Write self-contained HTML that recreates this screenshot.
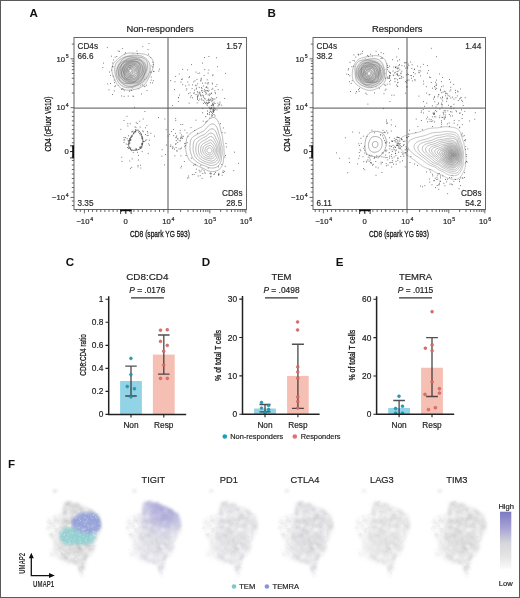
<!DOCTYPE html><html><head><meta charset="utf-8"><style>html,body{margin:0;padding:0;width:520px;height:598px;overflow:hidden;background:#fff}body{position:relative;font-family:"Liberation Sans",sans-serif}.frame{position:absolute;left:0;top:0;width:518px;height:596px;border:1px solid #5a5a5a}</style></head><body><svg width="520" height="598" viewBox="0 0 520 598" style="position:absolute;left:0;top:0;will-change:transform" font-family='"Liberation Sans", sans-serif'>
<rect width="520" height="598" fill="#fff"/>
<defs><radialGradient id="cd4g"><stop offset="0" stop-color="#fff"/><stop offset="0.12" stop-color="#f6f6f6"/><stop offset="0.3" stop-color="#bbb"/><stop offset="0.5" stop-color="#8a8a8a"/><stop offset="0.68" stop-color="#aaa"/><stop offset="0.88" stop-color="#e4e4e4"/><stop offset="1" stop-color="#fff"/></radialGradient></defs>
<text x="29.60" y="17.00" font-size="11.6" text-anchor="start" font-weight="bold" fill="#111"  >A</text>
<text x="267.50" y="17.00" font-size="11.6" text-anchor="start" font-weight="bold" fill="#111"  >B</text>
<text x="65.80" y="266.30" font-size="11.6" text-anchor="start" font-weight="bold" fill="#111"  >C</text>
<text x="201.80" y="266.00" font-size="11.6" text-anchor="start" font-weight="bold" fill="#111"  >D</text>
<text x="335.80" y="266.00" font-size="11.6" text-anchor="start" font-weight="bold" fill="#111"  >E</text>
<text x="8.00" y="468.20" font-size="11.6" text-anchor="start" font-weight="bold" fill="#111"  >F</text>
<text x="160.00" y="31.60" font-size="9.4" text-anchor="middle" font-weight="normal" fill="#222" stroke="#222" stroke-width="0.18" >Non-responders</text>
<rect x="74.0" y="37.5" width="172.5" height="172.0" fill="none" stroke="#666" stroke-width="1"/>
<line x1="168.0" y1="37.5" x2="168.0" y2="209.5" stroke="#555" stroke-width="1"/>
<line x1="74" y1="108.1" x2="246.5" y2="108.1" stroke="#555" stroke-width="1"/>
<text x="77.50" y="49.40" font-size="8.2" text-anchor="start" font-weight="normal" fill="#2a2a2a" stroke="#2a2a2a" stroke-width="0.18" >CD4s</text>
<text x="77.50" y="58.90" font-size="8.2" text-anchor="start" font-weight="normal" fill="#2a2a2a" stroke="#2a2a2a" stroke-width="0.18" >66.6</text>
<text x="242.20" y="49.00" font-size="8.2" text-anchor="end" font-weight="normal" fill="#2a2a2a" stroke="#2a2a2a" stroke-width="0.18" >1.57</text>
<text x="77.50" y="205.70" font-size="8.2" text-anchor="start" font-weight="normal" fill="#2a2a2a" stroke="#2a2a2a" stroke-width="0.18" >3.35</text>
<text x="242.50" y="196.30" font-size="8.2" text-anchor="end" font-weight="normal" fill="#2a2a2a" stroke="#2a2a2a" stroke-width="0.18" >CD8s</text>
<text x="242.20" y="206.20" font-size="8.2" text-anchor="end" font-weight="normal" fill="#2a2a2a" stroke="#2a2a2a" stroke-width="0.18" >28.5</text>
<text x="68.70" y="61.50" font-size="7.7" text-anchor="end" font-weight="normal" fill="#222" stroke="#222" stroke-width="0.18" >10<tspan font-size="5.2" dx="0.7" dy="-3.2">5</tspan></text>
<text x="68.70" y="110.40" font-size="7.7" text-anchor="end" font-weight="normal" fill="#222" stroke="#222" stroke-width="0.18" >10<tspan font-size="5.2" dx="0.7" dy="-3.2">4</tspan></text>
<text x="68.70" y="154.20" font-size="7.7" text-anchor="end" font-weight="normal" fill="#222" stroke="#222" stroke-width="0.18" >0</text>
<text x="68.70" y="200.10" font-size="7.7" text-anchor="end" font-weight="normal" fill="#222" stroke="#222" stroke-width="0.18" >−10<tspan font-size="5.2" dx="0.7" dy="-3.2">4</tspan></text>
<path d="M70.5,58.8H74 M70.5,107.7H74 M70.5,151.5H74 M70.5,197.4H74 M71.8,92.98H74 M71.8,84.37H74 M71.8,78.26H74 M71.8,73.52H74 M71.8,69.65H74 M71.8,66.37H74 M71.8,63.54H74 M71.8,61.04H74 M71.8,44.08H74 M71.8,192.00H74 M71.8,187.50H74 M71.8,183.00H74 M71.8,178.50H74 M71.8,174.00H74 M71.8,169.50H74 M71.8,165.00H74 M71.8,160.50H74 M71.8,156.00H74 M71.8,147.12H74 M71.8,142.74H74 M71.8,138.36H74 M71.8,133.98H74 M71.8,129.60H74 M71.8,125.22H74 M71.8,120.84H74 M71.8,116.46H74 M71.8,112.08H74 M71.8,201.00H74 M71.8,205.50H74" stroke="#444" stroke-width="0.8" fill="none"/>
<rect x="72.2" y="145.5" width="1.8" height="12.6" fill="#111"/>
<path d="M70,145.8H74M70,151.6H74M70,157.9H74" stroke="#111" stroke-width="0.8"/>
<text x="84.70" y="223.80" font-size="7.7" text-anchor="middle" font-weight="normal" fill="#222" stroke="#222" stroke-width="0.18" >−10<tspan font-size="5.2" dx="0.7" dy="-3.2">4</tspan></text>
<text x="125.60" y="223.80" font-size="7.7" text-anchor="middle" font-weight="normal" fill="#222" stroke="#222" stroke-width="0.18" >0</text>
<text x="168.30" y="223.80" font-size="7.7" text-anchor="middle" font-weight="normal" fill="#222" stroke="#222" stroke-width="0.18" >10<tspan font-size="5.2" dx="0.7" dy="-3.2">4</tspan></text>
<text x="210.10" y="223.80" font-size="7.7" text-anchor="middle" font-weight="normal" fill="#222" stroke="#222" stroke-width="0.18" >10<tspan font-size="5.2" dx="0.7" dy="-3.2">5</tspan></text>
<text x="246.10" y="223.80" font-size="7.7" text-anchor="middle" font-weight="normal" fill="#222" stroke="#222" stroke-width="0.18" >10<tspan font-size="5.2" dx="0.7" dy="-3.2">6</tspan></text>
<path d="M84.40,209.5V213.3 M125.40,209.5V213.3 M168.00,209.5V213.3 M209.80,209.5V213.3 M245.80,209.5V213.3 M88.50,209.5V212.0 M92.60,209.5V212.0 M96.70,209.5V212.0 M100.80,209.5V212.0 M104.90,209.5V212.0 M109.00,209.5V212.0 M113.10,209.5V212.0 M117.20,209.5V212.0 M121.30,209.5V212.0 M129.66,209.5V212.0 M133.92,209.5V212.0 M138.18,209.5V212.0 M142.44,209.5V212.0 M146.70,209.5V212.0 M150.96,209.5V212.0 M155.22,209.5V212.0 M159.48,209.5V212.0 M163.74,209.5V212.0 M80.30,209.5V212.0 M76.20,209.5V212.0 M180.58,209.5V212.0 M220.64,209.5V212.0 M187.94,209.5V212.0 M226.98,209.5V212.0 M193.17,209.5V212.0 M231.47,209.5V212.0 M197.22,209.5V212.0 M234.96,209.5V212.0 M200.53,209.5V212.0 M237.81,209.5V212.0 M203.33,209.5V212.0 M240.22,209.5V212.0 M205.75,209.5V212.0 M242.31,209.5V212.0 M207.89,209.5V212.0 M244.15,209.5V212.0" stroke="#444" stroke-width="0.8" fill="none"/>
<rect x="120.3" y="209.5" width="11.2" height="1.7" fill="#111"/>
<path d="M120.6,209.5V214.0M125.9,209.5V214.0M131.1,209.5V214.0" stroke="#111" stroke-width="0.8"/>
<text x="0" y="0" font-size="8.3" text-anchor="middle" fill="#111" stroke="#111" stroke-width="0.25" transform="translate(160,237.4) scale(0.8,1)">CD8 (spark YG 593)</text>
<text x="0" y="0" font-size="8.3" text-anchor="middle" fill="#111" stroke="#111" stroke-width="0.25" transform="translate(50.6,124) rotate(-90) scale(0.795,1)">CD4 (cFluor V610)</text>
<path d="M146.6,77.9h0.01M107.7,84.0h0.01M107.3,47.6h0.01M121.7,96.0h0.01M138.8,88.8h0.01M123.7,89.1h0.01M137.0,51.1h0.01M131.7,90.3h0.01M102.8,67.5h0.01M110.5,83.6h0.01M140.4,85.2h0.01M151.2,77.1h0.01M132.7,53.8h0.01M124.7,54.3h0.01M149.0,43.6h0.01M110.6,75.4h0.01M151.2,80.1h0.01M115.3,85.7h0.01M153.3,80.7h0.01M109.0,89.9h0.01M144.4,79.4h0.01M103.4,63.1h0.01M142.8,46.6h0.01M112.6,94.5h0.01M132.7,88.0h0.01M118.7,85.3h0.01M151.5,65.8h0.01M111.7,70.1h0.01M150.7,57.6h0.01M148.6,54.2h0.01" stroke="#444" stroke-width="0.96" stroke-linecap="round" opacity="0.9"/>
<path d="M190.1,92.9h0.01M209.3,95.4h0.01M201.5,87.6h0.01M199.5,92.3h0.01M196.2,89.1h0.01M203.7,86.0h0.01M205.6,92.2h0.01M218.1,89.6h0.01M193.7,81.9h0.01M197.9,96.2h0.01M194.6,90.2h0.01M216.4,57.8h0.01M186.8,88.7h0.01M202.0,88.6h0.01M193.7,93.2h0.01M200.8,80.3h0.01M222.3,89.9h0.01M192.5,84.9h0.01M195.7,85.3h0.01M170.7,80.6h0.01M208.1,73.1h0.01M197.3,96.5h0.01M206.6,102.4h0.01M181.0,82.1h0.01M194.6,92.9h0.01M208.9,56.5h0.01M208.9,70.1h0.01M204.8,69.6h0.01M199.8,99.1h0.01M196.5,88.1h0.01M206.0,87.6h0.01M197.1,102.9h0.01M208.5,82.8h0.01M225.5,73.4h0.01M207.1,83.1h0.01M199.3,93.8h0.01M200.2,93.0h0.01M182.7,69.4h0.01M204.1,75.4h0.01M187.7,69.8h0.01M210.7,94.2h0.01M212.7,75.7h0.01M198.0,73.5h0.01M205.7,103.5h0.01M189.1,103.2h0.01M207.9,84.0h0.01M178.3,101.5h0.01M197.0,79.4h0.01M202.0,90.5h0.01M213.0,74.8h0.01M209.4,102.4h0.01M212.5,84.0h0.01M190.6,97.2h0.01M199.2,87.4h0.01M212.2,83.1h0.01M175.0,81.7h0.01M179.5,95.0h0.01M201.2,79.3h0.01M197.9,95.2h0.01M198.8,100.6h0.01M197.4,97.4h0.01M212.9,103.7h0.01M191.3,95.7h0.01M179.2,74.1h0.01M178.4,97.8h0.01M185.7,85.9h0.01M196.1,85.7h0.01M192.1,88.6h0.01M215.9,86.5h0.01M203.3,97.0h0.01M196.0,72.1h0.01M192.4,97.8h0.01M181.5,79.4h0.01M208.1,94.7h0.01M198.1,94.9h0.01M199.7,73.0h0.01M182.4,79.0h0.01M207.2,79.8h0.01M189.0,77.5h0.01M182.7,84.7h0.01M186.2,90.0h0.01M174.4,89.6h0.01M191.6,64.6h0.01M205.2,83.0h0.01M175.7,76.4h0.01M200.9,81.0h0.01M205.8,94.2h0.01M204.7,89.6h0.01M211.3,93.3h0.01M202.5,63.1h0.01M207.0,100.4h0.01M195.0,80.8h0.01M217.4,66.7h0.01M202.7,112.7h0.01M188.7,93.6h0.01M216.9,84.7h0.01M203.6,95.9h0.01M188.9,85.0h0.01M200.9,95.1h0.01M197.7,83.9h0.01M187.8,82.1h0.01M206.9,87.1h0.01M189.5,76.7h0.01M224.7,98.5h0.01M204.4,57.5h0.01M204.2,91.3h0.01M214.8,90.7h0.01M197.3,91.7h0.01M178.6,97.4h0.01M201.2,78.3h0.01" stroke="#444" stroke-width="0.96" stroke-linecap="round" opacity="0.9"/>
<path d="M217.0,109.9h0.01M200.6,95.0h0.01M210.7,100.1h0.01M206.6,93.2h0.01M221.7,105.2h0.01M201.8,90.9h0.01M219.2,104.9h0.01M219.9,103.9h0.01M203.8,100.6h0.01M196.0,94.5h0.01M208.6,102.1h0.01M204.6,98.3h0.01M211.8,101.3h0.01M212.8,100.3h0.01M207.1,103.7h0.01M209.3,94.0h0.01M205.2,99.0h0.01M208.3,99.9h0.01M209.0,100.1h0.01M208.2,91.4h0.01M211.5,105.3h0.01M211.6,97.9h0.01M211.7,93.2h0.01M197.6,99.4h0.01M203.4,103.4h0.01M202.5,83.2h0.01M202.8,108.5h0.01M206.7,90.8h0.01M204.4,102.1h0.01M212.0,100.1h0.01M217.9,103.2h0.01M208.9,102.6h0.01M218.9,104.8h0.01M215.1,92.5h0.01M208.1,103.4h0.01M207.2,105.4h0.01M212.6,104.4h0.01M207.7,114.3h0.01M216.4,97.7h0.01M209.5,114.6h0.01M206.9,104.2h0.01M214.9,99.0h0.01M202.0,100.1h0.01M211.2,105.8h0.01M213.7,99.1h0.01M214.1,102.2h0.01M210.2,99.3h0.01M207.5,103.1h0.01M202.7,95.2h0.01M209.0,90.2h0.01M206.4,86.9h0.01M204.9,102.4h0.01M212.4,98.7h0.01M207.6,90.5h0.01M220.0,102.1h0.01M215.6,93.7h0.01M207.9,88.1h0.01M213.7,104.6h0.01M197.6,98.7h0.01M212.8,88.4h0.01M198.0,92.6h0.01M205.2,90.6h0.01M209.2,100.5h0.01M212.8,103.2h0.01M218.0,106.0h0.01M201.1,96.0h0.01M202.6,92.5h0.01M208.5,99.0h0.01M211.9,89.5h0.01M201.6,98.9h0.01" stroke="#444" stroke-width="0.96" stroke-linecap="round" opacity="0.9"/>
<path d="M135.5,130.9h0.01M141.6,144.3h0.01M135.3,131.9h0.01M134.6,107.3h0.01M128.1,140.4h0.01M124.0,142.4h0.01M137.2,123.5h0.01M139.7,147.3h0.01M135.7,129.8h0.01M141.9,143.5h0.01M130.2,123.7h0.01M133.0,131.1h0.01M127.1,138.6h0.01M140.2,135.0h0.01M154.6,136.1h0.01M144.8,141.5h0.01M144.9,111.5h0.01M130.0,143.0h0.01M140.8,168.0h0.01M138.6,155.4h0.01M142.1,151.4h0.01M140.1,127.1h0.01M145.5,127.8h0.01M138.0,165.4h0.01M145.3,140.3h0.01M129.5,143.1h0.01M140.7,148.5h0.01M129.8,161.0h0.01M149.3,140.2h0.01M147.3,131.5h0.01M141.4,134.2h0.01M130.4,148.6h0.01M146.7,139.9h0.01M130.6,149.7h0.01M148.2,153.6h0.01M131.8,167.4h0.01M136.0,149.4h0.01M130.8,139.5h0.01M122.0,161.4h0.01M146.9,125.4h0.01M124.0,120.5h0.01M145.4,134.5h0.01M135.0,126.9h0.01M136.2,122.7h0.01M128.8,141.9h0.01M132.1,158.8h0.01M142.1,138.6h0.01M132.2,131.6h0.01M128.5,135.8h0.01M140.6,165.2h0.01M130.4,140.2h0.01M158.4,117.6h0.01M136.4,149.3h0.01M120.9,129.4h0.01M136.0,127.6h0.01M127.6,147.5h0.01M130.8,147.6h0.01M142.0,143.7h0.01M124.7,139.6h0.01M139.6,133.6h0.01M135.2,149.0h0.01M129.0,147.7h0.01M150.9,133.3h0.01M148.3,143.8h0.01M143.2,131.7h0.01M121.8,157.3h0.01M143.2,119.0h0.01M142.0,138.4h0.01M124.0,137.5h0.01M147.9,133.1h0.01M127.8,123.7h0.01M126.2,144.0h0.01M149.5,145.2h0.01M138.0,166.8h0.01M131.8,131.9h0.01M140.2,146.6h0.01M127.9,126.0h0.01M125.5,137.6h0.01M133.2,152.6h0.01M147.1,135.6h0.01M142.8,130.9h0.01M136.6,149.0h0.01M148.1,135.4h0.01M124.0,140.2h0.01M127.0,116.3h0.01M131.6,150.7h0.01M133.8,132.7h0.01M139.8,121.2h0.01M130.6,139.8h0.01M142.8,138.0h0.01M138.5,132.1h0.01M138.4,160.0h0.01M130.5,168.4h0.01M130.8,140.2h0.01M137.4,152.3h0.01" stroke="#444" stroke-width="0.96" stroke-linecap="round" opacity="0.9"/>
<path d="M164.9,119.0h0.01M181.5,148.0h0.01M181.6,166.3h0.01M177.8,142.5h0.01M184.4,143.7h0.01M191.0,127.6h0.01M172.6,105.6h0.01M183.3,136.3h0.01M184.3,161.5h0.01M175.9,137.5h0.01M171.5,131.6h0.01M170.3,146.4h0.01M176.3,140.7h0.01M174.4,149.1h0.01M180.4,138.6h0.01M182.0,138.5h0.01M165.6,154.6h0.01M180.2,130.4h0.01M185.7,143.4h0.01M161.9,156.1h0.01M179.0,148.9h0.01M177.8,138.5h0.01M162.1,149.7h0.01M176.3,137.1h0.01M179.2,140.8h0.01M182.1,136.3h0.01M175.7,118.6h0.01M172.2,146.8h0.01M188.0,136.4h0.01M174.9,155.8h0.01M173.1,147.3h0.01M187.0,132.9h0.01M177.9,139.2h0.01M177.0,151.3h0.01M197.5,133.3h0.01M170.8,145.0h0.01M166.5,145.0h0.01M181.1,137.2h0.01M180.8,124.5h0.01M182.8,124.6h0.01M169.7,134.4h0.01M172.4,148.6h0.01M176.7,136.0h0.01M180.9,155.8h0.01M176.1,143.7h0.01M187.2,142.7h0.01M164.4,164.9h0.01M195.9,120.2h0.01M175.6,144.2h0.01M184.7,146.7h0.01M173.6,129.5h0.01M176.9,150.3h0.01M166.2,129.7h0.01M175.8,120.6h0.01M173.7,135.6h0.01M180.1,133.0h0.01M168.1,136.1h0.01M175.6,133.4h0.01M176.1,147.5h0.01" stroke="#444" stroke-width="0.96" stroke-linecap="round" opacity="0.9"/>
<path d="M215.0,116.0h0.01M210.0,108.5h0.01M205.8,116.6h0.01M210.2,109.9h0.01M213.3,105.2h0.01M213.2,109.9h0.01M207.4,111.0h0.01M215.0,103.5h0.01M214.0,110.7h0.01M213.2,111.5h0.01M215.3,109.2h0.01M214.2,108.6h0.01M213.8,107.2h0.01M211.7,116.1h0.01M213.1,109.4h0.01M209.1,107.2h0.01M212.5,113.3h0.01M213.1,111.8h0.01M211.9,114.7h0.01M211.0,108.1h0.01M214.2,110.2h0.01M211.3,108.0h0.01M211.4,112.2h0.01M212.9,105.8h0.01M213.1,110.6h0.01M209.5,112.7h0.01M211.3,108.8h0.01M214.0,114.6h0.01M210.3,111.5h0.01M209.8,118.1h0.01" stroke="#222" stroke-width="0.96" stroke-linecap="round" opacity="0.9"/>
<path d="M202.1,178.4h0.01M200.2,175.7h0.01M234.6,152.2h0.01M202.8,173.5h0.01M233.8,170.6h0.01M188.3,176.0h0.01M187.3,178.1h0.01M201.1,171.0h0.01M223.1,170.8h0.01M191.3,158.1h0.01M222.2,175.2h0.01M198.2,176.0h0.01M214.0,174.5h0.01M180.9,167.9h0.01M218.8,175.1h0.01M210.0,173.4h0.01M238.6,163.3h0.01M204.0,170.3h0.01M218.6,166.9h0.01M221.8,164.5h0.01M188.8,177.7h0.01M210.4,176.9h0.01M196.3,169.2h0.01M214.5,173.7h0.01M222.9,172.3h0.01M208.2,168.1h0.01M195.7,164.8h0.01M200.8,165.7h0.01M194.1,174.5h0.01M192.3,174.6h0.01M195.8,172.5h0.01M224.5,171.4h0.01M199.2,170.3h0.01" stroke="#444" stroke-width="0.96" stroke-linecap="round" opacity="0.9"/>
<path d="M117.70,58.60 C119.28,57.18 121.53,55.27 124.00,54.30 C126.47,53.33 129.85,53.05 132.50,52.80 C135.15,52.55 137.43,52.37 139.90,52.80 C142.37,53.23 145.37,54.27 147.30,55.40 C149.23,56.53 150.62,57.83 151.50,59.60 C152.38,61.37 152.60,63.88 152.60,66.00 C152.60,68.12 152.20,70.18 151.50,72.30 C150.80,74.42 149.63,76.75 148.40,78.70 C147.17,80.65 145.70,82.33 144.10,84.00 C142.50,85.67 140.73,87.57 138.80,88.70 C136.87,89.83 134.60,90.53 132.50,90.80 C130.40,91.07 128.32,90.92 126.20,90.30 C124.08,89.68 121.57,88.52 119.80,87.10 C118.03,85.68 116.75,83.73 115.60,81.80 C114.45,79.87 113.35,77.78 112.90,75.50 C112.45,73.22 112.63,70.22 112.90,68.10 C113.17,65.98 113.70,64.38 114.50,62.80 C115.30,61.22 116.12,60.02 117.70,58.60Z" fill="url(#cd4g)" opacity="0.5"/>
<g fill="none" stroke-width="0.5" opacity="1" stroke-linejoin="round"><path d="M111.87,70.70L111.82,69.97L111.81,69.24L111.85,68.50L111.93,67.78L112.07,67.05L112.26,66.34L112.49,65.65L112.77,64.97L113.10,64.32L113.47,63.69L113.87,63.08L114.30,62.50L114.76,61.94L115.24,61.41L115.74,60.90L116.24,60.41L116.75,59.94L117.27,59.49L117.79,59.04L118.30,58.60L118.82,58.18L119.34,57.75L119.86,57.34L120.39,56.92L120.92,56.52L121.46,56.11L122.01,55.72L122.58,55.35L123.15,54.98L123.75,54.64L124.36,54.32L124.98,54.03L125.63,53.77L126.28,53.55L126.95,53.36L127.63,53.20L128.32,53.09L129.01,53.00L129.70,52.95L130.40,52.93L131.10,52.94L131.80,52.96L132.49,53.01L133.19,53.06L133.90,53.13L134.60,53.20L135.32,53.26L136.04,53.33L136.78,53.40L137.54,53.46L138.32,53.52L139.12,53.59L139.95,53.66L140.80,53.73L141.67,53.83L142.57,53.95L143.49,54.10L144.42,54.29L145.36,54.52L146.29,54.81L147.21,55.16L148.11,55.57L148.97,56.06L149.79,56.61L150.54,57.24L151.23,57.94L151.83,58.70L152.35,59.51L152.78,60.38L153.11,61.29L153.34,62.24L153.48,63.20L153.54,64.17L153.51,65.15L153.40,66.13L153.23,67.08L153.00,68.03L152.73,68.94L152.42,69.83L152.09,70.70L151.74,71.54L151.38,72.35L151.02,73.14L150.66,73.91L150.30,74.66L149.95,75.39L149.61,76.12L149.26,76.83L148.93,77.53L148.59,78.23L148.24,78.93L147.89,79.61L147.53,80.29L147.15,80.97L146.76,81.63L146.34,82.28L145.89,82.91L145.42,83.53L144.92,84.12L144.39,84.69L143.83,85.23L143.25,85.74L142.64,86.22L142.00,86.67L141.34,87.08L140.67,87.46L139.98,87.80L139.27,88.12L138.56,88.40L137.84,88.66L137.11,88.89L136.38,89.09L135.64,89.28L134.90,89.44L134.16,89.59L133.41,89.73L132.67,89.85L131.92,89.95L131.16,90.04L130.40,90.11L129.64,90.16L128.87,90.18L128.09,90.18L127.32,90.15L126.54,90.08L125.77,89.98L125.00,89.83L124.25,89.64L123.50,89.41L122.77,89.12L122.06,88.80L121.37,88.42L120.71,88.00L120.08,87.54L119.48,87.04L118.92,86.50L118.39,85.94L117.89,85.34L117.43,84.73L117.00,84.10L116.61,83.45L116.23,82.80L115.89,82.14L115.56,81.48L115.25,80.82L114.96,80.16L114.67,79.51L114.39,78.86L114.13,78.20L113.86,77.55L113.60,76.90L113.35,76.24L113.10,75.58L112.87,74.91L112.65,74.23L112.44,73.54L112.26,72.85L112.10,72.14L111.97,71.42Z" stroke="#787878"/><path d="M114.76,70.70L114.72,70.08L114.70,69.46L114.70,68.84L114.73,68.22L114.79,67.60L114.89,66.98L115.01,66.36L115.18,65.75L115.37,65.16L115.61,64.57L115.87,64.00L116.18,63.45L116.51,62.92L116.87,62.41L117.26,61.92L117.68,61.46L118.12,61.02L118.57,60.60L119.04,60.20L119.53,59.83L120.02,59.48L120.53,59.14L121.04,58.83L121.56,58.53L122.08,58.25L122.61,57.99L123.14,57.74L123.68,57.50L124.21,57.28L124.75,57.07L125.30,56.87L125.85,56.68L126.40,56.51L126.95,56.34L127.51,56.19L128.08,56.05L128.65,55.93L129.23,55.81L129.81,55.71L130.40,55.61L131.00,55.53L131.60,55.46L132.21,55.40L132.83,55.35L133.46,55.31L134.10,55.29L134.75,55.27L135.41,55.27L136.09,55.28L136.77,55.32L137.47,55.37L138.17,55.44L138.89,55.54L139.61,55.67L140.34,55.82L141.07,56.02L141.80,56.24L142.52,56.51L143.23,56.82L143.93,57.17L144.62,57.56L145.27,58.00L145.91,58.47L146.51,59.00L147.08,59.56L147.60,60.16L148.09,60.79L148.53,61.46L148.92,62.16L149.25,62.89L149.54,63.64L149.78,64.40L149.96,65.18L150.09,65.97L150.18,66.77L150.21,67.56L150.19,68.36L150.14,69.15L150.03,69.93L149.89,70.70L149.71,71.46L149.50,72.20L149.26,72.93L148.99,73.64L148.69,74.34L148.36,75.01L148.01,75.67L147.64,76.30L147.26,76.92L146.85,77.51L146.43,78.09L145.99,78.64L145.53,79.18L145.07,79.69L144.59,80.18L144.10,80.66L143.61,81.11L143.10,81.55L142.59,81.97L142.07,82.37L141.54,82.76L141.01,83.13L140.48,83.48L139.94,83.83L139.39,84.16L138.84,84.48L138.29,84.78L137.73,85.08L137.16,85.37L136.59,85.64L136.01,85.90L135.42,86.16L134.83,86.39L134.22,86.62L133.61,86.83L132.98,87.02L132.35,87.19L131.71,87.34L131.06,87.47L130.40,87.58L129.73,87.65L129.06,87.70L128.39,87.71L127.71,87.69L127.03,87.64L126.36,87.55L125.69,87.42L125.02,87.25L124.37,87.04L123.73,86.80L123.11,86.51L122.50,86.20L121.92,85.84L121.36,85.45L120.83,85.03L120.32,84.58L119.83,84.10L119.38,83.60L118.96,83.08L118.56,82.54L118.20,81.98L117.86,81.41L117.55,80.83L117.26,80.25L117.00,79.66L116.76,79.06L116.53,78.47L116.33,77.87L116.14,77.28L115.96,76.68L115.79,76.09L115.64,75.50L115.49,74.90L115.35,74.31L115.23,73.72L115.11,73.12L115.00,72.52L114.91,71.92L114.83,71.31Z" stroke="#747474"/><path d="M116.51,70.70L116.60,70.16L116.73,69.62L116.87,69.10L117.04,68.58L117.23,68.08L117.43,67.59L117.65,67.10L117.87,66.63L118.11,66.17L118.35,65.71L118.60,65.26L118.85,64.82L119.11,64.38L119.36,63.94L119.62,63.50L119.88,63.06L120.15,62.62L120.42,62.17L120.70,61.73L120.99,61.29L121.29,60.85L121.61,60.41L121.95,59.98L122.31,59.57L122.69,59.16L123.09,58.78L123.52,58.41L123.97,58.07L124.44,57.77L124.93,57.49L125.44,57.25L125.96,57.05L126.50,56.88L127.05,56.75L127.61,56.66L128.17,56.60L128.73,56.56L129.29,56.56L129.85,56.58L130.40,56.61L130.95,56.66L131.50,56.72L132.05,56.77L132.60,56.83L133.15,56.89L133.71,56.93L134.27,56.97L134.85,57.00L135.44,57.03L136.06,57.05L136.69,57.07L137.34,57.09L138.01,57.11L138.70,57.16L139.41,57.22L140.13,57.31L140.86,57.43L141.59,57.60L142.31,57.81L143.02,58.08L143.71,58.40L144.37,58.77L144.98,59.21L145.54,59.70L146.04,60.25L146.48,60.84L146.85,61.49L147.15,62.17L147.38,62.87L147.53,63.60L147.61,64.35L147.63,65.10L147.59,65.85L147.50,66.59L147.37,67.33L147.19,68.04L146.99,68.74L146.76,69.41L146.52,70.07L146.27,70.70L146.02,71.31L145.76,71.91L145.51,72.49L145.27,73.05L145.03,73.61L144.79,74.16L144.56,74.69L144.33,75.23L144.11,75.76L143.88,76.28L143.65,76.81L143.41,77.33L143.16,77.85L142.90,78.36L142.63,78.87L142.34,79.37L142.03,79.87L141.70,80.35L141.36,80.83L140.99,81.29L140.61,81.74L140.20,82.18L139.78,82.59L139.33,82.99L138.87,83.38L138.39,83.74L137.90,84.09L137.39,84.41L136.86,84.72L136.32,85.00L135.77,85.27L135.21,85.51L134.64,85.72L134.05,85.92L133.46,86.09L132.86,86.23L132.25,86.35L131.64,86.43L131.02,86.49L130.40,86.52L129.78,86.51L129.16,86.47L128.54,86.40L127.93,86.30L127.32,86.16L126.73,86.00L126.14,85.80L125.57,85.57L125.01,85.31L124.47,85.03L123.94,84.72L123.43,84.39L122.93,84.04L122.45,83.67L122.00,83.28L121.55,82.88L121.13,82.46L120.72,82.03L120.33,81.60L119.95,81.15L119.59,80.69L119.25,80.23L118.92,79.75L118.60,79.27L118.31,78.78L118.02,78.28L117.76,77.78L117.52,77.26L117.29,76.74L117.09,76.21L116.91,75.68L116.76,75.13L116.63,74.58L116.53,74.03L116.45,73.47L116.40,72.92L116.39,72.36L116.40,71.80L116.44,71.25Z" stroke="#707070"/><path d="M118.00,70.70L117.95,70.21L117.92,69.72L117.91,69.22L117.91,68.72L117.94,68.22L118.00,67.72L118.10,67.23L118.22,66.74L118.38,66.27L118.57,65.80L118.80,65.35L119.05,64.92L119.34,64.51L119.65,64.12L119.99,63.75L120.35,63.40L120.72,63.07L121.10,62.76L121.49,62.47L121.89,62.19L122.29,61.93L122.69,61.67L123.09,61.43L123.49,61.18L123.88,60.95L124.28,60.71L124.67,60.48L125.07,60.24L125.47,60.01L125.87,59.77L126.28,59.55L126.70,59.32L127.13,59.10L127.57,58.90L128.01,58.70L128.47,58.52L128.94,58.36L129.42,58.22L129.90,58.09L130.40,57.99L130.90,57.92L131.41,57.86L131.92,57.83L132.44,57.82L132.96,57.83L133.48,57.86L134.01,57.91L134.54,57.97L135.06,58.06L135.59,58.16L136.13,58.27L136.66,58.41L137.20,58.55L137.74,58.71L138.29,58.89L138.84,59.09L139.38,59.31L139.93,59.54L140.48,59.80L141.02,60.08L141.55,60.39L142.07,60.73L142.58,61.10L143.06,61.50L143.53,61.93L143.96,62.39L144.35,62.89L144.71,63.41L145.02,63.96L145.29,64.53L145.51,65.13L145.68,65.74L145.80,66.36L145.87,66.99L145.90,67.62L145.88,68.25L145.83,68.87L145.73,69.49L145.61,70.10L145.46,70.70L145.30,71.29L145.11,71.86L144.91,72.42L144.70,72.97L144.49,73.50L144.27,74.03L144.04,74.55L143.81,75.06L143.58,75.56L143.34,76.06L143.10,76.55L142.85,77.04L142.58,77.52L142.31,78.00L142.02,78.46L141.71,78.92L141.38,79.36L141.04,79.79L140.67,80.19L140.28,80.58L139.87,80.94L139.44,81.28L138.98,81.59L138.51,81.87L138.03,82.12L137.53,82.33L137.02,82.51L136.50,82.67L135.97,82.79L135.45,82.89L134.93,82.97L134.40,83.02L133.89,83.06L133.37,83.09L132.87,83.11L132.37,83.13L131.87,83.15L131.38,83.17L130.89,83.20L130.40,83.23L129.91,83.27L129.41,83.32L128.90,83.37L128.39,83.41L127.86,83.45L127.33,83.49L126.79,83.51L126.24,83.51L125.68,83.48L125.13,83.43L124.57,83.34L124.02,83.22L123.48,83.05L122.96,82.85L122.45,82.60L121.97,82.31L121.51,81.98L121.09,81.60L120.70,81.20L120.34,80.76L120.03,80.29L119.75,79.80L119.51,79.29L119.30,78.76L119.13,78.23L118.98,77.70L118.86,77.16L118.76,76.63L118.67,76.11L118.60,75.59L118.54,75.08L118.48,74.57L118.42,74.08L118.36,73.59L118.30,73.11L118.24,72.63L118.17,72.15L118.11,71.67L118.05,71.19Z" stroke="#6c6c6c"/><path d="M118.90,70.70L118.97,70.25L119.05,69.81L119.15,69.37L119.26,68.94L119.39,68.51L119.54,68.09L119.70,67.68L119.87,67.28L120.05,66.88L120.25,66.50L120.46,66.12L120.68,65.75L120.90,65.38L121.14,65.03L121.39,64.68L121.65,64.34L121.91,64.01L122.19,63.69L122.48,63.38L122.77,63.07L123.08,62.78L123.40,62.50L123.72,62.23L124.06,61.97L124.41,61.73L124.76,61.50L125.13,61.29L125.50,61.08L125.88,60.90L126.27,60.73L126.67,60.58L127.07,60.44L127.47,60.32L127.88,60.21L128.29,60.11L128.71,60.02L129.13,59.95L129.55,59.89L129.97,59.83L130.40,59.78L130.83,59.73L131.27,59.69L131.71,59.66L132.15,59.62L132.61,59.59L133.07,59.56L133.55,59.54L134.03,59.52L134.53,59.51L135.03,59.51L135.55,59.52L136.08,59.55L136.62,59.60L137.16,59.67L137.71,59.76L138.26,59.89L138.80,60.04L139.34,60.23L139.87,60.46L140.38,60.72L140.88,61.01L141.35,61.35L141.79,61.72L142.20,62.12L142.58,62.56L142.92,63.03L143.22,63.52L143.48,64.04L143.70,64.57L143.88,65.12L144.02,65.68L144.12,66.24L144.18,66.81L144.21,67.38L144.21,67.95L144.17,68.52L144.11,69.08L144.02,69.63L143.91,70.17L143.78,70.70L143.63,71.22L143.46,71.73L143.28,72.22L143.08,72.71L142.87,73.18L142.65,73.64L142.41,74.09L142.17,74.52L141.91,74.95L141.65,75.36L141.38,75.76L141.10,76.15L140.81,76.53L140.52,76.90L140.22,77.26L139.91,77.61L139.60,77.95L139.28,78.28L138.96,78.61L138.63,78.93L138.29,79.24L137.95,79.54L137.60,79.84L137.25,80.13L136.89,80.41L136.52,80.69L136.14,80.95L135.76,81.21L135.36,81.46L134.96,81.70L134.54,81.92L134.11,82.13L133.68,82.32L133.23,82.50L132.78,82.65L132.31,82.78L131.84,82.88L131.37,82.97L130.88,83.02L130.40,83.05L129.91,83.05L129.43,83.02L128.95,82.97L128.47,82.89L128.00,82.79L127.53,82.66L127.07,82.52L126.62,82.35L126.17,82.16L125.74,81.95L125.31,81.73L124.90,81.49L124.50,81.24L124.10,80.98L123.72,80.70L123.34,80.42L122.97,80.12L122.62,79.81L122.28,79.49L121.94,79.16L121.62,78.81L121.31,78.46L121.02,78.10L120.74,77.72L120.47,77.33L120.23,76.93L120.00,76.53L119.79,76.11L119.60,75.68L119.42,75.25L119.27,74.80L119.15,74.36L119.04,73.90L118.96,73.45L118.89,72.99L118.85,72.53L118.84,72.07L118.84,71.61L118.86,71.15Z" stroke="#696969"/><path d="M120.79,70.70L120.77,70.32L120.76,69.94L120.74,69.56L120.74,69.17L120.75,68.78L120.76,68.39L120.79,67.99L120.84,67.59L120.90,67.20L120.99,66.80L121.10,66.41L121.23,66.03L121.38,65.65L121.56,65.28L121.76,64.93L121.98,64.58L122.23,64.26L122.49,63.95L122.78,63.66L123.08,63.38L123.40,63.13L123.73,62.89L124.07,62.67L124.42,62.47L124.78,62.28L125.14,62.11L125.50,61.96L125.87,61.81L126.24,61.68L126.62,61.57L126.99,61.46L127.36,61.36L127.74,61.27L128.12,61.18L128.49,61.11L128.87,61.04L129.25,60.98L129.63,60.93L130.01,60.88L130.40,60.84L130.79,60.81L131.18,60.78L131.58,60.77L131.97,60.76L132.38,60.76L132.78,60.77L133.20,60.79L133.61,60.81L134.03,60.86L134.46,60.91L134.88,60.97L135.31,61.06L135.75,61.15L136.18,61.26L136.62,61.39L137.06,61.54L137.49,61.71L137.92,61.89L138.35,62.10L138.77,62.33L139.18,62.59L139.58,62.86L139.96,63.16L140.33,63.48L140.68,63.83L141.01,64.20L141.31,64.59L141.58,65.00L141.83,65.43L142.04,65.88L142.21,66.34L142.36,66.82L142.46,67.30L142.53,67.79L142.56,68.28L142.55,68.78L142.51,69.27L142.44,69.75L142.34,70.23L142.21,70.70L142.06,71.16L141.89,71.60L141.71,72.04L141.51,72.46L141.30,72.87L141.08,73.26L140.86,73.65L140.63,74.02L140.41,74.39L140.18,74.75L139.96,75.11L139.73,75.46L139.51,75.80L139.30,76.15L139.08,76.50L138.86,76.84L138.64,77.19L138.41,77.54L138.18,77.89L137.94,78.24L137.68,78.58L137.42,78.92L137.14,79.26L136.85,79.58L136.54,79.90L136.22,80.20L135.88,80.48L135.52,80.74L135.14,80.98L134.75,81.20L134.34,81.38L133.92,81.54L133.49,81.67L133.06,81.77L132.62,81.84L132.17,81.88L131.73,81.90L131.28,81.89L130.84,81.85L130.40,81.79L129.97,81.71L129.54,81.62L129.12,81.51L128.71,81.39L128.30,81.26L127.90,81.12L127.50,80.97L127.11,80.82L126.73,80.66L126.35,80.49L125.97,80.31L125.60,80.12L125.23,79.93L124.87,79.72L124.52,79.49L124.18,79.26L123.85,79.00L123.54,78.74L123.23,78.45L122.95,78.15L122.68,77.84L122.43,77.50L122.21,77.16L122.00,76.80L121.82,76.44L121.65,76.06L121.51,75.68L121.39,75.29L121.28,74.90L121.20,74.51L121.12,74.12L121.06,73.73L121.01,73.35L120.97,72.96L120.93,72.58L120.90,72.21L120.87,71.83L120.84,71.45L120.82,71.08Z" stroke="#656565"/><path d="M121.71,70.70L121.79,70.36L121.88,70.03L121.97,69.70L122.07,69.38L122.18,69.07L122.29,68.75L122.41,68.45L122.53,68.14L122.66,67.84L122.79,67.55L122.93,67.25L123.07,66.96L123.21,66.68L123.37,66.39L123.53,66.11L123.69,65.83L123.87,65.55L124.05,65.28L124.25,65.01L124.45,64.75L124.67,64.50L124.89,64.25L125.13,64.01L125.38,63.79L125.63,63.57L125.90,63.36L126.18,63.17L126.47,62.98L126.76,62.81L127.07,62.66L127.38,62.52L127.70,62.39L128.02,62.27L128.35,62.16L128.68,62.07L129.02,61.99L129.36,61.91L129.70,61.85L130.05,61.79L130.40,61.74L130.75,61.70L131.11,61.66L131.47,61.62L131.84,61.59L132.22,61.57L132.60,61.55L132.98,61.54L133.38,61.53L133.78,61.54L134.19,61.55L134.60,61.58L135.02,61.63L135.44,61.70L135.86,61.78L136.28,61.90L136.70,62.03L137.10,62.20L137.50,62.39L137.88,62.61L138.24,62.86L138.58,63.14L138.89,63.45L139.18,63.78L139.43,64.14L139.66,64.51L139.85,64.91L140.01,65.32L140.14,65.74L140.24,66.16L140.31,66.59L140.36,67.03L140.38,67.46L140.39,67.88L140.37,68.31L140.34,68.72L140.29,69.13L140.24,69.54L140.18,69.93L140.11,70.32L140.04,70.70L139.96,71.08L139.88,71.45L139.79,71.81L139.71,72.17L139.62,72.53L139.52,72.89L139.42,73.24L139.31,73.60L139.20,73.95L139.07,74.29L138.94,74.64L138.80,74.98L138.64,75.32L138.48,75.65L138.30,75.98L138.10,76.30L137.90,76.61L137.68,76.91L137.44,77.21L137.19,77.49L136.93,77.76L136.66,78.03L136.37,78.27L136.07,78.51L135.76,78.73L135.44,78.93L135.12,79.12L134.78,79.29L134.43,79.45L134.08,79.59L133.73,79.72L133.37,79.83L133.00,79.92L132.63,80.00L132.26,80.06L131.89,80.10L131.52,80.14L131.14,80.15L130.77,80.16L130.40,80.15L130.03,80.13L129.66,80.10L129.29,80.05L128.93,80.00L128.56,79.93L128.20,79.85L127.84,79.76L127.49,79.67L127.13,79.56L126.78,79.44L126.43,79.31L126.09,79.17L125.74,79.01L125.41,78.85L125.08,78.67L124.75,78.47L124.44,78.27L124.13,78.04L123.83,77.80L123.55,77.55L123.28,77.28L123.02,77.00L122.79,76.70L122.56,76.39L122.36,76.07L122.18,75.74L122.02,75.39L121.88,75.04L121.76,74.68L121.67,74.32L121.59,73.95L121.53,73.58L121.50,73.21L121.48,72.84L121.48,72.47L121.50,72.11L121.53,71.75L121.58,71.39L121.64,71.04Z" stroke="#616161"/><path d="M122.90,70.70L122.85,70.40L122.81,70.10L122.78,69.80L122.77,69.49L122.78,69.18L122.80,68.88L122.85,68.57L122.91,68.27L123.00,67.97L123.10,67.68L123.22,67.39L123.37,67.12L123.52,66.85L123.70,66.59L123.88,66.35L124.08,66.11L124.29,65.89L124.51,65.67L124.74,65.47L124.97,65.27L125.20,65.08L125.44,64.90L125.69,64.72L125.93,64.55L126.18,64.39L126.43,64.23L126.69,64.08L126.95,63.93L127.21,63.79L127.48,63.65L127.75,63.52L128.03,63.40L128.31,63.29L128.60,63.18L128.89,63.09L129.18,63.01L129.48,62.94L129.78,62.88L130.09,62.83L130.40,62.80L130.71,62.77L131.03,62.76L131.34,62.75L131.66,62.76L131.98,62.77L132.30,62.80L132.62,62.83L132.94,62.88L133.27,62.93L133.59,62.99L133.92,63.06L134.25,63.14L134.58,63.23L134.91,63.34L135.24,63.46L135.57,63.59L135.89,63.74L136.20,63.90L136.51,64.09L136.81,64.29L137.10,64.51L137.37,64.75L137.63,65.00L137.87,65.28L138.08,65.57L138.28,65.87L138.45,66.19L138.60,66.52L138.72,66.86L138.83,67.21L138.90,67.56L138.96,67.92L139.00,68.28L139.02,68.63L139.02,68.99L139.01,69.34L138.98,69.68L138.95,70.03L138.91,70.37L138.86,70.70L138.81,71.03L138.76,71.36L138.70,71.68L138.63,72.00L138.57,72.32L138.50,72.64L138.42,72.96L138.34,73.28L138.25,73.60L138.16,73.91L138.05,74.23L137.94,74.54L137.81,74.85L137.66,75.15L137.50,75.45L137.33,75.74L137.14,76.01L136.94,76.28L136.72,76.54L136.48,76.78L136.23,77.01L135.97,77.22L135.70,77.42L135.41,77.60L135.12,77.77L134.82,77.92L134.52,78.05L134.21,78.17L133.90,78.28L133.58,78.38L133.27,78.47L132.95,78.54L132.63,78.62L132.32,78.68L132.00,78.74L131.68,78.79L131.36,78.84L131.04,78.89L130.72,78.93L130.40,78.97L130.07,78.99L129.75,79.01L129.41,79.02L129.08,79.02L128.75,79.00L128.41,78.97L128.08,78.92L127.75,78.85L127.42,78.76L127.11,78.65L126.79,78.52L126.49,78.37L126.21,78.19L125.93,77.99L125.67,77.77L125.43,77.54L125.21,77.29L125.00,77.02L124.81,76.74L124.64,76.46L124.49,76.16L124.35,75.86L124.23,75.56L124.12,75.26L124.02,74.96L123.93,74.66L123.85,74.37L123.77,74.08L123.70,73.79L123.63,73.51L123.55,73.23L123.48,72.95L123.40,72.67L123.33,72.40L123.25,72.12L123.17,71.84L123.10,71.56L123.03,71.28L122.96,70.99Z" stroke="#5e5e5e"/><path d="M123.92,70.70L123.94,70.45L123.97,70.19L124.01,69.94L124.05,69.69L124.10,69.45L124.16,69.20L124.22,68.96L124.29,68.71L124.36,68.47L124.45,68.23L124.54,68.00L124.64,67.76L124.75,67.53L124.86,67.31L124.99,67.08L125.12,66.87L125.27,66.65L125.42,66.45L125.58,66.25L125.75,66.05L125.93,65.86L126.12,65.69L126.31,65.52L126.52,65.36L126.73,65.20L126.94,65.06L127.17,64.93L127.40,64.81L127.63,64.70L127.87,64.59L128.11,64.50L128.36,64.42L128.61,64.35L128.86,64.28L129.11,64.23L129.37,64.18L129.62,64.14L129.88,64.11L130.14,64.08L130.40,64.06L130.66,64.04L130.92,64.03L131.19,64.03L131.46,64.03L131.73,64.03L132.00,64.04L132.27,64.06L132.55,64.08L132.83,64.11L133.11,64.15L133.40,64.20L133.68,64.26L133.97,64.33L134.25,64.42L134.53,64.51L134.81,64.63L135.08,64.76L135.35,64.90L135.61,65.06L135.86,65.24L136.10,65.43L136.32,65.64L136.53,65.86L136.73,66.10L136.91,66.35L137.08,66.61L137.23,66.87L137.37,67.15L137.49,67.43L137.60,67.72L137.69,68.01L137.77,68.30L137.84,68.60L137.89,68.90L137.93,69.20L137.96,69.50L137.98,69.80L137.99,70.10L137.99,70.40L137.97,70.70L137.95,71.00L137.92,71.29L137.87,71.58L137.81,71.87L137.74,72.16L137.66,72.44L137.57,72.72L137.47,73.00L137.35,73.27L137.23,73.53L137.09,73.78L136.94,74.03L136.78,74.27L136.61,74.50L136.43,74.73L136.24,74.94L136.04,75.15L135.84,75.35L135.63,75.53L135.41,75.71L135.19,75.88L134.96,76.04L134.73,76.19L134.50,76.34L134.26,76.47L134.02,76.60L133.77,76.73L133.53,76.84L133.28,76.95L133.03,77.05L132.78,77.15L132.52,77.24L132.27,77.32L132.01,77.39L131.74,77.46L131.48,77.52L131.21,77.57L130.94,77.61L130.67,77.65L130.40,77.67L130.13,77.69L129.85,77.69L129.57,77.68L129.30,77.66L129.02,77.63L128.75,77.59L128.47,77.53L128.20,77.47L127.93,77.39L127.67,77.30L127.41,77.19L127.15,77.08L126.90,76.95L126.66,76.81L126.42,76.66L126.19,76.50L125.97,76.32L125.75,76.14L125.55,75.94L125.36,75.74L125.18,75.53L125.01,75.30L124.85,75.07L124.71,74.84L124.57,74.59L124.45,74.35L124.34,74.09L124.25,73.83L124.16,73.57L124.09,73.31L124.03,73.05L123.98,72.78L123.95,72.52L123.92,72.26L123.90,71.99L123.89,71.73L123.88,71.47L123.89,71.21L123.90,70.96Z" stroke="#5a5a5a"/><path d="M124.85,70.70L124.85,70.48L124.86,70.26L124.88,70.05L124.90,69.83L124.93,69.61L124.97,69.40L125.01,69.18L125.06,68.97L125.12,68.75L125.19,68.54L125.27,68.33L125.36,68.13L125.45,67.93L125.56,67.74L125.68,67.55L125.81,67.37L125.95,67.19L126.10,67.03L126.26,66.87L126.43,66.73L126.60,66.59L126.79,66.47L126.97,66.35L127.17,66.25L127.36,66.15L127.56,66.07L127.76,65.99L127.97,65.93L128.17,65.87L128.38,65.81L128.58,65.76L128.78,65.72L128.98,65.68L129.19,65.64L129.39,65.61L129.59,65.57L129.79,65.54L129.99,65.51L130.19,65.47L130.40,65.44L130.61,65.40L130.82,65.36L131.04,65.33L131.26,65.29L131.48,65.26L131.71,65.23L131.95,65.21L132.19,65.19L132.43,65.18L132.68,65.18L132.94,65.19L133.19,65.22L133.45,65.25L133.71,65.31L133.96,65.37L134.21,65.46L134.45,65.56L134.69,65.68L134.91,65.82L135.13,65.97L135.33,66.15L135.52,66.33L135.69,66.53L135.85,66.74L135.99,66.96L136.12,67.19L136.24,67.43L136.34,67.67L136.42,67.92L136.50,68.17L136.56,68.43L136.62,68.68L136.66,68.93L136.69,69.19L136.72,69.44L136.73,69.70L136.74,69.95L136.75,70.20L136.74,70.45L136.72,70.70L136.70,70.95L136.67,71.19L136.63,71.44L136.58,71.68L136.52,71.92L136.45,72.15L136.37,72.38L136.28,72.61L136.18,72.83L136.07,73.05L135.95,73.26L135.82,73.46L135.68,73.66L135.54,73.85L135.39,74.03L135.23,74.21L135.06,74.37L134.89,74.53L134.71,74.69L134.53,74.83L134.35,74.97L134.16,75.11L133.98,75.24L133.78,75.36L133.59,75.48L133.40,75.59L133.20,75.70L133.00,75.80L132.80,75.90L132.59,75.99L132.39,76.08L132.18,76.17L131.96,76.24L131.75,76.31L131.53,76.38L131.31,76.43L131.08,76.48L130.86,76.52L130.63,76.55L130.40,76.57L130.17,76.57L129.94,76.57L129.71,76.56L129.48,76.53L129.25,76.50L129.02,76.45L128.79,76.40L128.57,76.33L128.35,76.26L128.13,76.17L127.92,76.08L127.71,75.98L127.51,75.86L127.31,75.74L127.12,75.61L126.93,75.48L126.75,75.33L126.57,75.18L126.41,75.02L126.25,74.85L126.10,74.68L125.95,74.50L125.82,74.31L125.69,74.12L125.58,73.92L125.47,73.72L125.37,73.52L125.29,73.31L125.21,73.09L125.14,72.88L125.07,72.66L125.02,72.45L124.98,72.23L124.94,72.01L124.91,71.79L124.88,71.57L124.87,71.35L124.85,71.14L124.85,70.92Z" stroke="#565656"/><path d="M125.93,70.70L125.95,70.53L125.97,70.35L126.00,70.18L126.04,70.01L126.08,69.84L126.12,69.67L126.17,69.51L126.23,69.34L126.28,69.18L126.35,69.02L126.41,68.86L126.48,68.70L126.56,68.55L126.63,68.39L126.72,68.24L126.81,68.09L126.90,67.94L127.00,67.80L127.10,67.65L127.22,67.52L127.33,67.38L127.45,67.25L127.58,67.13L127.72,67.01L127.86,66.89L128.00,66.79L128.15,66.69L128.31,66.60L128.47,66.51L128.64,66.44L128.80,66.37L128.98,66.32L129.15,66.27L129.33,66.23L129.51,66.20L129.68,66.18L129.86,66.17L130.04,66.16L130.22,66.16L130.40,66.16L130.58,66.17L130.76,66.18L130.93,66.20L131.11,66.22L131.29,66.24L131.46,66.27L131.64,66.29L131.82,66.32L132.00,66.35L132.19,66.39L132.37,66.43L132.56,66.47L132.74,66.51L132.93,66.57L133.12,66.62L133.31,66.69L133.51,66.76L133.69,66.84L133.88,66.94L134.06,67.04L134.24,67.15L134.41,67.27L134.57,67.41L134.73,67.56L134.87,67.71L135.00,67.88L135.12,68.06L135.22,68.24L135.31,68.43L135.39,68.63L135.45,68.84L135.50,69.04L135.53,69.25L135.55,69.46L135.56,69.67L135.56,69.88L135.54,70.09L135.51,70.30L135.48,70.50L135.44,70.70L135.39,70.90L135.33,71.09L135.27,71.28L135.20,71.46L135.14,71.64L135.06,71.82L134.99,71.99L134.91,72.17L134.83,72.34L134.75,72.50L134.67,72.67L134.58,72.83L134.49,72.99L134.40,73.15L134.30,73.31L134.21,73.47L134.10,73.62L134.00,73.77L133.89,73.92L133.77,74.07L133.65,74.22L133.52,74.36L133.39,74.49L133.25,74.63L133.11,74.75L132.96,74.87L132.80,74.99L132.64,75.09L132.47,75.19L132.30,75.28L132.12,75.36L131.94,75.43L131.75,75.49L131.56,75.54L131.37,75.58L131.18,75.60L130.98,75.62L130.79,75.62L130.59,75.62L130.40,75.60L130.21,75.58L130.02,75.54L129.83,75.50L129.65,75.45L129.47,75.40L129.29,75.34L129.11,75.27L128.94,75.19L128.77,75.12L128.60,75.03L128.44,74.95L128.28,74.86L128.12,74.76L127.97,74.67L127.82,74.56L127.67,74.46L127.52,74.35L127.38,74.23L127.25,74.11L127.11,73.99L126.98,73.86L126.86,73.72L126.74,73.58L126.63,73.44L126.53,73.29L126.43,73.13L126.34,72.97L126.26,72.81L126.19,72.64L126.13,72.47L126.07,72.30L126.02,72.12L125.98,71.95L125.95,71.77L125.93,71.59L125.92,71.41L125.91,71.23L125.91,71.05L125.92,70.88Z" stroke="#535353"/><path d="M127.09,70.70L127.10,70.57L127.10,70.44L127.11,70.31L127.12,70.18L127.12,70.05L127.13,69.91L127.14,69.78L127.15,69.64L127.16,69.50L127.18,69.36L127.20,69.22L127.23,69.08L127.26,68.94L127.31,68.81L127.37,68.67L127.43,68.54L127.50,68.42L127.59,68.30L127.68,68.19L127.78,68.08L127.89,67.99L128.01,67.90L128.13,67.82L128.26,67.76L128.39,67.70L128.53,67.65L128.67,67.61L128.81,67.57L128.95,67.55L129.08,67.52L129.22,67.51L129.36,67.49L129.49,67.48L129.62,67.47L129.76,67.46L129.89,67.45L130.01,67.44L130.14,67.43L130.27,67.41L130.40,67.40L130.53,67.38L130.66,67.37L130.80,67.35L130.93,67.34L131.07,67.33L131.21,67.32L131.36,67.31L131.50,67.31L131.65,67.31L131.80,67.32L131.95,67.33L132.10,67.36L132.26,67.39L132.41,67.43L132.55,67.48L132.70,67.53L132.84,67.60L132.98,67.68L133.12,67.76L133.25,67.85L133.37,67.95L133.49,68.06L133.61,68.17L133.72,68.29L133.82,68.42L133.92,68.55L134.01,68.68L134.09,68.82L134.17,68.96L134.24,69.11L134.30,69.26L134.35,69.42L134.40,69.57L134.44,69.73L134.47,69.89L134.48,70.05L134.49,70.22L134.49,70.38L134.48,70.54L134.45,70.70L134.42,70.86L134.37,71.01L134.32,71.16L134.26,71.31L134.19,71.45L134.11,71.59L134.02,71.72L133.94,71.85L133.84,71.97L133.75,72.09L133.65,72.20L133.56,72.31L133.46,72.42L133.37,72.52L133.27,72.62L133.18,72.72L133.09,72.82L133.00,72.92L132.92,73.03L132.83,73.13L132.75,73.24L132.66,73.35L132.57,73.46L132.48,73.57L132.39,73.68L132.29,73.79L132.19,73.89L132.08,74.00L131.97,74.10L131.85,74.20L131.72,74.28L131.59,74.36L131.45,74.43L131.31,74.49L131.16,74.54L131.01,74.57L130.86,74.59L130.71,74.60L130.55,74.60L130.40,74.59L130.25,74.56L130.10,74.53L129.95,74.49L129.81,74.44L129.67,74.38L129.53,74.32L129.40,74.26L129.26,74.19L129.14,74.13L129.01,74.06L128.88,73.99L128.76,73.92L128.64,73.84L128.52,73.77L128.40,73.70L128.28,73.62L128.16,73.54L128.05,73.45L127.94,73.36L127.83,73.27L127.73,73.17L127.63,73.07L127.54,72.96L127.45,72.84L127.37,72.72L127.31,72.60L127.25,72.47L127.19,72.33L127.15,72.20L127.12,72.06L127.09,71.92L127.07,71.78L127.06,71.64L127.06,71.50L127.06,71.37L127.06,71.23L127.07,71.09L127.07,70.96L127.08,70.83Z" stroke="#4f4f4f"/><path d="M127.97,70.70L127.96,70.60L127.96,70.51L127.96,70.41L127.96,70.31L127.97,70.22L127.98,70.12L128.00,70.02L128.02,69.93L128.05,69.83L128.09,69.74L128.12,69.65L128.17,69.56L128.21,69.48L128.26,69.39L128.32,69.31L128.37,69.23L128.43,69.15L128.50,69.07L128.56,69.00L128.63,68.93L128.70,68.86L128.77,68.79L128.84,68.72L128.92,68.66L128.99,68.60L129.07,68.54L129.16,68.48L129.24,68.42L129.33,68.37L129.42,68.33L129.51,68.29L129.60,68.25L129.70,68.22L129.80,68.19L129.90,68.17L130.00,68.16L130.10,68.15L130.20,68.15L130.30,68.15L130.40,68.16L130.50,68.17L130.60,68.19L130.69,68.21L130.79,68.24L130.88,68.26L130.98,68.29L131.07,68.32L131.16,68.36L131.25,68.39L131.34,68.42L131.44,68.45L131.53,68.48L131.62,68.52L131.72,68.55L131.82,68.58L131.91,68.61L132.02,68.65L132.12,68.69L132.22,68.73L132.33,68.77L132.43,68.82L132.53,68.88L132.63,68.94L132.73,69.01L132.82,69.08L132.91,69.16L132.99,69.25L133.06,69.35L133.12,69.45L133.17,69.55L133.21,69.66L133.25,69.78L133.27,69.89L133.28,70.01L133.28,70.13L133.27,70.25L133.25,70.36L133.23,70.48L133.20,70.59L133.16,70.70L133.12,70.81L133.08,70.91L133.04,71.01L132.99,71.11L132.94,71.21L132.89,71.30L132.85,71.39L132.80,71.48L132.76,71.57L132.71,71.66L132.67,71.75L132.63,71.84L132.59,71.92L132.54,72.01L132.50,72.10L132.45,72.19L132.41,72.28L132.35,72.37L132.30,72.46L132.24,72.54L132.18,72.63L132.12,72.71L132.05,72.79L131.97,72.87L131.90,72.94L131.81,73.01L131.73,73.07L131.64,73.13L131.54,73.18L131.45,73.22L131.35,73.26L131.24,73.30L131.14,73.33L131.04,73.35L130.93,73.37L130.82,73.38L130.72,73.39L130.61,73.40L130.51,73.39L130.40,73.39L130.29,73.38L130.19,73.37L130.09,73.36L129.98,73.34L129.88,73.31L129.78,73.29L129.68,73.26L129.58,73.22L129.48,73.18L129.39,73.14L129.30,73.10L129.21,73.04L129.12,72.99L129.03,72.93L128.95,72.87L128.87,72.80L128.80,72.73L128.73,72.65L128.67,72.58L128.61,72.49L128.55,72.41L128.49,72.33L128.45,72.24L128.40,72.15L128.36,72.07L128.32,71.98L128.28,71.89L128.25,71.80L128.21,71.71L128.18,71.62L128.15,71.53L128.13,71.44L128.10,71.35L128.08,71.26L128.05,71.17L128.03,71.07L128.01,70.98L128.00,70.89L127.98,70.80Z" stroke="#4b4b4b"/><path d="M128.86,70.70L128.87,70.64L128.88,70.58L128.89,70.52L128.91,70.46L128.93,70.41L128.95,70.35L128.97,70.30L129.00,70.24L129.03,70.19L129.05,70.14L129.08,70.09L129.11,70.04L129.14,70.00L129.17,69.95L129.21,69.90L129.24,69.85L129.27,69.81L129.30,69.76L129.33,69.71L129.37,69.67L129.40,69.62L129.44,69.58L129.48,69.53L129.52,69.49L129.56,69.44L129.60,69.40L129.65,69.36L129.70,69.33L129.75,69.29L129.81,69.27L129.86,69.24L129.92,69.22L129.98,69.20L130.04,69.19L130.10,69.18L130.16,69.18L130.22,69.18L130.28,69.18L130.34,69.19L130.40,69.19L130.46,69.21L130.52,69.22L130.57,69.23L130.63,69.25L130.69,69.27L130.74,69.28L130.80,69.30L130.85,69.31L130.91,69.33L130.96,69.34L131.02,69.35L131.08,69.37L131.14,69.38L131.20,69.40L131.26,69.41L131.33,69.43L131.39,69.44L131.45,69.47L131.52,69.49L131.58,69.52L131.65,69.55L131.71,69.58L131.77,69.62L131.82,69.67L131.87,69.71L131.92,69.77L131.96,69.82L132.00,69.88L132.03,69.95L132.06,70.01L132.08,70.08L132.09,70.15L132.10,70.22L132.10,70.29L132.10,70.36L132.09,70.43L132.08,70.50L132.07,70.57L132.05,70.64L132.03,70.70L132.01,70.76L131.99,70.83L131.97,70.89L131.94,70.94L131.92,71.00L131.90,71.06L131.87,71.12L131.85,71.17L131.82,71.23L131.80,71.28L131.77,71.33L131.75,71.39L131.72,71.44L131.69,71.49L131.66,71.54L131.63,71.60L131.60,71.65L131.57,71.70L131.53,71.75L131.50,71.80L131.46,71.84L131.42,71.89L131.37,71.93L131.33,71.98L131.28,72.02L131.23,72.06L131.18,72.09L131.13,72.13L131.07,72.16L131.02,72.19L130.96,72.22L130.90,72.25L130.84,72.27L130.78,72.29L130.72,72.30L130.66,72.31L130.59,72.32L130.53,72.33L130.46,72.33L130.40,72.33L130.34,72.32L130.27,72.31L130.21,72.30L130.15,72.29L130.09,72.27L130.03,72.25L129.97,72.22L129.91,72.19L129.86,72.16L129.81,72.13L129.76,72.10L129.71,72.06L129.66,72.03L129.61,71.99L129.57,71.95L129.52,71.91L129.48,71.87L129.44,71.83L129.40,71.78L129.36,71.74L129.32,71.70L129.28,71.66L129.24,71.61L129.20,71.57L129.17,71.52L129.13,71.48L129.10,71.43L129.06,71.38L129.03,71.33L129.00,71.28L128.98,71.23L128.95,71.17L128.93,71.12L128.91,71.06L128.89,71.00L128.88,70.94L128.87,70.88L128.86,70.82L128.86,70.76Z" stroke="#484848"/></g>
<path d="M128.2,96.1h0.01M153.2,64.6h0.01M152.5,66.9h0.01M116.8,56.5h0.01M113.7,59.9h0.01M150.9,72.0h0.01M142.8,85.0h0.01M133.0,96.1h0.01M150.9,72.2h0.01M154.0,71.3h0.01M113.1,76.2h0.01M114.3,90.9h0.01M133.3,96.4h0.01M122.3,48.6h0.01M159.6,69.2h0.01M114.2,80.1h0.01M124.1,96.4h0.01M112.7,63.0h0.01M129.6,91.2h0.01M114.6,82.7h0.01M122.4,88.9h0.01M158.8,71.1h0.01M125.6,52.8h0.01M153.4,71.6h0.01M112.7,66.5h0.01M118.1,51.0h0.01M141.4,94.0h0.01M119.6,51.4h0.01M115.1,57.2h0.01M144.2,86.6h0.01M114.9,86.6h0.01M152.6,82.9h0.01M111.6,56.2h0.01M145.0,86.2h0.01M124.2,90.8h0.01M109.4,72.0h0.01M148.0,49.6h0.01M152.8,62.2h0.01M131.2,90.3h0.01M121.6,89.4h0.01M147.0,90.6h0.01M150.6,82.8h0.01M137.5,53.6h0.01M112.9,66.9h0.01M146.5,85.1h0.01" stroke="#444" stroke-width="0.96" stroke-linecap="round" opacity="0.9"/>
<path d="M138.40,130.20 C139.52,130.77 140.97,133.58 141.70,135.60 C142.43,137.62 143.02,140.17 142.80,142.30 C142.58,144.43 141.82,147.05 140.40,148.40 C138.98,149.75 136.10,150.40 134.30,150.40 C132.50,150.40 130.50,149.75 129.60,148.40 C128.70,147.05 128.45,144.43 128.90,142.30 C129.35,140.17 131.28,137.28 132.30,135.60 C133.32,133.92 133.98,133.10 135.00,132.20 C136.02,131.30 137.28,129.63 138.40,130.20Z" fill="none" stroke="#444" stroke-width="0.75" opacity="1"/>
<path d="M143.7,141.6h0.01M131.9,136.5h0.01M140.6,147.6h0.01M129.3,140.9h0.01M131.1,137.2h0.01M134.5,131.7h0.01M142.2,144.9h0.01M142.0,146.9h0.01M131.3,135.7h0.01M135.6,131.5h0.01M130.6,137.3h0.01M128.7,148.6h0.01M141.9,136.8h0.01M129.1,140.5h0.01M142.6,143.7h0.01M141.3,147.9h0.01M127.9,144.4h0.01M135.9,129.9h0.01M129.7,139.2h0.01M142.0,137.0h0.01M129.7,138.6h0.01M129.2,140.5h0.01M128.8,143.8h0.01M133.4,133.1h0.01M143.4,141.3h0.01" stroke="#444" stroke-width="0.96" stroke-linecap="round" opacity="0.9"/>
<g fill="none" stroke-width="0.6" opacity="1" stroke-linejoin="round"><path d="M185.85,150.50L185.76,149.57L185.72,148.63L185.73,147.69L185.79,146.74L185.86,145.80L185.95,144.85L186.05,143.89L186.14,142.91L186.23,141.91L186.34,140.91L186.48,139.89L186.68,138.87L186.97,137.88L187.35,136.93L187.85,136.03L188.45,135.20L189.14,134.45L189.91,133.77L190.73,133.15L191.57,132.57L192.43,132.03L193.27,131.50L194.11,130.98L194.94,130.46L195.77,129.94L196.60,129.45L197.45,128.98L198.31,128.55L199.19,128.13L200.07,127.72L200.94,127.29L201.80,126.79L202.64,126.19L203.49,125.45L204.34,124.55L205.22,123.51L206.17,122.35L207.19,121.13L208.30,119.95L209.50,118.90L210.77,118.08L212.09,117.58L213.41,117.46L214.69,117.76L215.87,118.46L216.94,119.53L217.85,120.89L218.62,122.44L219.24,124.11L219.74,125.78L220.15,127.40L220.51,128.90L220.83,130.27L221.14,131.51L221.44,132.63L221.74,133.65L222.02,134.62L222.26,135.56L222.47,136.47L222.62,137.38L222.73,138.27L222.81,139.13L222.86,139.97L222.91,140.76L222.97,141.50L223.05,142.20L223.16,142.85L223.29,143.48L223.43,144.08L223.58,144.67L223.71,145.26L223.81,145.85L223.88,146.44L223.92,147.04L223.94,147.63L223.94,148.21L223.94,148.79L223.94,149.36L223.97,149.93L224.01,150.50L224.06,151.07L224.11,151.65L224.16,152.23L224.18,152.83L224.18,153.42L224.14,154.01L224.08,154.61L223.99,155.21L223.90,155.81L223.80,156.42L223.71,157.05L223.64,157.70L223.57,158.38L223.52,159.09L223.46,159.83L223.40,160.60L223.31,161.39L223.19,162.19L223.02,163.00L222.81,163.81L222.55,164.62L222.23,165.40L221.85,166.17L221.42,166.91L220.93,167.61L220.39,168.28L219.80,168.89L219.16,169.46L218.47,169.96L217.74,170.40L216.98,170.76L216.18,171.06L215.37,171.30L214.53,171.47L213.69,171.57L212.84,171.62L212.00,171.60L211.15,171.53L210.32,171.39L209.50,171.20L208.70,170.96L207.91,170.66L207.15,170.33L206.42,169.97L205.70,169.60L205.00,169.22L204.32,168.86L203.65,168.52L202.97,168.20L202.29,167.90L201.61,167.61L200.92,167.34L200.23,167.06L199.53,166.76L198.84,166.45L198.15,166.12L197.47,165.76L196.78,165.39L196.10,165.00L195.41,164.59L194.71,164.17L193.99,163.74L193.27,163.30L192.54,162.82L191.82,162.31L191.12,161.76L190.45,161.17L189.84,160.52L189.28,159.82L188.78,159.08L188.34,158.31L187.94,157.50L187.59,156.68L187.27,155.84L186.97,154.98L186.68,154.11L186.42,153.23L186.19,152.33L186.00,151.42Z" stroke="#8a8a8a"/><path d="M190.18,150.50L190.07,149.74L190.00,148.97L189.97,148.19L189.96,147.41L189.99,146.62L190.02,145.82L190.06,145.02L190.11,144.20L190.18,143.37L190.26,142.53L190.38,141.69L190.56,140.85L190.80,140.03L191.14,139.25L191.57,138.52L192.08,137.84L192.67,137.23L193.32,136.68L194.02,136.19L194.73,135.73L195.46,135.31L196.17,134.89L196.88,134.49L197.58,134.09L198.27,133.70L198.97,133.32L199.68,132.96L200.39,132.62L201.11,132.29L201.82,131.97L202.54,131.62L203.24,131.23L203.93,130.75L204.62,130.17L205.32,129.47L206.04,128.66L206.81,127.76L207.64,126.82L208.53,125.90L209.50,125.08L210.52,124.43L211.58,124.03L212.65,123.92L213.68,124.12L214.64,124.64L215.52,125.44L216.28,126.46L216.93,127.64L217.46,128.91L217.91,130.20L218.29,131.44L218.62,132.61L218.92,133.68L219.21,134.65L219.50,135.54L219.77,136.36L220.03,137.14L220.27,137.89L220.47,138.63L220.64,139.36L220.76,140.09L220.87,140.79L220.95,141.48L221.03,142.13L221.11,142.74L221.21,143.32L221.33,143.88L221.46,144.41L221.60,144.92L221.74,145.43L221.86,145.94L221.96,146.45L222.03,146.97L222.07,147.48L222.09,148.00L222.10,148.50L222.10,149.01L222.10,149.51L222.12,150.00L222.14,150.50L222.17,151.00L222.20,151.50L222.21,152.00L222.22,152.51L222.19,153.03L222.15,153.54L222.09,154.05L222.00,154.56L221.91,155.08L221.82,155.60L221.74,156.14L221.66,156.70L221.60,157.27L221.53,157.87L221.47,158.50L221.40,159.14L221.30,159.80L221.18,160.48L221.02,161.15L220.83,161.83L220.58,162.49L220.30,163.14L219.96,163.77L219.58,164.37L219.15,164.94L218.68,165.48L218.16,165.97L217.61,166.41L217.02,166.81L216.39,167.14L215.74,167.43L215.07,167.65L214.39,167.82L213.69,167.94L212.98,168.01L212.28,168.04L211.57,168.02L210.87,167.96L210.18,167.86L209.50,167.71L208.83,167.53L208.18,167.32L207.54,167.07L206.92,166.81L206.31,166.54L205.71,166.27L205.13,166.00L204.55,165.75L203.96,165.51L203.38,165.28L202.79,165.06L202.19,164.84L201.59,164.62L201.00,164.37L200.41,164.11L199.82,163.82L199.25,163.50L198.68,163.17L198.12,162.81L197.56,162.44L197.00,162.06L196.44,161.66L195.87,161.24L195.31,160.81L194.77,160.34L194.24,159.85L193.75,159.32L193.29,158.76L192.88,158.16L192.52,157.53L192.19,156.88L191.90,156.22L191.64,155.54L191.39,154.85L191.16,154.15L190.93,153.44L190.71,152.72L190.51,151.99L190.33,151.25Z" stroke="#888888"/><path d="M193.21,150.50L193.13,149.86L193.08,149.21L193.07,148.55L193.07,147.90L193.10,147.24L193.14,146.57L193.18,145.90L193.24,145.22L193.30,144.52L193.37,143.82L193.48,143.12L193.64,142.42L193.85,141.73L194.13,141.08L194.48,140.46L194.90,139.89L195.38,139.37L195.92,138.90L196.49,138.48L197.08,138.08L197.68,137.72L198.28,137.37L198.88,137.03L199.47,136.70L200.06,136.38L200.66,136.07L201.26,135.79L201.87,135.52L202.48,135.27L203.09,135.02L203.69,134.75L204.29,134.45L204.87,134.09L205.46,133.65L206.04,133.12L206.65,132.51L207.29,131.83L207.97,131.11L208.71,130.41L209.50,129.77L210.33,129.26L211.20,128.93L212.07,128.81L212.92,128.93L213.72,129.28L214.46,129.85L215.11,130.60L215.68,131.47L216.17,132.41L216.59,133.38L216.95,134.33L217.28,135.23L217.58,136.06L217.87,136.84L218.15,137.55L218.42,138.22L218.67,138.87L218.90,139.50L219.09,140.13L219.25,140.75L219.37,141.37L219.47,141.98L219.55,142.57L219.63,143.14L219.70,143.68L219.78,144.20L219.88,144.69L219.98,145.16L220.09,145.62L220.20,146.07L220.29,146.52L220.37,146.97L220.44,147.42L220.48,147.86L220.51,148.31L220.53,148.75L220.55,149.19L220.57,149.63L220.60,150.06L220.64,150.50L220.68,150.94L220.72,151.38L220.75,151.83L220.77,152.28L220.76,152.74L220.74,153.20L220.70,153.66L220.64,154.12L220.57,154.59L220.50,155.06L220.42,155.54L220.35,156.03L220.27,156.53L220.20,157.06L220.12,157.59L220.02,158.14L219.91,158.70L219.76,159.27L219.59,159.83L219.39,160.39L219.14,160.93L218.86,161.46L218.54,161.97L218.19,162.46L217.80,162.92L217.37,163.35L216.92,163.74L216.43,164.10L215.91,164.41L215.38,164.68L214.82,164.91L214.24,165.09L213.66,165.23L213.06,165.33L212.46,165.40L211.86,165.42L211.27,165.41L210.67,165.37L210.08,165.29L209.50,165.18L208.93,165.04L208.37,164.87L207.82,164.68L207.29,164.47L206.76,164.25L206.25,164.03L205.75,163.81L205.24,163.60L204.74,163.40L204.24,163.20L203.73,163.01L203.22,162.82L202.71,162.62L202.20,162.40L201.70,162.17L201.20,161.92L200.71,161.65L200.23,161.36L199.75,161.05L199.27,160.73L198.80,160.39L198.32,160.05L197.85,159.69L197.38,159.31L196.92,158.91L196.48,158.48L196.07,158.02L195.69,157.53L195.35,157.02L195.05,156.49L194.78,155.93L194.54,155.36L194.32,154.78L194.13,154.19L193.94,153.60L193.76,152.99L193.60,152.38L193.44,151.76L193.31,151.14Z" stroke="#878787"/><path d="M195.83,150.50L195.78,149.96L195.75,149.42L195.76,148.87L195.79,148.33L195.84,147.78L195.90,147.23L195.97,146.68L196.04,146.13L196.13,145.57L196.23,145.00L196.35,144.44L196.50,143.88L196.70,143.33L196.94,142.80L197.22,142.30L197.56,141.83L197.94,141.39L198.36,140.99L198.80,140.61L199.26,140.26L199.72,139.92L200.19,139.59L200.65,139.27L201.11,138.96L201.58,138.65L202.06,138.36L202.55,138.08L203.04,137.82L203.54,137.58L204.05,137.35L204.56,137.11L205.07,136.86L205.57,136.57L206.07,136.23L206.58,135.84L207.11,135.40L207.66,134.91L208.23,134.42L208.85,133.94L209.50,133.53L210.18,133.22L210.87,133.04L211.57,133.02L212.24,133.18L212.88,133.50L213.47,133.98L213.99,134.57L214.46,135.25L214.86,135.97L215.22,136.70L215.53,137.41L215.83,138.08L216.10,138.71L216.38,139.28L216.64,139.81L216.90,140.31L217.15,140.79L217.39,141.27L217.60,141.74L217.79,142.21L217.95,142.69L218.09,143.17L218.21,143.63L218.33,144.09L218.44,144.53L218.55,144.95L218.67,145.37L218.79,145.77L218.90,146.17L219.01,146.56L219.10,146.96L219.18,147.35L219.24,147.75L219.28,148.15L219.30,148.55L219.31,148.95L219.32,149.34L219.33,149.73L219.34,150.11L219.35,150.50L219.37,150.89L219.39,151.28L219.39,151.67L219.39,152.07L219.38,152.46L219.34,152.86L219.30,153.26L219.24,153.66L219.17,154.07L219.10,154.48L219.02,154.89L218.95,155.31L218.87,155.75L218.79,156.19L218.69,156.64L218.59,157.10L218.47,157.57L218.33,158.04L218.16,158.50L217.96,158.96L217.73,159.40L217.47,159.83L217.18,160.24L216.86,160.63L216.52,161.00L216.14,161.34L215.75,161.66L215.33,161.94L214.89,162.19L214.43,162.41L213.96,162.59L213.48,162.75L212.99,162.87L212.49,162.96L211.99,163.03L211.49,163.07L210.99,163.08L210.49,163.07L209.99,163.03L209.50,162.96L209.01,162.87L208.54,162.76L208.07,162.62L207.60,162.47L207.15,162.31L206.71,162.14L206.27,161.97L205.83,161.79L205.40,161.62L204.97,161.45L204.53,161.27L204.10,161.09L203.67,160.90L203.25,160.70L202.83,160.48L202.42,160.24L202.02,159.99L201.63,159.72L201.24,159.44L200.86,159.14L200.47,158.84L200.09,158.54L199.71,158.22L199.34,157.88L198.97,157.54L198.62,157.17L198.28,156.78L197.97,156.38L197.68,155.95L197.42,155.50L197.19,155.04L196.97,154.57L196.78,154.09L196.60,153.60L196.44,153.10L196.28,152.59L196.14,152.08L196.01,151.56L195.91,151.03Z" stroke="#868686"/><path d="M198.36,150.50L198.33,150.06L198.31,149.62L198.32,149.18L198.34,148.73L198.38,148.29L198.42,147.84L198.47,147.39L198.53,146.94L198.60,146.48L198.68,146.02L198.78,145.56L198.91,145.10L199.07,144.66L199.26,144.23L199.50,143.82L199.77,143.43L200.08,143.08L200.42,142.74L200.78,142.44L201.15,142.15L201.53,141.88L201.91,141.61L202.29,141.36L202.68,141.11L203.06,140.87L203.46,140.64L203.85,140.42L204.26,140.21L204.67,140.02L205.08,139.83L205.50,139.65L205.91,139.44L206.32,139.22L206.73,138.96L207.14,138.66L207.57,138.33L208.02,137.97L208.48,137.60L208.98,137.24L209.50,136.94L210.04,136.71L210.60,136.57L211.15,136.56L211.69,136.67L212.20,136.91L212.68,137.26L213.11,137.70L213.50,138.20L213.84,138.75L214.14,139.30L214.41,139.84L214.67,140.35L214.91,140.84L215.15,141.29L215.38,141.71L215.60,142.10L215.81,142.49L216.02,142.87L216.20,143.25L216.37,143.63L216.52,144.01L216.66,144.38L216.79,144.76L216.91,145.12L217.03,145.47L217.15,145.81L217.27,146.15L217.39,146.48L217.51,146.81L217.62,147.13L217.73,147.47L217.81,147.80L217.88,148.14L217.94,148.47L217.97,148.81L218.00,149.15L218.02,149.49L218.03,149.83L218.04,150.16L218.05,150.50L218.05,150.84L218.05,151.17L218.04,151.51L218.02,151.85L217.99,152.19L217.94,152.53L217.88,152.86L217.82,153.20L217.74,153.54L217.66,153.88L217.58,154.23L217.50,154.58L217.42,154.94L217.34,155.30L217.25,155.68L217.16,156.06L217.05,156.45L216.92,156.84L216.78,157.23L216.61,157.61L216.42,157.99L216.21,158.35L215.97,158.71L215.71,159.04L215.42,159.36L215.11,159.65L214.78,159.92L214.42,160.16L214.05,160.37L213.66,160.55L213.26,160.70L212.85,160.82L212.43,160.91L212.01,160.96L211.59,161.00L211.16,161.00L210.74,160.99L210.32,160.95L209.91,160.88L209.50,160.80L209.10,160.70L208.71,160.59L208.32,160.46L207.94,160.32L207.58,160.18L207.21,160.03L206.85,159.88L206.50,159.74L206.14,159.60L205.79,159.47L205.43,159.33L205.07,159.20L204.71,159.05L204.35,158.90L204.00,158.73L203.65,158.55L203.30,158.36L202.96,158.15L202.63,157.94L202.29,157.71L201.97,157.46L201.64,157.21L201.32,156.95L201.01,156.67L200.71,156.38L200.42,156.06L200.15,155.74L199.90,155.39L199.68,155.03L199.48,154.65L199.30,154.26L199.15,153.86L199.01,153.46L198.88,153.05L198.77,152.63L198.66,152.22L198.57,151.79L198.48,151.37L198.41,150.94Z" stroke="#858585"/><path d="M200.65,150.50L200.63,150.15L200.63,149.80L200.65,149.45L200.67,149.10L200.71,148.75L200.76,148.40L200.82,148.05L200.88,147.70L200.95,147.35L201.03,146.99L201.12,146.64L201.23,146.29L201.37,145.95L201.52,145.61L201.71,145.29L201.92,144.99L202.15,144.71L202.41,144.44L202.67,144.19L202.95,143.95L203.24,143.73L203.53,143.51L203.82,143.30L204.12,143.09L204.42,142.90L204.73,142.71L205.04,142.54L205.36,142.38L205.69,142.23L206.01,142.09L206.35,141.95L206.68,141.81L207.00,141.65L207.33,141.48L207.67,141.29L208.01,141.08L208.36,140.85L208.72,140.62L209.10,140.41L209.50,140.22L209.91,140.08L210.33,140.01L210.74,140.01L211.15,140.09L211.54,140.25L211.90,140.48L212.24,140.77L212.55,141.10L212.84,141.45L213.10,141.81L213.34,142.17L213.57,142.51L213.80,142.83L214.01,143.13L214.23,143.42L214.44,143.70L214.64,143.97L214.84,144.25L215.02,144.53L215.19,144.81L215.34,145.10L215.48,145.39L215.61,145.68L215.73,145.97L215.84,146.26L215.96,146.54L216.06,146.82L216.17,147.10L216.27,147.38L216.35,147.66L216.43,147.94L216.50,148.23L216.55,148.51L216.59,148.80L216.61,149.09L216.63,149.37L216.63,149.66L216.64,149.94L216.64,150.22L216.64,150.50L216.63,150.78L216.62,151.06L216.61,151.34L216.59,151.62L216.55,151.90L216.51,152.18L216.46,152.46L216.39,152.74L216.33,153.02L216.25,153.30L216.18,153.58L216.10,153.86L216.01,154.15L215.93,154.44L215.83,154.73L215.73,155.03L215.62,155.32L215.49,155.62L215.35,155.91L215.19,156.19L215.02,156.47L214.83,156.74L214.62,157.00L214.40,157.24L214.16,157.47L213.90,157.69L213.64,157.88L213.35,158.07L213.06,158.23L212.76,158.37L212.45,158.49L212.13,158.60L211.81,158.68L211.48,158.75L211.15,158.80L210.82,158.83L210.49,158.85L210.16,158.85L209.83,158.84L209.50,158.81L209.18,158.76L208.85,158.70L208.54,158.63L208.23,158.54L207.92,158.45L207.62,158.35L207.31,158.25L207.02,158.14L206.72,158.03L206.43,157.92L206.13,157.80L205.84,157.68L205.55,157.55L205.27,157.41L204.99,157.26L204.71,157.09L204.44,156.92L204.18,156.73L203.92,156.54L203.66,156.34L203.41,156.13L203.17,155.91L202.92,155.68L202.69,155.45L202.46,155.20L202.24,154.95L202.04,154.68L201.85,154.40L201.67,154.11L201.52,153.81L201.38,153.50L201.25,153.18L201.14,152.86L201.04,152.53L200.95,152.20L200.87,151.87L200.79,151.53L200.73,151.19L200.68,150.85Z" stroke="#838383"/><path d="M202.71,150.50L202.69,150.23L202.69,149.96L202.70,149.70L202.73,149.43L202.76,149.16L202.81,148.89L202.87,148.63L202.94,148.37L203.01,148.11L203.10,147.85L203.19,147.59L203.30,147.34L203.42,147.10L203.56,146.86L203.71,146.63L203.88,146.42L204.07,146.22L204.26,146.03L204.46,145.85L204.67,145.67L204.88,145.51L205.10,145.35L205.31,145.19L205.53,145.03L205.75,144.88L205.97,144.74L206.20,144.60L206.43,144.47L206.66,144.34L206.90,144.23L207.14,144.11L207.39,143.99L207.63,143.87L207.88,143.74L208.13,143.60L208.38,143.45L208.65,143.30L208.92,143.15L209.21,143.01L209.50,142.89L209.80,142.81L210.11,142.77L210.41,142.78L210.71,142.84L211.00,142.96L211.27,143.12L211.53,143.32L211.76,143.55L211.98,143.79L212.18,144.04L212.37,144.29L212.54,144.52L212.72,144.75L212.89,144.97L213.05,145.18L213.22,145.39L213.37,145.59L213.53,145.79L213.67,145.99L213.80,146.20L213.93,146.40L214.05,146.61L214.16,146.82L214.27,147.03L214.38,147.24L214.48,147.45L214.58,147.66L214.67,147.86L214.77,148.07L214.85,148.28L214.93,148.50L215.00,148.71L215.06,148.93L215.10,149.15L215.14,149.38L215.17,149.60L215.19,149.83L215.21,150.05L215.22,150.28L215.22,150.50L215.22,150.72L215.21,150.95L215.19,151.17L215.17,151.40L215.14,151.62L215.10,151.84L215.04,152.06L214.99,152.28L214.92,152.50L214.85,152.72L214.77,152.93L214.70,153.15L214.61,153.36L214.53,153.58L214.43,153.80L214.34,154.01L214.23,154.23L214.12,154.45L214.00,154.66L213.86,154.86L213.72,155.07L213.57,155.26L213.40,155.45L213.23,155.63L213.04,155.80L212.85,155.97L212.65,156.12L212.43,156.26L212.21,156.38L211.99,156.50L211.75,156.60L211.51,156.69L211.27,156.76L211.02,156.82L210.77,156.87L210.51,156.91L210.26,156.93L210.01,156.94L209.75,156.93L209.50,156.91L209.25,156.88L209.00,156.84L208.76,156.79L208.51,156.72L208.28,156.65L208.04,156.57L207.81,156.48L207.59,156.39L207.36,156.29L207.14,156.19L206.92,156.09L206.71,155.98L206.50,155.86L206.29,155.74L206.09,155.61L205.89,155.47L205.69,155.33L205.50,155.18L205.31,155.03L205.13,154.87L204.95,154.71L204.77,154.54L204.59,154.37L204.41,154.20L204.24,154.01L204.08,153.82L203.92,153.63L203.77,153.42L203.63,153.21L203.50,152.99L203.38,152.76L203.27,152.53L203.16,152.29L203.07,152.04L202.98,151.80L202.91,151.54L202.84,151.29L202.78,151.03L202.74,150.77Z" stroke="#828282"/><path d="M204.95,150.50L204.95,150.32L204.95,150.14L204.96,149.96L204.98,149.78L205.00,149.61L205.03,149.43L205.06,149.25L205.09,149.07L205.14,148.89L205.18,148.71L205.24,148.53L205.30,148.36L205.37,148.19L205.45,148.02L205.55,147.86L205.65,147.70L205.77,147.56L205.89,147.42L206.02,147.29L206.16,147.16L206.30,147.04L206.45,146.93L206.60,146.82L206.75,146.71L206.90,146.61L207.06,146.52L207.22,146.43L207.39,146.35L207.55,146.27L207.72,146.20L207.89,146.13L208.06,146.07L208.23,146.00L208.40,145.93L208.58,145.85L208.75,145.77L208.93,145.69L209.12,145.61L209.31,145.54L209.50,145.48L209.70,145.44L209.90,145.42L210.10,145.43L210.30,145.46L210.49,145.52L210.68,145.60L210.85,145.71L211.02,145.83L211.17,145.96L211.32,146.10L211.46,146.24L211.60,146.38L211.73,146.52L211.86,146.65L211.99,146.78L212.11,146.91L212.23,147.04L212.34,147.17L212.45,147.31L212.55,147.45L212.65,147.59L212.74,147.73L212.83,147.87L212.91,148.02L213.00,148.16L213.07,148.31L213.15,148.46L213.22,148.60L213.29,148.75L213.36,148.90L213.42,149.06L213.47,149.21L213.51,149.37L213.55,149.53L213.58,149.69L213.61,149.85L213.63,150.01L213.64,150.17L213.65,150.34L213.65,150.50L213.65,150.66L213.64,150.83L213.63,150.99L213.61,151.15L213.58,151.31L213.54,151.47L213.50,151.63L213.45,151.78L213.40,151.94L213.34,152.09L213.28,152.24L213.22,152.40L213.15,152.55L213.08,152.69L213.01,152.84L212.93,152.99L212.84,153.14L212.76,153.28L212.66,153.42L212.56,153.56L212.45,153.69L212.34,153.82L212.22,153.95L212.09,154.06L211.96,154.18L211.82,154.28L211.67,154.38L211.52,154.47L211.37,154.55L211.21,154.63L211.05,154.69L210.88,154.75L210.71,154.80L210.54,154.84L210.37,154.87L210.20,154.89L210.02,154.91L209.85,154.91L209.67,154.91L209.50,154.91L209.33,154.89L209.16,154.87L208.99,154.84L208.82,154.81L208.65,154.77L208.48,154.73L208.32,154.68L208.16,154.64L207.99,154.58L207.83,154.53L207.67,154.47L207.51,154.40L207.35,154.33L207.20,154.26L207.05,154.17L206.90,154.08L206.75,153.99L206.61,153.89L206.47,153.78L206.33,153.67L206.20,153.55L206.08,153.42L205.96,153.29L205.84,153.16L205.73,153.02L205.63,152.87L205.53,152.72L205.45,152.56L205.37,152.40L205.30,152.24L205.24,152.07L205.18,151.90L205.14,151.73L205.09,151.56L205.06,151.38L205.03,151.21L205.00,151.03L204.98,150.86L204.96,150.68Z" stroke="#818181"/><path d="M206.91,150.50L206.91,150.40L206.91,150.30L206.92,150.19L206.93,150.09L206.94,149.99L206.96,149.89L206.98,149.79L207.00,149.69L207.03,149.59L207.06,149.49L207.10,149.39L207.13,149.29L207.18,149.20L207.23,149.11L207.28,149.02L207.34,148.93L207.40,148.85L207.47,148.77L207.54,148.69L207.62,148.62L207.70,148.55L207.78,148.48L207.86,148.42L207.94,148.36L208.03,148.30L208.12,148.24L208.21,148.19L208.30,148.14L208.39,148.10L208.49,148.05L208.58,148.01L208.68,147.98L208.78,147.94L208.88,147.90L208.98,147.87L209.08,147.83L209.18,147.80L209.28,147.77L209.39,147.74L209.50,147.72L209.61,147.71L209.72,147.70L209.83,147.71L209.94,147.73L210.05,147.76L210.15,147.80L210.25,147.85L210.34,147.90L210.44,147.96L210.52,148.03L210.61,148.09L210.69,148.16L210.77,148.23L210.85,148.30L210.92,148.37L210.99,148.44L211.06,148.51L211.13,148.59L211.20,148.66L211.26,148.74L211.32,148.82L211.37,148.90L211.43,148.98L211.48,149.06L211.53,149.15L211.57,149.23L211.62,149.31L211.66,149.40L211.70,149.48L211.74,149.57L211.78,149.66L211.81,149.75L211.84,149.84L211.87,149.93L211.89,150.02L211.91,150.12L211.92,150.21L211.94,150.31L211.95,150.40L211.95,150.50L211.96,150.60L211.95,150.69L211.95,150.79L211.94,150.89L211.93,150.98L211.91,151.08L211.89,151.17L211.86,151.27L211.83,151.36L211.80,151.45L211.76,151.54L211.72,151.63L211.68,151.72L211.63,151.81L211.59,151.89L211.53,151.98L211.48,152.06L211.42,152.14L211.36,152.22L211.30,152.30L211.23,152.37L211.16,152.44L211.08,152.51L211.01,152.57L210.93,152.63L210.84,152.69L210.76,152.75L210.67,152.80L210.58,152.84L210.49,152.88L210.39,152.92L210.30,152.95L210.20,152.98L210.10,153.01L210.00,153.03L209.90,153.04L209.80,153.05L209.70,153.06L209.60,153.06L209.50,153.06L209.40,153.05L209.30,153.04L209.20,153.03L209.10,153.01L209.00,152.99L208.91,152.96L208.81,152.94L208.72,152.91L208.62,152.87L208.53,152.84L208.44,152.80L208.35,152.76L208.26,152.71L208.18,152.66L208.09,152.61L208.01,152.55L207.93,152.50L207.85,152.43L207.77,152.37L207.70,152.30L207.63,152.23L207.56,152.16L207.49,152.08L207.43,152.00L207.37,151.92L207.31,151.84L207.26,151.76L207.21,151.67L207.16,151.58L207.12,151.48L207.09,151.39L207.05,151.29L207.02,151.20L207.00,151.10L206.98,151.00L206.96,150.90L206.94,150.80L206.93,150.70L206.92,150.60Z" stroke="#808080"/></g>
<path d="M202.1,169.1h0.01M220.4,123.7h0.01M180.5,140.8h0.01M205.2,173.3h0.01M180.4,148.9h0.01M210.8,173.8h0.01M211.3,173.8h0.01M205.8,122.1h0.01M206.9,121.3h0.01M223.3,127.9h0.01M218.9,174.6h0.01M215.6,172.4h0.01M225.4,155.5h0.01M204.7,172.1h0.01M213.7,112.3h0.01M186.0,155.5h0.01M194.9,164.3h0.01M212.3,115.7h0.01M211.1,176.3h0.01M210.7,173.0h0.01M193.7,165.4h0.01M207.6,113.5h0.01M225.2,166.3h0.01M223.3,172.5h0.01M226.6,146.9h0.01M218.6,174.9h0.01M226.0,143.5h0.01M224.9,157.1h0.01M203.1,121.2h0.01M181.5,134.9h0.01M194.8,130.5h0.01M184.9,130.1h0.01M222.1,132.4h0.01M185.3,145.6h0.01M218.9,173.4h0.01M218.4,174.2h0.01M182.7,138.1h0.01M225.0,132.8h0.01M199.9,172.0h0.01M181.1,137.3h0.01" stroke="#444" stroke-width="0.96" stroke-linecap="round" opacity="0.9"/>
<text x="397.20" y="31.60" font-size="9.4" text-anchor="middle" font-weight="normal" fill="#222" stroke="#222" stroke-width="0.18" >Responders</text>
<rect x="313.0" y="37.5" width="172.5" height="172.0" fill="none" stroke="#666" stroke-width="1"/>
<line x1="407.0" y1="37.5" x2="407.0" y2="209.5" stroke="#555" stroke-width="1"/>
<line x1="313" y1="108.1" x2="485.5" y2="108.1" stroke="#555" stroke-width="1"/>
<text x="316.50" y="49.40" font-size="8.2" text-anchor="start" font-weight="normal" fill="#2a2a2a" stroke="#2a2a2a" stroke-width="0.18" >CD4s</text>
<text x="316.50" y="58.90" font-size="8.2" text-anchor="start" font-weight="normal" fill="#2a2a2a" stroke="#2a2a2a" stroke-width="0.18" >38.2</text>
<text x="481.20" y="49.00" font-size="8.2" text-anchor="end" font-weight="normal" fill="#2a2a2a" stroke="#2a2a2a" stroke-width="0.18" >1.44</text>
<text x="316.50" y="205.70" font-size="8.2" text-anchor="start" font-weight="normal" fill="#2a2a2a" stroke="#2a2a2a" stroke-width="0.18" >6.11</text>
<text x="481.50" y="196.30" font-size="8.2" text-anchor="end" font-weight="normal" fill="#2a2a2a" stroke="#2a2a2a" stroke-width="0.18" >CD8s</text>
<text x="481.20" y="206.20" font-size="8.2" text-anchor="end" font-weight="normal" fill="#2a2a2a" stroke="#2a2a2a" stroke-width="0.18" >54.2</text>
<text x="307.70" y="61.50" font-size="7.7" text-anchor="end" font-weight="normal" fill="#222" stroke="#222" stroke-width="0.18" >10<tspan font-size="5.2" dx="0.7" dy="-3.2">5</tspan></text>
<text x="307.70" y="110.40" font-size="7.7" text-anchor="end" font-weight="normal" fill="#222" stroke="#222" stroke-width="0.18" >10<tspan font-size="5.2" dx="0.7" dy="-3.2">4</tspan></text>
<text x="307.70" y="154.20" font-size="7.7" text-anchor="end" font-weight="normal" fill="#222" stroke="#222" stroke-width="0.18" >0</text>
<text x="307.70" y="200.10" font-size="7.7" text-anchor="end" font-weight="normal" fill="#222" stroke="#222" stroke-width="0.18" >−10<tspan font-size="5.2" dx="0.7" dy="-3.2">4</tspan></text>
<path d="M309.5,58.8H313 M309.5,107.7H313 M309.5,151.5H313 M309.5,197.4H313 M310.8,92.98H313 M310.8,84.37H313 M310.8,78.26H313 M310.8,73.52H313 M310.8,69.65H313 M310.8,66.37H313 M310.8,63.54H313 M310.8,61.04H313 M310.8,44.08H313 M310.8,192.00H313 M310.8,187.50H313 M310.8,183.00H313 M310.8,178.50H313 M310.8,174.00H313 M310.8,169.50H313 M310.8,165.00H313 M310.8,160.50H313 M310.8,156.00H313 M310.8,147.12H313 M310.8,142.74H313 M310.8,138.36H313 M310.8,133.98H313 M310.8,129.60H313 M310.8,125.22H313 M310.8,120.84H313 M310.8,116.46H313 M310.8,112.08H313 M310.8,201.00H313 M310.8,205.50H313" stroke="#444" stroke-width="0.8" fill="none"/>
<rect x="311.2" y="145.5" width="1.8" height="12.6" fill="#111"/>
<path d="M309,145.8H313M309,151.6H313M309,157.9H313" stroke="#111" stroke-width="0.8"/>
<text x="323.70" y="223.80" font-size="7.7" text-anchor="middle" font-weight="normal" fill="#222" stroke="#222" stroke-width="0.18" >−10<tspan font-size="5.2" dx="0.7" dy="-3.2">4</tspan></text>
<text x="364.60" y="223.80" font-size="7.7" text-anchor="middle" font-weight="normal" fill="#222" stroke="#222" stroke-width="0.18" >0</text>
<text x="407.30" y="223.80" font-size="7.7" text-anchor="middle" font-weight="normal" fill="#222" stroke="#222" stroke-width="0.18" >10<tspan font-size="5.2" dx="0.7" dy="-3.2">4</tspan></text>
<text x="449.10" y="223.80" font-size="7.7" text-anchor="middle" font-weight="normal" fill="#222" stroke="#222" stroke-width="0.18" >10<tspan font-size="5.2" dx="0.7" dy="-3.2">5</tspan></text>
<text x="485.10" y="223.80" font-size="7.7" text-anchor="middle" font-weight="normal" fill="#222" stroke="#222" stroke-width="0.18" >10<tspan font-size="5.2" dx="0.7" dy="-3.2">6</tspan></text>
<path d="M323.40,209.5V213.3 M364.40,209.5V213.3 M407.00,209.5V213.3 M448.80,209.5V213.3 M484.80,209.5V213.3 M327.50,209.5V212.0 M331.60,209.5V212.0 M335.70,209.5V212.0 M339.80,209.5V212.0 M343.90,209.5V212.0 M348.00,209.5V212.0 M352.10,209.5V212.0 M356.20,209.5V212.0 M360.30,209.5V212.0 M368.66,209.5V212.0 M372.92,209.5V212.0 M377.18,209.5V212.0 M381.44,209.5V212.0 M385.70,209.5V212.0 M389.96,209.5V212.0 M394.22,209.5V212.0 M398.48,209.5V212.0 M402.74,209.5V212.0 M319.30,209.5V212.0 M315.20,209.5V212.0 M419.58,209.5V212.0 M459.64,209.5V212.0 M426.94,209.5V212.0 M465.98,209.5V212.0 M432.17,209.5V212.0 M470.47,209.5V212.0 M436.22,209.5V212.0 M473.96,209.5V212.0 M439.53,209.5V212.0 M476.81,209.5V212.0 M442.33,209.5V212.0 M479.22,209.5V212.0 M444.75,209.5V212.0 M481.31,209.5V212.0 M446.89,209.5V212.0 M483.15,209.5V212.0" stroke="#444" stroke-width="0.8" fill="none"/>
<rect x="359.3" y="209.5" width="11.2" height="1.7" fill="#111"/>
<path d="M359.6,209.5V214.0M364.9,209.5V214.0M370.1,209.5V214.0" stroke="#111" stroke-width="0.8"/>
<text x="0" y="0" font-size="8.3" text-anchor="middle" fill="#111" stroke="#111" stroke-width="0.25" transform="translate(399,237.4) scale(0.8,1)">CD8 (spark YG 593)</text>
<text x="0" y="0" font-size="8.3" text-anchor="middle" fill="#111" stroke="#111" stroke-width="0.25" transform="translate(289.6,124) rotate(-90) scale(0.795,1)">CD4 (cFluor V610)</text>
<path d="M396.8,57.0h0.01M383.7,53.6h0.01M353.9,54.9h0.01M365.8,93.2h0.01M385.0,69.5h0.01M380.7,58.5h0.01M349.4,81.7h0.01M358.4,89.7h0.01M385.1,73.4h0.01M346.8,74.2h0.01M376.1,86.9h0.01M355.9,93.1h0.01M367.9,104.1h0.01M365.2,58.5h0.01M384.3,84.8h0.01M390.0,84.1h0.01M362.5,51.4h0.01M350.4,91.6h0.01M371.5,87.4h0.01M348.6,68.7h0.01M370.4,54.3h0.01M384.0,93.7h0.01M358.8,54.8h0.01M372.5,56.1h0.01M380.2,83.3h0.01" stroke="#444" stroke-width="0.96" stroke-linecap="round" opacity="0.9"/>
<path d="M397.4,60.9h0.01M406.3,74.9h0.01M403.1,77.3h0.01M397.1,71.5h0.01M399.9,75.4h0.01M419.0,70.5h0.01M423.5,81.2h0.01M410.9,75.5h0.01M420.7,70.9h0.01M401.9,65.6h0.01M407.7,80.1h0.01M408.3,74.5h0.01M401.0,73.0h0.01M388.7,78.3h0.01M398.9,65.4h0.01M395.5,67.1h0.01M411.6,78.3h0.01M389.4,77.6h0.01M411.9,68.5h0.01M388.1,67.5h0.01M396.7,74.1h0.01M399.4,59.8h0.01M405.3,62.8h0.01M412.1,64.8h0.01M396.1,66.9h0.01M397.6,79.8h0.01M411.5,75.6h0.01M406.2,62.7h0.01M397.8,68.7h0.01M393.2,75.1h0.01M395.6,67.7h0.01M392.6,59.7h0.01M409.0,80.0h0.01M404.7,66.1h0.01M415.2,73.8h0.01M412.3,80.9h0.01M414.3,69.4h0.01M413.5,76.7h0.01M387.6,69.6h0.01M388.8,71.3h0.01M408.8,65.6h0.01M406.8,80.8h0.01M389.8,78.4h0.01M423.7,84.0h0.01M400.9,73.6h0.01M401.5,78.0h0.01M413.4,72.5h0.01M389.4,76.4h0.01M398.3,75.8h0.01M405.6,81.7h0.01M414.4,69.3h0.01M406.5,82.6h0.01M397.6,74.6h0.01M414.9,79.5h0.01M408.2,64.1h0.01M390.4,73.5h0.01M406.9,87.3h0.01M394.4,78.8h0.01M410.7,62.0h0.01M394.8,73.0h0.01M398.1,71.1h0.01M407.7,67.1h0.01M407.7,68.2h0.01M397.6,75.2h0.01M397.3,73.7h0.01M419.0,72.2h0.01M401.5,76.4h0.01M399.3,78.5h0.01M390.2,75.7h0.01M397.9,67.2h0.01M420.7,66.9h0.01M420.6,75.9h0.01M417.5,66.1h0.01M415.0,80.7h0.01M401.8,71.2h0.01M427.6,73.1h0.01M398.8,68.2h0.01M407.5,74.0h0.01" stroke="#444" stroke-width="0.96" stroke-linecap="round" opacity="0.9"/>
<path d="M447.8,110.8h0.01M442.7,100.8h0.01M460.6,89.0h0.01M456.4,111.7h0.01M432.5,88.2h0.01M435.6,82.2h0.01M450.5,82.2h0.01M451.0,108.6h0.01M429.8,94.5h0.01M426.8,103.2h0.01M438.6,94.9h0.01M446.5,101.4h0.01M442.5,97.1h0.01M440.5,97.9h0.01M434.3,97.5h0.01M426.7,93.1h0.01M465.2,97.6h0.01M433.4,99.1h0.01M436.3,83.8h0.01M438.6,102.9h0.01M449.8,96.2h0.01M436.7,88.4h0.01M459.5,99.0h0.01M436.5,80.1h0.01M432.3,116.8h0.01M434.5,96.4h0.01M448.1,95.7h0.01M443.2,86.0h0.01M435.5,110.5h0.01M438.4,103.8h0.01M429.1,94.8h0.01M448.6,105.3h0.01M434.8,101.8h0.01M449.9,91.1h0.01M450.8,89.8h0.01M438.0,96.8h0.01M418.9,96.1h0.01M436.0,85.3h0.01M441.7,103.1h0.01M442.0,107.1h0.01M434.4,86.5h0.01M461.5,100.2h0.01M455.5,90.4h0.01M454.0,99.1h0.01M452.5,97.2h0.01M458.1,91.8h0.01M436.4,85.2h0.01M457.6,91.1h0.01M435.6,89.5h0.01M441.5,86.8h0.01M443.1,92.0h0.01M440.5,89.3h0.01M446.4,93.3h0.01M447.1,99.0h0.01M449.4,79.5h0.01M440.6,90.6h0.01M453.7,84.4h0.01M438.9,94.6h0.01M442.6,104.9h0.01M441.6,104.7h0.01M431.3,82.5h0.01M458.2,100.5h0.01M450.9,98.0h0.01M450.8,87.3h0.01M455.5,92.7h0.01M455.9,97.7h0.01M426.3,86.7h0.01M457.3,95.9h0.01M442.0,98.9h0.01M441.7,92.6h0.01M447.0,98.2h0.01M461.2,97.4h0.01M464.8,111.4h0.01M463.2,105.5h0.01M447.3,98.1h0.01M444.6,91.2h0.01M445.3,91.9h0.01M462.4,101.3h0.01M441.5,81.7h0.01M445.5,93.7h0.01M435.1,87.9h0.01M423.5,101.6h0.01M445.3,117.6h0.01M445.7,95.8h0.01M460.4,98.1h0.01M447.7,94.0h0.01M439.9,109.0h0.01M456.0,110.7h0.01M442.5,97.2h0.01M437.2,104.7h0.01" stroke="#444" stroke-width="0.96" stroke-linecap="round" opacity="0.9"/>
<path d="M426.7,118.8h0.01M454.1,123.1h0.01M431.7,121.4h0.01M434.2,112.2h0.01M427.4,121.8h0.01M460.1,113.0h0.01M433.6,114.3h0.01M469.6,121.0h0.01M436.0,107.0h0.01M434.6,121.9h0.01M462.5,114.7h0.01M434.4,113.5h0.01M421.3,120.5h0.01M430.1,121.3h0.01M423.2,109.6h0.01M445.2,112.2h0.01M450.6,116.0h0.01M429.1,119.1h0.01M451.3,106.4h0.01M462.1,118.5h0.01M450.4,106.7h0.01M434.1,114.3h0.01M453.8,108.7h0.01M432.3,105.9h0.01M439.3,117.7h0.01M423.5,113.0h0.01M447.6,123.9h0.01M449.3,114.5h0.01M429.0,111.3h0.01M434.7,116.7h0.01M441.5,124.3h0.01M445.2,110.6h0.01M459.0,120.7h0.01M443.1,112.4h0.01M421.4,110.9h0.01M452.0,112.0h0.01M427.5,117.0h0.01M444.7,119.0h0.01M449.2,123.0h0.01M432.8,120.9h0.01M431.1,119.5h0.01M444.0,117.2h0.01M452.6,115.9h0.01M454.2,120.4h0.01M443.5,113.2h0.01M433.7,113.4h0.01M439.8,115.9h0.01M474.8,119.2h0.01M450.5,111.7h0.01M434.2,114.4h0.01M444.1,110.8h0.01M459.7,113.2h0.01M453.9,104.3h0.01M441.9,117.4h0.01M444.1,119.0h0.01M445.1,116.8h0.01M421.2,112.4h0.01M416.2,119.1h0.01M445.4,115.0h0.01M433.0,113.1h0.01M462.3,124.7h0.01M441.4,122.4h0.01M424.5,106.3h0.01M436.7,111.6h0.01M435.8,116.9h0.01M475.3,112.7h0.01M442.5,117.4h0.01M441.6,120.7h0.01M461.5,109.8h0.01M443.8,114.7h0.01" stroke="#444" stroke-width="0.96" stroke-linecap="round" opacity="0.9"/>
<path d="M436.4,56.7h0.01M398.4,48.8h0.01M439.5,73.9h0.01M431.3,48.3h0.01M423.3,64.4h0.01M404.6,62.8h0.01M442.6,77.4h0.01M429.6,77.1h0.01M419.1,72.7h0.01M430.7,77.5h0.01M428.7,70.6h0.01M427.6,65.6h0.01" stroke="#444" stroke-width="0.96" stroke-linecap="round" opacity="0.9"/>
<path d="M407.3,151.2h0.01M382.0,172.5h0.01M395.6,126.3h0.01M385.7,155.1h0.01M402.4,160.8h0.01M386.8,130.9h0.01M363.8,148.2h0.01M383.1,132.7h0.01M372.0,130.2h0.01M393.4,164.2h0.01M374.5,157.3h0.01M382.2,152.9h0.01M382.7,135.8h0.01M384.0,157.1h0.01M363.5,168.6h0.01M405.3,166.9h0.01M403.8,153.9h0.01M364.6,146.4h0.01M347.7,172.7h0.01M385.5,150.7h0.01M380.5,134.7h0.01M384.5,132.2h0.01M381.9,156.8h0.01M384.4,140.6h0.01M386.2,163.6h0.01M363.3,136.2h0.01M359.3,132.8h0.01M383.0,130.3h0.01M374.4,132.8h0.01M380.7,134.9h0.01M391.3,124.9h0.01M389.5,137.7h0.01M383.6,138.2h0.01M386.3,165.8h0.01M363.0,156.7h0.01M393.0,145.4h0.01M360.1,149.8h0.01M392.1,158.1h0.01M387.4,123.0h0.01M366.5,162.1h0.01M358.8,158.6h0.01M402.4,154.1h0.01M391.7,141.0h0.01M358.8,143.8h0.01M385.8,143.3h0.01M375.9,167.1h0.01M394.8,146.8h0.01M360.9,138.3h0.01M391.2,131.1h0.01M359.5,145.6h0.01M352.7,132.0h0.01M387.0,157.5h0.01M391.2,119.9h0.01M364.8,153.1h0.01M385.1,132.6h0.01M349.6,162.4h0.01M376.8,155.8h0.01M339.7,158.3h0.01M386.4,120.0h0.01M386.8,123.6h0.01M392.0,149.8h0.01M407.5,137.7h0.01M376.1,157.6h0.01M367.0,136.5h0.01M360.8,150.8h0.01M399.8,141.1h0.01M394.3,138.4h0.01M386.6,121.8h0.01M345.3,137.8h0.01M361.2,143.4h0.01M387.0,142.0h0.01M369.1,161.3h0.01M389.7,156.1h0.01M392.2,141.1h0.01M374.2,158.4h0.01" stroke="#444" stroke-width="0.96" stroke-linecap="round" opacity="0.9"/>
<path d="M381.1,163.9h0.01M382.5,162.4h0.01M400.0,162.0h0.01M395.3,151.0h0.01M366.6,154.3h0.01M391.7,167.0h0.01M367.9,159.8h0.01M381.1,162.2h0.01M388.0,165.1h0.01M371.2,163.3h0.01M398.0,158.4h0.01M391.7,154.6h0.01M369.7,155.6h0.01M376.0,175.3h0.01M378.2,167.9h0.01M387.8,159.9h0.01M395.4,153.3h0.01M397.8,160.3h0.01M363.8,161.6h0.01M392.7,160.7h0.01M407.2,155.5h0.01M392.2,162.5h0.01M372.4,165.2h0.01M364.7,150.2h0.01M392.3,151.5h0.01M386.0,151.2h0.01M389.8,148.8h0.01M391.3,156.4h0.01M385.9,157.6h0.01M386.8,150.1h0.01M349.1,158.2h0.01M371.9,155.3h0.01M391.0,146.1h0.01M370.2,160.0h0.01M383.0,153.1h0.01M371.2,162.8h0.01M375.8,161.5h0.01M391.3,146.6h0.01M369.8,158.0h0.01M389.8,162.7h0.01M396.2,164.2h0.01M379.8,156.7h0.01M395.9,155.4h0.01M399.8,148.5h0.01M394.1,157.0h0.01M357.5,163.9h0.01M389.4,158.1h0.01M369.9,155.2h0.01M406.2,153.0h0.01M336.4,152.9h0.01M368.2,157.2h0.01M373.2,164.3h0.01M364.8,169.7h0.01M396.0,161.4h0.01M370.4,162.5h0.01M359.2,152.5h0.01M400.8,156.5h0.01M366.8,161.1h0.01M397.8,157.9h0.01M359.7,155.9h0.01M390.9,162.6h0.01M410.9,156.5h0.01M378.2,157.8h0.01M401.9,152.4h0.01M403.3,141.5h0.01" stroke="#444" stroke-width="0.96" stroke-linecap="round" opacity="0.9"/>
<path d="M399.8,69.9h0.01M397.8,86.3h0.01M387.9,77.0h0.01M396.4,85.0h0.01M389.4,66.1h0.01M383.5,108.5h0.01M393.8,75.3h0.01M386.0,89.2h0.01M391.8,95.2h0.01M400.1,78.3h0.01M399.4,64.7h0.01M393.0,71.1h0.01M387.4,78.2h0.01M394.1,95.2h0.01M389.5,72.4h0.01M397.5,82.8h0.01M395.2,72.3h0.01M398.0,82.3h0.01M386.8,63.8h0.01M395.9,78.7h0.01M395.7,67.5h0.01M393.8,67.0h0.01M397.3,86.3h0.01M405.5,93.2h0.01M390.2,72.5h0.01M389.4,81.7h0.01M406.9,86.5h0.01M387.2,84.2h0.01M395.0,81.6h0.01M405.7,68.1h0.01M389.9,101.6h0.01M397.1,68.7h0.01" stroke="#444" stroke-width="0.96" stroke-linecap="round" opacity="0.9"/>
<path d="M387.8,132.9h0.01M385.3,142.4h0.01M400.3,148.0h0.01M399.2,137.8h0.01M395.6,153.4h0.01M389.4,143.0h0.01M400.2,145.7h0.01M397.6,145.0h0.01M404.9,141.1h0.01M397.3,140.9h0.01M394.2,140.8h0.01M398.2,143.3h0.01M408.0,149.8h0.01M397.3,145.6h0.01M401.8,146.6h0.01M400.1,143.6h0.01M397.2,137.3h0.01M405.2,149.8h0.01M404.0,144.6h0.01M401.6,139.3h0.01M389.3,146.0h0.01M401.2,138.7h0.01M394.2,149.7h0.01M389.2,152.6h0.01M403.8,156.2h0.01M395.7,141.9h0.01M397.0,142.9h0.01M398.7,137.5h0.01M406.4,137.3h0.01M397.0,145.3h0.01M396.8,139.4h0.01M402.1,139.8h0.01M392.5,141.4h0.01M398.7,152.2h0.01M393.4,147.8h0.01M395.3,139.9h0.01M398.0,143.6h0.01M405.2,152.5h0.01M396.2,150.0h0.01M406.0,146.9h0.01M395.4,147.4h0.01M399.4,144.1h0.01M398.4,146.0h0.01M406.7,148.8h0.01M398.8,148.0h0.01M408.7,136.4h0.01M408.8,134.0h0.01M403.3,145.6h0.01M397.1,137.2h0.01" stroke="#222" stroke-width="0.96" stroke-linecap="round" opacity="0.9"/>
<path d="M422.5,186.8h0.01M436.7,179.4h0.01M447.4,179.2h0.01M433.9,180.7h0.01M463.2,190.3h0.01M437.8,175.1h0.01M443.9,183.4h0.01M444.9,185.8h0.01M435.5,187.6h0.01M451.7,184.1h0.01M434.3,180.6h0.01M449.7,177.5h0.01M437.8,179.3h0.01M420.5,186.0h0.01M439.6,183.2h0.01M452.2,175.5h0.01M439.1,184.4h0.01M451.7,177.6h0.01M450.0,184.1h0.01M459.0,188.7h0.01M447.7,193.7h0.01M440.0,180.9h0.01M435.2,178.3h0.01M439.6,173.6h0.01M438.8,185.1h0.01M453.9,181.3h0.01M459.4,179.7h0.01M438.1,173.6h0.01M429.3,179.0h0.01M460.4,185.6h0.01M424.9,185.6h0.01M446.6,181.9h0.01M440.3,181.5h0.01M432.6,174.3h0.01M438.8,189.3h0.01M459.6,181.6h0.01M429.8,182.0h0.01M452.3,184.7h0.01M432.0,184.8h0.01M437.2,185.5h0.01" stroke="#444" stroke-width="0.96" stroke-linecap="round" opacity="0.9"/>
<path d="M354.60,62.50 C356.10,60.13 358.80,58.85 361.50,57.80 C364.20,56.75 367.72,56.20 370.80,56.20 C373.88,56.20 377.47,56.75 380.00,57.80 C382.53,58.85 384.75,60.47 386.00,62.50 C387.25,64.53 387.38,67.42 387.50,70.00 C387.62,72.58 387.45,75.58 386.70,78.00 C385.95,80.42 384.88,82.67 383.00,84.50 C381.12,86.33 378.20,88.17 375.40,89.00 C372.60,89.83 369.02,89.92 366.20,89.50 C363.38,89.08 360.57,88.00 358.50,86.50 C356.43,85.00 354.80,82.92 353.80,80.50 C352.80,78.08 352.37,75.00 352.50,72.00 C352.63,69.00 353.10,64.87 354.60,62.50Z" fill="url(#cd4g)" opacity="0.55"/>
<g fill="none" stroke-width="0.5" opacity="1" stroke-linejoin="round"><path d="M352.25,73.50L352.29,72.84L352.36,72.19L352.43,71.54L352.52,70.89L352.63,70.24L352.75,69.60L352.88,68.95L353.03,68.31L353.20,67.67L353.39,67.03L353.60,66.40L353.83,65.77L354.09,65.15L354.37,64.54L354.68,63.93L355.02,63.35L355.40,62.78L355.80,62.22L356.23,61.69L356.69,61.19L357.18,60.71L357.69,60.26L358.23,59.84L358.79,59.45L359.37,59.09L359.97,58.77L360.58,58.47L361.20,58.20L361.83,57.96L362.47,57.74L363.11,57.54L363.76,57.36L364.40,57.20L365.05,57.05L365.70,56.92L366.35,56.79L367.01,56.67L367.67,56.55L368.33,56.44L369.00,56.33L369.68,56.22L370.37,56.12L371.07,56.02L371.78,55.92L372.51,55.84L373.26,55.76L374.02,55.71L374.79,55.67L375.58,55.66L376.38,55.68L377.19,55.74L378.00,55.84L378.81,55.99L379.61,56.19L380.39,56.45L381.16,56.76L381.90,57.14L382.60,57.58L383.26,58.07L383.87,58.63L384.43,59.24L384.93,59.90L385.36,60.60L385.74,61.34L386.05,62.11L386.30,62.90L386.49,63.70L386.64,64.51L386.73,65.33L386.78,66.13L386.80,66.93L386.80,67.72L386.77,68.49L386.73,69.24L386.67,69.98L386.62,70.71L386.56,71.42L386.50,72.12L386.45,72.81L386.39,73.50L386.34,74.18L386.29,74.86L386.23,75.54L386.17,76.22L386.09,76.90L386.00,77.58L385.89,78.26L385.75,78.94L385.58,79.62L385.38,80.28L385.14,80.94L384.86,81.58L384.55,82.21L384.20,82.81L383.81,83.40L383.39,83.95L382.93,84.48L382.45,84.99L381.94,85.46L381.41,85.91L380.86,86.33L380.29,86.72L379.72,87.10L379.13,87.45L378.54,87.78L377.94,88.09L377.34,88.39L376.73,88.67L376.12,88.93L375.50,89.18L374.87,89.41L374.24,89.62L373.60,89.81L372.96,89.98L372.31,90.12L371.65,90.24L370.99,90.32L370.33,90.38L369.66,90.39L369.00,90.38L368.34,90.33L367.68,90.24L367.03,90.12L366.39,89.97L365.76,89.79L365.14,89.58L364.53,89.35L363.93,89.10L363.34,88.83L362.77,88.55L362.20,88.25L361.64,87.95L361.09,87.63L360.54,87.31L360.00,86.97L359.46,86.63L358.92,86.28L358.39,85.92L357.87,85.54L357.35,85.15L356.84,84.74L356.35,84.31L355.86,83.86L355.40,83.38L354.96,82.88L354.54,82.36L354.15,81.81L353.80,81.25L353.48,80.66L353.20,80.05L352.95,79.42L352.74,78.78L352.57,78.13L352.44,77.48L352.34,76.81L352.27,76.15L352.23,75.49L352.21,74.82L352.22,74.16Z" stroke="#787878"/><path d="M355.29,73.50L355.25,72.96L355.20,72.41L355.15,71.86L355.11,71.30L355.06,70.73L355.03,70.15L355.00,69.55L354.99,68.95L355.01,68.34L355.04,67.72L355.12,67.10L355.22,66.48L355.37,65.87L355.57,65.27L355.80,64.68L356.09,64.12L356.43,63.59L356.81,63.09L357.23,62.62L357.69,62.19L358.19,61.81L358.72,61.47L359.28,61.16L359.85,60.90L360.44,60.68L361.03,60.50L361.63,60.34L362.23,60.21L362.82,60.10L363.41,60.01L364.00,59.94L364.57,59.87L365.14,59.80L365.70,59.74L366.25,59.67L366.80,59.60L367.35,59.52L367.89,59.43L368.44,59.34L369.00,59.25L369.56,59.15L370.14,59.05L370.72,58.96L371.32,58.87L371.93,58.79L372.55,58.73L373.18,58.68L373.82,58.66L374.47,58.68L375.12,58.72L375.78,58.80L376.43,58.92L377.07,59.09L377.70,59.30L378.31,59.56L378.90,59.87L379.47,60.22L380.00,60.62L380.50,61.06L380.96,61.54L381.39,62.05L381.78,62.59L382.12,63.15L382.44,63.74L382.71,64.34L382.96,64.95L383.17,65.56L383.36,66.18L383.53,66.80L383.68,67.42L383.81,68.04L383.92,68.65L384.03,69.26L384.12,69.87L384.21,70.47L384.28,71.08L384.35,71.68L384.41,72.29L384.46,72.89L384.50,73.50L384.52,74.11L384.52,74.72L384.50,75.33L384.46,75.95L384.40,76.56L384.30,77.17L384.17,77.78L384.01,78.38L383.82,78.97L383.59,79.54L383.32,80.10L383.02,80.65L382.69,81.17L382.33,81.67L381.94,82.14L381.52,82.60L381.08,83.02L380.63,83.43L380.15,83.81L379.67,84.17L379.18,84.51L378.67,84.83L378.17,85.13L377.66,85.41L377.14,85.68L376.62,85.94L376.10,86.18L375.58,86.41L375.05,86.62L374.52,86.82L373.98,87.00L373.44,87.17L372.89,87.31L372.34,87.43L371.79,87.53L371.23,87.61L370.68,87.66L370.12,87.68L369.56,87.68L369.00,87.65L368.45,87.59L367.90,87.51L367.35,87.41L366.82,87.29L366.29,87.15L365.76,86.99L365.25,86.81L364.74,86.62L364.23,86.43L363.73,86.22L363.24,86.00L362.75,85.77L362.26,85.53L361.78,85.29L361.30,85.03L360.82,84.75L360.36,84.46L359.90,84.16L359.45,83.83L359.02,83.48L358.60,83.12L358.20,82.73L357.82,82.31L357.47,81.88L357.15,81.42L356.85,80.94L356.59,80.45L356.36,79.94L356.16,79.42L356.00,78.89L355.85,78.35L355.74,77.81L355.65,77.27L355.57,76.72L355.51,76.18L355.46,75.64L355.41,75.11L355.37,74.57L355.33,74.04Z" stroke="#737373"/><path d="M356.27,73.50L356.26,73.00L356.25,72.50L356.27,71.99L356.30,71.49L356.35,70.98L356.41,70.48L356.50,69.97L356.60,69.47L356.72,68.97L356.86,68.47L357.03,67.98L357.21,67.49L357.41,67.01L357.64,66.54L357.89,66.08L358.16,65.62L358.45,65.18L358.76,64.76L359.10,64.35L359.45,63.95L359.82,63.57L360.21,63.21L360.62,62.87L361.04,62.54L361.48,62.24L361.93,61.96L362.39,61.70L362.87,61.46L363.35,61.25L363.84,61.05L364.34,60.88L364.85,60.73L365.36,60.61L365.88,60.50L366.40,60.42L366.92,60.36L367.44,60.32L367.96,60.30L368.48,60.30L369.00,60.32L369.52,60.35L370.03,60.40L370.54,60.47L371.05,60.55L371.56,60.64L372.06,60.75L372.56,60.86L373.06,60.99L373.56,61.13L374.06,61.29L374.55,61.45L375.05,61.63L375.54,61.82L376.03,62.03L376.52,62.25L377.00,62.49L377.47,62.75L377.94,63.03L378.40,63.33L378.85,63.65L379.29,63.99L379.71,64.35L380.12,64.73L380.50,65.14L380.87,65.57L381.21,66.02L381.52,66.49L381.81,66.97L382.08,67.47L382.31,67.99L382.52,68.51L382.70,69.05L382.85,69.59L382.97,70.15L383.07,70.70L383.14,71.26L383.20,71.82L383.22,72.38L383.23,72.94L383.21,73.50L383.18,74.06L383.12,74.61L383.04,75.16L382.94,75.71L382.81,76.25L382.66,76.78L382.49,77.30L382.29,77.82L382.07,78.32L381.82,78.81L381.55,79.29L381.26,79.75L380.94,80.19L380.61,80.61L380.25,81.02L379.88,81.41L379.50,81.77L379.10,82.13L378.69,82.46L378.28,82.78L377.85,83.08L377.43,83.37L376.99,83.64L376.56,83.90L376.12,84.15L375.68,84.39L375.23,84.62L374.78,84.84L374.33,85.05L373.87,85.25L373.40,85.43L372.93,85.60L372.45,85.75L371.97,85.88L371.48,85.99L370.99,86.07L370.50,86.14L370.00,86.17L369.50,86.18L369.00,86.17L368.50,86.12L368.01,86.05L367.53,85.95L367.05,85.82L366.58,85.67L366.12,85.51L365.67,85.32L365.23,85.11L364.80,84.89L364.38,84.66L363.96,84.42L363.56,84.17L363.17,83.92L362.78,83.66L362.39,83.39L362.01,83.11L361.64,82.83L361.27,82.55L360.91,82.26L360.55,81.95L360.19,81.64L359.84,81.32L359.50,80.99L359.17,80.64L358.85,80.28L358.54,79.91L358.25,79.52L357.98,79.12L357.72,78.70L357.49,78.27L357.27,77.83L357.08,77.37L356.91,76.91L356.76,76.44L356.63,75.96L356.52,75.48L356.43,74.99L356.36,74.49L356.31,74.00Z" stroke="#6f6f6f"/><path d="M357.91,73.50L357.90,73.06L357.90,72.63L357.92,72.19L357.95,71.75L358.00,71.31L358.06,70.87L358.14,70.44L358.23,70.00L358.34,69.57L358.46,69.13L358.60,68.71L358.76,68.28L358.93,67.86L359.12,67.45L359.34,67.04L359.57,66.65L359.81,66.26L360.08,65.88L360.37,65.52L360.68,65.18L361.01,64.85L361.35,64.54L361.71,64.25L362.09,63.99L362.48,63.74L362.89,63.52L363.30,63.32L363.72,63.15L364.16,62.99L364.59,62.86L365.03,62.74L365.47,62.64L365.92,62.56L366.36,62.49L366.80,62.44L367.24,62.39L367.68,62.35L368.12,62.31L368.56,62.28L369.00,62.24L369.44,62.21L369.89,62.18L370.34,62.16L370.80,62.13L371.27,62.11L371.74,62.09L372.22,62.08L372.71,62.08L373.21,62.09L373.71,62.12L374.22,62.17L374.73,62.25L375.24,62.36L375.74,62.50L376.23,62.68L376.71,62.89L377.17,63.14L377.60,63.42L378.01,63.75L378.39,64.11L378.73,64.51L379.03,64.93L379.30,65.38L379.53,65.85L379.72,66.33L379.89,66.83L380.02,67.33L380.12,67.83L380.20,68.33L380.27,68.83L380.33,69.32L380.38,69.80L380.42,70.28L380.47,70.75L380.52,71.21L380.57,71.67L380.64,72.12L380.70,72.58L380.77,73.04L380.85,73.50L380.92,73.97L380.98,74.44L381.04,74.92L381.08,75.41L381.09,75.91L381.09,76.40L381.05,76.90L380.97,77.39L380.86,77.88L380.71,78.35L380.51,78.81L380.27,79.24L379.99,79.65L379.67,80.04L379.31,80.39L378.92,80.71L378.51,81.00L378.08,81.25L377.63,81.48L377.17,81.67L376.71,81.84L376.26,82.00L375.81,82.13L375.36,82.26L374.93,82.38L374.51,82.50L374.11,82.62L373.71,82.75L373.32,82.88L372.94,83.02L372.57,83.18L372.20,83.34L371.82,83.51L371.44,83.68L371.06,83.86L370.67,84.03L370.27,84.20L369.85,84.36L369.43,84.50L369.00,84.62L368.56,84.72L368.11,84.79L367.66,84.82L367.21,84.83L366.75,84.80L366.30,84.73L365.86,84.64L365.42,84.50L365.00,84.34L364.59,84.15L364.19,83.93L363.81,83.69L363.44,83.43L363.09,83.15L362.75,82.86L362.42,82.55L362.11,82.24L361.81,81.91L361.53,81.58L361.25,81.25L360.98,80.91L360.72,80.57L360.47,80.23L360.22,79.88L359.98,79.53L359.75,79.17L359.53,78.80L359.32,78.43L359.12,78.05L358.93,77.67L358.76,77.28L358.60,76.88L358.45,76.47L358.33,76.06L358.21,75.65L358.12,75.22L358.04,74.80L357.98,74.37L357.94,73.93Z" stroke="#6a6a6a"/><path d="M358.99,73.50L359.03,73.11L359.09,72.72L359.16,72.34L359.25,71.96L359.36,71.58L359.48,71.22L359.62,70.85L359.77,70.50L359.93,70.15L360.10,69.81L360.28,69.48L360.46,69.15L360.65,68.82L360.84,68.50L361.04,68.18L361.24,67.86L361.44,67.54L361.65,67.22L361.86,66.90L362.08,66.58L362.31,66.26L362.55,65.94L362.80,65.63L363.06,65.32L363.34,65.02L363.63,64.74L363.94,64.46L364.27,64.21L364.61,63.97L364.97,63.76L365.34,63.58L365.73,63.42L366.12,63.29L366.53,63.19L366.94,63.13L367.35,63.09L367.77,63.07L368.18,63.09L368.59,63.13L369.00,63.18L369.40,63.26L369.80,63.35L370.19,63.45L370.58,63.55L370.96,63.67L371.33,63.78L371.71,63.89L372.09,64.00L372.47,64.10L372.85,64.20L373.24,64.30L373.64,64.40L374.04,64.50L374.45,64.61L374.87,64.72L375.29,64.84L375.72,64.98L376.14,65.14L376.56,65.32L376.97,65.53L377.37,65.77L377.74,66.03L378.09,66.33L378.41,66.66L378.70,67.02L378.95,67.40L379.16,67.81L379.33,68.24L379.46,68.68L379.55,69.13L379.61,69.59L379.63,70.05L379.62,70.50L379.59,70.96L379.54,71.40L379.48,71.84L379.41,72.27L379.33,72.69L379.26,73.10L379.19,73.50L379.12,73.90L379.06,74.29L379.01,74.68L378.97,75.08L378.93,75.47L378.89,75.87L378.85,76.28L378.81,76.69L378.75,77.10L378.69,77.51L378.61,77.93L378.50,78.34L378.38,78.75L378.22,79.15L378.04,79.54L377.82,79.91L377.57,80.26L377.30,80.59L376.99,80.89L376.66,81.16L376.31,81.40L375.93,81.62L375.54,81.80L375.14,81.96L374.74,82.08L374.32,82.19L373.91,82.27L373.50,82.33L373.09,82.37L372.69,82.41L372.29,82.43L371.91,82.44L371.53,82.45L371.15,82.46L370.78,82.47L370.42,82.47L370.06,82.48L369.71,82.49L369.35,82.50L369.00,82.50L368.65,82.51L368.29,82.52L367.93,82.51L367.57,82.51L367.21,82.49L366.85,82.47L366.48,82.43L366.11,82.38L365.75,82.32L365.38,82.24L365.01,82.15L364.65,82.03L364.29,81.91L363.94,81.76L363.59,81.59L363.25,81.41L362.92,81.22L362.59,81.00L362.28,80.77L361.98,80.52L361.68,80.26L361.40,79.99L361.13,79.70L360.88,79.40L360.63,79.09L360.41,78.77L360.19,78.43L359.99,78.09L359.81,77.74L359.64,77.38L359.50,77.01L359.36,76.63L359.25,76.25L359.16,75.86L359.08,75.47L359.02,75.08L358.99,74.69L358.97,74.29L358.97,73.89Z" stroke="#666666"/><path d="M360.75,73.50L360.76,73.18L360.78,72.85L360.79,72.53L360.81,72.20L360.82,71.87L360.84,71.54L360.87,71.21L360.90,70.87L360.94,70.53L361.00,70.18L361.06,69.84L361.14,69.50L361.25,69.16L361.37,68.82L361.51,68.49L361.67,68.17L361.85,67.87L362.06,67.57L362.29,67.29L362.53,67.03L362.80,66.79L363.08,66.57L363.37,66.36L363.68,66.17L363.99,66.01L364.32,65.86L364.65,65.72L364.98,65.61L365.31,65.50L365.65,65.41L365.98,65.32L366.32,65.25L366.65,65.18L366.99,65.11L367.32,65.06L367.65,65.00L367.99,64.96L368.32,64.91L368.66,64.87L369.00,64.84L369.34,64.81L369.69,64.79L370.03,64.78L370.38,64.77L370.74,64.78L371.09,64.80L371.45,64.83L371.80,64.87L372.16,64.93L372.52,65.01L372.87,65.10L373.22,65.22L373.57,65.35L373.90,65.50L374.23,65.67L374.56,65.85L374.87,66.05L375.17,66.27L375.46,66.51L375.74,66.76L376.00,67.03L376.25,67.30L376.49,67.59L376.72,67.89L376.93,68.20L377.13,68.52L377.31,68.84L377.48,69.18L377.64,69.52L377.78,69.86L377.91,70.21L378.03,70.57L378.13,70.93L378.21,71.29L378.28,71.65L378.34,72.02L378.38,72.39L378.40,72.76L378.40,73.13L378.39,73.50L378.36,73.87L378.31,74.23L378.25,74.59L378.17,74.95L378.07,75.30L377.95,75.65L377.82,75.99L377.67,76.32L377.50,76.64L377.33,76.95L377.14,77.25L376.94,77.54L376.73,77.83L376.51,78.10L376.28,78.37L376.05,78.62L375.81,78.87L375.57,79.11L375.32,79.35L375.08,79.58L374.82,79.80L374.57,80.02L374.31,80.23L374.04,80.44L373.77,80.64L373.49,80.83L373.21,81.01L372.92,81.19L372.62,81.35L372.31,81.50L372.00,81.64L371.68,81.76L371.36,81.86L371.03,81.94L370.69,82.01L370.35,82.05L370.01,82.07L369.67,82.07L369.34,82.06L369.00,82.02L368.67,81.97L368.34,81.90L368.02,81.82L367.70,81.72L367.39,81.62L367.08,81.50L366.78,81.38L366.48,81.26L366.18,81.14L365.89,81.01L365.60,80.88L365.31,80.74L365.02,80.61L364.73,80.47L364.44,80.33L364.15,80.18L363.86,80.02L363.57,79.86L363.29,79.68L363.01,79.49L362.74,79.29L362.48,79.07L362.24,78.83L362.00,78.58L361.79,78.32L361.59,78.04L361.42,77.75L361.27,77.44L361.13,77.13L361.02,76.80L360.93,76.48L360.86,76.14L360.81,75.81L360.77,75.48L360.75,75.14L360.74,74.81L360.73,74.48L360.73,74.15L360.74,73.82Z" stroke="#626262"/><path d="M361.75,73.50L361.72,73.21L361.69,72.92L361.67,72.63L361.66,72.34L361.65,72.04L361.66,71.74L361.68,71.44L361.71,71.13L361.76,70.83L361.82,70.53L361.90,70.23L362.00,69.94L362.13,69.65L362.27,69.37L362.42,69.11L362.60,68.85L362.80,68.61L363.01,68.38L363.23,68.17L363.47,67.97L363.72,67.78L363.97,67.61L364.23,67.45L364.50,67.31L364.77,67.18L365.05,67.05L365.33,66.94L365.60,66.83L365.88,66.73L366.16,66.64L366.44,66.55L366.72,66.47L367.00,66.40L367.28,66.32L367.56,66.26L367.84,66.20L368.13,66.15L368.42,66.10L368.71,66.06L369.00,66.03L369.29,66.01L369.59,66.01L369.89,66.01L370.18,66.02L370.48,66.05L370.78,66.08L371.08,66.13L371.37,66.20L371.67,66.27L371.96,66.36L372.24,66.46L372.53,66.58L372.81,66.70L373.08,66.84L373.35,66.99L373.62,67.14L373.88,67.31L374.13,67.49L374.38,67.68L374.62,67.88L374.85,68.09L375.07,68.31L375.29,68.54L375.49,68.78L375.69,69.03L375.87,69.29L376.04,69.56L376.20,69.83L376.34,70.11L376.47,70.41L376.58,70.70L376.68,71.00L376.76,71.31L376.83,71.62L376.88,71.93L376.91,72.25L376.92,72.56L376.93,72.88L376.92,73.19L376.89,73.50L376.85,73.81L376.80,74.11L376.74,74.42L376.67,74.72L376.59,75.01L376.50,75.30L376.40,75.59L376.30,75.87L376.18,76.15L376.06,76.42L375.93,76.70L375.80,76.96L375.65,77.23L375.50,77.48L375.34,77.74L375.18,77.99L375.00,78.23L374.82,78.47L374.63,78.70L374.43,78.93L374.22,79.15L374.00,79.36L373.77,79.56L373.54,79.74L373.29,79.92L373.04,80.09L372.77,80.24L372.50,80.37L372.22,80.49L371.94,80.60L371.65,80.68L371.36,80.75L371.06,80.81L370.76,80.84L370.46,80.86L370.17,80.86L369.87,80.85L369.58,80.82L369.29,80.77L369.00,80.72L368.72,80.65L368.44,80.57L368.17,80.49L367.91,80.40L367.65,80.30L367.39,80.20L367.14,80.10L366.89,80.00L366.64,79.89L366.40,79.78L366.16,79.67L365.91,79.56L365.67,79.44L365.43,79.32L365.19,79.20L364.96,79.07L364.72,78.93L364.49,78.78L364.26,78.62L364.04,78.46L363.83,78.28L363.62,78.09L363.42,77.90L363.24,77.69L363.06,77.47L362.90,77.24L362.75,77.00L362.62,76.75L362.49,76.50L362.38,76.24L362.28,75.98L362.19,75.71L362.11,75.44L362.04,75.17L361.98,74.90L361.92,74.62L361.87,74.34L361.83,74.06L361.79,73.78Z" stroke="#5d5d5d"/><path d="M363.21,73.50L363.26,73.27L363.31,73.05L363.36,72.83L363.41,72.61L363.45,72.40L363.49,72.18L363.54,71.96L363.58,71.74L363.62,71.51L363.66,71.29L363.70,71.06L363.74,70.82L363.79,70.59L363.85,70.35L363.92,70.11L364.00,69.87L364.09,69.63L364.20,69.40L364.32,69.18L364.46,68.96L364.61,68.75L364.77,68.55L364.95,68.37L365.15,68.20L365.35,68.04L365.57,67.90L365.79,67.78L366.03,67.67L366.27,67.57L366.51,67.49L366.76,67.42L367.00,67.36L367.25,67.31L367.50,67.27L367.75,67.23L368.00,67.20L368.25,67.18L368.50,67.16L368.75,67.15L369.00,67.14L369.25,67.13L369.50,67.12L369.76,67.12L370.01,67.12L370.27,67.13L370.53,67.14L370.79,67.16L371.05,67.19L371.31,67.23L371.57,67.29L371.83,67.35L372.09,67.43L372.34,67.53L372.59,67.64L372.83,67.77L373.05,67.92L373.27,68.08L373.47,68.26L373.67,68.45L373.84,68.66L374.00,68.87L374.15,69.10L374.28,69.33L374.40,69.57L374.51,69.82L374.61,70.06L374.70,70.31L374.78,70.56L374.85,70.80L374.92,71.05L374.98,71.29L375.04,71.54L375.10,71.78L375.16,72.02L375.21,72.26L375.27,72.51L375.32,72.75L375.37,73.00L375.41,73.25L375.45,73.50L375.48,73.75L375.50,74.01L375.50,74.27L375.50,74.53L375.48,74.79L375.45,75.05L375.40,75.30L375.33,75.56L375.24,75.80L375.14,76.04L375.02,76.27L374.88,76.50L374.73,76.71L374.56,76.91L374.38,77.10L374.20,77.28L374.00,77.44L373.80,77.60L373.59,77.75L373.39,77.89L373.18,78.02L372.97,78.14L372.76,78.26L372.55,78.38L372.34,78.50L372.13,78.61L371.92,78.72L371.71,78.83L371.50,78.93L371.29,79.04L371.08,79.13L370.86,79.23L370.64,79.32L370.42,79.40L370.19,79.47L369.95,79.53L369.72,79.58L369.48,79.61L369.24,79.64L369.00,79.65L368.76,79.64L368.52,79.63L368.28,79.60L368.04,79.55L367.81,79.50L367.58,79.43L367.35,79.36L367.12,79.28L366.90,79.19L366.68,79.10L366.47,79.00L366.25,78.89L366.04,78.79L365.83,78.67L365.62,78.56L365.41,78.44L365.20,78.32L365.00,78.18L364.80,78.05L364.60,77.90L364.40,77.75L364.22,77.58L364.04,77.41L363.87,77.23L363.72,77.03L363.57,76.82L363.45,76.61L363.34,76.39L363.24,76.15L363.17,75.92L363.11,75.67L363.07,75.43L363.05,75.18L363.04,74.93L363.04,74.69L363.06,74.44L363.09,74.20L363.12,73.96L363.16,73.73Z" stroke="#595959"/><path d="M364.03,73.50L364.03,73.30L364.03,73.11L364.04,72.91L364.05,72.72L364.06,72.52L364.08,72.32L364.10,72.12L364.13,71.92L364.17,71.72L364.21,71.52L364.26,71.31L364.32,71.12L364.39,70.92L364.47,70.73L364.57,70.54L364.67,70.36L364.79,70.18L364.92,70.02L365.07,69.86L365.22,69.72L365.39,69.59L365.56,69.47L365.74,69.37L365.93,69.28L366.13,69.20L366.33,69.14L366.53,69.08L366.73,69.04L366.93,69.00L367.12,68.97L367.32,68.95L367.51,68.93L367.71,68.91L367.89,68.89L368.08,68.87L368.26,68.86L368.45,68.83L368.63,68.81L368.81,68.78L369.00,68.75L369.19,68.72L369.38,68.69L369.57,68.66L369.77,68.62L369.98,68.59L370.19,68.56L370.40,68.54L370.62,68.53L370.84,68.52L371.06,68.52L371.29,68.54L371.51,68.57L371.73,68.62L371.95,68.68L372.17,68.76L372.38,68.85L372.58,68.96L372.77,69.09L372.94,69.23L373.11,69.39L373.26,69.56L373.40,69.74L373.52,69.93L373.64,70.13L373.73,70.34L373.82,70.55L373.89,70.76L373.96,70.97L374.01,71.19L374.06,71.40L374.10,71.62L374.14,71.83L374.17,72.04L374.20,72.25L374.22,72.46L374.24,72.67L374.25,72.88L374.26,73.09L374.26,73.29L374.26,73.50L374.26,73.71L374.24,73.91L374.22,74.12L374.19,74.32L374.15,74.53L374.10,74.73L374.04,74.92L373.97,75.12L373.89,75.30L373.80,75.49L373.70,75.67L373.59,75.84L373.47,76.00L373.34,76.16L373.21,76.31L373.07,76.46L372.93,76.60L372.78,76.73L372.63,76.86L372.49,76.99L372.34,77.11L372.18,77.23L372.03,77.35L371.88,77.46L371.72,77.58L371.57,77.69L371.41,77.80L371.25,77.91L371.08,78.02L370.91,78.12L370.74,78.22L370.56,78.30L370.38,78.39L370.19,78.46L370.00,78.52L369.80,78.57L369.60,78.61L369.40,78.63L369.20,78.64L369.00,78.63L368.80,78.61L368.60,78.58L368.40,78.53L368.21,78.48L368.02,78.41L367.84,78.33L367.66,78.25L367.49,78.15L367.32,78.06L367.15,77.96L366.99,77.85L366.83,77.75L366.68,77.64L366.53,77.54L366.37,77.43L366.22,77.32L366.07,77.21L365.92,77.10L365.77,76.99L365.63,76.87L365.48,76.75L365.34,76.63L365.20,76.50L365.06,76.36L364.93,76.22L364.80,76.07L364.69,75.91L364.58,75.75L364.48,75.58L364.40,75.41L364.32,75.23L364.25,75.04L364.19,74.86L364.15,74.67L364.11,74.47L364.08,74.28L364.06,74.09L364.04,73.89L364.03,73.70Z" stroke="#555555"/><path d="M365.24,73.50L365.24,73.35L365.23,73.20L365.23,73.05L365.22,72.90L365.23,72.75L365.24,72.60L365.25,72.44L365.27,72.29L365.30,72.13L365.33,71.98L365.38,71.83L365.43,71.68L365.49,71.54L365.57,71.40L365.65,71.26L365.74,71.13L365.84,71.01L365.95,70.89L366.06,70.78L366.18,70.68L366.30,70.58L366.43,70.49L366.55,70.40L366.69,70.31L366.82,70.23L366.95,70.16L367.09,70.08L367.22,70.01L367.36,69.94L367.50,69.87L367.64,69.81L367.78,69.74L367.92,69.68L368.07,69.62L368.22,69.57L368.37,69.52L368.52,69.47L368.68,69.44L368.84,69.40L369.00,69.38L369.16,69.37L369.33,69.36L369.49,69.36L369.65,69.38L369.82,69.40L369.98,69.43L370.13,69.48L370.29,69.53L370.44,69.59L370.59,69.66L370.73,69.74L370.87,69.82L371.01,69.91L371.14,70.01L371.27,70.11L371.39,70.21L371.51,70.32L371.63,70.42L371.74,70.54L371.85,70.65L371.96,70.77L372.06,70.88L372.17,71.00L372.27,71.13L372.36,71.25L372.46,71.38L372.55,71.51L372.63,71.65L372.71,71.79L372.79,71.93L372.86,72.08L372.92,72.23L372.97,72.38L373.01,72.54L373.05,72.69L373.08,72.85L373.10,73.01L373.11,73.18L373.11,73.34L373.11,73.50L373.10,73.66L373.08,73.82L373.06,73.98L373.03,74.14L372.99,74.29L372.95,74.45L372.90,74.60L372.85,74.75L372.80,74.90L372.74,75.05L372.68,75.20L372.61,75.34L372.54,75.48L372.47,75.62L372.39,75.76L372.30,75.90L372.21,76.03L372.11,76.16L372.01,76.29L371.91,76.41L371.79,76.52L371.67,76.63L371.55,76.73L371.42,76.83L371.28,76.91L371.14,76.99L370.99,77.06L370.84,77.12L370.69,77.17L370.54,77.21L370.38,77.24L370.22,77.26L370.07,77.28L369.91,77.28L369.75,77.28L369.60,77.27L369.44,77.26L369.29,77.24L369.15,77.21L369.00,77.19L368.86,77.16L368.71,77.13L368.57,77.10L368.44,77.06L368.30,77.03L368.16,77.00L368.02,76.97L367.88,76.94L367.74,76.91L367.60,76.87L367.46,76.84L367.32,76.80L367.18,76.76L367.03,76.71L366.89,76.66L366.75,76.60L366.61,76.53L366.48,76.46L366.35,76.37L366.22,76.28L366.10,76.18L365.99,76.07L365.89,75.95L365.79,75.83L365.71,75.70L365.63,75.56L365.57,75.42L365.51,75.28L365.46,75.13L365.42,74.98L365.39,74.83L365.36,74.68L365.34,74.53L365.32,74.38L365.30,74.24L365.29,74.09L365.27,73.94L365.26,73.79L365.25,73.65Z" stroke="#505050"/><path d="M366.19,73.50L366.20,73.39L366.21,73.28L366.23,73.17L366.25,73.06L366.27,72.96L366.30,72.85L366.33,72.75L366.36,72.64L366.39,72.54L366.43,72.43L366.46,72.33L366.50,72.23L366.55,72.13L366.59,72.03L366.64,71.93L366.70,71.83L366.76,71.73L366.82,71.64L366.89,71.55L366.96,71.46L367.04,71.38L367.12,71.30L367.21,71.23L367.30,71.17L367.40,71.10L367.50,71.05L367.60,71.00L367.70,70.96L367.81,70.92L367.92,70.89L368.03,70.86L368.13,70.84L368.24,70.81L368.35,70.80L368.46,70.78L368.57,70.77L368.68,70.76L368.78,70.75L368.89,70.74L369.00,70.73L369.11,70.72L369.22,70.71L369.33,70.70L369.44,70.70L369.56,70.69L369.68,70.69L369.79,70.69L369.91,70.69L370.03,70.70L370.15,70.72L370.27,70.74L370.39,70.77L370.51,70.80L370.63,70.85L370.74,70.90L370.85,70.96L370.95,71.03L371.04,71.11L371.13,71.20L371.21,71.29L371.28,71.39L371.35,71.49L371.41,71.60L371.46,71.72L371.50,71.83L371.54,71.95L371.57,72.06L371.60,72.18L371.62,72.29L371.64,72.41L371.66,72.52L371.68,72.63L371.71,72.74L371.73,72.85L371.75,72.95L371.77,73.06L371.80,73.17L371.82,73.28L371.85,73.39L371.87,73.50L371.89,73.61L371.91,73.73L371.93,73.85L371.94,73.96L371.94,74.08L371.93,74.20L371.92,74.32L371.90,74.44L371.87,74.56L371.83,74.67L371.78,74.78L371.72,74.88L371.65,74.98L371.57,75.08L371.49,75.16L371.40,75.24L371.30,75.32L371.21,75.38L371.11,75.45L371.00,75.50L370.90,75.56L370.80,75.61L370.70,75.65L370.60,75.70L370.50,75.75L370.40,75.79L370.31,75.83L370.21,75.88L370.12,75.92L370.02,75.97L369.93,76.02L369.83,76.06L369.74,76.11L369.64,76.15L369.54,76.19L369.43,76.23L369.33,76.26L369.22,76.29L369.11,76.31L369.00,76.32L368.89,76.33L368.78,76.33L368.67,76.32L368.56,76.30L368.45,76.28L368.34,76.24L368.24,76.21L368.14,76.16L368.04,76.11L367.94,76.06L367.85,76.00L367.76,75.94L367.67,75.87L367.59,75.81L367.50,75.74L367.42,75.67L367.34,75.60L367.26,75.53L367.18,75.47L367.10,75.40L367.03,75.32L366.95,75.25L366.87,75.18L366.80,75.10L366.73,75.02L366.66,74.94L366.59,74.85L366.52,74.76L366.46,74.67L366.41,74.57L366.36,74.47L366.32,74.37L366.28,74.27L366.25,74.16L366.22,74.05L366.21,73.94L366.19,73.83L366.19,73.72L366.19,73.61Z" stroke="#4c4c4c"/><path d="M367.29,73.50L367.29,73.43L367.29,73.37L367.30,73.30L367.30,73.23L367.31,73.16L367.32,73.10L367.33,73.03L367.35,72.96L367.37,72.90L367.39,72.83L367.41,72.77L367.44,72.70L367.46,72.64L367.50,72.58L367.53,72.52L367.57,72.46L367.61,72.41L367.66,72.35L367.70,72.30L367.75,72.25L367.81,72.21L367.86,72.16L367.92,72.12L367.97,72.09L368.03,72.05L368.09,72.02L368.15,71.99L368.21,71.96L368.28,71.93L368.34,71.91L368.40,71.88L368.47,71.86L368.53,71.84L368.60,71.83L368.66,71.81L368.73,71.80L368.80,71.79L368.86,71.78L368.93,71.77L369.00,71.77L369.07,71.76L369.14,71.76L369.21,71.76L369.27,71.77L369.34,71.77L369.41,71.78L369.48,71.79L369.55,71.80L369.62,71.82L369.69,71.84L369.76,71.86L369.82,71.88L369.89,71.91L369.96,71.94L370.02,71.97L370.09,72.01L370.15,72.04L370.21,72.09L370.27,72.13L370.32,72.18L370.38,72.23L370.43,72.28L370.48,72.33L370.53,72.39L370.57,72.45L370.61,72.51L370.65,72.58L370.68,72.64L370.71,72.71L370.73,72.78L370.76,72.85L370.78,72.92L370.79,72.99L370.80,73.07L370.81,73.14L370.82,73.21L370.82,73.28L370.83,73.36L370.82,73.43L370.82,73.50L370.81,73.57L370.81,73.64L370.79,73.71L370.78,73.78L370.76,73.85L370.75,73.92L370.73,73.99L370.70,74.05L370.68,74.12L370.65,74.18L370.62,74.25L370.59,74.31L370.55,74.37L370.52,74.43L370.48,74.49L370.43,74.54L370.39,74.59L370.34,74.65L370.29,74.70L370.24,74.74L370.19,74.79L370.14,74.83L370.08,74.87L370.02,74.91L369.96,74.94L369.90,74.97L369.84,75.00L369.78,75.03L369.72,75.06L369.65,75.08L369.59,75.10L369.52,75.11L369.46,75.13L369.39,75.14L369.33,75.15L369.26,75.16L369.20,75.16L369.13,75.17L369.07,75.17L369.00,75.17L368.93,75.16L368.87,75.16L368.80,75.15L368.74,75.14L368.68,75.13L368.61,75.11L368.55,75.10L368.49,75.08L368.42,75.07L368.36,75.05L368.30,75.02L368.24,75.00L368.17,74.98L368.11,74.95L368.05,74.92L367.99,74.89L367.93,74.85L367.88,74.81L367.82,74.77L367.77,74.73L367.72,74.69L367.67,74.64L367.62,74.59L367.58,74.53L367.54,74.48L367.50,74.42L367.47,74.36L367.44,74.30L367.41,74.23L367.38,74.17L367.36,74.10L367.35,74.04L367.33,73.97L367.32,73.90L367.31,73.84L367.30,73.77L367.29,73.70L367.29,73.63L367.29,73.57Z" stroke="#484848"/></g>
<path d="M374.4,92.9h0.01M367.6,55.6h0.01M389.5,75.5h0.01M352.2,80.7h0.01M376.1,51.2h0.01M355.8,57.1h0.01M381.1,52.7h0.01M390.7,80.3h0.01M358.6,54.8h0.01M385.6,85.3h0.01M366.9,94.3h0.01M354.6,60.9h0.01M381.9,58.0h0.01M351.9,66.7h0.01M362.1,53.4h0.01M387.4,67.3h0.01M378.5,54.6h0.01M382.0,58.3h0.01M353.9,66.2h0.01M348.5,74.5h0.01M350.0,62.4h0.01M349.8,75.9h0.01M353.0,60.5h0.01M387.6,65.4h0.01M385.7,78.1h0.01M351.2,83.4h0.01M385.1,90.2h0.01M379.3,88.2h0.01M368.6,56.3h0.01M348.2,69.9h0.01M359.6,88.4h0.01M360.7,54.2h0.01M356.6,91.5h0.01M358.1,54.1h0.01M359.1,91.4h0.01" stroke="#444" stroke-width="0.96" stroke-linecap="round" opacity="0.9"/>
<g fill="none" stroke-width="0.55" opacity="1" stroke-linejoin="round"><path d="M364.96,144.60L364.98,144.20L365.02,143.81L365.05,143.41L365.10,143.02L365.15,142.62L365.21,142.22L365.27,141.83L365.34,141.43L365.41,141.03L365.50,140.62L365.58,140.21L365.68,139.80L365.78,139.38L365.90,138.96L366.02,138.53L366.15,138.10L366.30,137.67L366.47,137.23L366.65,136.79L366.85,136.35L367.08,135.92L367.32,135.49L367.59,135.08L367.89,134.67L368.21,134.28L368.55,133.91L368.92,133.56L369.31,133.23L369.72,132.93L370.15,132.66L370.60,132.41L371.07,132.19L371.54,131.99L372.03,131.83L372.53,131.69L373.04,131.57L373.55,131.49L374.06,131.42L374.58,131.38L375.10,131.35L375.62,131.35L376.14,131.36L376.66,131.40L377.18,131.45L377.70,131.52L378.22,131.61L378.73,131.72L379.24,131.86L379.74,132.01L380.24,132.19L380.72,132.40L381.20,132.63L381.66,132.89L382.10,133.17L382.53,133.48L382.93,133.82L383.32,134.18L383.68,134.56L384.01,134.96L384.32,135.38L384.60,135.82L384.86,136.27L385.09,136.73L385.30,137.19L385.48,137.66L385.64,138.14L385.78,138.62L385.90,139.10L386.01,139.57L386.09,140.05L386.16,140.52L386.22,140.99L386.26,141.45L386.29,141.91L386.31,142.37L386.32,142.82L386.31,143.27L386.29,143.72L386.26,144.16L386.22,144.60L386.17,145.03L386.10,145.47L386.02,145.89L385.93,146.32L385.83,146.74L385.72,147.15L385.61,147.56L385.48,147.97L385.34,148.38L385.20,148.78L385.04,149.18L384.89,149.59L384.72,149.99L384.54,150.39L384.36,150.79L384.16,151.19L383.96,151.58L383.74,151.98L383.51,152.37L383.26,152.76L383.00,153.14L382.71,153.52L382.41,153.88L382.09,154.23L381.75,154.56L381.39,154.87L381.01,155.16L380.62,155.43L380.21,155.68L379.78,155.89L379.34,156.09L378.89,156.26L378.43,156.40L377.96,156.52L377.49,156.61L377.01,156.68L376.54,156.74L376.06,156.77L375.58,156.79L375.10,156.80L374.62,156.79L374.14,156.77L373.66,156.73L373.19,156.68L372.71,156.62L372.23,156.55L371.76,156.46L371.28,156.35L370.81,156.22L370.35,156.07L369.89,155.89L369.45,155.70L369.01,155.48L368.59,155.23L368.18,154.95L367.80,154.65L367.44,154.32L367.10,153.97L366.79,153.59L366.51,153.19L366.25,152.78L366.02,152.35L365.82,151.91L365.65,151.47L365.50,151.01L365.37,150.56L365.27,150.10L365.18,149.65L365.11,149.20L365.06,148.76L365.02,148.32L364.98,147.89L364.96,147.46L364.94,147.04L364.93,146.62L364.92,146.21L364.92,145.80L364.93,145.40L364.94,145.00Z" stroke="#666"/><path d="M368.43,144.60L368.44,144.34L368.47,144.08L368.51,143.82L368.56,143.56L368.61,143.31L368.68,143.06L368.75,142.81L368.82,142.56L368.90,142.31L368.99,142.07L369.08,141.82L369.17,141.58L369.26,141.33L369.35,141.08L369.45,140.83L369.56,140.57L369.66,140.31L369.78,140.05L369.90,139.79L370.03,139.53L370.16,139.26L370.32,139.00L370.48,138.74L370.66,138.48L370.85,138.24L371.06,138.00L371.28,137.78L371.52,137.57L371.77,137.38L372.04,137.20L372.31,137.05L372.60,136.91L372.90,136.79L373.20,136.70L373.51,136.62L373.83,136.56L374.14,136.52L374.46,136.50L374.78,136.49L375.10,136.50L375.42,136.51L375.73,136.54L376.05,136.57L376.36,136.62L376.68,136.67L376.99,136.73L377.30,136.80L377.61,136.88L377.92,136.97L378.22,137.07L378.52,137.18L378.82,137.30L379.11,137.44L379.39,137.59L379.67,137.76L379.94,137.94L380.19,138.14L380.43,138.36L380.66,138.59L380.87,138.83L381.06,139.09L381.24,139.36L381.39,139.64L381.53,139.93L381.66,140.22L381.76,140.52L381.85,140.82L381.93,141.12L381.99,141.42L382.04,141.72L382.08,142.02L382.11,142.32L382.13,142.62L382.15,142.91L382.15,143.20L382.16,143.48L382.15,143.77L382.14,144.05L382.13,144.32L382.11,144.60L382.08,144.87L382.05,145.15L382.02,145.42L381.97,145.69L381.92,145.96L381.87,146.22L381.80,146.49L381.73,146.75L381.65,147.02L381.56,147.28L381.47,147.54L381.36,147.79L381.25,148.04L381.13,148.29L381.00,148.54L380.85,148.78L380.70,149.02L380.54,149.25L380.37,149.47L380.19,149.69L380.01,149.91L379.81,150.11L379.60,150.31L379.38,150.50L379.16,150.68L378.93,150.85L378.69,151.01L378.44,151.16L378.19,151.30L377.93,151.43L377.67,151.56L377.40,151.67L377.12,151.77L376.84,151.87L376.56,151.95L376.28,152.03L375.99,152.09L375.69,152.15L375.40,152.20L375.10,152.23L374.80,152.26L374.50,152.27L374.19,152.28L373.89,152.26L373.58,152.24L373.28,152.20L372.97,152.14L372.67,152.06L372.38,151.97L372.09,151.86L371.81,151.73L371.54,151.58L371.28,151.42L371.03,151.24L370.80,151.04L370.57,150.83L370.36,150.61L370.17,150.37L369.99,150.13L369.82,149.88L369.67,149.62L369.52,149.36L369.39,149.10L369.27,148.83L369.17,148.57L369.06,148.30L368.97,148.03L368.89,147.77L368.81,147.50L368.74,147.23L368.67,146.97L368.62,146.71L368.56,146.44L368.52,146.18L368.48,145.92L368.45,145.65L368.43,145.39L368.42,145.13L368.42,144.86Z" stroke="#666"/><path d="M372.44,144.60L372.43,144.50L372.43,144.39L372.44,144.28L372.44,144.18L372.45,144.07L372.46,143.97L372.48,143.86L372.49,143.75L372.51,143.65L372.54,143.54L372.56,143.43L372.59,143.32L372.63,143.22L372.67,143.11L372.71,143.00L372.75,142.89L372.80,142.79L372.86,142.69L372.92,142.58L372.98,142.48L373.05,142.39L373.13,142.29L373.21,142.20L373.30,142.12L373.39,142.04L373.48,141.96L373.58,141.89L373.69,141.83L373.80,141.77L373.91,141.72L374.02,141.67L374.14,141.63L374.25,141.60L374.37,141.57L374.49,141.54L374.61,141.52L374.73,141.51L374.86,141.50L374.98,141.49L375.10,141.48L375.22,141.48L375.35,141.48L375.47,141.49L375.59,141.50L375.71,141.51L375.84,141.53L375.96,141.55L376.08,141.57L376.21,141.60L376.33,141.63L376.45,141.67L376.57,141.72L376.68,141.77L376.80,141.83L376.90,141.90L377.01,141.97L377.11,142.05L377.20,142.14L377.29,142.23L377.37,142.33L377.45,142.43L377.52,142.53L377.59,142.64L377.64,142.75L377.69,142.87L377.74,142.98L377.78,143.10L377.81,143.22L377.84,143.34L377.87,143.45L377.89,143.57L377.91,143.69L377.92,143.80L377.93,143.92L377.94,144.04L377.94,144.15L377.95,144.26L377.95,144.38L377.94,144.49L377.94,144.60L377.93,144.71L377.91,144.82L377.90,144.93L377.88,145.04L377.86,145.15L377.84,145.26L377.81,145.36L377.78,145.47L377.75,145.58L377.71,145.68L377.67,145.79L377.63,145.89L377.59,145.99L377.54,146.09L377.49,146.19L377.43,146.29L377.37,146.39L377.31,146.49L377.24,146.58L377.17,146.67L377.10,146.76L377.02,146.84L376.93,146.93L376.85,147.00L376.75,147.08L376.66,147.14L376.56,147.21L376.46,147.27L376.35,147.32L376.25,147.37L376.14,147.41L376.03,147.45L375.91,147.48L375.80,147.51L375.68,147.53L375.57,147.56L375.45,147.57L375.33,147.58L375.22,147.59L375.10,147.60L374.98,147.60L374.86,147.60L374.75,147.60L374.63,147.59L374.51,147.58L374.39,147.56L374.27,147.54L374.15,147.52L374.03,147.49L373.92,147.45L373.81,147.41L373.69,147.36L373.59,147.30L373.48,147.24L373.38,147.17L373.29,147.09L373.20,147.01L373.12,146.92L373.04,146.83L372.97,146.73L372.90,146.63L372.84,146.53L372.79,146.42L372.74,146.31L372.70,146.20L372.66,146.09L372.63,145.98L372.60,145.87L372.58,145.76L372.56,145.65L372.54,145.55L372.52,145.44L372.50,145.33L372.49,145.23L372.47,145.12L372.46,145.02L372.45,144.91L372.45,144.81L372.44,144.70Z" stroke="#666"/></g>
<radialGradient id="cd8g"><stop offset="0" stop-color="#888" stop-opacity="0.55"/><stop offset="0.6" stop-color="#999" stop-opacity="0.3"/><stop offset="1" stop-color="#aaa" stop-opacity="0"/></radialGradient>
<ellipse cx="451" cy="155" rx="12" ry="15" fill="url(#cd8g)"/>
<g fill="none" stroke-width="0.55" opacity="1" stroke-linejoin="round"><path d="M407.08,155.00L404.75,153.17L402.56,151.16L400.69,149.01L399.30,146.76L398.53,144.50L398.48,142.32L399.17,140.30L400.54,138.51L402.49,136.99L404.88,135.77L407.51,134.81L410.21,134.07L412.85,133.47L415.30,132.94L417.52,132.43L419.48,131.88L421.23,131.29L422.81,130.67L424.30,130.05L425.76,129.46L427.23,128.96L428.72,128.56L430.24,128.28L431.77,128.11L433.27,128.02L434.73,127.96L436.13,127.91L437.45,127.82L438.70,127.67L439.90,127.49L441.07,127.27L442.22,127.05L443.37,126.87L444.52,126.74L445.67,126.68L446.82,126.70L447.96,126.78L449.09,126.90L450.20,127.04L451.30,127.17L452.39,127.32L453.47,127.47L454.53,127.68L455.58,127.96L456.60,128.38L457.56,128.94L458.44,129.68L459.23,130.60L459.91,131.66L460.48,132.83L460.96,134.05L461.35,135.27L461.69,136.45L461.99,137.55L462.29,138.55L462.59,139.46L462.89,140.29L463.19,141.07L463.48,141.83L463.72,142.58L463.93,143.33L464.07,144.09L464.18,144.85L464.24,145.60L464.30,146.31L464.36,146.99L464.45,147.63L464.58,148.23L464.74,148.80L464.92,149.36L465.11,149.90L465.29,150.46L465.42,151.02L465.51,151.59L465.54,152.17L465.54,152.75L465.51,153.32L465.48,153.88L465.47,154.44L465.49,155.00L465.55,155.56L465.65,156.13L465.76,156.71L465.86,157.31L465.94,157.91L465.97,158.52L465.94,159.13L465.87,159.73L465.76,160.34L465.64,160.94L465.52,161.56L465.43,162.20L465.37,162.88L465.34,163.60L465.33,164.38L465.33,165.19L465.30,166.04L465.23,166.90L465.10,167.76L464.91,168.61L464.65,169.44L464.33,170.25L463.96,171.06L463.56,171.87L463.13,172.70L462.67,173.55L462.18,174.42L461.64,175.29L461.05,176.14L460.39,176.94L459.66,177.65L458.86,178.25L457.99,178.72L457.07,179.05L456.12,179.25L455.15,179.34L454.18,179.34L453.21,179.27L452.25,179.17L451.30,179.04L450.36,178.89L449.43,178.70L448.52,178.47L447.63,178.18L446.76,177.82L445.92,177.41L445.11,176.95L444.33,176.46L443.56,175.97L442.81,175.50L442.04,175.08L441.26,174.71L440.44,174.39L439.60,174.09L438.73,173.80L437.86,173.50L436.99,173.15L436.15,172.74L435.33,172.28L434.52,171.78L433.71,171.26L432.88,170.74L431.98,170.23L430.98,169.76L429.88,169.31L428.66,168.87L427.34,168.42L425.97,167.91L424.56,167.33L423.18,166.65L421.85,165.86L420.57,164.98L419.32,164.02L418.06,162.98L416.71,161.88L415.21,160.72L413.50,159.47L411.55,158.13L409.39,156.65Z" stroke="#999999"/><path d="M414.96,155.00L412.98,153.49L411.11,151.84L409.48,150.05L408.26,148.18L407.55,146.30L407.43,144.47L407.92,142.77L408.99,141.25L410.56,139.97L412.49,138.93L414.65,138.10L416.87,137.46L419.05,136.94L421.09,136.49L422.94,136.05L424.59,135.59L426.06,135.10L427.40,134.59L428.66,134.07L429.90,133.60L431.14,133.19L432.40,132.87L433.68,132.64L434.96,132.51L436.22,132.44L437.45,132.40L438.62,132.35L439.72,132.28L440.78,132.17L441.78,132.02L442.76,131.85L443.72,131.67L444.68,131.53L445.64,131.43L446.60,131.40L447.56,131.42L448.52,131.49L449.46,131.60L450.39,131.72L451.30,131.84L452.20,131.97L453.10,132.12L453.99,132.30L454.86,132.54L455.70,132.89L456.49,133.37L457.23,133.98L457.89,134.72L458.46,135.59L458.95,136.54L459.36,137.53L459.70,138.52L460.00,139.47L460.27,140.36L460.54,141.17L460.81,141.91L461.09,142.58L461.36,143.22L461.62,143.83L461.85,144.45L462.05,145.07L462.20,145.69L462.31,146.32L462.39,146.94L462.47,147.54L462.54,148.11L462.64,148.65L462.76,149.16L462.90,149.65L463.06,150.13L463.23,150.60L463.37,151.08L463.49,151.56L463.56,152.06L463.58,152.56L463.57,153.06L463.54,153.55L463.51,154.04L463.49,154.52L463.50,155.00L463.53,155.48L463.60,155.97L463.67,156.46L463.74,156.97L463.79,157.48L463.80,158.00L463.77,158.52L463.70,159.03L463.60,159.54L463.49,160.05L463.39,160.57L463.31,161.12L463.25,161.69L463.23,162.31L463.22,162.96L463.21,163.65L463.18,164.36L463.12,165.09L463.01,165.82L462.84,166.54L462.62,167.25L462.35,167.94L462.05,168.63L461.71,169.33L461.34,170.03L460.95,170.75L460.53,171.49L460.08,172.23L459.57,172.95L459.01,173.62L458.39,174.23L457.71,174.74L456.98,175.14L456.20,175.42L455.40,175.60L454.58,175.68L453.75,175.69L452.92,175.65L452.11,175.57L451.30,175.46L450.50,175.33L449.71,175.17L448.94,174.97L448.18,174.72L447.44,174.42L446.72,174.06L446.04,173.65L445.38,173.22L444.74,172.79L444.10,172.38L443.47,171.99L442.82,171.65L442.15,171.34L441.46,171.05L440.77,170.76L440.07,170.46L439.37,170.13L438.70,169.75L438.06,169.33L437.42,168.88L436.79,168.41L436.14,167.95L435.44,167.51L434.66,167.09L433.79,166.70L432.83,166.32L431.79,165.93L430.70,165.50L429.58,165.01L428.46,164.46L427.38,163.82L426.33,163.11L425.30,162.33L424.24,161.50L423.10,160.61L421.83,159.67L420.39,158.66L418.74,157.56L416.91,156.35Z" stroke="#959595"/><path d="M419.86,155.00L418.28,153.70L416.79,152.28L415.51,150.76L414.56,149.18L414.04,147.59L414.01,146.05L414.48,144.62L415.42,143.34L416.76,142.26L418.40,141.37L420.21,140.67L422.07,140.11L423.89,139.65L425.58,139.24L427.11,138.84L428.47,138.42L429.69,137.96L430.79,137.49L431.83,137.00L432.85,136.55L433.87,136.15L434.91,135.81L435.98,135.56L437.05,135.38L438.10,135.25L439.13,135.15L440.12,135.04L441.07,134.91L441.97,134.75L442.83,134.56L443.68,134.35L444.53,134.15L445.37,133.98L446.22,133.85L447.08,133.78L447.94,133.76L448.79,133.80L449.64,133.88L450.47,133.97L451.30,134.08L452.12,134.20L452.93,134.33L453.73,134.50L454.51,134.73L455.27,135.06L455.98,135.49L456.65,136.05L457.24,136.72L457.76,137.49L458.20,138.34L458.58,139.22L458.89,140.10L459.17,140.94L459.44,141.72L459.69,142.44L459.95,143.09L460.21,143.69L460.47,144.26L460.72,144.81L460.95,145.35L461.14,145.90L461.29,146.47L461.41,147.03L461.50,147.59L461.58,148.13L461.66,148.65L461.75,149.15L461.85,149.62L461.98,150.08L462.12,150.52L462.25,150.96L462.36,151.41L462.44,151.86L462.48,152.32L462.48,152.78L462.45,153.23L462.39,153.69L462.33,154.13L462.29,154.57L462.27,155.00L462.27,155.43L462.30,155.87L462.34,156.31L462.38,156.75L462.40,157.21L462.40,157.66L462.36,158.12L462.30,158.57L462.22,159.03L462.14,159.49L462.06,159.96L462.01,160.46L461.98,160.98L461.97,161.54L461.98,162.14L461.99,162.77L461.99,163.43L461.95,164.10L461.87,164.77L461.74,165.44L461.56,166.10L461.33,166.74L461.06,167.38L460.75,168.01L460.42,168.65L460.06,169.30L459.67,169.95L459.24,170.59L458.77,171.21L458.25,171.78L457.68,172.29L457.05,172.70L456.38,173.01L455.67,173.22L454.95,173.34L454.21,173.37L453.47,173.34L452.74,173.27L452.01,173.17L451.30,173.05L450.60,172.92L449.90,172.78L449.22,172.60L448.55,172.39L447.89,172.14L447.25,171.85L446.64,171.53L446.04,171.19L445.45,170.85L444.87,170.53L444.28,170.23L443.67,169.97L443.05,169.74L442.40,169.52L441.75,169.30L441.08,169.06L440.43,168.79L439.80,168.47L439.18,168.11L438.59,167.71L438.00,167.30L437.39,166.88L436.75,166.47L436.05,166.08L435.28,165.70L434.44,165.33L433.54,164.95L432.59,164.53L431.64,164.06L430.71,163.53L429.81,162.93L428.96,162.26L428.12,161.54L427.27,160.77L426.37,159.96L425.36,159.11L424.21,158.21L422.89,157.24L421.42,156.17Z" stroke="#929292"/><path d="M422.91,155.00L421.51,153.83L420.21,152.55L419.12,151.19L418.34,149.78L417.94,148.36L417.99,147.00L418.48,145.74L419.39,144.63L420.64,143.69L422.14,142.92L423.78,142.31L425.46,141.83L427.09,141.44L428.60,141.09L429.96,140.74L431.16,140.37L432.23,139.97L433.20,139.54L434.11,139.11L434.99,138.69L435.88,138.32L436.78,138.00L437.70,137.75L438.62,137.55L439.54,137.40L440.44,137.28L441.30,137.15L442.13,137.01L442.93,136.84L443.70,136.65L444.45,136.44L445.21,136.25L445.97,136.09L446.73,135.97L447.50,135.92L448.28,135.91L449.05,135.96L449.81,136.04L450.56,136.15L451.30,136.27L452.03,136.40L452.75,136.55L453.46,136.73L454.16,136.96L454.83,137.28L455.46,137.68L456.04,138.19L456.56,138.80L457.02,139.49L457.42,140.24L457.75,141.01L458.04,141.78L458.29,142.52L458.53,143.20L458.76,143.83L459.00,144.40L459.24,144.93L459.48,145.43L459.71,145.91L459.91,146.39L460.10,146.87L460.25,147.36L460.37,147.85L460.47,148.34L460.55,148.82L460.65,149.27L460.75,149.71L460.87,150.12L461.00,150.53L461.15,150.92L461.30,151.31L461.43,151.71L461.53,152.11L461.60,152.53L461.64,152.94L461.65,153.36L461.64,153.78L461.62,154.19L461.62,154.59L461.63,155.00L461.66,155.41L461.71,155.82L461.77,156.24L461.82,156.67L461.86,157.10L461.86,157.53L461.83,157.97L461.77,158.40L461.68,158.83L461.58,159.26L461.49,159.70L461.41,160.15L461.34,160.62L461.29,161.12L461.25,161.65L461.20,162.20L461.14,162.76L461.05,163.33L460.93,163.90L460.76,164.46L460.54,165.00L460.30,165.53L460.02,166.06L459.71,166.58L459.39,167.11L459.05,167.65L458.69,168.20L458.30,168.74L457.88,169.28L457.42,169.78L456.92,170.23L456.37,170.61L455.79,170.92L455.17,171.14L454.54,171.28L453.89,171.36L453.24,171.38L452.59,171.36L451.94,171.32L451.30,171.25L450.66,171.17L450.04,171.06L449.41,170.93L448.81,170.75L448.21,170.53L447.64,170.26L447.08,169.96L446.54,169.64L446.02,169.31L445.50,168.99L444.99,168.69L444.46,168.42L443.92,168.17L443.37,167.94L442.81,167.70L442.25,167.46L441.70,167.18L441.15,166.88L440.63,166.54L440.12,166.18L439.60,165.81L439.07,165.44L438.50,165.09L437.88,164.75L437.18,164.43L436.42,164.12L435.59,163.80L434.73,163.44L433.85,163.05L432.97,162.59L432.12,162.07L431.30,161.50L430.50,160.87L429.69,160.19L428.83,159.47L427.89,158.71L426.82,157.90L425.62,157.02L424.30,156.06Z" stroke="#8e8e8e"/><path d="M426.68,155.00L425.49,153.99L424.37,152.88L423.40,151.70L422.69,150.47L422.29,149.23L422.26,148.03L422.61,146.91L423.32,145.91L424.33,145.05L425.57,144.34L426.94,143.77L428.37,143.31L429.76,142.93L431.06,142.60L432.25,142.27L433.31,141.93L434.26,141.57L435.14,141.20L435.97,140.83L436.78,140.48L437.60,140.18L438.43,139.93L439.27,139.74L440.12,139.61L440.95,139.51L441.76,139.44L442.54,139.36L443.28,139.26L443.98,139.13L444.66,138.98L445.33,138.81L445.98,138.64L446.64,138.48L447.30,138.36L447.97,138.27L448.64,138.22L449.31,138.21L449.98,138.22L450.64,138.24L451.30,138.28L451.96,138.32L452.61,138.38L453.26,138.48L453.89,138.62L454.51,138.85L455.10,139.16L455.65,139.57L456.15,140.08L456.58,140.68L456.96,141.34L457.28,142.03L457.55,142.73L457.80,143.40L458.02,144.04L458.23,144.63L458.44,145.17L458.66,145.67L458.86,146.15L459.06,146.61L459.23,147.07L459.39,147.53L459.51,147.99L459.61,148.45L459.69,148.90L459.76,149.34L459.84,149.77L459.93,150.17L460.04,150.55L460.16,150.91L460.30,151.27L460.43,151.63L460.56,151.99L460.66,152.36L460.73,152.74L460.78,153.11L460.80,153.50L460.80,153.88L460.80,154.25L460.80,154.63L460.82,155.00L460.85,155.38L460.89,155.75L460.93,156.14L460.97,156.53L460.98,156.93L460.97,157.32L460.93,157.72L460.86,158.11L460.77,158.49L460.66,158.88L460.56,159.27L460.47,159.67L460.40,160.09L460.33,160.54L460.28,161.00L460.23,161.49L460.17,161.99L460.08,162.50L459.96,163.00L459.80,163.50L459.61,164.00L459.39,164.48L459.15,164.95L458.88,165.43L458.59,165.92L458.29,166.41L457.97,166.91L457.62,167.40L457.24,167.89L456.83,168.34L456.37,168.74L455.88,169.09L455.35,169.35L454.79,169.55L454.22,169.67L453.63,169.73L453.04,169.74L452.46,169.72L451.88,169.67L451.30,169.61L450.73,169.53L450.16,169.43L449.61,169.30L449.06,169.14L448.52,168.95L448.00,168.73L447.50,168.47L447.01,168.20L446.53,167.93L446.05,167.67L445.57,167.42L445.08,167.20L444.58,167.00L444.06,166.81L443.54,166.61L443.01,166.41L442.49,166.17L441.99,165.90L441.50,165.60L441.03,165.27L440.55,164.93L440.07,164.59L439.57,164.25L439.02,163.92L438.42,163.61L437.77,163.29L437.07,162.97L436.35,162.62L435.62,162.23L434.90,161.79L434.22,161.30L433.56,160.76L432.92,160.18L432.28,159.57L431.59,158.92L430.83,158.24L429.95,157.53L428.96,156.76L427.86,155.92Z" stroke="#8b8b8b"/><path d="M429.45,155.00L428.38,154.10L427.38,153.12L426.53,152.07L425.90,150.98L425.56,149.88L425.56,148.82L425.89,147.83L426.53,146.95L427.44,146.20L428.55,145.58L429.78,145.08L431.03,144.67L432.26,144.34L433.41,144.04L434.45,143.74L435.38,143.43L436.21,143.10L436.97,142.76L437.68,142.41L438.38,142.08L439.08,141.78L439.80,141.53L440.52,141.33L441.25,141.17L441.98,141.05L442.69,140.95L443.37,140.85L444.03,140.74L444.67,140.61L445.28,140.47L445.88,140.32L446.49,140.18L447.09,140.07L447.70,139.99L448.31,139.96L448.92,139.96L449.53,140.01L450.13,140.08L450.72,140.16L451.30,140.26L451.88,140.36L452.44,140.47L453.00,140.60L453.55,140.78L454.08,141.00L454.59,141.29L455.06,141.66L455.49,142.09L455.88,142.58L456.22,143.12L456.52,143.68L456.79,144.23L457.03,144.77L457.26,145.27L457.49,145.74L457.72,146.16L457.95,146.56L458.18,146.94L458.40,147.31L458.61,147.69L458.79,148.08L458.94,148.48L459.06,148.88L459.16,149.29L459.25,149.69L459.33,150.08L459.42,150.45L459.52,150.81L459.62,151.17L459.72,151.51L459.82,151.86L459.90,152.20L459.96,152.56L460.00,152.91L460.01,153.27L459.99,153.62L459.96,153.97L459.94,154.32L459.92,154.66L459.91,155.00L459.93,155.34L459.96,155.68L459.99,156.03L460.03,156.38L460.05,156.74L460.06,157.10L460.04,157.47L460.00,157.83L459.95,158.19L459.88,158.56L459.82,158.93L459.76,159.31L459.71,159.71L459.67,160.13L459.63,160.57L459.59,161.02L459.53,161.49L459.44,161.95L459.32,162.41L459.16,162.86L458.96,163.29L458.73,163.70L458.48,164.11L458.21,164.51L457.92,164.90L457.61,165.30L457.29,165.70L456.95,166.09L456.59,166.47L456.20,166.83L455.78,167.15L455.34,167.42L454.86,167.64L454.37,167.80L453.87,167.91L453.35,167.97L452.84,168.00L452.32,168.01L451.81,168.01L451.30,167.99L450.79,167.97L450.28,167.92L449.78,167.86L449.28,167.77L448.79,167.64L448.31,167.47L447.84,167.28L447.38,167.06L446.94,166.83L446.50,166.60L446.06,166.37L445.61,166.16L445.16,165.96L444.71,165.76L444.25,165.55L443.80,165.33L443.36,165.08L442.93,164.80L442.53,164.49L442.14,164.16L441.75,163.83L441.36,163.49L440.94,163.17L440.49,162.86L439.99,162.56L439.44,162.27L438.85,161.97L438.23,161.66L437.60,161.32L436.97,160.94L436.36,160.51L435.76,160.05L435.17,159.55L434.57,159.02L433.93,158.46L433.22,157.86L432.42,157.24L431.51,156.56L430.51,155.82Z" stroke="#888888"/><path d="M432.46,155.00L431.59,154.23L430.77,153.38L430.06,152.49L429.53,151.55L429.23,150.61L429.19,149.69L429.43,148.83L429.93,148.06L430.65,147.38L431.54,146.81L432.53,146.35L433.55,145.96L434.56,145.63L435.51,145.32L436.38,145.03L437.16,144.73L437.87,144.41L438.52,144.09L439.15,143.77L439.77,143.47L440.39,143.20L441.03,142.98L441.69,142.80L442.35,142.68L443.00,142.58L443.64,142.51L444.26,142.43L444.86,142.35L445.42,142.26L445.98,142.15L446.52,142.03L447.05,141.92L447.58,141.82L448.12,141.75L448.66,141.71L449.19,141.70L449.73,141.72L450.26,141.75L450.78,141.80L451.30,141.85L451.81,141.91L452.33,141.98L452.83,142.07L453.33,142.19L453.81,142.37L454.28,142.61L454.71,142.91L455.10,143.29L455.46,143.73L455.77,144.21L456.04,144.71L456.28,145.22L456.50,145.72L456.70,146.19L456.90,146.62L457.09,147.03L457.29,147.41L457.48,147.77L457.66,148.12L457.82,148.48L457.97,148.84L458.09,149.20L458.19,149.56L458.28,149.93L458.36,150.28L458.44,150.62L458.53,150.95L458.63,151.26L458.74,151.57L458.86,151.87L458.97,152.17L459.07,152.47L459.16,152.78L459.22,153.10L459.26,153.42L459.28,153.74L459.29,154.05L459.29,154.37L459.30,154.69L459.31,155.00L459.33,155.32L459.36,155.63L459.39,155.96L459.41,156.28L459.41,156.61L459.40,156.94L459.36,157.27L459.29,157.60L459.21,157.92L459.12,158.24L459.03,158.56L458.94,158.89L458.86,159.23L458.79,159.59L458.73,159.96L458.67,160.35L458.59,160.75L458.50,161.15L458.38,161.54L458.24,161.94L458.07,162.32L457.87,162.70L457.66,163.07L457.43,163.44L457.19,163.82L456.94,164.21L456.67,164.59L456.39,164.98L456.08,165.36L455.74,165.71L455.37,166.04L454.97,166.31L454.55,166.53L454.11,166.70L453.65,166.81L453.18,166.87L452.71,166.90L452.24,166.89L451.77,166.87L451.30,166.83L450.84,166.78L450.38,166.70L449.93,166.61L449.48,166.48L449.05,166.33L448.62,166.15L448.21,165.95L447.82,165.72L447.43,165.50L447.04,165.28L446.66,165.07L446.27,164.87L445.87,164.69L445.47,164.52L445.06,164.34L444.65,164.15L444.25,163.94L443.86,163.71L443.49,163.45L443.12,163.18L442.76,162.89L442.40,162.61L442.01,162.32L441.60,162.05L441.14,161.79L440.66,161.52L440.14,161.25L439.60,160.96L439.06,160.64L438.53,160.29L438.02,159.90L437.53,159.48L437.05,159.02L436.57,158.54L436.07,158.03L435.50,157.50L434.86,156.95L434.13,156.35L433.33,155.71Z" stroke="#848484"/><path d="M434.61,155.00L433.82,154.31L433.07,153.57L432.43,152.77L431.94,151.93L431.67,151.10L431.64,150.28L431.86,149.52L432.31,148.83L432.96,148.24L433.77,147.74L434.67,147.33L435.60,147.00L436.51,146.72L437.37,146.47L438.16,146.22L438.87,145.97L439.52,145.71L440.12,145.45L440.68,145.18L441.24,144.94L441.79,144.71L442.36,144.53L442.93,144.38L443.50,144.27L444.07,144.18L444.62,144.11L445.16,144.03L445.67,143.95L446.16,143.86L446.64,143.75L447.11,143.63L447.57,143.53L448.04,143.43L448.51,143.36L448.98,143.32L449.45,143.31L449.92,143.33L450.38,143.36L450.84,143.41L451.30,143.46L451.75,143.52L452.20,143.59L452.64,143.68L453.07,143.80L453.49,143.97L453.90,144.18L454.27,144.45L454.62,144.78L454.93,145.15L455.21,145.56L455.46,145.98L455.68,146.41L455.88,146.82L456.07,147.21L456.26,147.57L456.45,147.91L456.64,148.22L456.83,148.52L457.01,148.82L457.18,149.12L457.33,149.43L457.46,149.74L457.57,150.06L457.66,150.38L457.75,150.69L457.83,151.00L457.91,151.30L458.00,151.59L458.09,151.87L458.19,152.15L458.27,152.43L458.35,152.71L458.41,153.00L458.45,153.28L458.46,153.58L458.46,153.87L458.45,154.15L458.44,154.44L458.43,154.72L458.43,155.00L458.44,155.28L458.46,155.56L458.48,155.85L458.50,156.14L458.52,156.44L458.52,156.73L458.50,157.03L458.47,157.33L458.42,157.63L458.37,157.93L458.32,158.23L458.27,158.55L458.23,158.88L458.19,159.22L458.16,159.58L458.12,159.95L458.06,160.33L457.99,160.71L457.89,161.09L457.76,161.46L457.60,161.81L457.41,162.16L457.20,162.49L456.98,162.81L456.73,163.13L456.48,163.45L456.21,163.76L455.92,164.07L455.61,164.35L455.28,164.62L454.93,164.85L454.56,165.03L454.17,165.18L453.77,165.27L453.35,165.32L452.94,165.34L452.52,165.33L452.11,165.30L451.70,165.26L451.30,165.21L450.90,165.16L450.51,165.10L450.11,165.03L449.73,164.93L449.35,164.82L448.98,164.68L448.61,164.52L448.26,164.36L447.91,164.18L447.57,164.01L447.22,163.84L446.87,163.69L446.52,163.54L446.16,163.39L445.80,163.24L445.44,163.07L445.09,162.88L444.75,162.67L444.42,162.44L444.10,162.20L443.80,161.94L443.48,161.68L443.15,161.42L442.80,161.17L442.42,160.93L442.00,160.70L441.56,160.45L441.10,160.20L440.63,159.92L440.16,159.61L439.71,159.28L439.27,158.91L438.84,158.52L438.39,158.10L437.92,157.66L437.40,157.20L436.80,156.72L436.14,156.19L435.40,155.62Z" stroke="#818181"/><path d="M436.98,155.00L436.37,154.41L435.81,153.78L435.33,153.11L434.98,152.42L434.81,151.72L434.82,151.04L435.03,150.41L435.42,149.84L435.97,149.34L436.63,148.92L437.36,148.57L438.11,148.28L438.84,148.02L439.53,147.79L440.16,147.56L440.73,147.32L441.24,147.07L441.72,146.82L442.17,146.56L442.62,146.32L443.08,146.11L443.55,145.93L444.03,145.78L444.51,145.66L445.00,145.57L445.47,145.49L445.94,145.42L446.38,145.35L446.81,145.27L447.23,145.18L447.65,145.09L448.05,145.01L448.46,144.94L448.87,144.90L449.29,144.87L449.70,144.87L450.10,144.89L450.51,144.92L450.91,144.96L451.30,145.00L451.69,145.04L452.08,145.09L452.47,145.15L452.85,145.24L453.22,145.35L453.58,145.51L453.92,145.72L454.23,145.98L454.52,146.27L454.78,146.60L455.01,146.95L455.22,147.30L455.42,147.65L455.60,147.98L455.78,148.29L455.96,148.59L456.14,148.86L456.31,149.14L456.47,149.41L456.62,149.68L456.75,149.96L456.86,150.25L456.96,150.54L457.04,150.83L457.11,151.12L457.18,151.40L457.25,151.67L457.32,151.93L457.40,152.19L457.48,152.44L457.56,152.69L457.62,152.95L457.68,153.20L457.72,153.46L457.74,153.72L457.75,153.98L457.75,154.24L457.75,154.49L457.75,154.75L457.75,155.00L457.77,155.25L457.78,155.51L457.80,155.77L457.82,156.03L457.82,156.30L457.80,156.56L457.77,156.83L457.72,157.09L457.66,157.35L457.59,157.61L457.52,157.87L457.45,158.13L457.38,158.40L457.32,158.69L457.25,158.98L457.19,159.28L457.11,159.58L457.02,159.89L456.92,160.19L456.79,160.49L456.64,160.78L456.48,161.07L456.30,161.35L456.11,161.63L455.92,161.91L455.71,162.19L455.49,162.48L455.26,162.77L455.01,163.06L454.75,163.32L454.46,163.57L454.15,163.78L453.83,163.95L453.48,164.09L453.13,164.19L452.76,164.25L452.40,164.28L452.03,164.29L451.66,164.29L451.30,164.27L450.94,164.24L450.58,164.19L450.22,164.12L449.87,164.02L449.53,163.90L449.20,163.76L448.87,163.60L448.56,163.42L448.26,163.24L447.96,163.06L447.67,162.88L447.37,162.72L447.07,162.56L446.76,162.41L446.45,162.25L446.15,162.09L445.85,161.92L445.56,161.73L445.27,161.52L444.99,161.31L444.72,161.08L444.44,160.86L444.14,160.64L443.82,160.43L443.48,160.23L443.10,160.02L442.71,159.81L442.29,159.59L441.88,159.34L441.47,159.07L441.08,158.77L440.70,158.44L440.33,158.09L439.96,157.72L439.58,157.33L439.16,156.92L438.69,156.49L438.17,156.03L437.59,155.54Z" stroke="#7d7d7d"/><path d="M439.22,155.00L438.73,154.51L438.26,153.97L437.87,153.41L437.58,152.83L437.42,152.24L437.43,151.67L437.59,151.13L437.91,150.65L438.36,150.23L438.91,149.87L439.51,149.57L440.14,149.31L440.75,149.09L441.33,148.89L441.86,148.70L442.35,148.50L442.79,148.29L443.20,148.08L443.59,147.87L443.97,147.67L444.36,147.50L444.76,147.34L445.16,147.21L445.57,147.11L445.97,147.03L446.37,146.95L446.75,146.87L447.12,146.79L447.47,146.70L447.82,146.60L448.16,146.50L448.51,146.40L448.85,146.31L449.20,146.23L449.55,146.18L449.90,146.15L450.25,146.13L450.60,146.13L450.95,146.14L451.30,146.15L451.65,146.18L451.99,146.21L452.33,146.27L452.67,146.35L453.00,146.46L453.31,146.61L453.61,146.81L453.88,147.05L454.13,147.33L454.35,147.64L454.54,147.96L454.72,148.29L454.88,148.61L455.03,148.91L455.17,149.20L455.32,149.47L455.46,149.72L455.60,149.97L455.73,150.20L455.86,150.44L455.97,150.69L456.07,150.93L456.15,151.18L456.23,151.42L456.30,151.66L456.37,151.89L456.45,152.12L456.52,152.34L456.61,152.55L456.69,152.77L456.78,152.98L456.85,153.20L456.91,153.42L456.96,153.64L457.00,153.87L457.02,154.09L457.03,154.32L457.03,154.55L457.04,154.77L457.04,155.00L457.05,155.23L457.07,155.45L457.08,155.68L457.08,155.92L457.08,156.15L457.06,156.38L457.03,156.62L456.98,156.85L456.93,157.08L456.86,157.30L456.80,157.53L456.74,157.77L456.68,158.01L456.62,158.26L456.57,158.52L456.51,158.79L456.45,159.06L456.37,159.33L456.28,159.60L456.17,159.87L456.04,160.13L455.90,160.38L455.74,160.63L455.57,160.88L455.39,161.12L455.20,161.37L455.00,161.61L454.79,161.85L454.56,162.07L454.32,162.28L454.06,162.47L453.78,162.63L453.49,162.75L453.18,162.83L452.87,162.89L452.55,162.91L452.24,162.92L451.92,162.90L451.61,162.88L451.30,162.85L450.99,162.80L450.69,162.75L450.39,162.69L450.09,162.62L449.80,162.52L449.52,162.42L449.24,162.30L448.97,162.17L448.70,162.04L448.44,161.91L448.17,161.78L447.90,161.67L447.63,161.56L447.35,161.45L447.07,161.33L446.79,161.21L446.51,161.08L446.24,160.92L445.98,160.75L445.73,160.57L445.48,160.38L445.23,160.18L444.97,159.99L444.70,159.80L444.41,159.60L444.10,159.41L443.77,159.22L443.44,159.01L443.11,158.78L442.78,158.53L442.47,158.26L442.18,157.96L441.89,157.65L441.61,157.33L441.31,156.99L440.98,156.64L440.60,156.27L440.18,155.88L439.72,155.46Z" stroke="#7a7a7a"/><path d="M441.03,155.00L440.61,154.58L440.23,154.13L439.91,153.65L439.69,153.16L439.58,152.67L439.61,152.19L439.78,151.75L440.07,151.35L440.47,151.00L440.94,150.71L441.46,150.46L441.99,150.26L442.51,150.08L442.99,149.91L443.44,149.75L443.84,149.58L444.20,149.40L444.54,149.22L444.86,149.04L445.17,148.87L445.48,148.71L445.80,148.56L446.13,148.44L446.46,148.34L446.79,148.25L447.11,148.17L447.43,148.09L447.74,148.01L448.04,147.93L448.33,147.84L448.63,147.75L448.92,147.67L449.21,147.60L449.51,147.55L449.81,147.52L450.11,147.51L450.41,147.52L450.71,147.54L451.01,147.56L451.30,147.60L451.59,147.64L451.88,147.69L452.16,147.75L452.44,147.82L452.71,147.92L452.97,148.05L453.21,148.22L453.44,148.41L453.65,148.62L453.84,148.86L454.02,149.11L454.17,149.36L454.32,149.60L454.46,149.84L454.60,150.06L454.74,150.26L454.88,150.46L455.01,150.65L455.14,150.84L455.26,151.04L455.37,151.24L455.47,151.44L455.55,151.65L455.62,151.86L455.69,152.07L455.75,152.27L455.82,152.47L455.88,152.67L455.95,152.86L456.01,153.05L456.07,153.24L456.13,153.43L456.17,153.63L456.20,153.82L456.23,154.02L456.24,154.22L456.24,154.41L456.25,154.61L456.25,154.81L456.26,155.00L456.27,155.20L456.29,155.39L456.31,155.59L456.32,155.80L456.33,156.00L456.32,156.21L456.30,156.41L456.27,156.62L456.23,156.82L456.19,157.02L456.13,157.23L456.08,157.44L456.03,157.65L455.98,157.87L455.92,158.09L455.86,158.31L455.79,158.54L455.71,158.77L455.61,158.99L455.50,159.20L455.37,159.41L455.23,159.60L455.08,159.80L454.92,159.98L454.75,160.17L454.58,160.36L454.40,160.54L454.22,160.72L454.02,160.90L453.81,161.07L453.60,161.22L453.37,161.36L453.12,161.47L452.87,161.55L452.62,161.62L452.35,161.66L452.09,161.69L451.83,161.70L451.56,161.71L451.30,161.71L451.04,161.70L450.77,161.68L450.51,161.65L450.26,161.60L450.00,161.53L449.75,161.45L449.51,161.35L449.27,161.23L449.04,161.11L448.82,160.99L448.59,160.87L448.37,160.75L448.15,160.63L447.92,160.51L447.70,160.39L447.48,160.26L447.26,160.13L447.05,159.98L446.85,159.82L446.65,159.65L446.46,159.47L446.26,159.30L446.06,159.13L445.84,158.97L445.60,158.81L445.34,158.65L445.07,158.49L444.78,158.32L444.49,158.14L444.20,157.94L443.93,157.72L443.66,157.48L443.39,157.23L443.13,156.96L442.85,156.68L442.55,156.39L442.21,156.08L441.84,155.74L441.44,155.39Z" stroke="#777777"/><path d="M443.01,155.00L442.69,154.66L442.39,154.30L442.13,153.91L441.94,153.52L441.85,153.12L441.85,152.73L441.96,152.37L442.17,152.03L442.46,151.74L442.82,151.49L443.21,151.27L443.62,151.08L444.02,150.92L444.39,150.77L444.74,150.62L445.06,150.47L445.35,150.31L445.62,150.15L445.89,150.00L446.15,149.85L446.41,149.71L446.69,149.60L446.96,149.50L447.25,149.42L447.53,149.36L447.81,149.30L448.08,149.25L448.34,149.20L448.60,149.15L448.85,149.09L449.10,149.04L449.35,148.99L449.60,148.96L449.84,148.93L450.09,148.92L450.34,148.92L450.58,148.94L450.82,148.96L451.06,148.99L451.30,149.02L451.53,149.05L451.76,149.09L451.99,149.14L452.22,149.20L452.44,149.27L452.65,149.37L452.85,149.49L453.04,149.63L453.22,149.80L453.38,149.98L453.53,150.17L453.67,150.36L453.80,150.54L453.92,150.72L454.04,150.90L454.16,151.06L454.29,151.21L454.40,151.37L454.52,151.52L454.63,151.67L454.72,151.83L454.81,152.00L454.89,152.17L454.96,152.34L455.02,152.51L455.08,152.68L455.14,152.85L455.21,153.01L455.27,153.17L455.33,153.33L455.38,153.49L455.43,153.66L455.47,153.82L455.50,153.99L455.52,154.16L455.53,154.33L455.54,154.50L455.54,154.67L455.54,154.83L455.54,155.00L455.54,155.17L455.55,155.33L455.55,155.50L455.55,155.67L455.55,155.84L455.53,156.02L455.51,156.19L455.47,156.36L455.43,156.52L455.38,156.69L455.33,156.86L455.28,157.03L455.23,157.20L455.18,157.38L455.14,157.56L455.08,157.75L455.03,157.94L454.96,158.13L454.88,158.31L454.79,158.49L454.69,158.67L454.58,158.84L454.46,159.01L454.34,159.18L454.20,159.34L454.06,159.51L453.92,159.67L453.76,159.84L453.60,159.99L453.43,160.14L453.24,160.27L453.05,160.38L452.84,160.47L452.63,160.54L452.41,160.59L452.19,160.62L451.97,160.64L451.74,160.64L451.52,160.63L451.30,160.61L451.08,160.59L450.86,160.56L450.65,160.51L450.44,160.46L450.23,160.39L450.03,160.30L449.83,160.21L449.64,160.11L449.45,160.01L449.27,159.90L449.09,159.80L448.91,159.70L448.72,159.60L448.54,159.51L448.35,159.41L448.17,159.31L447.99,159.20L447.81,159.08L447.64,158.95L447.48,158.82L447.31,158.68L447.15,158.55L446.97,158.41L446.79,158.28L446.59,158.15L446.38,158.01L446.16,157.88L445.93,157.74L445.70,157.58L445.47,157.41L445.25,157.23L445.04,157.03L444.84,156.82L444.63,156.60L444.42,156.37L444.19,156.13L443.93,155.87L443.65,155.60L443.34,155.31Z" stroke="#737373"/><path d="M444.85,155.00L444.61,154.74L444.39,154.46L444.21,154.16L444.07,153.86L444.01,153.55L444.01,153.25L444.10,152.97L444.26,152.71L444.48,152.48L444.74,152.28L445.04,152.11L445.34,151.97L445.65,151.83L445.94,151.71L446.20,151.60L446.45,151.48L446.68,151.36L446.89,151.23L447.10,151.12L447.30,151.00L447.51,150.90L447.72,150.81L447.94,150.74L448.16,150.68L448.38,150.63L448.59,150.58L448.80,150.54L449.00,150.49L449.20,150.45L449.39,150.40L449.58,150.35L449.77,150.30L449.96,150.25L450.15,150.22L450.34,150.19L450.54,150.17L450.73,150.16L450.92,150.16L451.11,150.16L451.30,150.17L451.49,150.17L451.68,150.19L451.87,150.21L452.05,150.24L452.24,150.29L452.41,150.36L452.58,150.46L452.74,150.57L452.89,150.70L453.02,150.85L453.14,151.01L453.25,151.17L453.36,151.33L453.46,151.48L453.55,151.63L453.65,151.77L453.74,151.91L453.83,152.04L453.91,152.18L453.99,152.31L454.06,152.45L454.13,152.59L454.18,152.73L454.24,152.87L454.28,153.01L454.33,153.14L454.38,153.28L454.43,153.41L454.48,153.54L454.53,153.66L454.58,153.79L454.62,153.92L454.66,154.05L454.69,154.19L454.71,154.32L454.73,154.46L454.74,154.59L454.75,154.73L454.76,154.86L454.76,155.00L454.77,155.14L454.78,155.27L454.78,155.41L454.78,155.55L454.78,155.69L454.76,155.83L454.74,155.97L454.71,156.11L454.67,156.24L454.63,156.38L454.58,156.51L454.54,156.65L454.49,156.79L454.45,156.93L454.41,157.07L454.36,157.22L454.31,157.37L454.25,157.52L454.18,157.67L454.11,157.81L454.03,157.95L453.93,158.08L453.84,158.22L453.73,158.35L453.63,158.48L453.51,158.61L453.39,158.74L453.27,158.87L453.14,158.99L453.00,159.10L452.85,159.20L452.69,159.29L452.53,159.36L452.36,159.41L452.18,159.45L452.01,159.47L451.83,159.48L451.65,159.47L451.48,159.47L451.30,159.45L451.13,159.43L450.95,159.41L450.78,159.37L450.61,159.33L450.45,159.28L450.29,159.22L450.13,159.15L449.98,159.08L449.82,159.00L449.67,158.93L449.52,158.85L449.37,158.78L449.22,158.71L449.07,158.64L448.91,158.57L448.76,158.50L448.61,158.42L448.46,158.33L448.32,158.23L448.18,158.12L448.04,158.01L447.90,157.90L447.76,157.79L447.61,157.68L447.46,157.57L447.29,157.46L447.12,157.34L446.95,157.22L446.77,157.09L446.61,156.94L446.45,156.79L446.29,156.63L446.15,156.45L446.00,156.27L445.85,156.08L445.69,155.89L445.51,155.69L445.30,155.47L445.08,155.24Z" stroke="#707070"/><path d="M446.58,155.00L446.39,154.81L446.22,154.60L446.08,154.38L445.97,154.16L445.91,153.93L445.90,153.70L445.95,153.49L446.06,153.30L446.21,153.12L446.41,152.97L446.62,152.84L446.85,152.73L447.07,152.63L447.29,152.54L447.49,152.46L447.68,152.37L447.85,152.28L448.02,152.20L448.18,152.11L448.33,152.03L448.49,151.96L448.65,151.90L448.81,151.84L448.97,151.80L449.13,151.76L449.29,151.72L449.44,151.69L449.59,151.65L449.73,151.61L449.88,151.56L450.01,151.52L450.15,151.47L450.29,151.43L450.43,151.39L450.58,151.36L450.72,151.34L450.87,151.33L451.01,151.32L451.16,151.32L451.30,151.32L451.44,151.32L451.59,151.33L451.73,151.35L451.87,151.38L452.01,151.42L452.14,151.48L452.27,151.56L452.39,151.64L452.50,151.75L452.60,151.86L452.69,151.98L452.77,152.11L452.85,152.23L452.93,152.34L453.00,152.46L453.07,152.56L453.14,152.67L453.21,152.76L453.27,152.86L453.34,152.96L453.40,153.06L453.45,153.16L453.50,153.27L453.54,153.37L453.59,153.47L453.63,153.57L453.67,153.67L453.71,153.77L453.76,153.87L453.80,153.97L453.84,154.06L453.88,154.16L453.91,154.26L453.93,154.37L453.95,154.47L453.97,154.58L453.97,154.68L453.98,154.79L453.98,154.89L453.98,155.00L453.98,155.11L453.99,155.21L453.99,155.32L453.98,155.42L453.97,155.53L453.96,155.64L453.94,155.74L453.91,155.85L453.88,155.95L453.85,156.05L453.81,156.16L453.78,156.26L453.74,156.37L453.70,156.47L453.67,156.58L453.63,156.69L453.59,156.81L453.54,156.92L453.49,157.03L453.43,157.13L453.37,157.24L453.30,157.34L453.22,157.44L453.14,157.53L453.05,157.63L452.97,157.72L452.87,157.81L452.78,157.90L452.68,157.99L452.57,158.07L452.46,158.14L452.34,158.20L452.22,158.25L452.09,158.29L451.96,158.32L451.83,158.34L451.70,158.35L451.56,158.36L451.43,158.36L451.30,158.36L451.17,158.35L451.04,158.34L450.91,158.33L450.78,158.31L450.65,158.28L450.52,158.25L450.40,158.21L450.27,158.16L450.15,158.11L450.03,158.06L449.91,158.00L449.80,157.95L449.68,157.90L449.56,157.84L449.44,157.78L449.32,157.72L449.21,157.65L449.11,157.57L449.00,157.48L448.91,157.39L448.81,157.30L448.72,157.20L448.63,157.11L448.53,157.01L448.43,156.92L448.32,156.83L448.21,156.73L448.10,156.63L447.98,156.53L447.87,156.42L447.76,156.31L447.66,156.18L447.55,156.06L447.45,155.92L447.34,155.79L447.22,155.65L447.08,155.50L446.93,155.34L446.76,155.18Z" stroke="#6c6c6c"/><path d="M448.12,155.00L448.02,154.87L447.93,154.73L447.86,154.59L447.80,154.45L447.78,154.30L447.79,154.16L447.83,154.02L447.90,153.90L448.00,153.78L448.12,153.68L448.25,153.59L448.39,153.52L448.52,153.44L448.65,153.38L448.77,153.31L448.88,153.24L448.99,153.18L449.09,153.11L449.18,153.04L449.28,152.98L449.38,152.92L449.49,152.88L449.59,152.83L449.70,152.80L449.81,152.77L449.92,152.75L450.03,152.72L450.13,152.70L450.23,152.68L450.33,152.66L450.43,152.64L450.53,152.62L450.62,152.60L450.72,152.59L450.82,152.58L450.92,152.57L451.01,152.57L451.11,152.57L451.20,152.58L451.30,152.58L451.40,152.58L451.49,152.59L451.58,152.59L451.68,152.61L451.77,152.62L451.86,152.65L451.95,152.69L452.04,152.73L452.12,152.79L452.19,152.85L452.26,152.91L452.33,152.98L452.39,153.05L452.45,153.12L452.51,153.19L452.56,153.26L452.62,153.33L452.67,153.39L452.72,153.46L452.77,153.53L452.81,153.60L452.85,153.68L452.88,153.75L452.91,153.83L452.94,153.91L452.96,153.98L452.99,154.06L453.01,154.13L453.03,154.20L453.05,154.27L453.07,154.35L453.09,154.42L453.11,154.49L453.12,154.56L453.12,154.64L453.13,154.71L453.13,154.78L453.13,154.86L453.13,154.93L453.13,155.00L453.13,155.07L453.13,155.14L453.13,155.22L453.13,155.29L453.12,155.36L453.11,155.44L453.10,155.51L453.08,155.58L453.06,155.65L453.04,155.72L453.02,155.79L453.00,155.86L452.97,155.94L452.95,156.01L452.92,156.09L452.90,156.16L452.87,156.24L452.84,156.32L452.81,156.39L452.77,156.47L452.72,156.54L452.67,156.61L452.62,156.68L452.57,156.75L452.51,156.82L452.45,156.88L452.39,156.95L452.33,157.02L452.26,157.08L452.18,157.14L452.11,157.19L452.03,157.23L451.94,157.27L451.85,157.30L451.76,157.32L451.67,157.33L451.58,157.33L451.48,157.33L451.39,157.33L451.30,157.32L451.21,157.31L451.12,157.30L451.03,157.28L450.94,157.25L450.86,157.23L450.77,157.20L450.69,157.16L450.61,157.12L450.53,157.08L450.45,157.04L450.38,157.00L450.30,156.97L450.22,156.93L450.14,156.89L450.06,156.86L449.98,156.82L449.90,156.77L449.82,156.73L449.75,156.68L449.68,156.62L449.60,156.57L449.53,156.51L449.46,156.45L449.38,156.39L449.30,156.33L449.22,156.27L449.14,156.21L449.05,156.15L448.97,156.08L448.89,156.00L448.81,155.92L448.74,155.83L448.67,155.74L448.61,155.65L448.54,155.55L448.47,155.45L448.40,155.34L448.31,155.24L448.22,155.12Z" stroke="#696969"/><path d="M449.58,155.00L449.53,154.93L449.48,154.86L449.43,154.78L449.40,154.70L449.39,154.62L449.40,154.54L449.42,154.47L449.46,154.40L449.51,154.34L449.58,154.29L449.65,154.24L449.73,154.20L449.80,154.16L449.88,154.13L449.94,154.09L450.00,154.06L450.06,154.02L450.12,153.99L450.17,153.96L450.22,153.92L450.28,153.89L450.33,153.87L450.39,153.84L450.44,153.82L450.50,153.80L450.56,153.79L450.61,153.77L450.66,153.75L450.72,153.74L450.77,153.72L450.82,153.70L450.87,153.69L450.93,153.67L450.98,153.66L451.03,153.65L451.09,153.65L451.14,153.64L451.19,153.64L451.25,153.64L451.30,153.65L451.35,153.65L451.41,153.66L451.46,153.67L451.51,153.68L451.56,153.69L451.61,153.71L451.66,153.74L451.70,153.77L451.74,153.80L451.78,153.84L451.82,153.88L451.85,153.92L451.88,153.96L451.91,154.00L451.94,154.03L451.97,154.07L452.00,154.11L452.03,154.14L452.06,154.18L452.09,154.21L452.11,154.25L452.13,154.29L452.15,154.33L452.17,154.37L452.19,154.41L452.21,154.44L452.22,154.48L452.24,154.52L452.26,154.56L452.27,154.60L452.29,154.64L452.30,154.68L452.31,154.72L452.32,154.76L452.32,154.80L452.33,154.84L452.33,154.88L452.33,154.92L452.33,154.96L452.33,155.00L452.34,155.04L452.34,155.08L452.34,155.12L452.33,155.16L452.33,155.20L452.32,155.25L452.32,155.29L452.31,155.33L452.30,155.37L452.28,155.41L452.27,155.45L452.26,155.49L452.24,155.53L452.23,155.57L452.21,155.61L452.20,155.65L452.18,155.69L452.16,155.74L452.14,155.78L452.12,155.82L452.09,155.85L452.06,155.89L452.03,155.93L452.00,155.96L451.97,156.00L451.93,156.03L451.90,156.07L451.86,156.10L451.82,156.13L451.78,156.16L451.74,156.18L451.69,156.21L451.65,156.22L451.60,156.24L451.55,156.25L451.50,156.26L451.45,156.26L451.40,156.26L451.35,156.26L451.30,156.26L451.25,156.26L451.20,156.25L451.15,156.25L451.10,156.24L451.06,156.22L451.01,156.21L450.96,156.19L450.92,156.17L450.87,156.15L450.83,156.13L450.79,156.11L450.74,156.09L450.70,156.07L450.66,156.05L450.62,156.02L450.57,156.00L450.53,155.97L450.49,155.94L450.45,155.91L450.42,155.88L450.38,155.85L450.35,155.82L450.31,155.78L450.27,155.75L450.23,155.71L450.19,155.68L450.15,155.65L450.10,155.61L450.06,155.57L450.02,155.53L449.98,155.49L449.94,155.44L449.90,155.39L449.86,155.35L449.82,155.29L449.78,155.24L449.74,155.18L449.69,155.13L449.64,155.07Z" stroke="#666666"/></g>
<path d="M461.8,134.9h0.01M440.5,176.0h0.01M464.8,140.4h0.01M465.5,139.7h0.01M449.4,126.4h0.01M467.2,162.1h0.01M440.6,177.9h0.01M426.4,171.9h0.01M466.7,154.5h0.01M432.6,126.5h0.01M465.5,163.0h0.01M460.7,177.9h0.01M467.8,148.9h0.01M415.8,132.6h0.01M465.5,149.3h0.01M455.5,179.5h0.01M437.0,177.2h0.01M445.5,179.5h0.01M457.7,124.9h0.01M466.7,156.4h0.01M463.0,136.3h0.01M464.4,177.5h0.01M429.9,169.8h0.01M459.4,127.7h0.01M466.5,161.4h0.01M441.2,126.6h0.01M462.2,133.2h0.01M410.0,162.5h0.01M432.8,175.9h0.01M414.5,164.0h0.01M442.8,175.9h0.01M462.9,178.2h0.01M459.8,127.2h0.01M417.4,165.4h0.01M464.6,172.7h0.01M464.2,135.6h0.01M396.5,145.3h0.01M462.3,177.9h0.01M409.5,130.2h0.01M465.0,140.8h0.01M465.8,146.6h0.01M466.6,161.6h0.01M422.3,129.7h0.01M430.7,172.1h0.01M417.9,126.6h0.01" stroke="#444" stroke-width="0.96" stroke-linecap="round" opacity="0.9"/>
<rect x="120.10" y="381.02" width="21.80" height="33.38" fill="#93d3e6"/>
<rect x="152.90" y="354.55" width="21.80" height="59.85" fill="#f6bfb3"/>
<path d="M131.00,366.06V395.98M125.25,366.06h11.5M125.25,395.98h11.5" stroke="#2a2a2a" stroke-width="1.35" fill="none" opacity="0.82"/>
<path d="M163.80,334.98V374.12M158.05,334.98h11.5M158.05,374.12h11.5" stroke="#2a2a2a" stroke-width="1.35" fill="none" opacity="0.82"/>
<g fill="#1ea2c0" stroke="#1a7890" stroke-width="0.45"><circle cx="130.90" cy="358.40" r="1.45"/><circle cx="130.90" cy="374.60" r="1.45"/><circle cx="127.25" cy="386.50" r="1.45"/><circle cx="134.40" cy="388.75" r="1.45"/><circle cx="130.90" cy="396.90" r="1.45"/></g>
<g fill="#e2705f" stroke="#b4505a" stroke-width="0.45"><circle cx="160.50" cy="330.20" r="1.45"/><circle cx="167.30" cy="329.80" r="1.45"/><circle cx="160.50" cy="341.40" r="1.45"/><circle cx="167.30" cy="345.40" r="1.45"/><circle cx="163.70" cy="351.30" r="1.45"/><circle cx="163.70" cy="365.10" r="1.45"/><circle cx="160.50" cy="378.40" r="1.45"/><circle cx="167.30" cy="378.40" r="1.45"/></g>
<path d="M108.70,296.30V414.40H186.20" stroke="#222" stroke-width="1.5" fill="none"/>
<text x="103.40" y="417.40" font-size="8.4" text-anchor="end" font-weight="normal" fill="#222" stroke="#222" stroke-width="0.18" >0</text>
<text x="103.40" y="394.38" font-size="8.4" text-anchor="end" font-weight="normal" fill="#222" stroke="#222" stroke-width="0.18" >0.2</text>
<text x="103.40" y="371.36" font-size="8.4" text-anchor="end" font-weight="normal" fill="#222" stroke="#222" stroke-width="0.18" >0.4</text>
<text x="103.40" y="348.34" font-size="8.4" text-anchor="end" font-weight="normal" fill="#222" stroke="#222" stroke-width="0.18" >0.6</text>
<text x="103.40" y="325.32" font-size="8.4" text-anchor="end" font-weight="normal" fill="#222" stroke="#222" stroke-width="0.18" >0.8</text>
<text x="103.40" y="302.30" font-size="8.4" text-anchor="end" font-weight="normal" fill="#222" stroke="#222" stroke-width="0.18" >1</text>
<text x="131.00" y="428.10" font-size="8.3" text-anchor="middle" font-weight="normal" fill="#222" stroke="#222" stroke-width="0.18" >Non</text>
<text x="163.80" y="428.10" font-size="8.3" text-anchor="middle" font-weight="normal" fill="#222" stroke="#222" stroke-width="0.18" >Resp</text>
<path d="M105.50,414.40H108.7M105.50,391.38H108.7M105.50,368.36H108.7M105.50,345.34H108.7M105.50,322.32H108.7M105.50,299.30H108.7M131.00,414.4v3M163.80,414.4v3" stroke="#222" stroke-width="1.1" fill="none"/>
<text x="147.30" y="280.20" font-size="9.9" text-anchor="middle" font-weight="normal" fill="#222" stroke="#222" stroke-width="0.18" >CD8:CD4</text>
<text x="147.30" y="293.4" font-size="8.4" text-anchor="middle" fill="#222" stroke="#222" stroke-width="0.18"><tspan font-style="italic">P</tspan> = .0176</text>
<path d="M131.00,297.9H163.80" stroke="#333" stroke-width="1.3"/>
<rect x="254.10" y="408.54" width="21.80" height="5.76" fill="#93d3e6"/>
<rect x="287.10" y="375.90" width="21.60" height="38.40" fill="#f6bfb3"/>
<path d="M265.00,404.51V411.80M259.50,404.51h11M259.50,411.80h11" stroke="#2a2a2a" stroke-width="1.35" fill="none" opacity="0.82"/>
<path d="M297.90,344.22V408.35M291.90,344.22h12M291.90,408.35h12" stroke="#2a2a2a" stroke-width="1.35" fill="none" opacity="0.82"/>
<g fill="#1ea2c0" stroke="#1a7890" stroke-width="0.45"><circle cx="261.50" cy="402.50" r="1.45"/><circle cx="261.50" cy="408.10" r="1.45"/><circle cx="268.60" cy="405.60" r="1.45"/><circle cx="268.60" cy="409.50" r="1.45"/><circle cx="265.00" cy="412.50" r="1.45"/></g>
<g fill="#e2705f" stroke="#b4505a" stroke-width="0.45"><circle cx="297.60" cy="322.00" r="1.45"/><circle cx="297.60" cy="330.00" r="1.45"/><circle cx="297.80" cy="366.90" r="1.45"/><circle cx="297.80" cy="371.90" r="1.45"/><circle cx="297.80" cy="378.20" r="1.45"/><circle cx="297.80" cy="397.00" r="1.45"/><circle cx="297.80" cy="401.60" r="1.45"/><circle cx="297.80" cy="408.00" r="1.45"/></g>
<path d="M242.50,296.10V414.30H319.60" stroke="#222" stroke-width="1.5" fill="none"/>
<text x="237.20" y="417.30" font-size="8.4" text-anchor="end" font-weight="normal" fill="#222" stroke="#222" stroke-width="0.18" >0</text>
<text x="237.20" y="378.90" font-size="8.4" text-anchor="end" font-weight="normal" fill="#222" stroke="#222" stroke-width="0.18" >10</text>
<text x="237.20" y="340.50" font-size="8.4" text-anchor="end" font-weight="normal" fill="#222" stroke="#222" stroke-width="0.18" >20</text>
<text x="237.20" y="302.10" font-size="8.4" text-anchor="end" font-weight="normal" fill="#222" stroke="#222" stroke-width="0.18" >30</text>
<text x="265.00" y="428.10" font-size="8.3" text-anchor="middle" font-weight="normal" fill="#222" stroke="#222" stroke-width="0.18" >Non</text>
<text x="297.90" y="428.10" font-size="8.3" text-anchor="middle" font-weight="normal" fill="#222" stroke="#222" stroke-width="0.18" >Resp</text>
<path d="M239.30,414.30H242.5M239.30,375.90H242.5M239.30,337.50H242.5M239.30,299.10H242.5M265.00,414.3v3M297.90,414.3v3" stroke="#222" stroke-width="1.1" fill="none"/>
<text x="281.50" y="280.20" font-size="9.5" text-anchor="middle" font-weight="normal" fill="#222" stroke="#222" stroke-width="0.18" >TEM</text>
<text x="281.50" y="293.4" font-size="8.4" text-anchor="middle" fill="#222" stroke="#222" stroke-width="0.18"><tspan font-style="italic">P</tspan> = .0498</text>
<path d="M265.00,297.9H297.90" stroke="#333" stroke-width="1.3"/>
<rect x="388.20" y="407.98" width="21.80" height="6.32" fill="#93d3e6"/>
<rect x="421.10" y="367.73" width="21.80" height="46.57" fill="#f6bfb3"/>
<path d="M399.10,400.50V415.26M393.30,400.50h11.6" stroke="#2a2a2a" stroke-width="1.35" fill="none" opacity="0.82"/>
<path d="M432.00,337.63V396.48M426.10,337.63h11.8M426.10,396.48h11.8" stroke="#2a2a2a" stroke-width="1.35" fill="none" opacity="0.82"/>
<g fill="#1ea2c0" stroke="#1a7890" stroke-width="0.45"><circle cx="399.00" cy="396.25" r="1.45"/><circle cx="395.60" cy="408.50" r="1.45"/><circle cx="402.50" cy="406.25" r="1.45"/><circle cx="395.60" cy="413.10" r="1.45"/><circle cx="402.50" cy="413.10" r="1.45"/></g>
<g fill="#e2705f" stroke="#b4505a" stroke-width="0.45"><circle cx="432.10" cy="311.70" r="1.45"/><circle cx="425.40" cy="348.20" r="1.45"/><circle cx="432.10" cy="344.90" r="1.45"/><circle cx="432.10" cy="350.70" r="1.45"/><circle cx="432.10" cy="382.00" r="1.45"/><circle cx="439.40" cy="388.75" r="1.45"/><circle cx="439.40" cy="393.10" r="1.45"/><circle cx="425.00" cy="394.40" r="1.45"/><circle cx="428.50" cy="409.60" r="1.45"/><circle cx="435.40" cy="407.75" r="1.45"/></g>
<path d="M376.60,296.30V414.30H454.20" stroke="#222" stroke-width="1.5" fill="none"/>
<text x="371.30" y="417.30" font-size="8.4" text-anchor="end" font-weight="normal" fill="#222" stroke="#222" stroke-width="0.18" >0</text>
<text x="371.30" y="378.97" font-size="8.4" text-anchor="end" font-weight="normal" fill="#222" stroke="#222" stroke-width="0.18" >20</text>
<text x="371.30" y="340.63" font-size="8.4" text-anchor="end" font-weight="normal" fill="#222" stroke="#222" stroke-width="0.18" >40</text>
<text x="371.30" y="302.30" font-size="8.4" text-anchor="end" font-weight="normal" fill="#222" stroke="#222" stroke-width="0.18" >60</text>
<text x="399.10" y="428.10" font-size="8.3" text-anchor="middle" font-weight="normal" fill="#222" stroke="#222" stroke-width="0.18" >Non</text>
<text x="432.00" y="428.10" font-size="8.3" text-anchor="middle" font-weight="normal" fill="#222" stroke="#222" stroke-width="0.18" >Resp</text>
<path d="M373.40,414.30H376.6M373.40,375.97H376.6M373.40,337.63H376.6M373.40,299.30H376.6M399.10,414.3v3M432.00,414.3v3" stroke="#222" stroke-width="1.1" fill="none"/>
<text x="415.50" y="280.20" font-size="9.5" text-anchor="middle" font-weight="normal" fill="#222" stroke="#222" stroke-width="0.18" >TEMRA</text>
<text x="415.50" y="293.4" font-size="8.4" text-anchor="middle" fill="#222" stroke="#222" stroke-width="0.18"><tspan font-style="italic">P</tspan> = .0115</text>
<path d="M399.10,297.9H432.00" stroke="#333" stroke-width="1.3"/>
<text x="0" y="0" font-size="8.4" text-anchor="middle" fill="#111" stroke="#111" stroke-width="0.25" transform="translate(86.0,354.9) rotate(-90) scale(0.76,1)">CD8:CD4 ratio</text>
<text x="0" y="0" font-size="8.4" text-anchor="middle" fill="#111" stroke="#111" stroke-width="0.25" transform="translate(221.4,355.5) rotate(-90) scale(0.83,1)">% of total T cells</text>
<text x="0" y="0" font-size="8.4" text-anchor="middle" fill="#111" stroke="#111" stroke-width="0.25" transform="translate(355.1,355.2) rotate(-90) scale(0.83,1)">% of total T cells</text>
<circle cx="224.8" cy="436.5" r="2.3" fill="#1a9fba"/>
<text x="230.20" y="439.20" font-size="7.4" text-anchor="start" font-weight="normal" fill="#222" stroke="#222" stroke-width="0.18" >Non-responders</text>
<circle cx="294.8" cy="436.5" r="2.3" fill="#e07272"/>
<text x="300.70" y="439.20" font-size="7.4" text-anchor="start" font-weight="normal" fill="#222" stroke="#222" stroke-width="0.18" >Responders</text>
<defs><filter id="soft0" x="-20%" y="-20%" width="140%" height="140%"><feGaussianBlur stdDeviation="1.4"/></filter><filter id="soft" x="-20%" y="-20%" width="140%" height="140%"><feGaussianBlur stdDeviation="0.9"/></filter><filter id="soft2" x="-30%" y="-30%" width="160%" height="160%"><feGaussianBlur stdDeviation="3"/></filter><filter id="soft3" x="-20%" y="-20%" width="140%" height="140%"><feGaussianBlur stdDeviation="1.6"/></filter><g id="umc"><circle cx="70.7" cy="543.9" r="1.5"/><circle cx="71.5" cy="539.6" r="1.3"/><circle cx="54.9" cy="540.0" r="1.3"/><circle cx="91.8" cy="554.9" r="0.9"/><circle cx="82.6" cy="548.5" r="1.0"/><circle cx="71.4" cy="534.1" r="1.5"/><circle cx="74.6" cy="550.5" r="1.2"/><circle cx="83.1" cy="535.5" r="1.1"/><circle cx="62.6" cy="516.8" r="1.1"/><circle cx="67.4" cy="504.0" r="1.3"/><circle cx="89.9" cy="520.1" r="1.0"/><circle cx="54.5" cy="543.9" r="1.2"/><circle cx="55.3" cy="558.0" r="1.0"/><circle cx="82.0" cy="507.6" r="1.2"/><circle cx="56.6" cy="520.1" r="1.6"/><circle cx="91.4" cy="522.9" r="1.5"/><circle cx="56.4" cy="530.3" r="1.5"/><circle cx="81.9" cy="506.2" r="1.6"/><circle cx="56.6" cy="519.2" r="1.4"/><circle cx="63.4" cy="522.3" r="1.0"/><circle cx="58.3" cy="547.3" r="1.2"/><circle cx="72.5" cy="545.1" r="1.5"/><circle cx="68.9" cy="506.5" r="0.9"/><circle cx="85.6" cy="519.1" r="1.5"/><circle cx="79.2" cy="522.1" r="1.0"/><circle cx="57.5" cy="543.9" r="1.5"/><circle cx="80.2" cy="521.0" r="1.5"/><circle cx="59.9" cy="534.5" r="0.9"/><circle cx="54.4" cy="528.2" r="1.3"/><circle cx="51.8" cy="527.7" r="1.5"/><circle cx="84.8" cy="545.9" r="1.0"/><circle cx="81.5" cy="537.5" r="1.4"/><circle cx="87.5" cy="555.7" r="1.5"/><circle cx="98.0" cy="526.9" r="1.4"/><circle cx="68.6" cy="562.8" r="1.5"/><circle cx="77.8" cy="549.2" r="1.2"/><circle cx="78.4" cy="547.9" r="1.0"/><circle cx="66.9" cy="558.3" r="1.3"/><circle cx="72.4" cy="516.9" r="1.4"/><circle cx="73.3" cy="548.4" r="1.5"/><circle cx="61.8" cy="553.6" r="1.0"/><circle cx="82.9" cy="534.2" r="1.5"/><circle cx="63.3" cy="552.6" r="1.0"/><circle cx="66.7" cy="545.8" r="1.1"/><circle cx="52.0" cy="538.7" r="1.5"/><circle cx="100.1" cy="520.7" r="1.0"/><circle cx="70.6" cy="520.6" r="1.0"/><circle cx="68.4" cy="549.3" r="1.2"/><circle cx="85.8" cy="544.8" r="1.1"/><circle cx="52.0" cy="535.3" r="0.9"/><circle cx="93.0" cy="517.5" r="1.0"/><circle cx="70.3" cy="549.7" r="1.4"/><circle cx="84.4" cy="514.3" r="1.2"/><circle cx="71.9" cy="556.6" r="1.0"/><circle cx="60.1" cy="526.4" r="1.4"/><circle cx="74.7" cy="548.4" r="1.4"/><circle cx="51.7" cy="535.2" r="1.3"/><circle cx="97.7" cy="528.9" r="1.3"/><circle cx="82.4" cy="514.8" r="1.4"/><circle cx="92.3" cy="550.6" r="1.4"/><circle cx="75.7" cy="562.8" r="1.1"/><circle cx="64.6" cy="504.8" r="1.2"/><circle cx="76.5" cy="561.0" r="1.2"/><circle cx="54.2" cy="525.5" r="1.5"/><circle cx="74.5" cy="557.3" r="1.5"/><circle cx="75.1" cy="521.8" r="1.4"/><circle cx="81.7" cy="540.9" r="1.5"/><circle cx="77.0" cy="523.6" r="1.2"/><circle cx="77.8" cy="514.5" r="1.3"/><circle cx="73.7" cy="547.6" r="0.9"/><circle cx="77.2" cy="538.3" r="1.4"/><circle cx="98.5" cy="520.1" r="1.2"/><circle cx="51.5" cy="533.6" r="1.5"/><circle cx="97.1" cy="537.1" r="1.1"/><circle cx="55.3" cy="548.7" r="1.5"/><circle cx="57.4" cy="554.3" r="1.1"/><circle cx="65.0" cy="548.8" r="1.0"/><circle cx="87.1" cy="508.1" r="1.3"/><circle cx="75.3" cy="533.8" r="1.2"/><circle cx="68.4" cy="541.4" r="1.0"/><circle cx="56.1" cy="549.8" r="1.3"/><circle cx="80.1" cy="568.3" r="1.1"/><circle cx="97.3" cy="523.9" r="1.1"/><circle cx="98.4" cy="515.9" r="1.6"/><circle cx="58.1" cy="557.6" r="1.1"/><circle cx="68.9" cy="562.8" r="1.0"/><circle cx="67.8" cy="554.2" r="0.9"/><circle cx="55.9" cy="554.0" r="1.5"/><circle cx="73.8" cy="560.2" r="1.3"/><circle cx="84.5" cy="513.5" r="0.9"/><circle cx="76.5" cy="540.2" r="1.3"/><circle cx="89.1" cy="524.8" r="1.2"/><circle cx="74.4" cy="533.3" r="1.3"/><circle cx="93.8" cy="512.9" r="1.2"/><circle cx="87.6" cy="531.2" r="1.0"/><circle cx="53.7" cy="540.0" r="0.9"/><circle cx="81.1" cy="531.2" r="1.3"/><circle cx="91.5" cy="519.2" r="1.5"/><circle cx="92.1" cy="531.3" r="1.5"/><circle cx="67.9" cy="557.3" r="0.9"/><circle cx="64.2" cy="536.4" r="0.9"/><circle cx="65.0" cy="550.4" r="1.3"/><circle cx="83.3" cy="525.7" r="1.4"/><circle cx="77.6" cy="541.7" r="1.2"/><circle cx="85.4" cy="560.5" r="1.6"/><circle cx="87.6" cy="519.0" r="1.2"/><circle cx="66.2" cy="506.1" r="1.1"/><circle cx="81.6" cy="564.4" r="1.0"/><circle cx="79.3" cy="560.3" r="0.9"/><circle cx="71.8" cy="511.9" r="1.2"/><circle cx="99.8" cy="532.5" r="1.3"/><circle cx="79.3" cy="528.0" r="1.1"/><circle cx="82.7" cy="544.0" r="1.1"/><circle cx="86.3" cy="522.3" r="0.9"/><circle cx="69.3" cy="537.2" r="1.6"/><circle cx="58.4" cy="540.9" r="1.6"/><circle cx="86.6" cy="536.4" r="1.6"/><circle cx="92.2" cy="547.5" r="1.0"/><circle cx="80.8" cy="535.4" r="1.0"/><circle cx="51.3" cy="534.3" r="1.4"/><circle cx="70.9" cy="519.5" r="1.3"/><circle cx="68.8" cy="561.8" r="1.3"/><circle cx="87.3" cy="517.5" r="1.0"/><circle cx="80.9" cy="527.5" r="1.1"/><circle cx="84.4" cy="544.3" r="1.3"/><circle cx="81.4" cy="559.8" r="1.0"/><circle cx="60.0" cy="532.9" r="1.3"/><circle cx="83.9" cy="543.2" r="1.3"/><circle cx="66.0" cy="537.2" r="1.0"/><circle cx="64.3" cy="559.1" r="1.5"/><circle cx="91.7" cy="549.1" r="1.4"/><circle cx="56.6" cy="532.8" r="1.1"/><circle cx="91.8" cy="528.3" r="1.4"/><circle cx="76.4" cy="559.2" r="1.5"/><circle cx="69.2" cy="528.3" r="1.0"/><circle cx="72.6" cy="554.2" r="1.1"/><circle cx="56.6" cy="552.3" r="1.0"/><circle cx="61.9" cy="557.4" r="1.4"/><circle cx="65.1" cy="557.5" r="1.2"/><circle cx="62.0" cy="524.0" r="1.2"/><circle cx="58.7" cy="527.7" r="1.2"/><circle cx="65.4" cy="530.4" r="1.2"/><circle cx="55.5" cy="544.2" r="1.5"/><circle cx="77.2" cy="512.5" r="1.4"/><circle cx="96.0" cy="521.1" r="0.9"/><circle cx="74.4" cy="542.6" r="1.3"/><circle cx="76.3" cy="562.6" r="1.0"/><circle cx="81.4" cy="509.8" r="1.4"/><circle cx="82.3" cy="518.1" r="1.1"/><circle cx="89.2" cy="540.8" r="1.4"/><circle cx="67.3" cy="525.7" r="1.6"/><circle cx="83.7" cy="538.5" r="1.3"/><circle cx="86.5" cy="556.1" r="1.5"/><circle cx="83.3" cy="568.0" r="1.5"/><circle cx="74.9" cy="556.2" r="1.5"/><circle cx="68.9" cy="532.5" r="1.0"/><circle cx="66.2" cy="511.7" r="1.0"/><circle cx="69.1" cy="521.9" r="1.6"/><circle cx="47.5" cy="523.3" r="1.0"/><circle cx="82.2" cy="561.6" r="1.0"/><circle cx="54.9" cy="515.8" r="1.1"/><circle cx="86.3" cy="546.8" r="1.1"/><circle cx="54.9" cy="521.0" r="1.0"/><circle cx="88.7" cy="523.6" r="1.3"/><circle cx="92.2" cy="537.3" r="1.1"/><circle cx="64.2" cy="542.9" r="1.6"/><circle cx="72.5" cy="516.1" r="0.9"/><circle cx="66.7" cy="541.3" r="1.3"/><circle cx="82.8" cy="517.5" r="0.9"/><circle cx="71.9" cy="528.5" r="1.5"/><circle cx="86.1" cy="547.7" r="1.0"/><circle cx="53.3" cy="524.4" r="1.1"/><circle cx="95.3" cy="540.3" r="1.3"/><circle cx="75.5" cy="510.4" r="1.4"/><circle cx="48.9" cy="520.1" r="1.4"/><circle cx="78.6" cy="568.3" r="1.1"/><circle cx="90.6" cy="532.2" r="1.5"/><circle cx="56.3" cy="542.6" r="1.3"/><circle cx="62.4" cy="523.5" r="1.0"/><circle cx="62.0" cy="536.3" r="1.4"/><circle cx="65.2" cy="554.3" r="1.0"/><circle cx="67.3" cy="535.9" r="1.6"/><circle cx="93.0" cy="551.6" r="0.9"/><circle cx="66.3" cy="556.2" r="1.1"/><circle cx="77.3" cy="535.6" r="0.9"/><circle cx="56.2" cy="548.5" r="1.1"/><circle cx="66.2" cy="542.3" r="1.1"/><circle cx="63.9" cy="530.2" r="1.4"/><circle cx="59.1" cy="514.4" r="1.4"/><circle cx="77.2" cy="557.4" r="1.1"/><circle cx="84.0" cy="556.1" r="1.0"/><circle cx="79.0" cy="505.4" r="1.1"/><circle cx="68.0" cy="504.0" r="1.5"/><circle cx="69.2" cy="539.9" r="1.4"/><circle cx="66.8" cy="525.2" r="1.2"/><circle cx="90.6" cy="552.1" r="1.3"/><circle cx="64.2" cy="551.4" r="1.0"/><circle cx="66.3" cy="539.8" r="1.5"/><circle cx="92.7" cy="548.1" r="1.0"/><circle cx="76.3" cy="526.9" r="1.3"/><circle cx="81.0" cy="514.2" r="1.0"/><circle cx="58.4" cy="545.3" r="1.4"/><circle cx="65.3" cy="536.0" r="1.0"/><circle cx="77.1" cy="543.9" r="1.1"/><circle cx="92.2" cy="547.3" r="1.0"/><circle cx="92.7" cy="521.7" r="1.5"/><circle cx="58.2" cy="545.0" r="1.5"/><circle cx="54.9" cy="542.9" r="1.0"/><circle cx="82.8" cy="523.2" r="1.4"/><circle cx="87.5" cy="529.3" r="1.3"/><circle cx="55.8" cy="536.4" r="1.0"/><circle cx="66.8" cy="544.7" r="1.0"/><circle cx="74.7" cy="519.6" r="1.3"/><circle cx="63.6" cy="550.6" r="0.9"/><circle cx="83.6" cy="509.9" r="1.6"/><circle cx="79.4" cy="536.5" r="1.2"/><circle cx="80.8" cy="554.5" r="1.4"/><circle cx="88.4" cy="537.8" r="1.6"/><circle cx="68.1" cy="533.6" r="1.3"/><circle cx="75.0" cy="533.4" r="1.5"/><circle cx="87.2" cy="547.0" r="1.4"/><circle cx="62.0" cy="546.7" r="0.9"/><circle cx="51.3" cy="534.7" r="1.3"/><circle cx="67.4" cy="502.3" r="1.4"/><circle cx="75.0" cy="517.6" r="1.1"/><circle cx="67.3" cy="517.3" r="0.9"/><circle cx="83.3" cy="569.1" r="1.2"/><circle cx="91.5" cy="516.2" r="1.4"/><circle cx="58.4" cy="522.5" r="1.1"/><circle cx="92.1" cy="530.6" r="1.1"/><circle cx="62.2" cy="538.9" r="1.6"/><circle cx="56.2" cy="522.2" r="1.5"/><circle cx="96.9" cy="514.0" r="1.5"/><circle cx="64.9" cy="536.7" r="1.0"/><circle cx="55.9" cy="549.9" r="1.0"/><circle cx="52.0" cy="555.1" r="1.6"/><circle cx="70.3" cy="504.5" r="1.1"/><circle cx="62.1" cy="556.3" r="1.0"/><circle cx="54.7" cy="517.3" r="1.4"/><circle cx="90.6" cy="528.5" r="1.4"/><circle cx="57.5" cy="522.7" r="1.5"/><circle cx="83.4" cy="520.7" r="1.3"/><circle cx="70.0" cy="541.3" r="1.3"/><circle cx="60.8" cy="518.6" r="1.5"/><circle cx="49.1" cy="521.4" r="1.4"/><circle cx="58.5" cy="520.9" r="1.3"/><circle cx="71.2" cy="559.5" r="1.2"/><circle cx="54.6" cy="543.6" r="1.4"/><circle cx="65.2" cy="552.0" r="1.4"/><circle cx="74.5" cy="539.5" r="1.5"/><circle cx="84.4" cy="540.7" r="1.6"/><circle cx="53.7" cy="547.9" r="1.1"/><circle cx="70.0" cy="561.4" r="1.5"/><circle cx="90.7" cy="517.3" r="1.2"/><circle cx="57.1" cy="545.6" r="1.2"/><circle cx="86.2" cy="545.0" r="1.5"/><circle cx="69.6" cy="534.2" r="1.1"/><circle cx="76.1" cy="562.9" r="1.1"/><circle cx="52.6" cy="523.5" r="0.9"/><circle cx="62.5" cy="548.9" r="1.3"/><circle cx="59.6" cy="546.3" r="1.0"/><circle cx="92.4" cy="512.1" r="1.1"/><circle cx="53.4" cy="554.6" r="1.5"/><circle cx="68.2" cy="527.9" r="1.1"/><circle cx="72.9" cy="560.4" r="1.6"/><circle cx="52.5" cy="535.3" r="1.4"/><circle cx="67.2" cy="522.4" r="1.2"/><circle cx="87.3" cy="516.8" r="1.1"/><circle cx="76.6" cy="517.8" r="1.2"/><circle cx="99.0" cy="527.8" r="1.1"/><circle cx="64.2" cy="555.0" r="1.5"/><circle cx="71.3" cy="530.2" r="1.5"/><circle cx="66.5" cy="562.1" r="1.1"/><circle cx="64.5" cy="513.1" r="1.3"/><circle cx="56.7" cy="536.4" r="1.1"/><circle cx="84.1" cy="568.7" r="1.0"/><circle cx="66.6" cy="504.0" r="1.4"/><circle cx="65.4" cy="520.5" r="0.9"/><circle cx="54.7" cy="519.5" r="1.2"/><circle cx="59.8" cy="527.6" r="1.0"/><circle cx="99.3" cy="527.5" r="1.4"/><circle cx="66.7" cy="504.8" r="1.5"/><circle cx="63.2" cy="561.2" r="1.3"/><circle cx="47.2" cy="530.3" r="1.1"/><circle cx="62.4" cy="532.8" r="1.3"/><circle cx="59.4" cy="557.5" r="1.4"/><circle cx="60.5" cy="556.4" r="1.2"/><circle cx="57.3" cy="522.0" r="1.1"/><circle cx="77.4" cy="564.3" r="1.6"/><circle cx="61.6" cy="553.0" r="1.5"/><circle cx="56.8" cy="554.5" r="1.4"/><circle cx="57.8" cy="549.9" r="1.0"/><circle cx="69.2" cy="530.2" r="0.9"/><circle cx="66.6" cy="524.9" r="1.2"/><circle cx="67.7" cy="537.0" r="1.0"/><circle cx="83.2" cy="517.7" r="1.0"/><circle cx="64.2" cy="532.6" r="1.0"/><circle cx="78.4" cy="555.5" r="1.3"/><circle cx="67.1" cy="527.9" r="0.9"/><circle cx="67.9" cy="502.5" r="1.2"/><circle cx="78.6" cy="536.5" r="1.1"/><circle cx="77.4" cy="519.5" r="1.4"/><circle cx="55.0" cy="536.5" r="1.3"/><circle cx="100.3" cy="527.7" r="1.3"/><circle cx="81.0" cy="548.9" r="1.2"/><circle cx="68.5" cy="520.6" r="1.5"/><circle cx="95.9" cy="529.3" r="1.5"/><circle cx="73.9" cy="523.3" r="1.2"/><circle cx="55.4" cy="516.7" r="1.4"/><circle cx="76.1" cy="530.3" r="1.1"/><circle cx="73.1" cy="551.3" r="1.3"/><circle cx="80.8" cy="544.0" r="1.5"/><circle cx="101.2" cy="525.3" r="1.1"/><circle cx="96.3" cy="523.7" r="1.4"/><circle cx="85.0" cy="554.3" r="1.6"/><circle cx="92.6" cy="511.1" r="1.3"/><circle cx="72.9" cy="544.2" r="1.2"/><circle cx="60.9" cy="559.4" r="1.3"/><circle cx="58.0" cy="518.4" r="1.1"/><circle cx="54.5" cy="540.1" r="1.0"/><circle cx="50.7" cy="535.0" r="1.4"/><circle cx="72.4" cy="511.3" r="1.5"/><circle cx="59.0" cy="539.6" r="1.5"/><circle cx="67.1" cy="556.7" r="1.1"/><circle cx="86.2" cy="524.8" r="1.1"/><circle cx="92.9" cy="544.5" r="1.2"/><circle cx="85.7" cy="549.1" r="1.5"/><circle cx="66.2" cy="552.9" r="1.1"/><circle cx="84.6" cy="532.4" r="1.3"/><circle cx="86.1" cy="507.7" r="0.9"/><circle cx="60.9" cy="558.0" r="1.6"/><circle cx="51.1" cy="525.1" r="0.9"/><circle cx="76.0" cy="537.6" r="1.2"/><circle cx="93.5" cy="521.3" r="1.2"/><circle cx="80.4" cy="560.8" r="1.6"/><circle cx="67.0" cy="554.9" r="1.3"/><circle cx="91.2" cy="510.0" r="1.0"/><circle cx="58.8" cy="538.0" r="1.0"/><circle cx="77.4" cy="509.8" r="1.3"/><circle cx="60.2" cy="516.7" r="1.2"/><circle cx="65.6" cy="519.3" r="0.9"/><circle cx="54.8" cy="537.6" r="1.6"/><circle cx="72.6" cy="532.0" r="1.5"/><circle cx="67.4" cy="502.7" r="1.3"/><circle cx="82.8" cy="549.1" r="1.1"/><circle cx="48.4" cy="527.4" r="1.4"/><circle cx="62.3" cy="540.2" r="0.9"/><circle cx="87.4" cy="530.7" r="1.5"/><circle cx="100.1" cy="531.0" r="1.4"/><circle cx="57.4" cy="529.8" r="1.2"/><circle cx="82.8" cy="564.5" r="1.2"/><circle cx="81.6" cy="527.0" r="1.1"/><circle cx="97.4" cy="524.4" r="1.0"/><circle cx="63.8" cy="558.8" r="1.0"/><circle cx="87.8" cy="542.8" r="1.4"/><circle cx="52.4" cy="526.7" r="1.2"/><circle cx="67.8" cy="524.4" r="1.3"/><circle cx="95.9" cy="524.3" r="1.4"/><circle cx="57.0" cy="531.5" r="1.4"/><circle cx="54.5" cy="520.4" r="1.4"/><circle cx="99.9" cy="524.4" r="1.0"/><circle cx="52.7" cy="550.0" r="1.2"/><circle cx="82.0" cy="515.4" r="1.3"/><circle cx="81.1" cy="539.4" r="1.3"/><circle cx="84.7" cy="535.2" r="1.4"/><circle cx="68.7" cy="529.5" r="1.1"/><circle cx="79.4" cy="545.0" r="1.3"/><circle cx="70.4" cy="546.7" r="1.3"/><circle cx="87.5" cy="523.7" r="1.4"/><circle cx="82.3" cy="574.9" r="1.5"/><circle cx="91.1" cy="540.0" r="1.6"/><circle cx="86.0" cy="518.6" r="1.5"/><circle cx="70.8" cy="542.0" r="1.5"/><circle cx="55.6" cy="520.9" r="1.4"/><circle cx="90.4" cy="538.2" r="1.1"/><circle cx="89.5" cy="543.0" r="1.5"/><circle cx="91.0" cy="510.4" r="1.2"/><circle cx="54.7" cy="529.9" r="1.5"/><circle cx="80.4" cy="571.9" r="1.0"/><circle cx="81.1" cy="569.9" r="1.4"/><circle cx="55.6" cy="552.8" r="1.2"/><circle cx="62.6" cy="549.6" r="1.1"/><circle cx="79.6" cy="555.0" r="1.0"/><circle cx="51.6" cy="554.9" r="1.2"/><circle cx="65.1" cy="514.1" r="1.6"/><circle cx="84.8" cy="558.4" r="1.2"/><circle cx="62.3" cy="531.5" r="1.0"/><circle cx="81.2" cy="532.8" r="1.5"/><circle cx="68.1" cy="535.5" r="1.3"/><circle cx="99.6" cy="526.4" r="1.4"/><circle cx="57.9" cy="545.5" r="1.1"/><circle cx="95.5" cy="521.5" r="1.5"/><circle cx="83.9" cy="535.3" r="1.6"/><circle cx="66.9" cy="558.9" r="1.3"/><circle cx="70.5" cy="503.3" r="1.2"/><circle cx="60.6" cy="534.2" r="1.6"/><circle cx="61.3" cy="555.0" r="1.4"/><circle cx="58.4" cy="531.7" r="1.0"/><circle cx="96.8" cy="518.6" r="1.2"/><circle cx="94.2" cy="546.4" r="1.3"/><circle cx="49.2" cy="527.8" r="1.2"/><circle cx="86.7" cy="552.9" r="1.1"/><circle cx="71.7" cy="527.7" r="1.2"/><circle cx="62.6" cy="553.0" r="1.3"/><circle cx="92.9" cy="551.3" r="1.4"/><circle cx="71.3" cy="530.9" r="1.4"/><circle cx="56.4" cy="528.3" r="1.0"/><circle cx="67.3" cy="558.8" r="1.0"/><circle cx="53.8" cy="551.2" r="1.3"/><circle cx="87.8" cy="518.8" r="1.5"/><circle cx="51.1" cy="536.4" r="0.9"/><circle cx="64.7" cy="541.9" r="1.3"/><circle cx="61.8" cy="539.6" r="1.0"/><circle cx="77.5" cy="508.6" r="1.0"/><circle cx="74.2" cy="522.1" r="1.4"/><circle cx="58.6" cy="531.9" r="0.9"/><circle cx="56.8" cy="535.0" r="1.3"/><circle cx="75.0" cy="531.3" r="1.3"/><circle cx="87.3" cy="556.4" r="1.0"/><circle cx="50.5" cy="522.7" r="1.6"/><circle cx="81.9" cy="567.5" r="0.9"/><circle cx="68.6" cy="504.4" r="1.1"/><circle cx="63.4" cy="538.1" r="1.4"/><circle cx="77.5" cy="539.1" r="1.5"/><circle cx="67.3" cy="522.5" r="1.4"/><circle cx="59.2" cy="528.2" r="1.2"/><circle cx="72.1" cy="527.4" r="1.2"/><circle cx="70.6" cy="502.1" r="1.5"/><circle cx="76.3" cy="530.8" r="1.1"/><circle cx="49.9" cy="528.5" r="1.1"/><circle cx="72.6" cy="516.9" r="1.4"/><circle cx="100.7" cy="528.0" r="1.3"/><circle cx="65.8" cy="522.7" r="1.3"/><circle cx="78.8" cy="523.8" r="1.2"/><circle cx="74.5" cy="559.8" r="0.9"/><circle cx="49.5" cy="518.7" r="1.1"/><circle cx="90.9" cy="532.9" r="1.5"/><circle cx="67.7" cy="521.4" r="1.4"/><circle cx="93.1" cy="524.9" r="1.1"/><circle cx="80.9" cy="543.3" r="1.5"/><circle cx="87.5" cy="532.3" r="1.4"/><circle cx="70.0" cy="559.6" r="1.2"/><circle cx="70.4" cy="533.8" r="1.0"/><circle cx="62.9" cy="558.2" r="1.0"/><circle cx="83.3" cy="542.9" r="1.0"/><circle cx="51.0" cy="523.4" r="1.6"/><circle cx="56.5" cy="532.0" r="1.3"/><circle cx="95.5" cy="536.7" r="0.9"/><circle cx="69.5" cy="529.0" r="1.4"/><circle cx="84.7" cy="529.8" r="1.4"/><circle cx="53.8" cy="546.0" r="1.0"/><circle cx="64.4" cy="511.4" r="1.1"/><circle cx="78.9" cy="540.6" r="1.2"/><circle cx="65.1" cy="545.9" r="1.2"/><circle cx="85.1" cy="517.2" r="1.1"/><circle cx="87.1" cy="545.1" r="1.1"/><circle cx="66.3" cy="556.8" r="1.2"/><circle cx="80.4" cy="543.9" r="1.6"/><circle cx="97.7" cy="535.4" r="1.2"/><circle cx="50.0" cy="523.1" r="1.5"/><circle cx="77.5" cy="543.2" r="1.1"/><circle cx="75.6" cy="548.0" r="1.0"/><circle cx="89.1" cy="545.8" r="1.5"/><circle cx="86.4" cy="521.9" r="1.5"/><circle cx="86.9" cy="519.7" r="1.1"/><circle cx="59.0" cy="522.0" r="1.1"/><circle cx="51.8" cy="537.8" r="1.1"/><circle cx="60.8" cy="520.8" r="1.3"/><circle cx="80.0" cy="542.6" r="1.4"/><circle cx="75.5" cy="552.1" r="1.5"/><circle cx="89.7" cy="519.3" r="0.9"/><circle cx="99.3" cy="527.7" r="1.5"/><circle cx="57.8" cy="535.1" r="1.2"/><circle cx="73.8" cy="544.4" r="1.1"/><circle cx="77.4" cy="507.8" r="1.6"/><circle cx="84.4" cy="568.1" r="1.4"/><circle cx="74.8" cy="504.3" r="1.3"/><circle cx="54.9" cy="541.2" r="1.1"/><circle cx="73.4" cy="514.2" r="1.4"/><circle cx="68.6" cy="537.8" r="1.0"/><circle cx="72.7" cy="543.7" r="1.6"/><circle cx="77.1" cy="509.1" r="1.1"/><circle cx="63.8" cy="555.6" r="1.6"/><circle cx="72.9" cy="546.4" r="1.4"/><circle cx="80.2" cy="548.3" r="1.6"/><circle cx="84.6" cy="540.6" r="1.3"/><circle cx="93.2" cy="531.4" r="1.1"/><circle cx="89.4" cy="519.5" r="1.3"/><circle cx="75.0" cy="525.5" r="1.4"/><circle cx="70.8" cy="517.2" r="1.5"/><circle cx="90.2" cy="525.3" r="1.1"/><circle cx="82.6" cy="519.3" r="1.3"/><circle cx="61.8" cy="525.0" r="1.4"/><circle cx="83.8" cy="562.8" r="1.3"/><circle cx="65.9" cy="527.2" r="1.5"/><circle cx="90.2" cy="525.7" r="1.5"/><circle cx="66.4" cy="521.5" r="1.3"/><circle cx="87.7" cy="537.0" r="1.5"/><circle cx="66.4" cy="503.3" r="1.5"/><circle cx="99.0" cy="526.0" r="1.6"/><circle cx="66.0" cy="507.9" r="1.1"/><circle cx="75.1" cy="542.3" r="1.3"/><circle cx="89.0" cy="541.2" r="1.6"/><circle cx="73.7" cy="511.1" r="1.1"/><circle cx="77.5" cy="522.1" r="1.5"/><circle cx="79.6" cy="567.4" r="1.2"/><circle cx="89.0" cy="530.8" r="0.9"/><circle cx="87.4" cy="515.4" r="0.9"/><circle cx="73.5" cy="551.5" r="1.2"/><circle cx="59.4" cy="548.7" r="1.2"/><circle cx="71.9" cy="549.2" r="1.1"/><circle cx="78.3" cy="532.2" r="1.3"/><circle cx="71.2" cy="525.3" r="1.5"/><circle cx="84.6" cy="526.5" r="1.3"/><circle cx="74.3" cy="529.1" r="0.9"/><circle cx="73.3" cy="520.1" r="1.3"/><circle cx="81.3" cy="535.9" r="1.0"/><circle cx="73.4" cy="537.5" r="1.3"/><circle cx="70.1" cy="504.9" r="1.5"/><circle cx="91.1" cy="518.9" r="1.5"/><circle cx="73.7" cy="532.9" r="1.3"/><circle cx="72.5" cy="521.8" r="1.5"/><circle cx="73.7" cy="526.1" r="1.0"/><circle cx="61.9" cy="518.0" r="1.5"/><circle cx="95.4" cy="523.5" r="1.0"/><circle cx="85.0" cy="560.2" r="1.6"/><circle cx="80.8" cy="508.3" r="1.4"/><circle cx="73.0" cy="529.5" r="1.1"/><circle cx="90.9" cy="516.8" r="1.4"/><circle cx="74.4" cy="523.9" r="1.1"/><circle cx="97.8" cy="521.8" r="1.6"/><circle cx="89.7" cy="525.3" r="1.1"/><circle cx="74.8" cy="538.0" r="0.9"/><circle cx="71.9" cy="559.1" r="1.1"/><circle cx="65.0" cy="541.2" r="1.6"/><circle cx="81.7" cy="532.0" r="1.2"/><circle cx="69.5" cy="554.2" r="1.4"/><circle cx="76.7" cy="550.6" r="1.6"/><circle cx="97.3" cy="518.6" r="1.3"/><circle cx="76.5" cy="520.4" r="1.4"/><circle cx="86.9" cy="524.2" r="1.4"/><circle cx="82.2" cy="555.9" r="1.2"/><circle cx="69.5" cy="506.7" r="1.2"/><circle cx="69.8" cy="508.5" r="1.2"/><circle cx="77.8" cy="559.0" r="1.2"/><circle cx="82.3" cy="553.9" r="1.3"/><circle cx="71.6" cy="506.7" r="1.6"/><circle cx="94.3" cy="537.9" r="1.3"/><circle cx="74.0" cy="531.7" r="1.2"/><circle cx="96.3" cy="519.1" r="1.5"/><circle cx="85.8" cy="534.8" r="1.2"/><circle cx="69.8" cy="535.1" r="1.1"/><circle cx="80.8" cy="531.7" r="1.1"/><circle cx="89.6" cy="535.3" r="1.2"/><circle cx="95.9" cy="535.3" r="1.2"/><circle cx="90.4" cy="530.9" r="1.4"/><circle cx="87.7" cy="522.3" r="1.4"/><circle cx="83.5" cy="533.7" r="1.4"/><circle cx="64.2" cy="556.4" r="0.9"/><circle cx="59.3" cy="548.3" r="1.1"/><circle cx="67.1" cy="546.4" r="1.4"/><circle cx="78.2" cy="518.6" r="1.4"/><circle cx="77.1" cy="542.6" r="1.6"/><circle cx="100.1" cy="520.5" r="1.3"/><circle cx="75.2" cy="538.6" r="1.0"/><circle cx="80.9" cy="571.3" r="1.4"/><circle cx="68.8" cy="509.9" r="1.3"/><circle cx="71.2" cy="541.4" r="1.6"/><circle cx="84.8" cy="554.6" r="1.5"/><circle cx="66.4" cy="520.4" r="1.2"/><circle cx="66.1" cy="551.9" r="1.0"/><circle cx="99.1" cy="518.5" r="1.0"/><circle cx="59.6" cy="538.1" r="1.4"/><circle cx="94.7" cy="515.3" r="1.4"/><circle cx="85.3" cy="525.6" r="1.5"/><circle cx="62.5" cy="534.2" r="1.5"/><circle cx="77.6" cy="548.0" r="1.6"/><circle cx="80.6" cy="510.3" r="1.6"/><circle cx="64.1" cy="534.1" r="1.2"/><circle cx="83.9" cy="512.1" r="1.1"/><circle cx="85.7" cy="515.7" r="1.5"/><circle cx="95.5" cy="516.6" r="1.2"/><circle cx="76.1" cy="545.8" r="1.0"/><circle cx="85.1" cy="512.5" r="1.1"/><circle cx="83.4" cy="555.0" r="1.1"/><circle cx="71.6" cy="521.7" r="1.3"/><circle cx="65.0" cy="527.5" r="1.1"/><circle cx="61.2" cy="519.4" r="0.9"/><circle cx="62.3" cy="546.5" r="1.1"/><circle cx="71.7" cy="540.0" r="1.1"/><circle cx="80.7" cy="552.1" r="1.4"/><circle cx="73.5" cy="531.9" r="1.2"/><circle cx="73.7" cy="536.4" r="1.3"/><circle cx="75.4" cy="562.7" r="1.5"/><circle cx="91.0" cy="548.9" r="1.1"/><circle cx="84.8" cy="559.1" r="1.2"/><circle cx="67.4" cy="543.3" r="1.5"/><circle cx="76.1" cy="540.2" r="1.1"/><circle cx="94.9" cy="540.4" r="1.6"/><circle cx="67.0" cy="550.4" r="1.0"/><circle cx="69.7" cy="560.5" r="1.3"/><circle cx="78.4" cy="512.2" r="1.2"/><circle cx="76.1" cy="525.6" r="1.3"/><circle cx="89.0" cy="525.4" r="1.6"/><circle cx="77.0" cy="506.3" r="1.3"/><circle cx="100.5" cy="524.3" r="1.1"/><circle cx="92.8" cy="513.1" r="1.3"/><circle cx="83.5" cy="549.5" r="1.2"/><circle cx="86.3" cy="538.5" r="0.9"/><circle cx="73.0" cy="529.5" r="1.3"/><circle cx="63.5" cy="510.2" r="1.3"/><circle cx="73.5" cy="539.0" r="1.4"/><circle cx="77.3" cy="517.6" r="1.0"/><circle cx="66.5" cy="505.1" r="0.9"/><circle cx="93.9" cy="547.3" r="1.5"/><circle cx="81.8" cy="511.8" r="1.0"/><circle cx="75.6" cy="528.8" r="1.0"/><circle cx="77.5" cy="539.7" r="1.2"/><circle cx="80.3" cy="513.9" r="1.1"/><circle cx="78.7" cy="530.2" r="1.3"/><circle cx="66.6" cy="556.1" r="1.2"/><circle cx="95.1" cy="527.7" r="1.3"/><circle cx="77.3" cy="508.8" r="1.4"/><circle cx="79.8" cy="513.7" r="1.2"/><circle cx="84.9" cy="513.6" r="1.5"/><circle cx="63.4" cy="520.6" r="1.6"/><circle cx="86.2" cy="517.1" r="1.2"/><circle cx="62.7" cy="530.6" r="1.1"/><circle cx="87.8" cy="536.0" r="1.4"/><circle cx="80.4" cy="511.3" r="0.9"/><circle cx="68.4" cy="513.0" r="1.4"/><circle cx="77.8" cy="553.3" r="1.6"/><circle cx="66.0" cy="507.3" r="1.3"/><circle cx="92.6" cy="526.2" r="1.0"/><circle cx="83.6" cy="557.7" r="1.5"/><circle cx="76.7" cy="545.7" r="1.5"/><circle cx="81.3" cy="536.4" r="0.9"/><circle cx="72.1" cy="519.6" r="1.3"/><circle cx="74.1" cy="539.9" r="0.9"/><circle cx="90.8" cy="521.8" r="1.2"/><circle cx="72.6" cy="530.6" r="1.2"/><circle cx="69.0" cy="547.4" r="1.4"/><circle cx="70.2" cy="522.2" r="1.2"/><circle cx="96.4" cy="515.5" r="0.9"/><circle cx="96.3" cy="537.6" r="1.0"/><circle cx="83.8" cy="515.5" r="1.2"/><circle cx="99.2" cy="525.5" r="1.0"/><circle cx="90.7" cy="514.9" r="0.9"/><circle cx="79.6" cy="536.6" r="1.1"/><circle cx="80.5" cy="524.3" r="1.4"/><circle cx="58.7" cy="543.3" r="1.1"/><circle cx="88.8" cy="525.6" r="1.2"/><circle cx="85.1" cy="557.7" r="1.2"/><circle cx="73.3" cy="550.8" r="1.2"/><circle cx="65.8" cy="512.4" r="1.6"/><circle cx="79.7" cy="508.5" r="1.4"/><circle cx="79.3" cy="548.3" r="1.4"/><circle cx="79.9" cy="569.9" r="1.6"/><circle cx="68.0" cy="551.2" r="1.2"/><circle cx="68.2" cy="528.0" r="1.4"/><circle cx="64.8" cy="526.9" r="1.5"/><circle cx="93.8" cy="529.7" r="1.3"/><circle cx="98.4" cy="522.8" r="1.2"/><circle cx="81.7" cy="571.1" r="1.0"/><circle cx="64.8" cy="536.8" r="1.0"/><circle cx="61.2" cy="532.8" r="1.1"/><circle cx="81.7" cy="563.8" r="1.1"/><circle cx="70.7" cy="547.1" r="1.1"/><circle cx="68.2" cy="510.8" r="1.6"/><circle cx="82.1" cy="536.8" r="1.4"/><circle cx="83.5" cy="511.0" r="1.3"/><circle cx="68.4" cy="540.3" r="1.4"/><circle cx="84.7" cy="544.7" r="1.5"/><circle cx="62.3" cy="534.0" r="1.2"/><circle cx="77.3" cy="520.9" r="1.4"/><circle cx="76.3" cy="505.6" r="1.5"/><circle cx="89.4" cy="546.5" r="1.4"/><circle cx="68.4" cy="540.7" r="1.0"/><circle cx="71.3" cy="519.1" r="1.4"/><circle cx="66.4" cy="511.0" r="1.5"/><circle cx="69.8" cy="535.5" r="1.2"/><circle cx="65.8" cy="535.3" r="1.4"/><circle cx="86.0" cy="524.8" r="1.3"/><circle cx="66.8" cy="527.5" r="0.9"/><circle cx="65.8" cy="523.5" r="1.0"/><circle cx="78.8" cy="566.8" r="1.2"/><circle cx="61.9" cy="535.1" r="1.1"/><circle cx="84.2" cy="514.7" r="1.5"/><circle cx="95.1" cy="539.8" r="0.9"/><circle cx="60.9" cy="522.0" r="1.2"/><circle cx="64.1" cy="516.7" r="0.9"/><circle cx="76.2" cy="530.8" r="1.3"/><circle cx="83.8" cy="525.5" r="1.2"/><circle cx="66.3" cy="520.1" r="0.9"/><circle cx="61.5" cy="522.4" r="1.0"/><circle cx="65.3" cy="534.4" r="1.3"/><circle cx="90.3" cy="543.6" r="1.2"/><circle cx="73.7" cy="563.0" r="1.5"/><circle cx="83.8" cy="535.8" r="1.3"/><circle cx="78.2" cy="541.1" r="1.5"/><circle cx="88.4" cy="548.5" r="1.3"/><circle cx="72.0" cy="528.8" r="1.6"/><circle cx="72.9" cy="558.3" r="1.1"/><circle cx="85.9" cy="558.0" r="0.9"/><circle cx="64.0" cy="506.6" r="1.5"/><circle cx="70.3" cy="520.4" r="1.4"/><circle cx="68.2" cy="536.8" r="1.2"/><circle cx="92.9" cy="516.7" r="1.1"/><circle cx="71.1" cy="550.8" r="1.3"/><circle cx="97.0" cy="519.6" r="1.0"/><circle cx="86.3" cy="536.8" r="1.4"/><circle cx="89.3" cy="539.8" r="1.1"/><circle cx="75.0" cy="552.3" r="1.1"/><circle cx="81.7" cy="510.0" r="1.6"/><circle cx="77.4" cy="504.1" r="1.4"/><circle cx="87.1" cy="538.0" r="1.5"/><circle cx="83.9" cy="552.5" r="1.4"/><circle cx="65.7" cy="550.4" r="0.9"/><circle cx="91.4" cy="535.9" r="1.0"/><circle cx="70.6" cy="553.8" r="1.3"/><circle cx="67.5" cy="518.1" r="1.1"/><circle cx="87.2" cy="548.3" r="1.1"/><circle cx="64.0" cy="503.9" r="1.4"/><circle cx="79.8" cy="564.3" r="1.6"/><circle cx="80.2" cy="550.4" r="1.5"/><circle cx="80.1" cy="527.8" r="0.9"/><circle cx="93.0" cy="549.2" r="1.6"/><circle cx="79.0" cy="567.9" r="1.4"/><circle cx="96.9" cy="530.5" r="0.9"/><circle cx="63.2" cy="526.8" r="1.6"/><circle cx="67.3" cy="520.5" r="1.4"/><circle cx="67.3" cy="508.2" r="1.3"/><circle cx="61.2" cy="538.1" r="1.3"/><circle cx="59.7" cy="541.9" r="0.9"/><circle cx="64.6" cy="521.3" r="1.5"/><circle cx="89.7" cy="510.9" r="1.3"/><circle cx="80.8" cy="547.6" r="1.0"/><circle cx="66.7" cy="503.7" r="1.4"/><circle cx="61.8" cy="547.8" r="1.1"/><circle cx="98.4" cy="518.8" r="1.5"/><circle cx="86.3" cy="541.2" r="0.9"/><circle cx="73.3" cy="534.6" r="0.9"/><circle cx="84.0" cy="507.6" r="1.4"/><circle cx="85.4" cy="525.0" r="1.4"/><circle cx="78.1" cy="531.9" r="1.3"/><circle cx="96.4" cy="526.7" r="1.4"/><circle cx="65.6" cy="513.6" r="0.9"/><circle cx="68.8" cy="528.2" r="1.6"/><circle cx="75.4" cy="506.4" r="0.9"/><circle cx="80.0" cy="569.7" r="0.9"/><circle cx="85.4" cy="517.1" r="1.4"/><circle cx="95.9" cy="527.0" r="1.0"/><circle cx="65.0" cy="514.7" r="1.2"/><circle cx="80.3" cy="552.0" r="1.0"/><circle cx="76.7" cy="542.0" r="1.4"/><circle cx="72.4" cy="521.1" r="1.3"/><circle cx="79.8" cy="537.1" r="1.0"/><circle cx="81.9" cy="509.2" r="1.0"/><circle cx="79.0" cy="550.8" r="1.5"/><circle cx="91.7" cy="538.0" r="1.5"/><circle cx="91.5" cy="515.7" r="1.1"/><circle cx="61.1" cy="533.4" r="1.5"/><circle cx="60.0" cy="548.6" r="0.9"/><circle cx="73.8" cy="510.0" r="1.3"/><circle cx="94.4" cy="535.5" r="1.2"/><circle cx="77.6" cy="531.5" r="1.0"/><circle cx="71.1" cy="503.2" r="1.0"/><circle cx="80.0" cy="569.1" r="1.3"/><circle cx="93.5" cy="546.0" r="1.4"/><circle cx="78.9" cy="519.3" r="0.9"/><circle cx="77.0" cy="531.5" r="1.6"/><circle cx="78.0" cy="518.2" r="1.3"/><circle cx="60.5" cy="547.7" r="1.1"/><circle cx="88.8" cy="519.2" r="1.5"/><circle cx="78.4" cy="519.1" r="1.4"/><circle cx="89.8" cy="509.6" r="1.4"/><circle cx="80.7" cy="545.7" r="1.1"/><circle cx="66.4" cy="544.7" r="1.1"/><circle cx="81.9" cy="568.8" r="1.4"/><circle cx="65.6" cy="533.6" r="1.5"/><circle cx="76.3" cy="540.5" r="1.3"/><circle cx="76.6" cy="553.6" r="1.3"/><circle cx="76.6" cy="517.3" r="1.0"/><circle cx="99.9" cy="522.0" r="1.3"/><circle cx="74.6" cy="535.2" r="1.0"/><circle cx="79.4" cy="549.2" r="1.2"/><circle cx="80.1" cy="522.2" r="1.2"/><circle cx="84.6" cy="515.7" r="1.4"/><circle cx="80.4" cy="543.0" r="1.4"/><circle cx="61.0" cy="528.5" r="1.2"/><circle cx="87.3" cy="557.0" r="1.0"/><circle cx="80.7" cy="529.5" r="1.0"/><circle cx="86.4" cy="548.5" r="1.4"/><circle cx="69.7" cy="558.8" r="1.3"/><circle cx="81.4" cy="543.0" r="1.4"/><circle cx="77.0" cy="505.4" r="1.4"/><circle cx="85.5" cy="533.1" r="1.6"/><circle cx="72.4" cy="511.6" r="1.3"/><circle cx="65.1" cy="511.6" r="1.5"/><circle cx="70.5" cy="550.3" r="1.2"/><circle cx="71.8" cy="543.3" r="1.5"/><circle cx="79.4" cy="524.5" r="1.6"/><circle cx="79.3" cy="520.2" r="1.3"/><circle cx="82.2" cy="538.0" r="1.1"/><circle cx="69.8" cy="532.6" r="1.3"/><circle cx="60.0" cy="548.8" r="1.2"/><circle cx="76.2" cy="525.5" r="1.1"/><circle cx="86.1" cy="533.8" r="1.4"/><circle cx="69.9" cy="530.9" r="1.3"/><circle cx="74.8" cy="542.9" r="1.3"/><circle cx="92.3" cy="520.6" r="0.9"/><circle cx="82.2" cy="568.1" r="1.3"/><circle cx="72.3" cy="507.0" r="1.5"/><circle cx="72.5" cy="514.4" r="1.2"/><circle cx="91.5" cy="520.4" r="1.3"/><circle cx="84.6" cy="516.6" r="1.4"/><circle cx="78.6" cy="559.6" r="1.6"/><circle cx="70.9" cy="539.8" r="1.0"/><circle cx="89.3" cy="534.6" r="1.0"/><circle cx="80.7" cy="534.5" r="1.3"/><circle cx="90.4" cy="518.4" r="1.4"/><circle cx="73.9" cy="513.1" r="1.3"/><circle cx="89.3" cy="538.4" r="1.2"/><circle cx="62.7" cy="541.1" r="1.1"/><circle cx="74.2" cy="510.1" r="1.4"/><circle cx="58.6" cy="547.0" r="1.2"/><circle cx="84.3" cy="532.9" r="1.4"/><circle cx="76.5" cy="506.6" r="1.2"/><circle cx="87.6" cy="510.8" r="1.3"/><circle cx="87.3" cy="552.4" r="0.9"/><circle cx="89.3" cy="517.2" r="1.3"/><circle cx="91.2" cy="547.5" r="1.3"/><circle cx="79.2" cy="535.7" r="1.3"/><circle cx="77.3" cy="550.9" r="1.2"/><circle cx="93.7" cy="541.6" r="1.5"/><circle cx="89.6" cy="554.6" r="1.3"/><circle cx="83.0" cy="518.4" r="1.3"/><circle cx="76.4" cy="547.8" r="1.2"/><circle cx="62.8" cy="523.7" r="1.2"/><circle cx="69.3" cy="549.9" r="1.4"/><circle cx="70.5" cy="534.6" r="1.4"/><circle cx="68.7" cy="543.7" r="1.3"/><circle cx="60.4" cy="537.0" r="1.6"/><circle cx="83.7" cy="565.5" r="1.5"/><circle cx="61.1" cy="552.6" r="1.0"/><circle cx="78.3" cy="546.1" r="1.4"/><circle cx="86.6" cy="544.6" r="1.5"/><circle cx="76.5" cy="547.1" r="1.6"/><circle cx="81.1" cy="568.1" r="1.3"/><circle cx="71.5" cy="526.9" r="1.3"/><circle cx="75.0" cy="558.5" r="1.2"/><circle cx="82.8" cy="521.5" r="1.5"/><circle cx="84.3" cy="512.6" r="1.4"/><circle cx="66.3" cy="525.4" r="1.2"/><circle cx="64.9" cy="556.4" r="1.2"/><circle cx="68.4" cy="546.6" r="0.9"/><circle cx="65.5" cy="524.9" r="1.3"/><circle cx="81.3" cy="510.1" r="1.4"/><circle cx="70.5" cy="520.3" r="1.1"/><circle cx="100.5" cy="526.6" r="1.1"/><circle cx="75.6" cy="552.9" r="1.6"/><circle cx="86.7" cy="538.6" r="1.4"/><circle cx="88.7" cy="511.1" r="1.0"/><circle cx="73.9" cy="540.9" r="1.2"/><circle cx="75.8" cy="510.7" r="1.0"/><circle cx="87.2" cy="547.3" r="1.2"/><circle cx="70.1" cy="553.7" r="0.9"/><circle cx="89.0" cy="537.3" r="1.1"/><circle cx="90.1" cy="540.7" r="1.1"/><circle cx="75.8" cy="553.9" r="1.0"/><circle cx="69.7" cy="548.1" r="1.2"/><circle cx="82.5" cy="526.2" r="1.4"/><circle cx="69.3" cy="541.1" r="0.9"/><circle cx="67.3" cy="559.9" r="0.9"/><circle cx="71.7" cy="520.3" r="1.3"/><circle cx="73.9" cy="554.7" r="1.0"/><circle cx="80.3" cy="538.2" r="1.3"/><circle cx="68.3" cy="512.7" r="1.0"/><circle cx="90.9" cy="540.3" r="0.9"/><circle cx="80.3" cy="566.1" r="1.4"/><circle cx="71.1" cy="511.6" r="1.1"/><circle cx="83.3" cy="518.6" r="1.6"/><circle cx="69.0" cy="535.4" r="1.5"/><circle cx="82.3" cy="536.2" r="1.4"/><circle cx="87.7" cy="523.3" r="0.9"/><circle cx="79.4" cy="507.6" r="1.4"/><circle cx="80.7" cy="550.2" r="1.0"/><circle cx="65.5" cy="558.1" r="1.0"/><circle cx="85.4" cy="515.0" r="1.4"/><circle cx="82.3" cy="566.2" r="1.4"/><circle cx="71.2" cy="534.6" r="1.3"/><circle cx="90.5" cy="546.2" r="1.6"/><circle cx="95.8" cy="526.4" r="0.9"/><circle cx="79.5" cy="548.8" r="1.6"/><circle cx="76.9" cy="557.4" r="1.4"/><circle cx="69.9" cy="515.7" r="1.1"/><circle cx="65.4" cy="558.2" r="1.3"/><circle cx="71.3" cy="522.4" r="1.5"/><circle cx="70.6" cy="502.1" r="0.9"/><circle cx="79.8" cy="547.6" r="1.3"/><circle cx="74.9" cy="523.0" r="1.1"/><circle cx="65.6" cy="546.0" r="1.4"/><circle cx="60.3" cy="547.8" r="1.1"/><circle cx="88.0" cy="514.7" r="1.3"/><circle cx="65.2" cy="519.9" r="1.3"/><circle cx="91.6" cy="541.6" r="1.1"/><circle cx="89.7" cy="535.2" r="1.6"/><circle cx="98.1" cy="525.7" r="1.4"/><circle cx="75.3" cy="505.5" r="1.4"/><circle cx="73.9" cy="562.2" r="1.3"/><circle cx="77.4" cy="512.0" r="1.0"/><circle cx="79.1" cy="546.0" r="1.2"/><circle cx="64.6" cy="509.5" r="1.4"/><circle cx="65.9" cy="547.3" r="1.5"/><circle cx="80.6" cy="514.2" r="1.2"/><circle cx="74.0" cy="542.1" r="1.0"/><circle cx="78.4" cy="523.5" r="1.4"/><circle cx="70.5" cy="512.2" r="1.1"/><circle cx="81.0" cy="505.8" r="1.5"/><circle cx="81.8" cy="509.7" r="1.1"/><circle cx="79.6" cy="517.6" r="0.9"/><circle cx="79.4" cy="548.5" r="1.3"/><circle cx="76.6" cy="517.2" r="1.1"/><circle cx="78.3" cy="505.1" r="1.5"/><circle cx="65.3" cy="523.3" r="0.9"/><circle cx="70.5" cy="537.5" r="1.1"/><circle cx="89.9" cy="526.9" r="1.4"/><circle cx="64.7" cy="512.2" r="1.2"/><circle cx="91.7" cy="547.1" r="1.5"/><circle cx="86.8" cy="554.8" r="1.4"/><circle cx="79.1" cy="552.2" r="1.3"/><circle cx="73.6" cy="523.6" r="1.4"/><circle cx="67.4" cy="553.8" r="1.2"/><circle cx="80.3" cy="548.3" r="1.3"/><circle cx="73.8" cy="539.5" r="1.6"/><circle cx="95.5" cy="533.6" r="1.5"/><circle cx="83.4" cy="564.0" r="1.6"/><circle cx="98.5" cy="516.6" r="1.2"/><circle cx="80.2" cy="559.8" r="1.1"/><circle cx="86.8" cy="521.0" r="1.0"/><circle cx="77.7" cy="524.5" r="1.0"/><circle cx="65.3" cy="541.8" r="1.5"/><circle cx="64.2" cy="538.3" r="1.6"/><circle cx="77.3" cy="552.1" r="0.9"/><circle cx="68.5" cy="525.3" r="1.0"/><circle cx="80.3" cy="527.9" r="1.5"/><circle cx="79.3" cy="548.3" r="1.5"/><circle cx="69.8" cy="505.0" r="1.3"/><circle cx="59.8" cy="540.7" r="0.9"/><circle cx="70.6" cy="542.6" r="1.4"/><circle cx="98.7" cy="525.5" r="1.1"/><circle cx="65.7" cy="515.4" r="1.0"/><circle cx="71.8" cy="545.7" r="1.1"/><circle cx="68.2" cy="557.4" r="1.0"/><circle cx="70.8" cy="518.7" r="1.1"/><circle cx="63.9" cy="514.2" r="1.3"/><circle cx="63.9" cy="533.1" r="0.9"/><circle cx="64.7" cy="508.5" r="1.5"/><circle cx="87.4" cy="527.1" r="1.6"/><circle cx="76.1" cy="537.9" r="1.5"/><circle cx="99.3" cy="522.4" r="1.4"/><circle cx="75.8" cy="538.0" r="1.3"/><circle cx="72.3" cy="503.1" r="1.1"/><circle cx="89.6" cy="522.1" r="1.0"/><circle cx="69.2" cy="545.4" r="1.0"/><circle cx="66.2" cy="543.6" r="1.4"/><circle cx="76.2" cy="512.2" r="1.5"/><circle cx="86.5" cy="544.5" r="1.2"/><circle cx="85.6" cy="515.8" r="0.9"/><circle cx="86.1" cy="525.3" r="1.2"/><circle cx="86.6" cy="556.0" r="1.2"/><circle cx="96.1" cy="513.9" r="1.2"/><circle cx="61.2" cy="538.9" r="1.4"/><circle cx="72.9" cy="506.6" r="1.5"/><circle cx="66.0" cy="518.0" r="1.0"/><circle cx="75.7" cy="525.6" r="1.6"/><circle cx="81.4" cy="533.3" r="1.0"/><circle cx="80.1" cy="538.6" r="1.3"/><circle cx="90.8" cy="523.9" r="1.1"/><circle cx="69.5" cy="522.3" r="1.4"/><circle cx="86.1" cy="526.2" r="1.4"/><circle cx="64.9" cy="549.1" r="1.0"/><circle cx="62.7" cy="544.0" r="1.3"/><circle cx="80.6" cy="517.0" r="1.0"/><circle cx="94.1" cy="520.0" r="1.2"/><circle cx="81.8" cy="549.7" r="1.1"/><circle cx="82.7" cy="549.6" r="1.5"/><circle cx="91.2" cy="513.0" r="1.1"/><circle cx="91.1" cy="522.0" r="1.4"/><circle cx="79.4" cy="551.8" r="0.9"/><circle cx="66.1" cy="520.8" r="1.6"/><circle cx="78.8" cy="555.1" r="1.2"/><circle cx="80.8" cy="530.0" r="1.1"/><circle cx="83.5" cy="558.8" r="1.0"/><circle cx="64.4" cy="537.0" r="1.1"/><circle cx="69.0" cy="545.0" r="1.6"/><circle cx="85.8" cy="537.6" r="1.6"/><circle cx="88.6" cy="516.4" r="1.4"/><circle cx="62.9" cy="522.9" r="1.1"/><circle cx="82.8" cy="563.3" r="1.4"/><circle cx="60.9" cy="530.9" r="1.5"/><circle cx="74.7" cy="553.7" r="1.5"/><circle cx="92.1" cy="513.5" r="1.5"/><circle cx="88.7" cy="511.5" r="1.0"/><circle cx="82.8" cy="549.1" r="1.0"/><circle cx="97.6" cy="515.7" r="1.5"/><circle cx="85.4" cy="543.1" r="1.5"/><circle cx="70.2" cy="531.8" r="1.1"/><circle cx="94.0" cy="524.3" r="1.5"/><circle cx="100.0" cy="524.4" r="1.3"/><circle cx="68.4" cy="503.3" r="1.5"/><circle cx="66.3" cy="529.7" r="1.5"/><circle cx="94.7" cy="517.7" r="1.4"/><circle cx="71.7" cy="532.7" r="1.2"/><circle cx="76.8" cy="554.6" r="1.2"/><circle cx="84.2" cy="513.8" r="1.0"/><circle cx="65.8" cy="559.1" r="1.3"/><circle cx="81.5" cy="554.1" r="1.3"/><circle cx="69.3" cy="553.8" r="1.4"/><circle cx="72.9" cy="534.9" r="1.6"/><circle cx="73.7" cy="508.4" r="1.2"/><circle cx="70.6" cy="537.3" r="1.6"/><circle cx="75.4" cy="511.6" r="1.0"/><circle cx="84.1" cy="540.3" r="1.2"/><circle cx="73.1" cy="531.6" r="1.4"/><circle cx="73.2" cy="518.5" r="1.3"/><circle cx="71.3" cy="560.4" r="1.6"/><circle cx="87.8" cy="548.7" r="1.3"/><circle cx="78.5" cy="519.7" r="1.5"/><circle cx="63.0" cy="545.1" r="1.4"/><circle cx="70.0" cy="528.4" r="1.4"/><circle cx="76.7" cy="520.0" r="1.5"/><circle cx="80.0" cy="539.9" r="1.1"/><circle cx="93.2" cy="543.4" r="1.6"/><circle cx="91.2" cy="542.6" r="1.3"/><circle cx="93.1" cy="512.6" r="1.5"/><circle cx="84.0" cy="527.5" r="1.4"/><circle cx="68.9" cy="554.9" r="1.3"/><circle cx="81.2" cy="573.5" r="1.5"/><circle cx="72.3" cy="529.8" r="1.4"/><circle cx="74.1" cy="520.9" r="1.4"/><circle cx="81.8" cy="551.0" r="1.4"/><circle cx="67.1" cy="533.1" r="1.4"/><circle cx="80.4" cy="526.4" r="1.0"/><circle cx="79.9" cy="542.0" r="1.3"/><circle cx="74.2" cy="548.6" r="1.4"/><circle cx="86.5" cy="555.9" r="1.5"/><circle cx="71.7" cy="550.5" r="1.0"/><circle cx="84.2" cy="517.2" r="1.6"/><circle cx="61.1" cy="538.3" r="1.2"/><circle cx="58.8" cy="550.0" r="1.2"/><circle cx="64.3" cy="508.8" r="1.5"/><circle cx="70.1" cy="545.4" r="1.1"/><circle cx="75.4" cy="524.7" r="1.6"/><circle cx="65.4" cy="541.3" r="1.2"/><circle cx="62.0" cy="536.9" r="1.2"/><circle cx="78.0" cy="545.0" r="1.4"/><circle cx="70.7" cy="515.5" r="1.6"/><circle cx="68.6" cy="531.8" r="1.0"/><circle cx="94.8" cy="522.8" r="1.3"/><circle cx="79.9" cy="508.7" r="1.2"/><circle cx="71.1" cy="552.6" r="1.2"/><circle cx="66.9" cy="555.1" r="1.5"/><circle cx="88.8" cy="531.9" r="1.4"/><circle cx="74.5" cy="507.2" r="1.5"/><circle cx="61.8" cy="539.4" r="1.2"/><circle cx="76.4" cy="533.6" r="1.4"/><circle cx="82.8" cy="520.8" r="1.0"/><circle cx="69.1" cy="539.3" r="1.4"/><circle cx="61.4" cy="540.5" r="0.9"/><circle cx="79.0" cy="546.1" r="1.2"/><circle cx="87.6" cy="527.0" r="1.5"/><circle cx="77.7" cy="541.7" r="1.5"/><circle cx="81.3" cy="554.5" r="1.3"/><circle cx="63.5" cy="523.3" r="1.1"/><circle cx="89.5" cy="551.2" r="1.0"/><circle cx="76.5" cy="539.5" r="1.2"/><circle cx="79.3" cy="559.2" r="1.2"/><circle cx="74.0" cy="522.7" r="1.1"/><circle cx="69.2" cy="547.1" r="1.1"/><circle cx="92.9" cy="519.3" r="1.5"/><circle cx="76.2" cy="542.7" r="1.2"/><circle cx="75.5" cy="527.8" r="1.2"/><circle cx="59.9" cy="534.5" r="1.1"/><circle cx="62.7" cy="520.3" r="1.3"/><circle cx="59.5" cy="550.7" r="1.2"/><circle cx="74.0" cy="520.5" r="1.3"/><circle cx="82.3" cy="567.4" r="1.1"/><circle cx="77.6" cy="544.5" r="1.5"/><circle cx="98.6" cy="531.5" r="1.2"/><circle cx="75.3" cy="561.8" r="1.3"/><circle cx="74.6" cy="552.0" r="1.1"/><circle cx="91.0" cy="510.1" r="1.0"/><circle cx="87.2" cy="551.6" r="0.9"/><circle cx="75.3" cy="513.5" r="1.5"/><circle cx="99.3" cy="519.6" r="1.4"/><circle cx="89.0" cy="543.8" r="1.0"/><circle cx="92.7" cy="512.6" r="1.3"/><circle cx="70.3" cy="508.1" r="1.5"/><circle cx="64.2" cy="548.2" r="0.9"/><circle cx="84.4" cy="508.7" r="1.4"/><circle cx="71.7" cy="536.8" r="1.1"/><circle cx="79.6" cy="559.2" r="1.4"/><circle cx="67.7" cy="543.1" r="1.1"/><circle cx="82.6" cy="533.3" r="1.4"/><circle cx="61.2" cy="529.3" r="1.0"/><circle cx="65.1" cy="518.1" r="1.3"/><circle cx="64.2" cy="540.3" r="1.1"/><circle cx="92.0" cy="541.8" r="1.1"/><circle cx="86.5" cy="551.5" r="1.2"/><circle cx="85.9" cy="536.8" r="1.4"/><circle cx="95.1" cy="531.5" r="1.4"/><circle cx="85.0" cy="539.1" r="1.4"/><circle cx="72.6" cy="507.9" r="1.3"/><circle cx="88.4" cy="511.5" r="1.2"/><circle cx="94.9" cy="526.8" r="1.2"/><circle cx="85.2" cy="545.0" r="1.1"/><circle cx="86.4" cy="555.1" r="1.4"/><circle cx="80.9" cy="516.5" r="0.9"/><circle cx="71.9" cy="543.3" r="1.2"/><circle cx="95.3" cy="531.2" r="1.1"/><circle cx="82.8" cy="518.9" r="1.5"/><circle cx="62.9" cy="514.9" r="1.4"/><circle cx="61.2" cy="535.9" r="1.6"/><circle cx="87.4" cy="533.2" r="1.6"/><circle cx="81.5" cy="561.1" r="1.4"/><circle cx="73.9" cy="557.3" r="1.1"/><circle cx="91.3" cy="542.3" r="1.5"/><circle cx="62.7" cy="540.3" r="1.3"/><circle cx="94.0" cy="512.9" r="1.4"/><circle cx="75.0" cy="531.2" r="1.0"/><circle cx="86.7" cy="544.8" r="1.0"/><circle cx="62.9" cy="525.0" r="1.0"/><circle cx="66.1" cy="528.1" r="1.2"/><circle cx="65.4" cy="537.8" r="1.0"/><circle cx="92.1" cy="542.0" r="1.3"/><circle cx="84.8" cy="528.1" r="1.0"/><circle cx="74.6" cy="512.5" r="1.1"/><circle cx="73.8" cy="502.9" r="0.9"/><circle cx="65.2" cy="537.3" r="1.4"/><circle cx="61.8" cy="549.9" r="1.3"/><circle cx="73.4" cy="550.2" r="1.4"/><circle cx="84.3" cy="563.6" r="1.0"/><circle cx="88.0" cy="509.0" r="1.1"/><circle cx="92.8" cy="519.9" r="1.5"/><circle cx="66.5" cy="544.1" r="1.4"/><circle cx="86.3" cy="515.0" r="1.4"/><circle cx="89.9" cy="510.5" r="1.2"/><circle cx="80.6" cy="510.6" r="1.0"/><circle cx="82.5" cy="522.0" r="1.1"/><circle cx="60.3" cy="542.9" r="1.3"/><circle cx="81.0" cy="520.9" r="1.4"/><circle cx="65.0" cy="549.8" r="1.1"/><circle cx="75.0" cy="545.1" r="1.0"/><circle cx="63.1" cy="515.1" r="1.0"/><circle cx="84.2" cy="526.8" r="1.5"/><circle cx="77.1" cy="538.7" r="1.4"/><circle cx="77.2" cy="535.0" r="1.0"/><circle cx="91.2" cy="549.5" r="1.2"/><circle cx="87.7" cy="511.4" r="1.2"/><circle cx="81.2" cy="519.2" r="1.6"/><circle cx="86.4" cy="520.2" r="1.4"/><circle cx="94.8" cy="535.6" r="1.3"/><circle cx="82.6" cy="518.4" r="0.9"/><circle cx="81.6" cy="568.2" r="1.1"/><circle cx="72.9" cy="554.2" r="1.0"/><circle cx="74.7" cy="512.4" r="1.4"/><circle cx="82.7" cy="520.5" r="1.1"/><circle cx="85.1" cy="518.2" r="1.6"/><circle cx="86.4" cy="539.7" r="1.0"/><circle cx="77.2" cy="503.7" r="1.1"/><circle cx="69.8" cy="522.5" r="1.1"/><circle cx="62.6" cy="554.7" r="1.1"/><circle cx="90.5" cy="522.5" r="1.1"/><circle cx="76.5" cy="503.7" r="1.5"/><circle cx="72.1" cy="512.5" r="1.6"/><circle cx="97.3" cy="523.7" r="1.2"/><circle cx="90.8" cy="542.5" r="1.3"/><circle cx="89.7" cy="551.2" r="1.4"/><circle cx="86.2" cy="527.5" r="0.9"/><circle cx="64.6" cy="520.1" r="1.5"/><circle cx="73.5" cy="523.9" r="1.4"/><circle cx="89.2" cy="549.6" r="1.0"/><circle cx="83.3" cy="560.1" r="1.5"/><circle cx="65.1" cy="555.2" r="1.0"/><circle cx="81.7" cy="520.4" r="1.2"/><circle cx="73.2" cy="528.2" r="1.5"/><circle cx="65.4" cy="531.4" r="1.5"/><circle cx="88.6" cy="513.1" r="1.4"/><circle cx="76.9" cy="551.8" r="1.4"/><circle cx="67.0" cy="529.2" r="1.0"/><circle cx="80.9" cy="525.1" r="1.5"/><circle cx="92.5" cy="527.2" r="1.0"/><circle cx="77.0" cy="535.3" r="1.3"/><circle cx="71.1" cy="536.5" r="1.0"/><circle cx="60.6" cy="542.6" r="1.1"/><circle cx="69.9" cy="535.1" r="1.0"/><circle cx="61.0" cy="537.9" r="1.2"/><circle cx="85.6" cy="544.8" r="1.4"/><circle cx="60.2" cy="537.5" r="1.2"/><circle cx="79.0" cy="514.2" r="1.3"/><circle cx="73.2" cy="521.2" r="1.5"/><circle cx="87.0" cy="538.2" r="1.1"/><circle cx="64.9" cy="539.7" r="1.1"/><circle cx="66.9" cy="507.5" r="1.2"/><circle cx="70.2" cy="522.2" r="1.5"/><circle cx="85.1" cy="542.7" r="1.2"/><circle cx="91.5" cy="536.8" r="1.6"/><circle cx="98.6" cy="528.1" r="1.3"/><circle cx="94.4" cy="530.9" r="1.2"/><circle cx="62.7" cy="552.5" r="1.4"/><circle cx="80.6" cy="540.7" r="1.4"/><circle cx="84.9" cy="557.8" r="1.5"/><circle cx="92.4" cy="514.1" r="1.0"/><circle cx="96.7" cy="526.7" r="1.6"/><circle cx="73.5" cy="561.9" r="1.5"/><circle cx="67.6" cy="552.2" r="0.9"/><circle cx="65.2" cy="512.7" r="1.3"/><circle cx="75.8" cy="516.0" r="1.0"/><circle cx="68.5" cy="503.0" r="1.0"/><circle cx="76.5" cy="518.2" r="1.1"/><circle cx="91.5" cy="537.5" r="1.3"/><circle cx="82.7" cy="558.9" r="1.5"/><circle cx="90.4" cy="539.1" r="1.3"/><circle cx="88.1" cy="546.4" r="1.0"/><circle cx="71.1" cy="514.6" r="1.2"/><circle cx="63.0" cy="545.7" r="1.4"/><circle cx="62.0" cy="530.4" r="1.2"/><circle cx="98.1" cy="530.0" r="1.4"/><circle cx="82.3" cy="525.0" r="1.3"/><circle cx="83.5" cy="544.3" r="1.1"/><circle cx="68.5" cy="514.9" r="1.2"/><circle cx="74.7" cy="521.5" r="1.3"/><circle cx="78.9" cy="529.9" r="1.5"/><circle cx="89.2" cy="554.8" r="1.0"/><circle cx="84.5" cy="552.4" r="1.3"/><circle cx="87.1" cy="542.8" r="1.5"/><circle cx="79.3" cy="536.9" r="1.2"/><circle cx="79.5" cy="525.7" r="1.5"/><circle cx="76.2" cy="533.7" r="1.3"/><circle cx="73.9" cy="504.3" r="1.2"/><circle cx="88.6" cy="534.1" r="1.5"/><circle cx="65.2" cy="537.7" r="1.1"/><circle cx="78.3" cy="563.3" r="1.6"/><circle cx="82.9" cy="518.3" r="1.6"/><circle cx="67.6" cy="505.0" r="1.5"/><circle cx="63.5" cy="512.3" r="1.4"/><circle cx="70.2" cy="508.0" r="1.6"/><circle cx="74.7" cy="534.1" r="1.1"/><circle cx="75.2" cy="517.4" r="1.2"/><circle cx="72.9" cy="537.8" r="1.1"/><circle cx="60.9" cy="529.0" r="1.1"/><circle cx="85.9" cy="532.1" r="1.3"/><circle cx="78.8" cy="556.3" r="1.6"/><circle cx="77.1" cy="554.9" r="1.3"/><circle cx="87.8" cy="539.1" r="1.6"/><circle cx="68.6" cy="536.6" r="1.5"/><circle cx="70.2" cy="533.4" r="1.4"/><circle cx="96.9" cy="535.6" r="1.4"/><circle cx="77.1" cy="543.2" r="1.0"/><circle cx="83.7" cy="559.2" r="1.3"/><circle cx="86.2" cy="547.1" r="0.9"/><circle cx="92.5" cy="514.4" r="1.5"/><circle cx="67.6" cy="531.8" r="1.4"/><circle cx="64.5" cy="517.7" r="1.0"/><circle cx="80.1" cy="557.0" r="1.1"/><circle cx="87.9" cy="547.6" r="1.3"/><circle cx="75.0" cy="531.7" r="0.9"/><circle cx="75.7" cy="552.3" r="1.5"/><circle cx="83.8" cy="538.3" r="1.3"/><circle cx="63.2" cy="546.6" r="1.0"/><circle cx="61.6" cy="550.4" r="1.3"/><circle cx="73.2" cy="546.8" r="1.2"/><circle cx="73.3" cy="562.8" r="1.5"/><circle cx="64.0" cy="547.3" r="1.2"/><circle cx="66.7" cy="550.2" r="1.4"/><circle cx="97.2" cy="527.9" r="1.2"/><circle cx="73.4" cy="549.7" r="1.0"/><circle cx="78.1" cy="554.7" r="1.1"/><circle cx="75.8" cy="530.5" r="1.0"/><circle cx="81.6" cy="542.4" r="1.5"/><circle cx="67.6" cy="542.3" r="1.1"/><circle cx="94.3" cy="523.4" r="1.5"/><circle cx="70.4" cy="550.1" r="1.5"/><circle cx="86.3" cy="515.0" r="1.1"/><circle cx="78.2" cy="504.0" r="1.5"/><circle cx="88.5" cy="518.2" r="1.5"/><circle cx="60.9" cy="544.5" r="1.1"/><circle cx="76.1" cy="519.0" r="0.9"/><circle cx="70.4" cy="540.0" r="1.4"/><circle cx="68.1" cy="559.6" r="1.4"/><circle cx="71.1" cy="547.8" r="1.1"/><circle cx="91.4" cy="528.3" r="1.3"/><circle cx="85.9" cy="541.6" r="1.4"/><circle cx="62.8" cy="540.3" r="1.0"/><circle cx="76.0" cy="551.9" r="1.4"/><circle cx="84.5" cy="557.0" r="1.3"/><circle cx="71.5" cy="560.3" r="1.3"/><circle cx="94.1" cy="545.8" r="1.2"/><circle cx="75.3" cy="524.2" r="1.5"/><circle cx="64.0" cy="534.1" r="1.3"/><circle cx="62.4" cy="547.9" r="0.9"/><circle cx="90.5" cy="515.3" r="1.2"/><circle cx="80.1" cy="570.1" r="1.0"/><circle cx="97.6" cy="520.4" r="0.9"/><circle cx="69.7" cy="504.8" r="1.5"/><circle cx="71.2" cy="538.7" r="1.3"/><circle cx="96.3" cy="532.8" r="1.4"/><circle cx="87.7" cy="516.1" r="1.0"/><circle cx="81.4" cy="521.8" r="1.2"/><circle cx="66.6" cy="536.0" r="1.0"/><circle cx="92.9" cy="517.7" r="1.1"/><circle cx="78.1" cy="506.8" r="1.4"/><circle cx="78.3" cy="537.8" r="1.4"/><circle cx="81.3" cy="571.5" r="1.6"/><circle cx="96.3" cy="519.5" r="1.2"/><circle cx="75.0" cy="535.7" r="1.0"/><circle cx="100.3" cy="523.4" r="1.2"/><circle cx="77.2" cy="546.5" r="1.3"/><circle cx="76.4" cy="534.7" r="1.1"/><circle cx="73.2" cy="505.4" r="1.3"/><circle cx="69.8" cy="507.8" r="1.1"/><circle cx="93.9" cy="531.7" r="1.0"/><circle cx="89.6" cy="528.9" r="1.2"/><circle cx="69.7" cy="546.4" r="1.0"/><circle cx="81.2" cy="524.2" r="1.5"/><circle cx="61.2" cy="534.6" r="1.4"/><circle cx="94.3" cy="521.0" r="1.6"/><circle cx="74.3" cy="544.1" r="1.3"/><circle cx="71.7" cy="520.0" r="1.3"/><circle cx="72.8" cy="526.8" r="1.0"/><circle cx="66.5" cy="518.9" r="1.5"/><circle cx="89.2" cy="539.8" r="1.1"/><circle cx="79.3" cy="525.6" r="1.4"/><circle cx="59.9" cy="552.8" r="1.3"/><circle cx="96.7" cy="534.1" r="0.9"/><circle cx="75.8" cy="524.5" r="0.9"/><circle cx="84.4" cy="515.9" r="1.6"/><circle cx="68.9" cy="551.1" r="1.6"/><circle cx="79.5" cy="519.5" r="1.0"/><circle cx="76.7" cy="511.5" r="1.1"/><circle cx="65.9" cy="536.9" r="1.2"/><circle cx="78.9" cy="554.6" r="1.0"/><circle cx="82.3" cy="565.5" r="1.2"/><circle cx="79.8" cy="507.9" r="1.0"/><circle cx="61.8" cy="554.5" r="1.4"/><circle cx="76.1" cy="510.2" r="1.1"/><circle cx="84.5" cy="543.2" r="1.1"/><circle cx="89.4" cy="512.5" r="1.6"/><circle cx="93.4" cy="511.9" r="0.9"/><circle cx="83.5" cy="539.2" r="1.2"/><circle cx="93.6" cy="514.1" r="1.0"/><circle cx="76.4" cy="510.9" r="0.9"/><circle cx="69.6" cy="543.4" r="1.5"/><circle cx="73.5" cy="553.0" r="1.0"/><circle cx="67.3" cy="551.8" r="1.0"/><circle cx="77.5" cy="561.8" r="1.1"/><circle cx="85.4" cy="558.1" r="1.4"/><circle cx="62.8" cy="525.8" r="1.3"/><circle cx="70.4" cy="536.8" r="1.3"/><circle cx="88.7" cy="509.7" r="1.0"/><circle cx="89.3" cy="521.2" r="1.0"/><circle cx="73.2" cy="525.4" r="1.1"/><circle cx="88.2" cy="528.3" r="1.6"/><circle cx="80.7" cy="527.7" r="1.2"/><circle cx="71.9" cy="541.8" r="1.5"/><circle cx="97.6" cy="527.6" r="1.4"/><circle cx="95.8" cy="521.0" r="1.0"/><circle cx="90.0" cy="522.8" r="1.3"/><circle cx="70.0" cy="515.2" r="1.0"/><circle cx="62.3" cy="524.0" r="1.1"/><circle cx="64.4" cy="529.4" r="1.6"/><circle cx="76.4" cy="548.1" r="1.1"/><circle cx="86.5" cy="533.1" r="1.0"/><circle cx="89.9" cy="526.4" r="1.5"/><circle cx="95.7" cy="530.9" r="1.4"/><circle cx="72.7" cy="556.2" r="1.4"/><circle cx="82.2" cy="518.1" r="1.3"/><circle cx="62.4" cy="543.7" r="1.5"/><circle cx="82.9" cy="542.1" r="1.3"/><circle cx="92.9" cy="513.5" r="1.3"/><circle cx="85.9" cy="555.2" r="1.0"/><circle cx="72.2" cy="511.9" r="1.1"/><circle cx="64.0" cy="509.5" r="1.0"/><circle cx="67.8" cy="503.8" r="1.1"/><circle cx="69.1" cy="532.3" r="1.1"/><circle cx="82.5" cy="537.7" r="1.4"/><circle cx="79.3" cy="520.2" r="1.2"/><circle cx="69.3" cy="547.7" r="1.0"/><circle cx="83.6" cy="508.9" r="1.1"/><circle cx="76.3" cy="534.5" r="1.3"/><circle cx="63.5" cy="512.5" r="1.3"/><circle cx="88.6" cy="528.8" r="1.1"/><circle cx="96.5" cy="533.8" r="1.0"/><circle cx="83.4" cy="532.6" r="1.0"/><circle cx="94.5" cy="515.2" r="1.0"/><circle cx="75.2" cy="518.4" r="1.1"/><circle cx="78.8" cy="533.4" r="1.5"/><circle cx="86.9" cy="552.0" r="1.0"/><circle cx="80.9" cy="509.5" r="0.9"/><circle cx="80.4" cy="548.5" r="1.5"/><circle cx="91.5" cy="510.5" r="1.2"/><circle cx="84.6" cy="548.8" r="1.2"/><circle cx="75.8" cy="515.2" r="0.9"/><circle cx="82.1" cy="552.5" r="1.4"/><circle cx="90.9" cy="520.4" r="1.2"/><circle cx="66.9" cy="535.8" r="1.2"/><circle cx="86.8" cy="526.6" r="1.0"/><circle cx="80.3" cy="549.1" r="1.3"/><circle cx="89.0" cy="547.1" r="1.6"/><circle cx="77.2" cy="540.4" r="1.0"/><circle cx="63.0" cy="527.8" r="1.1"/><circle cx="63.1" cy="544.7" r="1.2"/><circle cx="68.8" cy="550.1" r="1.6"/><circle cx="81.0" cy="521.0" r="0.9"/><circle cx="79.2" cy="529.4" r="1.4"/><circle cx="81.9" cy="541.5" r="1.1"/><circle cx="77.8" cy="530.0" r="1.0"/><circle cx="66.0" cy="559.3" r="1.4"/><circle cx="65.8" cy="521.3" r="1.3"/><circle cx="85.6" cy="543.8" r="1.3"/><circle cx="87.5" cy="535.2" r="1.0"/><circle cx="73.2" cy="544.1" r="1.0"/><circle cx="83.2" cy="564.7" r="1.1"/><circle cx="86.0" cy="507.5" r="1.0"/><circle cx="82.6" cy="511.6" r="1.1"/><circle cx="82.6" cy="524.1" r="1.4"/><circle cx="80.7" cy="547.3" r="1.6"/><circle cx="72.8" cy="508.2" r="1.2"/><circle cx="69.0" cy="553.7" r="1.2"/><circle cx="88.2" cy="544.8" r="1.4"/><circle cx="64.6" cy="520.5" r="1.6"/><circle cx="62.6" cy="527.4" r="1.0"/><circle cx="83.4" cy="541.7" r="1.1"/><circle cx="82.3" cy="556.1" r="0.9"/><circle cx="64.2" cy="508.6" r="1.2"/><circle cx="91.7" cy="535.8" r="1.4"/><circle cx="95.4" cy="532.8" r="1.5"/><circle cx="77.6" cy="562.4" r="1.5"/><circle cx="78.6" cy="526.5" r="1.1"/><circle cx="65.5" cy="555.0" r="1.0"/><circle cx="88.3" cy="550.8" r="1.3"/><circle cx="70.2" cy="554.0" r="1.2"/><circle cx="73.5" cy="504.5" r="1.6"/><circle cx="65.7" cy="535.0" r="1.5"/><circle cx="72.8" cy="507.7" r="1.1"/><circle cx="61.9" cy="526.6" r="1.6"/><circle cx="65.4" cy="559.0" r="1.4"/><circle cx="79.3" cy="514.9" r="1.3"/><circle cx="82.3" cy="550.8" r="1.4"/><circle cx="65.3" cy="527.2" r="1.2"/><circle cx="74.4" cy="507.1" r="1.3"/><circle cx="70.9" cy="535.9" r="1.4"/><circle cx="72.3" cy="512.2" r="1.2"/><circle cx="64.7" cy="509.4" r="1.3"/><circle cx="69.7" cy="508.3" r="1.3"/><circle cx="62.8" cy="556.9" r="1.3"/><circle cx="88.8" cy="525.6" r="1.4"/><circle cx="88.3" cy="532.9" r="1.2"/><circle cx="90.3" cy="549.7" r="1.4"/><circle cx="69.4" cy="550.5" r="1.1"/><circle cx="95.8" cy="538.8" r="1.5"/><circle cx="66.8" cy="518.8" r="1.0"/><circle cx="69.4" cy="523.4" r="1.0"/><circle cx="90.0" cy="532.5" r="1.1"/><circle cx="73.3" cy="525.3" r="1.3"/><circle cx="60.6" cy="549.0" r="1.4"/><circle cx="77.5" cy="545.0" r="1.5"/><circle cx="92.0" cy="535.9" r="1.2"/><circle cx="90.5" cy="545.2" r="1.0"/><circle cx="66.5" cy="507.5" r="1.4"/><circle cx="90.0" cy="550.1" r="0.9"/><circle cx="84.3" cy="559.7" r="1.0"/><circle cx="70.9" cy="533.1" r="1.2"/><circle cx="74.7" cy="560.6" r="1.2"/><circle cx="73.5" cy="529.6" r="1.6"/><circle cx="65.5" cy="527.1" r="1.1"/><circle cx="74.2" cy="532.4" r="1.2"/><circle cx="93.3" cy="526.8" r="1.3"/><circle cx="65.3" cy="513.8" r="1.0"/><circle cx="55.6" cy="490.9" r="1.2"/><circle cx="55.6" cy="490.8" r="1.4"/><circle cx="54.3" cy="491.1" r="1.6"/><circle cx="55.7" cy="491.0" r="1.1"/><circle cx="54.8" cy="490.8" r="1.6"/><circle cx="54.1" cy="491.2" r="1.0"/></g><mask id="umclip" maskUnits="userSpaceOnUse" x="-100" y="440" width="720" height="158"><use href="#umc" fill="#fff" filter="url(#soft0)"/></mask><linearGradient id="cbar" x1="0" y1="0" x2="0" y2="1"><stop offset="0" stop-color="#7d79c1"/><stop offset="0.3" stop-color="#a9a6d5"/><stop offset="0.55" stop-color="#d6d6dc"/><stop offset="0.8" stop-color="#e6e6e6"/><stop offset="1" stop-color="#fafafa"/></linearGradient><radialGradient id="tigg" gradientUnits="userSpaceOnUse" cx="86" cy="508" r="34" fx="86" fy="506"><stop offset="0" stop-color="#9491d2" stop-opacity="0.75"/><stop offset="0.4" stop-color="#9c99d6" stop-opacity="0.6"/><stop offset="0.75" stop-color="#b4b2e0" stop-opacity="0.25"/><stop offset="1" stop-color="#c8c6e8" stop-opacity="0"/></radialGradient></defs>
<g transform="translate(0,0)"><use href="#umc" fill="#8a8a8a" fill-opacity="0.11" filter="url(#soft0)"/><path d="M72.8,544.0h0.01M68.0,535.3h0.01M59.7,514.8h0.01M64.4,528.2h0.01M83.0,566.8h0.01M56.3,529.9h0.01M62.7,556.1h0.01M95.7,529.1h0.01M80.5,544.5h0.01M64.1,527.2h0.01M60.1,527.7h0.01M78.6,552.0h0.01M49.9,520.0h0.01M68.5,548.2h0.01M91.4,518.5h0.01M91.2,512.1h0.01M94.8,540.9h0.01M59.2,536.1h0.01M83.7,533.5h0.01M85.9,563.5h0.01M79.1,561.5h0.01M93.2,514.7h0.01M77.8,550.8h0.01M81.3,548.4h0.01M48.3,529.0h0.01M63.0,556.0h0.01M87.6,524.5h0.01M59.9,530.5h0.01M87.1,507.9h0.01M88.5,527.7h0.01M92.0,517.3h0.01M94.0,522.3h0.01M70.2,502.0h0.01M96.0,525.0h0.01M85.2,558.6h0.01M76.3,517.6h0.01M90.0,544.6h0.01M55.0,525.9h0.01M73.0,540.4h0.01M54.5,525.8h0.01M56.4,539.9h0.01M81.0,509.7h0.01M80.3,525.7h0.01M46.5,528.0h0.01M93.6,514.7h0.01M75.7,515.8h0.01M47.0,522.1h0.01M74.7,517.1h0.01M98.6,522.6h0.01M68.8,560.6h0.01M82.9,573.3h0.01M49.5,534.3h0.01M94.9,525.1h0.01M86.0,548.7h0.01M71.1,501.1h0.01M78.9,510.8h0.01M68.2,509.7h0.01M86.4,518.6h0.01M79.1,528.5h0.01M84.4,567.2h0.01M71.2,529.7h0.01M58.4,515.3h0.01M65.0,541.9h0.01M95.5,532.9h0.01M48.4,527.0h0.01M55.9,539.2h0.01M64.2,550.1h0.01M86.0,518.1h0.01M81.7,509.4h0.01M55.0,541.0h0.01M73.0,515.0h0.01M57.7,528.9h0.01M69.9,561.2h0.01M52.7,554.1h0.01M82.3,573.4h0.01M66.0,533.6h0.01M71.8,511.5h0.01M64.8,513.3h0.01M64.9,550.6h0.01M69.6,501.4h0.01M57.5,552.8h0.01M85.8,514.8h0.01M92.1,524.0h0.01M79.2,504.6h0.01M55.5,541.5h0.01M85.5,537.9h0.01M49.0,549.8h0.01M89.2,521.2h0.01M61.0,514.2h0.01M69.1,535.7h0.01M87.9,518.6h0.01M57.0,531.8h0.01M56.5,549.4h0.01M94.7,523.3h0.01M47.4,526.2h0.01M54.1,516.4h0.01M75.4,555.2h0.01M94.9,540.4h0.01M77.9,527.7h0.01M72.7,540.3h0.01M76.8,523.6h0.01M71.8,551.7h0.01M64.0,514.3h0.01M84.4,533.2h0.01M74.8,545.7h0.01M54.1,525.9h0.01M72.1,504.0h0.01M64.1,521.7h0.01M80.6,527.3h0.01M49.6,523.3h0.01M53.3,545.6h0.01M60.6,533.1h0.01M55.9,528.6h0.01M82.7,552.5h0.01M53.0,523.1h0.01M64.7,509.3h0.01M66.6,514.1h0.01M64.9,515.7h0.01M51.1,517.1h0.01M79.5,543.0h0.01M96.2,539.0h0.01M88.4,527.0h0.01M82.8,520.2h0.01M81.8,540.7h0.01M86.0,511.7h0.01M80.2,569.4h0.01M89.4,550.5h0.01M85.6,521.7h0.01M46.6,528.4h0.01M70.3,502.5h0.01M49.2,531.2h0.01M57.2,520.9h0.01M81.1,523.1h0.01M63.6,541.9h0.01M74.1,536.6h0.01M54.8,547.8h0.01M79.6,567.6h0.01M55.1,535.2h0.01M51.6,534.7h0.01M54.4,520.6h0.01M80.3,566.4h0.01M74.1,533.1h0.01M57.9,546.9h0.01M58.4,524.4h0.01M88.2,515.4h0.01M46.8,527.2h0.01M61.9,513.3h0.01M77.6,513.9h0.01M93.1,542.4h0.01M50.2,552.5h0.01M70.4,511.8h0.01M67.6,526.5h0.01M69.7,506.2h0.01M64.4,527.0h0.01M55.6,532.1h0.01M77.6,509.5h0.01M67.1,539.0h0.01M72.1,516.2h0.01M68.8,519.7h0.01M70.0,518.0h0.01M68.9,501.5h0.01M100.5,522.3h0.01M87.9,523.1h0.01M76.5,523.0h0.01M65.9,527.7h0.01M83.8,533.4h0.01M52.0,534.0h0.01M58.0,529.3h0.01M88.5,531.3h0.01M62.7,523.0h0.01M66.7,515.4h0.01M88.8,544.2h0.01M77.2,551.6h0.01M57.6,537.9h0.01M81.9,576.9h0.01M59.8,517.7h0.01M75.6,504.2h0.01M60.8,524.6h0.01M90.9,547.4h0.01M70.7,523.3h0.01M58.3,551.5h0.01M68.3,547.2h0.01M60.8,542.7h0.01M95.1,536.1h0.01M64.3,526.5h0.01M95.3,513.9h0.01M61.7,556.3h0.01M55.6,547.5h0.01M50.7,554.6h0.01M92.2,536.8h0.01M74.1,563.2h0.01M101.5,523.5h0.01M82.4,566.0h0.01M68.6,558.6h0.01M86.1,514.2h0.01M91.4,555.4h0.01" stroke="#bbb" stroke-width="1.0" stroke-linecap="round" opacity="0.25"/><path d="M85.3,540.1h0.01M69.9,526.5h0.01M81.4,572.8h0.01M85.3,513.7h0.01M68.2,534.4h0.01M74.6,542.7h0.01M61.7,515.4h0.01M91.0,526.9h0.01M93.2,531.1h0.01M98.7,516.4h0.01M95.4,516.8h0.01M98.0,532.3h0.01M57.3,558.0h0.01M86.6,532.4h0.01M69.1,543.4h0.01M56.5,521.1h0.01M70.6,536.0h0.01M61.0,532.8h0.01M51.8,539.8h0.01M72.8,557.2h0.01M76.4,559.5h0.01M80.0,556.3h0.01M61.4,556.1h0.01M79.2,511.8h0.01M67.0,537.4h0.01M79.1,527.4h0.01M89.0,552.8h0.01M58.2,545.7h0.01M91.3,547.7h0.01M55.5,539.3h0.01M87.1,534.2h0.01M78.0,554.8h0.01M80.4,520.2h0.01M67.1,508.7h0.01M87.3,525.8h0.01M75.8,508.3h0.01M75.8,546.0h0.01M61.1,514.8h0.01M74.2,513.6h0.01M79.0,540.9h0.01M65.3,542.3h0.01M92.4,550.9h0.01M95.9,517.2h0.01M67.5,556.3h0.01M92.4,547.0h0.01M62.2,551.8h0.01M70.9,533.4h0.01M67.8,507.4h0.01M60.9,549.6h0.01M65.3,524.8h0.01M80.5,568.3h0.01M96.7,518.2h0.01M100.4,529.7h0.01M90.2,538.3h0.01M69.2,519.7h0.01M64.0,535.4h0.01M83.7,570.3h0.01M96.9,536.2h0.01M80.1,534.9h0.01M50.6,517.9h0.01M79.4,519.0h0.01M70.5,521.2h0.01M72.6,532.1h0.01M80.5,541.9h0.01M91.4,536.4h0.01M62.8,551.5h0.01M87.0,547.1h0.01M62.2,524.9h0.01M68.1,525.9h0.01M71.7,500.2h0.01M68.9,549.0h0.01M64.0,547.4h0.01M70.6,507.7h0.01M95.2,540.3h0.01M81.4,547.2h0.01M54.5,553.9h0.01M74.2,539.9h0.01M88.9,525.4h0.01M75.2,538.6h0.01M74.4,544.2h0.01M80.4,520.7h0.01M64.5,534.4h0.01M70.1,519.9h0.01M93.8,515.4h0.01M56.2,522.2h0.01M63.7,552.4h0.01M78.8,521.5h0.01M74.7,515.6h0.01M79.2,533.2h0.01M61.4,538.3h0.01M48.1,524.5h0.01M60.8,558.4h0.01M85.2,528.9h0.01M69.0,558.9h0.01M82.9,510.1h0.01M62.9,530.5h0.01M79.7,538.5h0.01M69.7,541.4h0.01M67.4,525.5h0.01M97.6,515.2h0.01M91.0,541.2h0.01M85.1,517.2h0.01M91.9,544.5h0.01M71.1,550.8h0.01M52.0,527.3h0.01M88.2,528.1h0.01M53.7,554.2h0.01M58.7,530.3h0.01M68.3,551.4h0.01M80.2,539.3h0.01M65.3,518.5h0.01M93.9,535.7h0.01M79.6,558.2h0.01M76.8,532.5h0.01M82.8,571.4h0.01M57.8,526.3h0.01M69.1,505.2h0.01M93.4,534.7h0.01M72.8,556.4h0.01M83.3,536.2h0.01M60.8,529.4h0.01M80.3,565.4h0.01M59.3,552.9h0.01M70.5,542.7h0.01M71.1,539.1h0.01M86.7,549.0h0.01M61.7,531.1h0.01M81.0,569.8h0.01M62.1,550.2h0.01M93.1,547.5h0.01M83.0,529.4h0.01M68.2,506.6h0.01M84.7,524.6h0.01M62.5,534.1h0.01M76.7,553.6h0.01M84.3,517.0h0.01M69.5,525.6h0.01M84.2,565.6h0.01M72.0,507.7h0.01M61.4,523.3h0.01M89.3,547.8h0.01M95.2,535.4h0.01M76.2,518.5h0.01M51.9,539.2h0.01M68.8,558.7h0.01M62.2,518.1h0.01M87.6,520.0h0.01M87.7,531.8h0.01M63.7,510.6h0.01M70.6,525.5h0.01M52.8,541.9h0.01M76.0,553.1h0.01M83.0,569.3h0.01M99.1,523.8h0.01M59.4,535.5h0.01M67.3,508.8h0.01M71.0,500.9h0.01M53.6,554.3h0.01M68.6,526.4h0.01M77.8,557.0h0.01M75.9,554.1h0.01M66.4,554.9h0.01M61.0,525.3h0.01M52.4,530.3h0.01M93.1,514.2h0.01M86.4,538.5h0.01M50.6,522.3h0.01M76.1,525.8h0.01M63.4,557.1h0.01M70.8,507.3h0.01M93.7,532.3h0.01M67.2,547.0h0.01M69.2,528.1h0.01M73.3,546.6h0.01M76.4,549.7h0.01M83.8,532.9h0.01M66.1,506.9h0.01M79.1,530.8h0.01M62.3,532.2h0.01M70.8,561.7h0.01M84.8,528.5h0.01M52.6,545.6h0.01M60.4,555.8h0.01M46.8,523.2h0.01M97.7,535.7h0.01M92.4,518.3h0.01M85.2,528.8h0.01M93.7,525.9h0.01M65.1,515.8h0.01M91.0,516.1h0.01M97.4,527.8h0.01M70.7,547.8h0.01M62.4,542.2h0.01M70.8,532.3h0.01M86.2,541.3h0.01M56.5,547.1h0.01M86.4,521.9h0.01M68.7,540.0h0.01M58.4,523.7h0.01M94.9,531.6h0.01M66.2,538.3h0.01M87.2,550.1h0.01M60.1,541.2h0.01M92.2,525.9h0.01M67.6,546.8h0.01M53.8,532.1h0.01M74.1,551.0h0.01M66.5,549.0h0.01M64.6,509.0h0.01M66.3,519.6h0.01M93.9,540.0h0.01M99.8,527.7h0.01M52.9,529.4h0.01M78.2,531.5h0.01M72.8,533.9h0.01M100.4,530.3h0.01M83.9,561.1h0.01M90.8,538.0h0.01M46.4,527.7h0.01M83.1,505.6h0.01M67.8,560.6h0.01M74.2,555.3h0.01M92.8,531.5h0.01M81.3,545.1h0.01" stroke="#fff" stroke-width="1.1" stroke-linecap="round" opacity="0.2"/></g>
<g mask="url(#umclip)"><path d="M60.50,531.00 C61.50,529.50 63.42,528.58 66.00,528.00 C68.58,527.42 72.33,527.33 76.00,527.50 C79.67,527.67 84.83,528.08 88.00,529.00 C91.17,529.92 93.83,531.17 95.00,533.00 C96.17,534.83 96.17,538.17 95.00,540.00 C93.83,541.83 91.83,543.25 88.00,544.00 C84.17,544.75 76.25,544.67 72.00,544.50 C67.75,544.33 64.50,544.25 62.50,543.00 C60.50,541.75 60.33,539.00 60.00,537.00 C59.67,535.00 59.50,532.50 60.50,531.00Z" fill="#8fd0d1" filter="url(#soft3)" opacity="0.92"/><path d="M71.50,521.00 C71.83,518.92 74.42,516.92 76.00,515.50 C77.58,514.08 78.83,513.03 81.00,512.50 C83.17,511.97 86.50,512.13 89.00,512.30 C91.50,512.47 94.17,512.72 96.00,513.50 C97.83,514.28 99.08,515.42 100.00,517.00 C100.92,518.58 101.50,521.00 101.50,523.00 C101.50,525.00 100.92,527.42 100.00,529.00 C99.08,530.58 98.00,531.75 96.00,532.50 C94.00,533.25 90.67,533.58 88.00,533.50 C85.33,533.42 82.33,532.92 80.00,532.00 C77.67,531.08 75.42,529.83 74.00,528.00 C72.58,526.17 71.17,523.08 71.50,521.00Z" fill="#919fd9" filter="url(#soft3)" opacity="0.92"/><path d="M85.3,540.1h0.01M69.9,526.5h0.01M81.4,572.8h0.01M85.3,513.7h0.01M68.2,534.4h0.01M74.6,542.7h0.01M61.7,515.4h0.01M91.0,526.9h0.01M93.2,531.1h0.01M98.7,516.4h0.01M95.4,516.8h0.01M98.0,532.3h0.01M57.3,558.0h0.01M86.6,532.4h0.01M69.1,543.4h0.01M56.5,521.1h0.01M70.6,536.0h0.01M61.0,532.8h0.01M51.8,539.8h0.01M72.8,557.2h0.01M76.4,559.5h0.01M80.0,556.3h0.01M61.4,556.1h0.01M79.2,511.8h0.01M67.0,537.4h0.01M79.1,527.4h0.01M89.0,552.8h0.01M58.2,545.7h0.01M91.3,547.7h0.01M55.5,539.3h0.01M87.1,534.2h0.01M78.0,554.8h0.01M80.4,520.2h0.01M67.1,508.7h0.01M87.3,525.8h0.01M75.8,508.3h0.01M75.8,546.0h0.01M61.1,514.8h0.01M74.2,513.6h0.01M79.0,540.9h0.01M65.3,542.3h0.01M92.4,550.9h0.01M95.9,517.2h0.01M67.5,556.3h0.01M92.4,547.0h0.01M62.2,551.8h0.01M70.9,533.4h0.01M67.8,507.4h0.01M60.9,549.6h0.01M65.3,524.8h0.01M80.5,568.3h0.01M96.7,518.2h0.01M100.4,529.7h0.01M90.2,538.3h0.01M69.2,519.7h0.01M64.0,535.4h0.01M83.7,570.3h0.01M96.9,536.2h0.01M80.1,534.9h0.01M50.6,517.9h0.01M79.4,519.0h0.01M70.5,521.2h0.01M72.6,532.1h0.01M80.5,541.9h0.01M91.4,536.4h0.01M62.8,551.5h0.01M87.0,547.1h0.01M62.2,524.9h0.01M68.1,525.9h0.01M71.7,500.2h0.01M68.9,549.0h0.01M64.0,547.4h0.01M70.6,507.7h0.01M95.2,540.3h0.01M81.4,547.2h0.01M54.5,553.9h0.01M74.2,539.9h0.01M88.9,525.4h0.01M75.2,538.6h0.01M74.4,544.2h0.01M80.4,520.7h0.01M64.5,534.4h0.01M70.1,519.9h0.01M93.8,515.4h0.01M56.2,522.2h0.01M63.7,552.4h0.01M78.8,521.5h0.01M74.7,515.6h0.01M79.2,533.2h0.01M61.4,538.3h0.01M48.1,524.5h0.01M60.8,558.4h0.01M85.2,528.9h0.01M69.0,558.9h0.01M82.9,510.1h0.01M62.9,530.5h0.01M79.7,538.5h0.01M69.7,541.4h0.01M67.4,525.5h0.01M97.6,515.2h0.01M91.0,541.2h0.01M85.1,517.2h0.01M91.9,544.5h0.01M71.1,550.8h0.01M52.0,527.3h0.01M88.2,528.1h0.01M53.7,554.2h0.01M58.7,530.3h0.01M68.3,551.4h0.01M80.2,539.3h0.01M65.3,518.5h0.01M93.9,535.7h0.01M79.6,558.2h0.01M76.8,532.5h0.01M82.8,571.4h0.01M57.8,526.3h0.01M69.1,505.2h0.01M93.4,534.7h0.01M72.8,556.4h0.01M83.3,536.2h0.01M60.8,529.4h0.01M80.3,565.4h0.01M59.3,552.9h0.01M70.5,542.7h0.01M71.1,539.1h0.01M86.7,549.0h0.01M61.7,531.1h0.01M81.0,569.8h0.01M62.1,550.2h0.01M93.1,547.5h0.01M83.0,529.4h0.01M68.2,506.6h0.01M84.7,524.6h0.01M62.5,534.1h0.01M76.7,553.6h0.01M84.3,517.0h0.01M69.5,525.6h0.01M84.2,565.6h0.01M72.0,507.7h0.01M61.4,523.3h0.01M89.3,547.8h0.01M95.2,535.4h0.01M76.2,518.5h0.01M51.9,539.2h0.01M68.8,558.7h0.01M62.2,518.1h0.01M87.6,520.0h0.01M87.7,531.8h0.01M63.7,510.6h0.01M70.6,525.5h0.01M52.8,541.9h0.01M76.0,553.1h0.01M83.0,569.3h0.01M99.1,523.8h0.01M59.4,535.5h0.01M67.3,508.8h0.01M71.0,500.9h0.01M53.6,554.3h0.01M68.6,526.4h0.01M77.8,557.0h0.01M75.9,554.1h0.01M66.4,554.9h0.01M61.0,525.3h0.01M52.4,530.3h0.01M93.1,514.2h0.01M86.4,538.5h0.01M50.6,522.3h0.01M76.1,525.8h0.01M63.4,557.1h0.01M70.8,507.3h0.01M93.7,532.3h0.01M67.2,547.0h0.01M69.2,528.1h0.01M73.3,546.6h0.01M76.4,549.7h0.01M83.8,532.9h0.01M66.1,506.9h0.01M79.1,530.8h0.01M62.3,532.2h0.01M70.8,561.7h0.01M84.8,528.5h0.01M52.6,545.6h0.01M60.4,555.8h0.01M46.8,523.2h0.01M97.7,535.7h0.01M92.4,518.3h0.01M85.2,528.8h0.01M93.7,525.9h0.01M65.1,515.8h0.01M91.0,516.1h0.01M97.4,527.8h0.01M70.7,547.8h0.01M62.4,542.2h0.01M70.8,532.3h0.01M86.2,541.3h0.01M56.5,547.1h0.01M86.4,521.9h0.01M68.7,540.0h0.01M58.4,523.7h0.01M94.9,531.6h0.01M66.2,538.3h0.01M87.2,550.1h0.01M60.1,541.2h0.01M92.2,525.9h0.01M67.6,546.8h0.01M53.8,532.1h0.01M74.1,551.0h0.01M66.5,549.0h0.01M64.6,509.0h0.01M66.3,519.6h0.01M93.9,540.0h0.01M99.8,527.7h0.01M52.9,529.4h0.01M78.2,531.5h0.01M72.8,533.9h0.01M100.4,530.3h0.01M83.9,561.1h0.01M90.8,538.0h0.01M46.4,527.7h0.01M83.1,505.6h0.01M67.8,560.6h0.01M74.2,555.3h0.01M92.8,531.5h0.01M81.3,545.1h0.01" stroke="#fff" stroke-width="1.1" stroke-linecap="round" opacity="0.4"/><path d="M72.8,544.0h0.01M68.0,535.3h0.01M59.7,514.8h0.01M64.4,528.2h0.01M83.0,566.8h0.01M56.3,529.9h0.01M62.7,556.1h0.01M95.7,529.1h0.01M80.5,544.5h0.01M64.1,527.2h0.01M60.1,527.7h0.01M78.6,552.0h0.01M49.9,520.0h0.01M68.5,548.2h0.01M91.4,518.5h0.01M91.2,512.1h0.01M94.8,540.9h0.01M59.2,536.1h0.01M83.7,533.5h0.01M85.9,563.5h0.01M79.1,561.5h0.01M93.2,514.7h0.01M77.8,550.8h0.01M81.3,548.4h0.01M48.3,529.0h0.01M63.0,556.0h0.01M87.6,524.5h0.01M59.9,530.5h0.01M87.1,507.9h0.01M88.5,527.7h0.01M92.0,517.3h0.01M94.0,522.3h0.01M70.2,502.0h0.01M96.0,525.0h0.01M85.2,558.6h0.01M76.3,517.6h0.01M90.0,544.6h0.01M55.0,525.9h0.01M73.0,540.4h0.01M54.5,525.8h0.01M56.4,539.9h0.01M81.0,509.7h0.01M80.3,525.7h0.01M46.5,528.0h0.01M93.6,514.7h0.01M75.7,515.8h0.01M47.0,522.1h0.01M74.7,517.1h0.01M98.6,522.6h0.01M68.8,560.6h0.01M82.9,573.3h0.01M49.5,534.3h0.01M94.9,525.1h0.01M86.0,548.7h0.01M71.1,501.1h0.01M78.9,510.8h0.01M68.2,509.7h0.01M86.4,518.6h0.01M79.1,528.5h0.01M84.4,567.2h0.01M71.2,529.7h0.01M58.4,515.3h0.01M65.0,541.9h0.01M95.5,532.9h0.01M48.4,527.0h0.01M55.9,539.2h0.01M64.2,550.1h0.01M86.0,518.1h0.01M81.7,509.4h0.01M55.0,541.0h0.01M73.0,515.0h0.01M57.7,528.9h0.01M69.9,561.2h0.01M52.7,554.1h0.01M82.3,573.4h0.01M66.0,533.6h0.01M71.8,511.5h0.01M64.8,513.3h0.01M64.9,550.6h0.01M69.6,501.4h0.01M57.5,552.8h0.01M85.8,514.8h0.01M92.1,524.0h0.01M79.2,504.6h0.01M55.5,541.5h0.01M85.5,537.9h0.01M49.0,549.8h0.01M89.2,521.2h0.01M61.0,514.2h0.01M69.1,535.7h0.01M87.9,518.6h0.01M57.0,531.8h0.01M56.5,549.4h0.01M94.7,523.3h0.01M47.4,526.2h0.01M54.1,516.4h0.01M75.4,555.2h0.01M94.9,540.4h0.01M77.9,527.7h0.01M72.7,540.3h0.01M76.8,523.6h0.01M71.8,551.7h0.01M64.0,514.3h0.01M84.4,533.2h0.01M74.8,545.7h0.01M54.1,525.9h0.01M72.1,504.0h0.01M64.1,521.7h0.01M80.6,527.3h0.01M49.6,523.3h0.01M53.3,545.6h0.01M60.6,533.1h0.01M55.9,528.6h0.01M82.7,552.5h0.01M53.0,523.1h0.01M64.7,509.3h0.01M66.6,514.1h0.01M64.9,515.7h0.01M51.1,517.1h0.01M79.5,543.0h0.01M96.2,539.0h0.01M88.4,527.0h0.01M82.8,520.2h0.01M81.8,540.7h0.01M86.0,511.7h0.01M80.2,569.4h0.01M89.4,550.5h0.01M85.6,521.7h0.01M46.6,528.4h0.01M70.3,502.5h0.01M49.2,531.2h0.01M57.2,520.9h0.01M81.1,523.1h0.01M63.6,541.9h0.01M74.1,536.6h0.01M54.8,547.8h0.01M79.6,567.6h0.01M55.1,535.2h0.01M51.6,534.7h0.01M54.4,520.6h0.01M80.3,566.4h0.01M74.1,533.1h0.01M57.9,546.9h0.01M58.4,524.4h0.01M88.2,515.4h0.01M46.8,527.2h0.01M61.9,513.3h0.01M77.6,513.9h0.01M93.1,542.4h0.01M50.2,552.5h0.01M70.4,511.8h0.01M67.6,526.5h0.01M69.7,506.2h0.01M64.4,527.0h0.01M55.6,532.1h0.01M77.6,509.5h0.01M67.1,539.0h0.01M72.1,516.2h0.01M68.8,519.7h0.01M70.0,518.0h0.01M68.9,501.5h0.01M100.5,522.3h0.01M87.9,523.1h0.01M76.5,523.0h0.01M65.9,527.7h0.01M83.8,533.4h0.01M52.0,534.0h0.01M58.0,529.3h0.01M88.5,531.3h0.01M62.7,523.0h0.01M66.7,515.4h0.01M88.8,544.2h0.01M77.2,551.6h0.01M57.6,537.9h0.01M81.9,576.9h0.01M59.8,517.7h0.01M75.6,504.2h0.01M60.8,524.6h0.01M90.9,547.4h0.01M70.7,523.3h0.01M58.3,551.5h0.01M68.3,547.2h0.01M60.8,542.7h0.01M95.1,536.1h0.01M64.3,526.5h0.01M95.3,513.9h0.01M61.7,556.3h0.01M55.6,547.5h0.01M50.7,554.6h0.01M92.2,536.8h0.01M74.1,563.2h0.01M101.5,523.5h0.01M82.4,566.0h0.01M68.6,558.6h0.01M86.1,514.2h0.01M91.4,555.4h0.01" stroke="#fff" stroke-width="0.9" stroke-linecap="round" opacity="0.2"/></g>
<g transform="translate(79.5,0)"><use href="#umc" fill="#8a8a9e" fill-opacity="0.088" filter="url(#soft0)"/><path d="M72.8,544.0h0.01M68.0,535.3h0.01M59.7,514.8h0.01M64.4,528.2h0.01M83.0,566.8h0.01M56.3,529.9h0.01M62.7,556.1h0.01M95.7,529.1h0.01M80.5,544.5h0.01M64.1,527.2h0.01M60.1,527.7h0.01M78.6,552.0h0.01M49.9,520.0h0.01M68.5,548.2h0.01M91.4,518.5h0.01M91.2,512.1h0.01M94.8,540.9h0.01M59.2,536.1h0.01M83.7,533.5h0.01M85.9,563.5h0.01M79.1,561.5h0.01M93.2,514.7h0.01M77.8,550.8h0.01M81.3,548.4h0.01M48.3,529.0h0.01M63.0,556.0h0.01M87.6,524.5h0.01M59.9,530.5h0.01M87.1,507.9h0.01M88.5,527.7h0.01M92.0,517.3h0.01M94.0,522.3h0.01M70.2,502.0h0.01M96.0,525.0h0.01M85.2,558.6h0.01M76.3,517.6h0.01M90.0,544.6h0.01M55.0,525.9h0.01M73.0,540.4h0.01M54.5,525.8h0.01M56.4,539.9h0.01M81.0,509.7h0.01M80.3,525.7h0.01M46.5,528.0h0.01M93.6,514.7h0.01M75.7,515.8h0.01M47.0,522.1h0.01M74.7,517.1h0.01M98.6,522.6h0.01M68.8,560.6h0.01M82.9,573.3h0.01M49.5,534.3h0.01M94.9,525.1h0.01M86.0,548.7h0.01M71.1,501.1h0.01M78.9,510.8h0.01M68.2,509.7h0.01M86.4,518.6h0.01M79.1,528.5h0.01M84.4,567.2h0.01M71.2,529.7h0.01M58.4,515.3h0.01M65.0,541.9h0.01M95.5,532.9h0.01M48.4,527.0h0.01M55.9,539.2h0.01M64.2,550.1h0.01M86.0,518.1h0.01M81.7,509.4h0.01M55.0,541.0h0.01M73.0,515.0h0.01M57.7,528.9h0.01M69.9,561.2h0.01M52.7,554.1h0.01M82.3,573.4h0.01M66.0,533.6h0.01M71.8,511.5h0.01M64.8,513.3h0.01M64.9,550.6h0.01M69.6,501.4h0.01M57.5,552.8h0.01M85.8,514.8h0.01M92.1,524.0h0.01M79.2,504.6h0.01M55.5,541.5h0.01M85.5,537.9h0.01M49.0,549.8h0.01M89.2,521.2h0.01M61.0,514.2h0.01M69.1,535.7h0.01M87.9,518.6h0.01M57.0,531.8h0.01M56.5,549.4h0.01M94.7,523.3h0.01M47.4,526.2h0.01M54.1,516.4h0.01M75.4,555.2h0.01M94.9,540.4h0.01M77.9,527.7h0.01M72.7,540.3h0.01M76.8,523.6h0.01M71.8,551.7h0.01M64.0,514.3h0.01M84.4,533.2h0.01M74.8,545.7h0.01M54.1,525.9h0.01M72.1,504.0h0.01M64.1,521.7h0.01M80.6,527.3h0.01M49.6,523.3h0.01M53.3,545.6h0.01M60.6,533.1h0.01M55.9,528.6h0.01M82.7,552.5h0.01M53.0,523.1h0.01M64.7,509.3h0.01M66.6,514.1h0.01M64.9,515.7h0.01M51.1,517.1h0.01M79.5,543.0h0.01M96.2,539.0h0.01M88.4,527.0h0.01M82.8,520.2h0.01M81.8,540.7h0.01M86.0,511.7h0.01M80.2,569.4h0.01M89.4,550.5h0.01M85.6,521.7h0.01M46.6,528.4h0.01M70.3,502.5h0.01M49.2,531.2h0.01M57.2,520.9h0.01M81.1,523.1h0.01M63.6,541.9h0.01M74.1,536.6h0.01M54.8,547.8h0.01M79.6,567.6h0.01M55.1,535.2h0.01M51.6,534.7h0.01M54.4,520.6h0.01M80.3,566.4h0.01M74.1,533.1h0.01M57.9,546.9h0.01M58.4,524.4h0.01M88.2,515.4h0.01M46.8,527.2h0.01M61.9,513.3h0.01M77.6,513.9h0.01M93.1,542.4h0.01M50.2,552.5h0.01M70.4,511.8h0.01M67.6,526.5h0.01M69.7,506.2h0.01M64.4,527.0h0.01M55.6,532.1h0.01M77.6,509.5h0.01M67.1,539.0h0.01M72.1,516.2h0.01M68.8,519.7h0.01M70.0,518.0h0.01M68.9,501.5h0.01M100.5,522.3h0.01M87.9,523.1h0.01M76.5,523.0h0.01M65.9,527.7h0.01M83.8,533.4h0.01M52.0,534.0h0.01M58.0,529.3h0.01M88.5,531.3h0.01M62.7,523.0h0.01M66.7,515.4h0.01M88.8,544.2h0.01M77.2,551.6h0.01M57.6,537.9h0.01M81.9,576.9h0.01M59.8,517.7h0.01M75.6,504.2h0.01M60.8,524.6h0.01M90.9,547.4h0.01M70.7,523.3h0.01M58.3,551.5h0.01M68.3,547.2h0.01M60.8,542.7h0.01M95.1,536.1h0.01M64.3,526.5h0.01M95.3,513.9h0.01M61.7,556.3h0.01M55.6,547.5h0.01M50.7,554.6h0.01M92.2,536.8h0.01M74.1,563.2h0.01M101.5,523.5h0.01M82.4,566.0h0.01M68.6,558.6h0.01M86.1,514.2h0.01M91.4,555.4h0.01" stroke="#bbb" stroke-width="1.0" stroke-linecap="round" opacity="0.25"/><path d="M85.3,540.1h0.01M69.9,526.5h0.01M81.4,572.8h0.01M85.3,513.7h0.01M68.2,534.4h0.01M74.6,542.7h0.01M61.7,515.4h0.01M91.0,526.9h0.01M93.2,531.1h0.01M98.7,516.4h0.01M95.4,516.8h0.01M98.0,532.3h0.01M57.3,558.0h0.01M86.6,532.4h0.01M69.1,543.4h0.01M56.5,521.1h0.01M70.6,536.0h0.01M61.0,532.8h0.01M51.8,539.8h0.01M72.8,557.2h0.01M76.4,559.5h0.01M80.0,556.3h0.01M61.4,556.1h0.01M79.2,511.8h0.01M67.0,537.4h0.01M79.1,527.4h0.01M89.0,552.8h0.01M58.2,545.7h0.01M91.3,547.7h0.01M55.5,539.3h0.01M87.1,534.2h0.01M78.0,554.8h0.01M80.4,520.2h0.01M67.1,508.7h0.01M87.3,525.8h0.01M75.8,508.3h0.01M75.8,546.0h0.01M61.1,514.8h0.01M74.2,513.6h0.01M79.0,540.9h0.01M65.3,542.3h0.01M92.4,550.9h0.01M95.9,517.2h0.01M67.5,556.3h0.01M92.4,547.0h0.01M62.2,551.8h0.01M70.9,533.4h0.01M67.8,507.4h0.01M60.9,549.6h0.01M65.3,524.8h0.01M80.5,568.3h0.01M96.7,518.2h0.01M100.4,529.7h0.01M90.2,538.3h0.01M69.2,519.7h0.01M64.0,535.4h0.01M83.7,570.3h0.01M96.9,536.2h0.01M80.1,534.9h0.01M50.6,517.9h0.01M79.4,519.0h0.01M70.5,521.2h0.01M72.6,532.1h0.01M80.5,541.9h0.01M91.4,536.4h0.01M62.8,551.5h0.01M87.0,547.1h0.01M62.2,524.9h0.01M68.1,525.9h0.01M71.7,500.2h0.01M68.9,549.0h0.01M64.0,547.4h0.01M70.6,507.7h0.01M95.2,540.3h0.01M81.4,547.2h0.01M54.5,553.9h0.01M74.2,539.9h0.01M88.9,525.4h0.01M75.2,538.6h0.01M74.4,544.2h0.01M80.4,520.7h0.01M64.5,534.4h0.01M70.1,519.9h0.01M93.8,515.4h0.01M56.2,522.2h0.01M63.7,552.4h0.01M78.8,521.5h0.01M74.7,515.6h0.01M79.2,533.2h0.01M61.4,538.3h0.01M48.1,524.5h0.01M60.8,558.4h0.01M85.2,528.9h0.01M69.0,558.9h0.01M82.9,510.1h0.01M62.9,530.5h0.01M79.7,538.5h0.01M69.7,541.4h0.01M67.4,525.5h0.01M97.6,515.2h0.01M91.0,541.2h0.01M85.1,517.2h0.01M91.9,544.5h0.01M71.1,550.8h0.01M52.0,527.3h0.01M88.2,528.1h0.01M53.7,554.2h0.01M58.7,530.3h0.01M68.3,551.4h0.01M80.2,539.3h0.01M65.3,518.5h0.01M93.9,535.7h0.01M79.6,558.2h0.01M76.8,532.5h0.01M82.8,571.4h0.01M57.8,526.3h0.01M69.1,505.2h0.01M93.4,534.7h0.01M72.8,556.4h0.01M83.3,536.2h0.01M60.8,529.4h0.01M80.3,565.4h0.01M59.3,552.9h0.01M70.5,542.7h0.01M71.1,539.1h0.01M86.7,549.0h0.01M61.7,531.1h0.01M81.0,569.8h0.01M62.1,550.2h0.01M93.1,547.5h0.01M83.0,529.4h0.01M68.2,506.6h0.01M84.7,524.6h0.01M62.5,534.1h0.01M76.7,553.6h0.01M84.3,517.0h0.01M69.5,525.6h0.01M84.2,565.6h0.01M72.0,507.7h0.01M61.4,523.3h0.01M89.3,547.8h0.01M95.2,535.4h0.01M76.2,518.5h0.01M51.9,539.2h0.01M68.8,558.7h0.01M62.2,518.1h0.01M87.6,520.0h0.01M87.7,531.8h0.01M63.7,510.6h0.01M70.6,525.5h0.01M52.8,541.9h0.01M76.0,553.1h0.01M83.0,569.3h0.01M99.1,523.8h0.01M59.4,535.5h0.01M67.3,508.8h0.01M71.0,500.9h0.01M53.6,554.3h0.01M68.6,526.4h0.01M77.8,557.0h0.01M75.9,554.1h0.01M66.4,554.9h0.01M61.0,525.3h0.01M52.4,530.3h0.01M93.1,514.2h0.01M86.4,538.5h0.01M50.6,522.3h0.01M76.1,525.8h0.01M63.4,557.1h0.01M70.8,507.3h0.01M93.7,532.3h0.01M67.2,547.0h0.01M69.2,528.1h0.01M73.3,546.6h0.01M76.4,549.7h0.01M83.8,532.9h0.01M66.1,506.9h0.01M79.1,530.8h0.01M62.3,532.2h0.01M70.8,561.7h0.01M84.8,528.5h0.01M52.6,545.6h0.01M60.4,555.8h0.01M46.8,523.2h0.01M97.7,535.7h0.01M92.4,518.3h0.01M85.2,528.8h0.01M93.7,525.9h0.01M65.1,515.8h0.01M91.0,516.1h0.01M97.4,527.8h0.01M70.7,547.8h0.01M62.4,542.2h0.01M70.8,532.3h0.01M86.2,541.3h0.01M56.5,547.1h0.01M86.4,521.9h0.01M68.7,540.0h0.01M58.4,523.7h0.01M94.9,531.6h0.01M66.2,538.3h0.01M87.2,550.1h0.01M60.1,541.2h0.01M92.2,525.9h0.01M67.6,546.8h0.01M53.8,532.1h0.01M74.1,551.0h0.01M66.5,549.0h0.01M64.6,509.0h0.01M66.3,519.6h0.01M93.9,540.0h0.01M99.8,527.7h0.01M52.9,529.4h0.01M78.2,531.5h0.01M72.8,533.9h0.01M100.4,530.3h0.01M83.9,561.1h0.01M90.8,538.0h0.01M46.4,527.7h0.01M83.1,505.6h0.01M67.8,560.6h0.01M74.2,555.3h0.01M92.8,531.5h0.01M81.3,545.1h0.01" stroke="#fff" stroke-width="1.1" stroke-linecap="round" opacity="0.2"/></g>
<g transform="translate(79.5,0)"><g mask="url(#umclip)"><rect x="40" y="488" width="66" height="95" fill="url(#tigg)"/></g></g>
<g transform="translate(156.3,0)"><use href="#umc" fill="#8a8a92" fill-opacity="0.073" filter="url(#soft0)"/><path d="M72.8,544.0h0.01M68.0,535.3h0.01M59.7,514.8h0.01M64.4,528.2h0.01M83.0,566.8h0.01M56.3,529.9h0.01M62.7,556.1h0.01M95.7,529.1h0.01M80.5,544.5h0.01M64.1,527.2h0.01M60.1,527.7h0.01M78.6,552.0h0.01M49.9,520.0h0.01M68.5,548.2h0.01M91.4,518.5h0.01M91.2,512.1h0.01M94.8,540.9h0.01M59.2,536.1h0.01M83.7,533.5h0.01M85.9,563.5h0.01M79.1,561.5h0.01M93.2,514.7h0.01M77.8,550.8h0.01M81.3,548.4h0.01M48.3,529.0h0.01M63.0,556.0h0.01M87.6,524.5h0.01M59.9,530.5h0.01M87.1,507.9h0.01M88.5,527.7h0.01M92.0,517.3h0.01M94.0,522.3h0.01M70.2,502.0h0.01M96.0,525.0h0.01M85.2,558.6h0.01M76.3,517.6h0.01M90.0,544.6h0.01M55.0,525.9h0.01M73.0,540.4h0.01M54.5,525.8h0.01M56.4,539.9h0.01M81.0,509.7h0.01M80.3,525.7h0.01M46.5,528.0h0.01M93.6,514.7h0.01M75.7,515.8h0.01M47.0,522.1h0.01M74.7,517.1h0.01M98.6,522.6h0.01M68.8,560.6h0.01M82.9,573.3h0.01M49.5,534.3h0.01M94.9,525.1h0.01M86.0,548.7h0.01M71.1,501.1h0.01M78.9,510.8h0.01M68.2,509.7h0.01M86.4,518.6h0.01M79.1,528.5h0.01M84.4,567.2h0.01M71.2,529.7h0.01M58.4,515.3h0.01M65.0,541.9h0.01M95.5,532.9h0.01M48.4,527.0h0.01M55.9,539.2h0.01M64.2,550.1h0.01M86.0,518.1h0.01M81.7,509.4h0.01M55.0,541.0h0.01M73.0,515.0h0.01M57.7,528.9h0.01M69.9,561.2h0.01M52.7,554.1h0.01M82.3,573.4h0.01M66.0,533.6h0.01M71.8,511.5h0.01M64.8,513.3h0.01M64.9,550.6h0.01M69.6,501.4h0.01M57.5,552.8h0.01M85.8,514.8h0.01M92.1,524.0h0.01M79.2,504.6h0.01M55.5,541.5h0.01M85.5,537.9h0.01M49.0,549.8h0.01M89.2,521.2h0.01M61.0,514.2h0.01M69.1,535.7h0.01M87.9,518.6h0.01M57.0,531.8h0.01M56.5,549.4h0.01M94.7,523.3h0.01M47.4,526.2h0.01M54.1,516.4h0.01M75.4,555.2h0.01M94.9,540.4h0.01M77.9,527.7h0.01M72.7,540.3h0.01M76.8,523.6h0.01M71.8,551.7h0.01M64.0,514.3h0.01M84.4,533.2h0.01M74.8,545.7h0.01M54.1,525.9h0.01M72.1,504.0h0.01M64.1,521.7h0.01M80.6,527.3h0.01M49.6,523.3h0.01M53.3,545.6h0.01M60.6,533.1h0.01M55.9,528.6h0.01M82.7,552.5h0.01M53.0,523.1h0.01M64.7,509.3h0.01M66.6,514.1h0.01M64.9,515.7h0.01M51.1,517.1h0.01M79.5,543.0h0.01M96.2,539.0h0.01M88.4,527.0h0.01M82.8,520.2h0.01M81.8,540.7h0.01M86.0,511.7h0.01M80.2,569.4h0.01M89.4,550.5h0.01M85.6,521.7h0.01M46.6,528.4h0.01M70.3,502.5h0.01M49.2,531.2h0.01M57.2,520.9h0.01M81.1,523.1h0.01M63.6,541.9h0.01M74.1,536.6h0.01M54.8,547.8h0.01M79.6,567.6h0.01M55.1,535.2h0.01M51.6,534.7h0.01M54.4,520.6h0.01M80.3,566.4h0.01M74.1,533.1h0.01M57.9,546.9h0.01M58.4,524.4h0.01M88.2,515.4h0.01M46.8,527.2h0.01M61.9,513.3h0.01M77.6,513.9h0.01M93.1,542.4h0.01M50.2,552.5h0.01M70.4,511.8h0.01M67.6,526.5h0.01M69.7,506.2h0.01M64.4,527.0h0.01M55.6,532.1h0.01M77.6,509.5h0.01M67.1,539.0h0.01M72.1,516.2h0.01M68.8,519.7h0.01M70.0,518.0h0.01M68.9,501.5h0.01M100.5,522.3h0.01M87.9,523.1h0.01M76.5,523.0h0.01M65.9,527.7h0.01M83.8,533.4h0.01M52.0,534.0h0.01M58.0,529.3h0.01M88.5,531.3h0.01M62.7,523.0h0.01M66.7,515.4h0.01M88.8,544.2h0.01M77.2,551.6h0.01M57.6,537.9h0.01M81.9,576.9h0.01M59.8,517.7h0.01M75.6,504.2h0.01M60.8,524.6h0.01M90.9,547.4h0.01M70.7,523.3h0.01M58.3,551.5h0.01M68.3,547.2h0.01M60.8,542.7h0.01M95.1,536.1h0.01M64.3,526.5h0.01M95.3,513.9h0.01M61.7,556.3h0.01M55.6,547.5h0.01M50.7,554.6h0.01M92.2,536.8h0.01M74.1,563.2h0.01M101.5,523.5h0.01M82.4,566.0h0.01M68.6,558.6h0.01M86.1,514.2h0.01M91.4,555.4h0.01" stroke="#bbb" stroke-width="1.0" stroke-linecap="round" opacity="0.25"/><path d="M85.3,540.1h0.01M69.9,526.5h0.01M81.4,572.8h0.01M85.3,513.7h0.01M68.2,534.4h0.01M74.6,542.7h0.01M61.7,515.4h0.01M91.0,526.9h0.01M93.2,531.1h0.01M98.7,516.4h0.01M95.4,516.8h0.01M98.0,532.3h0.01M57.3,558.0h0.01M86.6,532.4h0.01M69.1,543.4h0.01M56.5,521.1h0.01M70.6,536.0h0.01M61.0,532.8h0.01M51.8,539.8h0.01M72.8,557.2h0.01M76.4,559.5h0.01M80.0,556.3h0.01M61.4,556.1h0.01M79.2,511.8h0.01M67.0,537.4h0.01M79.1,527.4h0.01M89.0,552.8h0.01M58.2,545.7h0.01M91.3,547.7h0.01M55.5,539.3h0.01M87.1,534.2h0.01M78.0,554.8h0.01M80.4,520.2h0.01M67.1,508.7h0.01M87.3,525.8h0.01M75.8,508.3h0.01M75.8,546.0h0.01M61.1,514.8h0.01M74.2,513.6h0.01M79.0,540.9h0.01M65.3,542.3h0.01M92.4,550.9h0.01M95.9,517.2h0.01M67.5,556.3h0.01M92.4,547.0h0.01M62.2,551.8h0.01M70.9,533.4h0.01M67.8,507.4h0.01M60.9,549.6h0.01M65.3,524.8h0.01M80.5,568.3h0.01M96.7,518.2h0.01M100.4,529.7h0.01M90.2,538.3h0.01M69.2,519.7h0.01M64.0,535.4h0.01M83.7,570.3h0.01M96.9,536.2h0.01M80.1,534.9h0.01M50.6,517.9h0.01M79.4,519.0h0.01M70.5,521.2h0.01M72.6,532.1h0.01M80.5,541.9h0.01M91.4,536.4h0.01M62.8,551.5h0.01M87.0,547.1h0.01M62.2,524.9h0.01M68.1,525.9h0.01M71.7,500.2h0.01M68.9,549.0h0.01M64.0,547.4h0.01M70.6,507.7h0.01M95.2,540.3h0.01M81.4,547.2h0.01M54.5,553.9h0.01M74.2,539.9h0.01M88.9,525.4h0.01M75.2,538.6h0.01M74.4,544.2h0.01M80.4,520.7h0.01M64.5,534.4h0.01M70.1,519.9h0.01M93.8,515.4h0.01M56.2,522.2h0.01M63.7,552.4h0.01M78.8,521.5h0.01M74.7,515.6h0.01M79.2,533.2h0.01M61.4,538.3h0.01M48.1,524.5h0.01M60.8,558.4h0.01M85.2,528.9h0.01M69.0,558.9h0.01M82.9,510.1h0.01M62.9,530.5h0.01M79.7,538.5h0.01M69.7,541.4h0.01M67.4,525.5h0.01M97.6,515.2h0.01M91.0,541.2h0.01M85.1,517.2h0.01M91.9,544.5h0.01M71.1,550.8h0.01M52.0,527.3h0.01M88.2,528.1h0.01M53.7,554.2h0.01M58.7,530.3h0.01M68.3,551.4h0.01M80.2,539.3h0.01M65.3,518.5h0.01M93.9,535.7h0.01M79.6,558.2h0.01M76.8,532.5h0.01M82.8,571.4h0.01M57.8,526.3h0.01M69.1,505.2h0.01M93.4,534.7h0.01M72.8,556.4h0.01M83.3,536.2h0.01M60.8,529.4h0.01M80.3,565.4h0.01M59.3,552.9h0.01M70.5,542.7h0.01M71.1,539.1h0.01M86.7,549.0h0.01M61.7,531.1h0.01M81.0,569.8h0.01M62.1,550.2h0.01M93.1,547.5h0.01M83.0,529.4h0.01M68.2,506.6h0.01M84.7,524.6h0.01M62.5,534.1h0.01M76.7,553.6h0.01M84.3,517.0h0.01M69.5,525.6h0.01M84.2,565.6h0.01M72.0,507.7h0.01M61.4,523.3h0.01M89.3,547.8h0.01M95.2,535.4h0.01M76.2,518.5h0.01M51.9,539.2h0.01M68.8,558.7h0.01M62.2,518.1h0.01M87.6,520.0h0.01M87.7,531.8h0.01M63.7,510.6h0.01M70.6,525.5h0.01M52.8,541.9h0.01M76.0,553.1h0.01M83.0,569.3h0.01M99.1,523.8h0.01M59.4,535.5h0.01M67.3,508.8h0.01M71.0,500.9h0.01M53.6,554.3h0.01M68.6,526.4h0.01M77.8,557.0h0.01M75.9,554.1h0.01M66.4,554.9h0.01M61.0,525.3h0.01M52.4,530.3h0.01M93.1,514.2h0.01M86.4,538.5h0.01M50.6,522.3h0.01M76.1,525.8h0.01M63.4,557.1h0.01M70.8,507.3h0.01M93.7,532.3h0.01M67.2,547.0h0.01M69.2,528.1h0.01M73.3,546.6h0.01M76.4,549.7h0.01M83.8,532.9h0.01M66.1,506.9h0.01M79.1,530.8h0.01M62.3,532.2h0.01M70.8,561.7h0.01M84.8,528.5h0.01M52.6,545.6h0.01M60.4,555.8h0.01M46.8,523.2h0.01M97.7,535.7h0.01M92.4,518.3h0.01M85.2,528.8h0.01M93.7,525.9h0.01M65.1,515.8h0.01M91.0,516.1h0.01M97.4,527.8h0.01M70.7,547.8h0.01M62.4,542.2h0.01M70.8,532.3h0.01M86.2,541.3h0.01M56.5,547.1h0.01M86.4,521.9h0.01M68.7,540.0h0.01M58.4,523.7h0.01M94.9,531.6h0.01M66.2,538.3h0.01M87.2,550.1h0.01M60.1,541.2h0.01M92.2,525.9h0.01M67.6,546.8h0.01M53.8,532.1h0.01M74.1,551.0h0.01M66.5,549.0h0.01M64.6,509.0h0.01M66.3,519.6h0.01M93.9,540.0h0.01M99.8,527.7h0.01M52.9,529.4h0.01M78.2,531.5h0.01M72.8,533.9h0.01M100.4,530.3h0.01M83.9,561.1h0.01M90.8,538.0h0.01M46.4,527.7h0.01M83.1,505.6h0.01M67.8,560.6h0.01M74.2,555.3h0.01M92.8,531.5h0.01M81.3,545.1h0.01" stroke="#fff" stroke-width="1.1" stroke-linecap="round" opacity="0.2"/></g>
<g transform="translate(232,0)"><use href="#umc" fill="#8a8a8e" fill-opacity="0.083" filter="url(#soft0)"/><path d="M72.8,544.0h0.01M68.0,535.3h0.01M59.7,514.8h0.01M64.4,528.2h0.01M83.0,566.8h0.01M56.3,529.9h0.01M62.7,556.1h0.01M95.7,529.1h0.01M80.5,544.5h0.01M64.1,527.2h0.01M60.1,527.7h0.01M78.6,552.0h0.01M49.9,520.0h0.01M68.5,548.2h0.01M91.4,518.5h0.01M91.2,512.1h0.01M94.8,540.9h0.01M59.2,536.1h0.01M83.7,533.5h0.01M85.9,563.5h0.01M79.1,561.5h0.01M93.2,514.7h0.01M77.8,550.8h0.01M81.3,548.4h0.01M48.3,529.0h0.01M63.0,556.0h0.01M87.6,524.5h0.01M59.9,530.5h0.01M87.1,507.9h0.01M88.5,527.7h0.01M92.0,517.3h0.01M94.0,522.3h0.01M70.2,502.0h0.01M96.0,525.0h0.01M85.2,558.6h0.01M76.3,517.6h0.01M90.0,544.6h0.01M55.0,525.9h0.01M73.0,540.4h0.01M54.5,525.8h0.01M56.4,539.9h0.01M81.0,509.7h0.01M80.3,525.7h0.01M46.5,528.0h0.01M93.6,514.7h0.01M75.7,515.8h0.01M47.0,522.1h0.01M74.7,517.1h0.01M98.6,522.6h0.01M68.8,560.6h0.01M82.9,573.3h0.01M49.5,534.3h0.01M94.9,525.1h0.01M86.0,548.7h0.01M71.1,501.1h0.01M78.9,510.8h0.01M68.2,509.7h0.01M86.4,518.6h0.01M79.1,528.5h0.01M84.4,567.2h0.01M71.2,529.7h0.01M58.4,515.3h0.01M65.0,541.9h0.01M95.5,532.9h0.01M48.4,527.0h0.01M55.9,539.2h0.01M64.2,550.1h0.01M86.0,518.1h0.01M81.7,509.4h0.01M55.0,541.0h0.01M73.0,515.0h0.01M57.7,528.9h0.01M69.9,561.2h0.01M52.7,554.1h0.01M82.3,573.4h0.01M66.0,533.6h0.01M71.8,511.5h0.01M64.8,513.3h0.01M64.9,550.6h0.01M69.6,501.4h0.01M57.5,552.8h0.01M85.8,514.8h0.01M92.1,524.0h0.01M79.2,504.6h0.01M55.5,541.5h0.01M85.5,537.9h0.01M49.0,549.8h0.01M89.2,521.2h0.01M61.0,514.2h0.01M69.1,535.7h0.01M87.9,518.6h0.01M57.0,531.8h0.01M56.5,549.4h0.01M94.7,523.3h0.01M47.4,526.2h0.01M54.1,516.4h0.01M75.4,555.2h0.01M94.9,540.4h0.01M77.9,527.7h0.01M72.7,540.3h0.01M76.8,523.6h0.01M71.8,551.7h0.01M64.0,514.3h0.01M84.4,533.2h0.01M74.8,545.7h0.01M54.1,525.9h0.01M72.1,504.0h0.01M64.1,521.7h0.01M80.6,527.3h0.01M49.6,523.3h0.01M53.3,545.6h0.01M60.6,533.1h0.01M55.9,528.6h0.01M82.7,552.5h0.01M53.0,523.1h0.01M64.7,509.3h0.01M66.6,514.1h0.01M64.9,515.7h0.01M51.1,517.1h0.01M79.5,543.0h0.01M96.2,539.0h0.01M88.4,527.0h0.01M82.8,520.2h0.01M81.8,540.7h0.01M86.0,511.7h0.01M80.2,569.4h0.01M89.4,550.5h0.01M85.6,521.7h0.01M46.6,528.4h0.01M70.3,502.5h0.01M49.2,531.2h0.01M57.2,520.9h0.01M81.1,523.1h0.01M63.6,541.9h0.01M74.1,536.6h0.01M54.8,547.8h0.01M79.6,567.6h0.01M55.1,535.2h0.01M51.6,534.7h0.01M54.4,520.6h0.01M80.3,566.4h0.01M74.1,533.1h0.01M57.9,546.9h0.01M58.4,524.4h0.01M88.2,515.4h0.01M46.8,527.2h0.01M61.9,513.3h0.01M77.6,513.9h0.01M93.1,542.4h0.01M50.2,552.5h0.01M70.4,511.8h0.01M67.6,526.5h0.01M69.7,506.2h0.01M64.4,527.0h0.01M55.6,532.1h0.01M77.6,509.5h0.01M67.1,539.0h0.01M72.1,516.2h0.01M68.8,519.7h0.01M70.0,518.0h0.01M68.9,501.5h0.01M100.5,522.3h0.01M87.9,523.1h0.01M76.5,523.0h0.01M65.9,527.7h0.01M83.8,533.4h0.01M52.0,534.0h0.01M58.0,529.3h0.01M88.5,531.3h0.01M62.7,523.0h0.01M66.7,515.4h0.01M88.8,544.2h0.01M77.2,551.6h0.01M57.6,537.9h0.01M81.9,576.9h0.01M59.8,517.7h0.01M75.6,504.2h0.01M60.8,524.6h0.01M90.9,547.4h0.01M70.7,523.3h0.01M58.3,551.5h0.01M68.3,547.2h0.01M60.8,542.7h0.01M95.1,536.1h0.01M64.3,526.5h0.01M95.3,513.9h0.01M61.7,556.3h0.01M55.6,547.5h0.01M50.7,554.6h0.01M92.2,536.8h0.01M74.1,563.2h0.01M101.5,523.5h0.01M82.4,566.0h0.01M68.6,558.6h0.01M86.1,514.2h0.01M91.4,555.4h0.01" stroke="#bbb" stroke-width="1.0" stroke-linecap="round" opacity="0.25"/><path d="M85.3,540.1h0.01M69.9,526.5h0.01M81.4,572.8h0.01M85.3,513.7h0.01M68.2,534.4h0.01M74.6,542.7h0.01M61.7,515.4h0.01M91.0,526.9h0.01M93.2,531.1h0.01M98.7,516.4h0.01M95.4,516.8h0.01M98.0,532.3h0.01M57.3,558.0h0.01M86.6,532.4h0.01M69.1,543.4h0.01M56.5,521.1h0.01M70.6,536.0h0.01M61.0,532.8h0.01M51.8,539.8h0.01M72.8,557.2h0.01M76.4,559.5h0.01M80.0,556.3h0.01M61.4,556.1h0.01M79.2,511.8h0.01M67.0,537.4h0.01M79.1,527.4h0.01M89.0,552.8h0.01M58.2,545.7h0.01M91.3,547.7h0.01M55.5,539.3h0.01M87.1,534.2h0.01M78.0,554.8h0.01M80.4,520.2h0.01M67.1,508.7h0.01M87.3,525.8h0.01M75.8,508.3h0.01M75.8,546.0h0.01M61.1,514.8h0.01M74.2,513.6h0.01M79.0,540.9h0.01M65.3,542.3h0.01M92.4,550.9h0.01M95.9,517.2h0.01M67.5,556.3h0.01M92.4,547.0h0.01M62.2,551.8h0.01M70.9,533.4h0.01M67.8,507.4h0.01M60.9,549.6h0.01M65.3,524.8h0.01M80.5,568.3h0.01M96.7,518.2h0.01M100.4,529.7h0.01M90.2,538.3h0.01M69.2,519.7h0.01M64.0,535.4h0.01M83.7,570.3h0.01M96.9,536.2h0.01M80.1,534.9h0.01M50.6,517.9h0.01M79.4,519.0h0.01M70.5,521.2h0.01M72.6,532.1h0.01M80.5,541.9h0.01M91.4,536.4h0.01M62.8,551.5h0.01M87.0,547.1h0.01M62.2,524.9h0.01M68.1,525.9h0.01M71.7,500.2h0.01M68.9,549.0h0.01M64.0,547.4h0.01M70.6,507.7h0.01M95.2,540.3h0.01M81.4,547.2h0.01M54.5,553.9h0.01M74.2,539.9h0.01M88.9,525.4h0.01M75.2,538.6h0.01M74.4,544.2h0.01M80.4,520.7h0.01M64.5,534.4h0.01M70.1,519.9h0.01M93.8,515.4h0.01M56.2,522.2h0.01M63.7,552.4h0.01M78.8,521.5h0.01M74.7,515.6h0.01M79.2,533.2h0.01M61.4,538.3h0.01M48.1,524.5h0.01M60.8,558.4h0.01M85.2,528.9h0.01M69.0,558.9h0.01M82.9,510.1h0.01M62.9,530.5h0.01M79.7,538.5h0.01M69.7,541.4h0.01M67.4,525.5h0.01M97.6,515.2h0.01M91.0,541.2h0.01M85.1,517.2h0.01M91.9,544.5h0.01M71.1,550.8h0.01M52.0,527.3h0.01M88.2,528.1h0.01M53.7,554.2h0.01M58.7,530.3h0.01M68.3,551.4h0.01M80.2,539.3h0.01M65.3,518.5h0.01M93.9,535.7h0.01M79.6,558.2h0.01M76.8,532.5h0.01M82.8,571.4h0.01M57.8,526.3h0.01M69.1,505.2h0.01M93.4,534.7h0.01M72.8,556.4h0.01M83.3,536.2h0.01M60.8,529.4h0.01M80.3,565.4h0.01M59.3,552.9h0.01M70.5,542.7h0.01M71.1,539.1h0.01M86.7,549.0h0.01M61.7,531.1h0.01M81.0,569.8h0.01M62.1,550.2h0.01M93.1,547.5h0.01M83.0,529.4h0.01M68.2,506.6h0.01M84.7,524.6h0.01M62.5,534.1h0.01M76.7,553.6h0.01M84.3,517.0h0.01M69.5,525.6h0.01M84.2,565.6h0.01M72.0,507.7h0.01M61.4,523.3h0.01M89.3,547.8h0.01M95.2,535.4h0.01M76.2,518.5h0.01M51.9,539.2h0.01M68.8,558.7h0.01M62.2,518.1h0.01M87.6,520.0h0.01M87.7,531.8h0.01M63.7,510.6h0.01M70.6,525.5h0.01M52.8,541.9h0.01M76.0,553.1h0.01M83.0,569.3h0.01M99.1,523.8h0.01M59.4,535.5h0.01M67.3,508.8h0.01M71.0,500.9h0.01M53.6,554.3h0.01M68.6,526.4h0.01M77.8,557.0h0.01M75.9,554.1h0.01M66.4,554.9h0.01M61.0,525.3h0.01M52.4,530.3h0.01M93.1,514.2h0.01M86.4,538.5h0.01M50.6,522.3h0.01M76.1,525.8h0.01M63.4,557.1h0.01M70.8,507.3h0.01M93.7,532.3h0.01M67.2,547.0h0.01M69.2,528.1h0.01M73.3,546.6h0.01M76.4,549.7h0.01M83.8,532.9h0.01M66.1,506.9h0.01M79.1,530.8h0.01M62.3,532.2h0.01M70.8,561.7h0.01M84.8,528.5h0.01M52.6,545.6h0.01M60.4,555.8h0.01M46.8,523.2h0.01M97.7,535.7h0.01M92.4,518.3h0.01M85.2,528.8h0.01M93.7,525.9h0.01M65.1,515.8h0.01M91.0,516.1h0.01M97.4,527.8h0.01M70.7,547.8h0.01M62.4,542.2h0.01M70.8,532.3h0.01M86.2,541.3h0.01M56.5,547.1h0.01M86.4,521.9h0.01M68.7,540.0h0.01M58.4,523.7h0.01M94.9,531.6h0.01M66.2,538.3h0.01M87.2,550.1h0.01M60.1,541.2h0.01M92.2,525.9h0.01M67.6,546.8h0.01M53.8,532.1h0.01M74.1,551.0h0.01M66.5,549.0h0.01M64.6,509.0h0.01M66.3,519.6h0.01M93.9,540.0h0.01M99.8,527.7h0.01M52.9,529.4h0.01M78.2,531.5h0.01M72.8,533.9h0.01M100.4,530.3h0.01M83.9,561.1h0.01M90.8,538.0h0.01M46.4,527.7h0.01M83.1,505.6h0.01M67.8,560.6h0.01M74.2,555.3h0.01M92.8,531.5h0.01M81.3,545.1h0.01" stroke="#fff" stroke-width="1.1" stroke-linecap="round" opacity="0.2"/></g>
<g transform="translate(308.8,0)"><use href="#umc" fill="#8a8a8e" fill-opacity="0.066" filter="url(#soft0)"/><path d="M72.8,544.0h0.01M68.0,535.3h0.01M59.7,514.8h0.01M64.4,528.2h0.01M83.0,566.8h0.01M56.3,529.9h0.01M62.7,556.1h0.01M95.7,529.1h0.01M80.5,544.5h0.01M64.1,527.2h0.01M60.1,527.7h0.01M78.6,552.0h0.01M49.9,520.0h0.01M68.5,548.2h0.01M91.4,518.5h0.01M91.2,512.1h0.01M94.8,540.9h0.01M59.2,536.1h0.01M83.7,533.5h0.01M85.9,563.5h0.01M79.1,561.5h0.01M93.2,514.7h0.01M77.8,550.8h0.01M81.3,548.4h0.01M48.3,529.0h0.01M63.0,556.0h0.01M87.6,524.5h0.01M59.9,530.5h0.01M87.1,507.9h0.01M88.5,527.7h0.01M92.0,517.3h0.01M94.0,522.3h0.01M70.2,502.0h0.01M96.0,525.0h0.01M85.2,558.6h0.01M76.3,517.6h0.01M90.0,544.6h0.01M55.0,525.9h0.01M73.0,540.4h0.01M54.5,525.8h0.01M56.4,539.9h0.01M81.0,509.7h0.01M80.3,525.7h0.01M46.5,528.0h0.01M93.6,514.7h0.01M75.7,515.8h0.01M47.0,522.1h0.01M74.7,517.1h0.01M98.6,522.6h0.01M68.8,560.6h0.01M82.9,573.3h0.01M49.5,534.3h0.01M94.9,525.1h0.01M86.0,548.7h0.01M71.1,501.1h0.01M78.9,510.8h0.01M68.2,509.7h0.01M86.4,518.6h0.01M79.1,528.5h0.01M84.4,567.2h0.01M71.2,529.7h0.01M58.4,515.3h0.01M65.0,541.9h0.01M95.5,532.9h0.01M48.4,527.0h0.01M55.9,539.2h0.01M64.2,550.1h0.01M86.0,518.1h0.01M81.7,509.4h0.01M55.0,541.0h0.01M73.0,515.0h0.01M57.7,528.9h0.01M69.9,561.2h0.01M52.7,554.1h0.01M82.3,573.4h0.01M66.0,533.6h0.01M71.8,511.5h0.01M64.8,513.3h0.01M64.9,550.6h0.01M69.6,501.4h0.01M57.5,552.8h0.01M85.8,514.8h0.01M92.1,524.0h0.01M79.2,504.6h0.01M55.5,541.5h0.01M85.5,537.9h0.01M49.0,549.8h0.01M89.2,521.2h0.01M61.0,514.2h0.01M69.1,535.7h0.01M87.9,518.6h0.01M57.0,531.8h0.01M56.5,549.4h0.01M94.7,523.3h0.01M47.4,526.2h0.01M54.1,516.4h0.01M75.4,555.2h0.01M94.9,540.4h0.01M77.9,527.7h0.01M72.7,540.3h0.01M76.8,523.6h0.01M71.8,551.7h0.01M64.0,514.3h0.01M84.4,533.2h0.01M74.8,545.7h0.01M54.1,525.9h0.01M72.1,504.0h0.01M64.1,521.7h0.01M80.6,527.3h0.01M49.6,523.3h0.01M53.3,545.6h0.01M60.6,533.1h0.01M55.9,528.6h0.01M82.7,552.5h0.01M53.0,523.1h0.01M64.7,509.3h0.01M66.6,514.1h0.01M64.9,515.7h0.01M51.1,517.1h0.01M79.5,543.0h0.01M96.2,539.0h0.01M88.4,527.0h0.01M82.8,520.2h0.01M81.8,540.7h0.01M86.0,511.7h0.01M80.2,569.4h0.01M89.4,550.5h0.01M85.6,521.7h0.01M46.6,528.4h0.01M70.3,502.5h0.01M49.2,531.2h0.01M57.2,520.9h0.01M81.1,523.1h0.01M63.6,541.9h0.01M74.1,536.6h0.01M54.8,547.8h0.01M79.6,567.6h0.01M55.1,535.2h0.01M51.6,534.7h0.01M54.4,520.6h0.01M80.3,566.4h0.01M74.1,533.1h0.01M57.9,546.9h0.01M58.4,524.4h0.01M88.2,515.4h0.01M46.8,527.2h0.01M61.9,513.3h0.01M77.6,513.9h0.01M93.1,542.4h0.01M50.2,552.5h0.01M70.4,511.8h0.01M67.6,526.5h0.01M69.7,506.2h0.01M64.4,527.0h0.01M55.6,532.1h0.01M77.6,509.5h0.01M67.1,539.0h0.01M72.1,516.2h0.01M68.8,519.7h0.01M70.0,518.0h0.01M68.9,501.5h0.01M100.5,522.3h0.01M87.9,523.1h0.01M76.5,523.0h0.01M65.9,527.7h0.01M83.8,533.4h0.01M52.0,534.0h0.01M58.0,529.3h0.01M88.5,531.3h0.01M62.7,523.0h0.01M66.7,515.4h0.01M88.8,544.2h0.01M77.2,551.6h0.01M57.6,537.9h0.01M81.9,576.9h0.01M59.8,517.7h0.01M75.6,504.2h0.01M60.8,524.6h0.01M90.9,547.4h0.01M70.7,523.3h0.01M58.3,551.5h0.01M68.3,547.2h0.01M60.8,542.7h0.01M95.1,536.1h0.01M64.3,526.5h0.01M95.3,513.9h0.01M61.7,556.3h0.01M55.6,547.5h0.01M50.7,554.6h0.01M92.2,536.8h0.01M74.1,563.2h0.01M101.5,523.5h0.01M82.4,566.0h0.01M68.6,558.6h0.01M86.1,514.2h0.01M91.4,555.4h0.01" stroke="#bbb" stroke-width="1.0" stroke-linecap="round" opacity="0.25"/><path d="M85.3,540.1h0.01M69.9,526.5h0.01M81.4,572.8h0.01M85.3,513.7h0.01M68.2,534.4h0.01M74.6,542.7h0.01M61.7,515.4h0.01M91.0,526.9h0.01M93.2,531.1h0.01M98.7,516.4h0.01M95.4,516.8h0.01M98.0,532.3h0.01M57.3,558.0h0.01M86.6,532.4h0.01M69.1,543.4h0.01M56.5,521.1h0.01M70.6,536.0h0.01M61.0,532.8h0.01M51.8,539.8h0.01M72.8,557.2h0.01M76.4,559.5h0.01M80.0,556.3h0.01M61.4,556.1h0.01M79.2,511.8h0.01M67.0,537.4h0.01M79.1,527.4h0.01M89.0,552.8h0.01M58.2,545.7h0.01M91.3,547.7h0.01M55.5,539.3h0.01M87.1,534.2h0.01M78.0,554.8h0.01M80.4,520.2h0.01M67.1,508.7h0.01M87.3,525.8h0.01M75.8,508.3h0.01M75.8,546.0h0.01M61.1,514.8h0.01M74.2,513.6h0.01M79.0,540.9h0.01M65.3,542.3h0.01M92.4,550.9h0.01M95.9,517.2h0.01M67.5,556.3h0.01M92.4,547.0h0.01M62.2,551.8h0.01M70.9,533.4h0.01M67.8,507.4h0.01M60.9,549.6h0.01M65.3,524.8h0.01M80.5,568.3h0.01M96.7,518.2h0.01M100.4,529.7h0.01M90.2,538.3h0.01M69.2,519.7h0.01M64.0,535.4h0.01M83.7,570.3h0.01M96.9,536.2h0.01M80.1,534.9h0.01M50.6,517.9h0.01M79.4,519.0h0.01M70.5,521.2h0.01M72.6,532.1h0.01M80.5,541.9h0.01M91.4,536.4h0.01M62.8,551.5h0.01M87.0,547.1h0.01M62.2,524.9h0.01M68.1,525.9h0.01M71.7,500.2h0.01M68.9,549.0h0.01M64.0,547.4h0.01M70.6,507.7h0.01M95.2,540.3h0.01M81.4,547.2h0.01M54.5,553.9h0.01M74.2,539.9h0.01M88.9,525.4h0.01M75.2,538.6h0.01M74.4,544.2h0.01M80.4,520.7h0.01M64.5,534.4h0.01M70.1,519.9h0.01M93.8,515.4h0.01M56.2,522.2h0.01M63.7,552.4h0.01M78.8,521.5h0.01M74.7,515.6h0.01M79.2,533.2h0.01M61.4,538.3h0.01M48.1,524.5h0.01M60.8,558.4h0.01M85.2,528.9h0.01M69.0,558.9h0.01M82.9,510.1h0.01M62.9,530.5h0.01M79.7,538.5h0.01M69.7,541.4h0.01M67.4,525.5h0.01M97.6,515.2h0.01M91.0,541.2h0.01M85.1,517.2h0.01M91.9,544.5h0.01M71.1,550.8h0.01M52.0,527.3h0.01M88.2,528.1h0.01M53.7,554.2h0.01M58.7,530.3h0.01M68.3,551.4h0.01M80.2,539.3h0.01M65.3,518.5h0.01M93.9,535.7h0.01M79.6,558.2h0.01M76.8,532.5h0.01M82.8,571.4h0.01M57.8,526.3h0.01M69.1,505.2h0.01M93.4,534.7h0.01M72.8,556.4h0.01M83.3,536.2h0.01M60.8,529.4h0.01M80.3,565.4h0.01M59.3,552.9h0.01M70.5,542.7h0.01M71.1,539.1h0.01M86.7,549.0h0.01M61.7,531.1h0.01M81.0,569.8h0.01M62.1,550.2h0.01M93.1,547.5h0.01M83.0,529.4h0.01M68.2,506.6h0.01M84.7,524.6h0.01M62.5,534.1h0.01M76.7,553.6h0.01M84.3,517.0h0.01M69.5,525.6h0.01M84.2,565.6h0.01M72.0,507.7h0.01M61.4,523.3h0.01M89.3,547.8h0.01M95.2,535.4h0.01M76.2,518.5h0.01M51.9,539.2h0.01M68.8,558.7h0.01M62.2,518.1h0.01M87.6,520.0h0.01M87.7,531.8h0.01M63.7,510.6h0.01M70.6,525.5h0.01M52.8,541.9h0.01M76.0,553.1h0.01M83.0,569.3h0.01M99.1,523.8h0.01M59.4,535.5h0.01M67.3,508.8h0.01M71.0,500.9h0.01M53.6,554.3h0.01M68.6,526.4h0.01M77.8,557.0h0.01M75.9,554.1h0.01M66.4,554.9h0.01M61.0,525.3h0.01M52.4,530.3h0.01M93.1,514.2h0.01M86.4,538.5h0.01M50.6,522.3h0.01M76.1,525.8h0.01M63.4,557.1h0.01M70.8,507.3h0.01M93.7,532.3h0.01M67.2,547.0h0.01M69.2,528.1h0.01M73.3,546.6h0.01M76.4,549.7h0.01M83.8,532.9h0.01M66.1,506.9h0.01M79.1,530.8h0.01M62.3,532.2h0.01M70.8,561.7h0.01M84.8,528.5h0.01M52.6,545.6h0.01M60.4,555.8h0.01M46.8,523.2h0.01M97.7,535.7h0.01M92.4,518.3h0.01M85.2,528.8h0.01M93.7,525.9h0.01M65.1,515.8h0.01M91.0,516.1h0.01M97.4,527.8h0.01M70.7,547.8h0.01M62.4,542.2h0.01M70.8,532.3h0.01M86.2,541.3h0.01M56.5,547.1h0.01M86.4,521.9h0.01M68.7,540.0h0.01M58.4,523.7h0.01M94.9,531.6h0.01M66.2,538.3h0.01M87.2,550.1h0.01M60.1,541.2h0.01M92.2,525.9h0.01M67.6,546.8h0.01M53.8,532.1h0.01M74.1,551.0h0.01M66.5,549.0h0.01M64.6,509.0h0.01M66.3,519.6h0.01M93.9,540.0h0.01M99.8,527.7h0.01M52.9,529.4h0.01M78.2,531.5h0.01M72.8,533.9h0.01M100.4,530.3h0.01M83.9,561.1h0.01M90.8,538.0h0.01M46.4,527.7h0.01M83.1,505.6h0.01M67.8,560.6h0.01M74.2,555.3h0.01M92.8,531.5h0.01M81.3,545.1h0.01" stroke="#fff" stroke-width="1.1" stroke-linecap="round" opacity="0.2"/></g>
<g transform="translate(385,0)"><use href="#umc" fill="#8a8a8e" fill-opacity="0.087" filter="url(#soft0)"/><path d="M72.8,544.0h0.01M68.0,535.3h0.01M59.7,514.8h0.01M64.4,528.2h0.01M83.0,566.8h0.01M56.3,529.9h0.01M62.7,556.1h0.01M95.7,529.1h0.01M80.5,544.5h0.01M64.1,527.2h0.01M60.1,527.7h0.01M78.6,552.0h0.01M49.9,520.0h0.01M68.5,548.2h0.01M91.4,518.5h0.01M91.2,512.1h0.01M94.8,540.9h0.01M59.2,536.1h0.01M83.7,533.5h0.01M85.9,563.5h0.01M79.1,561.5h0.01M93.2,514.7h0.01M77.8,550.8h0.01M81.3,548.4h0.01M48.3,529.0h0.01M63.0,556.0h0.01M87.6,524.5h0.01M59.9,530.5h0.01M87.1,507.9h0.01M88.5,527.7h0.01M92.0,517.3h0.01M94.0,522.3h0.01M70.2,502.0h0.01M96.0,525.0h0.01M85.2,558.6h0.01M76.3,517.6h0.01M90.0,544.6h0.01M55.0,525.9h0.01M73.0,540.4h0.01M54.5,525.8h0.01M56.4,539.9h0.01M81.0,509.7h0.01M80.3,525.7h0.01M46.5,528.0h0.01M93.6,514.7h0.01M75.7,515.8h0.01M47.0,522.1h0.01M74.7,517.1h0.01M98.6,522.6h0.01M68.8,560.6h0.01M82.9,573.3h0.01M49.5,534.3h0.01M94.9,525.1h0.01M86.0,548.7h0.01M71.1,501.1h0.01M78.9,510.8h0.01M68.2,509.7h0.01M86.4,518.6h0.01M79.1,528.5h0.01M84.4,567.2h0.01M71.2,529.7h0.01M58.4,515.3h0.01M65.0,541.9h0.01M95.5,532.9h0.01M48.4,527.0h0.01M55.9,539.2h0.01M64.2,550.1h0.01M86.0,518.1h0.01M81.7,509.4h0.01M55.0,541.0h0.01M73.0,515.0h0.01M57.7,528.9h0.01M69.9,561.2h0.01M52.7,554.1h0.01M82.3,573.4h0.01M66.0,533.6h0.01M71.8,511.5h0.01M64.8,513.3h0.01M64.9,550.6h0.01M69.6,501.4h0.01M57.5,552.8h0.01M85.8,514.8h0.01M92.1,524.0h0.01M79.2,504.6h0.01M55.5,541.5h0.01M85.5,537.9h0.01M49.0,549.8h0.01M89.2,521.2h0.01M61.0,514.2h0.01M69.1,535.7h0.01M87.9,518.6h0.01M57.0,531.8h0.01M56.5,549.4h0.01M94.7,523.3h0.01M47.4,526.2h0.01M54.1,516.4h0.01M75.4,555.2h0.01M94.9,540.4h0.01M77.9,527.7h0.01M72.7,540.3h0.01M76.8,523.6h0.01M71.8,551.7h0.01M64.0,514.3h0.01M84.4,533.2h0.01M74.8,545.7h0.01M54.1,525.9h0.01M72.1,504.0h0.01M64.1,521.7h0.01M80.6,527.3h0.01M49.6,523.3h0.01M53.3,545.6h0.01M60.6,533.1h0.01M55.9,528.6h0.01M82.7,552.5h0.01M53.0,523.1h0.01M64.7,509.3h0.01M66.6,514.1h0.01M64.9,515.7h0.01M51.1,517.1h0.01M79.5,543.0h0.01M96.2,539.0h0.01M88.4,527.0h0.01M82.8,520.2h0.01M81.8,540.7h0.01M86.0,511.7h0.01M80.2,569.4h0.01M89.4,550.5h0.01M85.6,521.7h0.01M46.6,528.4h0.01M70.3,502.5h0.01M49.2,531.2h0.01M57.2,520.9h0.01M81.1,523.1h0.01M63.6,541.9h0.01M74.1,536.6h0.01M54.8,547.8h0.01M79.6,567.6h0.01M55.1,535.2h0.01M51.6,534.7h0.01M54.4,520.6h0.01M80.3,566.4h0.01M74.1,533.1h0.01M57.9,546.9h0.01M58.4,524.4h0.01M88.2,515.4h0.01M46.8,527.2h0.01M61.9,513.3h0.01M77.6,513.9h0.01M93.1,542.4h0.01M50.2,552.5h0.01M70.4,511.8h0.01M67.6,526.5h0.01M69.7,506.2h0.01M64.4,527.0h0.01M55.6,532.1h0.01M77.6,509.5h0.01M67.1,539.0h0.01M72.1,516.2h0.01M68.8,519.7h0.01M70.0,518.0h0.01M68.9,501.5h0.01M100.5,522.3h0.01M87.9,523.1h0.01M76.5,523.0h0.01M65.9,527.7h0.01M83.8,533.4h0.01M52.0,534.0h0.01M58.0,529.3h0.01M88.5,531.3h0.01M62.7,523.0h0.01M66.7,515.4h0.01M88.8,544.2h0.01M77.2,551.6h0.01M57.6,537.9h0.01M81.9,576.9h0.01M59.8,517.7h0.01M75.6,504.2h0.01M60.8,524.6h0.01M90.9,547.4h0.01M70.7,523.3h0.01M58.3,551.5h0.01M68.3,547.2h0.01M60.8,542.7h0.01M95.1,536.1h0.01M64.3,526.5h0.01M95.3,513.9h0.01M61.7,556.3h0.01M55.6,547.5h0.01M50.7,554.6h0.01M92.2,536.8h0.01M74.1,563.2h0.01M101.5,523.5h0.01M82.4,566.0h0.01M68.6,558.6h0.01M86.1,514.2h0.01M91.4,555.4h0.01" stroke="#bbb" stroke-width="1.0" stroke-linecap="round" opacity="0.25"/><path d="M85.3,540.1h0.01M69.9,526.5h0.01M81.4,572.8h0.01M85.3,513.7h0.01M68.2,534.4h0.01M74.6,542.7h0.01M61.7,515.4h0.01M91.0,526.9h0.01M93.2,531.1h0.01M98.7,516.4h0.01M95.4,516.8h0.01M98.0,532.3h0.01M57.3,558.0h0.01M86.6,532.4h0.01M69.1,543.4h0.01M56.5,521.1h0.01M70.6,536.0h0.01M61.0,532.8h0.01M51.8,539.8h0.01M72.8,557.2h0.01M76.4,559.5h0.01M80.0,556.3h0.01M61.4,556.1h0.01M79.2,511.8h0.01M67.0,537.4h0.01M79.1,527.4h0.01M89.0,552.8h0.01M58.2,545.7h0.01M91.3,547.7h0.01M55.5,539.3h0.01M87.1,534.2h0.01M78.0,554.8h0.01M80.4,520.2h0.01M67.1,508.7h0.01M87.3,525.8h0.01M75.8,508.3h0.01M75.8,546.0h0.01M61.1,514.8h0.01M74.2,513.6h0.01M79.0,540.9h0.01M65.3,542.3h0.01M92.4,550.9h0.01M95.9,517.2h0.01M67.5,556.3h0.01M92.4,547.0h0.01M62.2,551.8h0.01M70.9,533.4h0.01M67.8,507.4h0.01M60.9,549.6h0.01M65.3,524.8h0.01M80.5,568.3h0.01M96.7,518.2h0.01M100.4,529.7h0.01M90.2,538.3h0.01M69.2,519.7h0.01M64.0,535.4h0.01M83.7,570.3h0.01M96.9,536.2h0.01M80.1,534.9h0.01M50.6,517.9h0.01M79.4,519.0h0.01M70.5,521.2h0.01M72.6,532.1h0.01M80.5,541.9h0.01M91.4,536.4h0.01M62.8,551.5h0.01M87.0,547.1h0.01M62.2,524.9h0.01M68.1,525.9h0.01M71.7,500.2h0.01M68.9,549.0h0.01M64.0,547.4h0.01M70.6,507.7h0.01M95.2,540.3h0.01M81.4,547.2h0.01M54.5,553.9h0.01M74.2,539.9h0.01M88.9,525.4h0.01M75.2,538.6h0.01M74.4,544.2h0.01M80.4,520.7h0.01M64.5,534.4h0.01M70.1,519.9h0.01M93.8,515.4h0.01M56.2,522.2h0.01M63.7,552.4h0.01M78.8,521.5h0.01M74.7,515.6h0.01M79.2,533.2h0.01M61.4,538.3h0.01M48.1,524.5h0.01M60.8,558.4h0.01M85.2,528.9h0.01M69.0,558.9h0.01M82.9,510.1h0.01M62.9,530.5h0.01M79.7,538.5h0.01M69.7,541.4h0.01M67.4,525.5h0.01M97.6,515.2h0.01M91.0,541.2h0.01M85.1,517.2h0.01M91.9,544.5h0.01M71.1,550.8h0.01M52.0,527.3h0.01M88.2,528.1h0.01M53.7,554.2h0.01M58.7,530.3h0.01M68.3,551.4h0.01M80.2,539.3h0.01M65.3,518.5h0.01M93.9,535.7h0.01M79.6,558.2h0.01M76.8,532.5h0.01M82.8,571.4h0.01M57.8,526.3h0.01M69.1,505.2h0.01M93.4,534.7h0.01M72.8,556.4h0.01M83.3,536.2h0.01M60.8,529.4h0.01M80.3,565.4h0.01M59.3,552.9h0.01M70.5,542.7h0.01M71.1,539.1h0.01M86.7,549.0h0.01M61.7,531.1h0.01M81.0,569.8h0.01M62.1,550.2h0.01M93.1,547.5h0.01M83.0,529.4h0.01M68.2,506.6h0.01M84.7,524.6h0.01M62.5,534.1h0.01M76.7,553.6h0.01M84.3,517.0h0.01M69.5,525.6h0.01M84.2,565.6h0.01M72.0,507.7h0.01M61.4,523.3h0.01M89.3,547.8h0.01M95.2,535.4h0.01M76.2,518.5h0.01M51.9,539.2h0.01M68.8,558.7h0.01M62.2,518.1h0.01M87.6,520.0h0.01M87.7,531.8h0.01M63.7,510.6h0.01M70.6,525.5h0.01M52.8,541.9h0.01M76.0,553.1h0.01M83.0,569.3h0.01M99.1,523.8h0.01M59.4,535.5h0.01M67.3,508.8h0.01M71.0,500.9h0.01M53.6,554.3h0.01M68.6,526.4h0.01M77.8,557.0h0.01M75.9,554.1h0.01M66.4,554.9h0.01M61.0,525.3h0.01M52.4,530.3h0.01M93.1,514.2h0.01M86.4,538.5h0.01M50.6,522.3h0.01M76.1,525.8h0.01M63.4,557.1h0.01M70.8,507.3h0.01M93.7,532.3h0.01M67.2,547.0h0.01M69.2,528.1h0.01M73.3,546.6h0.01M76.4,549.7h0.01M83.8,532.9h0.01M66.1,506.9h0.01M79.1,530.8h0.01M62.3,532.2h0.01M70.8,561.7h0.01M84.8,528.5h0.01M52.6,545.6h0.01M60.4,555.8h0.01M46.8,523.2h0.01M97.7,535.7h0.01M92.4,518.3h0.01M85.2,528.8h0.01M93.7,525.9h0.01M65.1,515.8h0.01M91.0,516.1h0.01M97.4,527.8h0.01M70.7,547.8h0.01M62.4,542.2h0.01M70.8,532.3h0.01M86.2,541.3h0.01M56.5,547.1h0.01M86.4,521.9h0.01M68.7,540.0h0.01M58.4,523.7h0.01M94.9,531.6h0.01M66.2,538.3h0.01M87.2,550.1h0.01M60.1,541.2h0.01M92.2,525.9h0.01M67.6,546.8h0.01M53.8,532.1h0.01M74.1,551.0h0.01M66.5,549.0h0.01M64.6,509.0h0.01M66.3,519.6h0.01M93.9,540.0h0.01M99.8,527.7h0.01M52.9,529.4h0.01M78.2,531.5h0.01M72.8,533.9h0.01M100.4,530.3h0.01M83.9,561.1h0.01M90.8,538.0h0.01M46.4,527.7h0.01M83.1,505.6h0.01M67.8,560.6h0.01M74.2,555.3h0.01M92.8,531.5h0.01M81.3,545.1h0.01" stroke="#fff" stroke-width="1.1" stroke-linecap="round" opacity="0.2"/></g>
<text x="153.40" y="482.60" font-size="9.3" text-anchor="middle" font-weight="normal" fill="#222" stroke="#222" stroke-width="0.18" >TIGIT</text>
<text x="228.80" y="482.60" font-size="9.3" text-anchor="middle" font-weight="normal" fill="#222" stroke="#222" stroke-width="0.18" >PD1</text>
<text x="305.00" y="482.60" font-size="9.3" text-anchor="middle" font-weight="normal" fill="#222" stroke="#222" stroke-width="0.18" >CTLA4</text>
<text x="381.90" y="482.60" font-size="9.3" text-anchor="middle" font-weight="normal" fill="#222" stroke="#222" stroke-width="0.18" >LAG3</text>
<text x="456.90" y="482.60" font-size="9.3" text-anchor="middle" font-weight="normal" fill="#222" stroke="#222" stroke-width="0.18" >TIM3</text>
<rect x="500" y="511.7" width="11.3" height="57.1" fill="url(#cbar)"/>
<text x="506.20" y="509.30" font-size="7.6" text-anchor="middle" font-weight="normal" fill="#222" stroke="#222" stroke-width="0.18" >High</text>
<text x="505.80" y="586.20" font-size="7.6" text-anchor="middle" font-weight="normal" fill="#222" stroke="#222" stroke-width="0.18" >Low</text>
<path d="M31.3,557V575.6H50" stroke="#111" stroke-width="1.3" fill="none"/>
<path d="M28.8,558.3L31.3,552.7L33.8,558.3Z M49,573.1L54.9,575.6L49,578.1Z" fill="#111"/>
<text x="0" y="0" font-size="8.6" font-weight="bold" fill="#333" text-anchor="middle" transform="translate(24.9,563.3) rotate(-90) scale(0.7,1)">UMAP2</text>
<text x="0" y="0" font-size="8.6" font-weight="bold" fill="#333" text-anchor="middle" transform="translate(43.6,586.8) scale(0.7,1)">UMAP1</text>
<circle cx="234" cy="586.5" r="2.3" fill="#7cc9cb"/>
<text x="239.20" y="589.10" font-size="7.6" text-anchor="start" font-weight="normal" fill="#222" stroke="#222" stroke-width="0.18" >TEM</text>
<circle cx="266.9" cy="586.5" r="2.3" fill="#8797d6"/>
<text x="272.50" y="589.10" font-size="7.6" text-anchor="start" font-weight="normal" fill="#222" stroke="#222" stroke-width="0.18" >TEMRA</text>
</svg><div class="frame"></div></body></html>
